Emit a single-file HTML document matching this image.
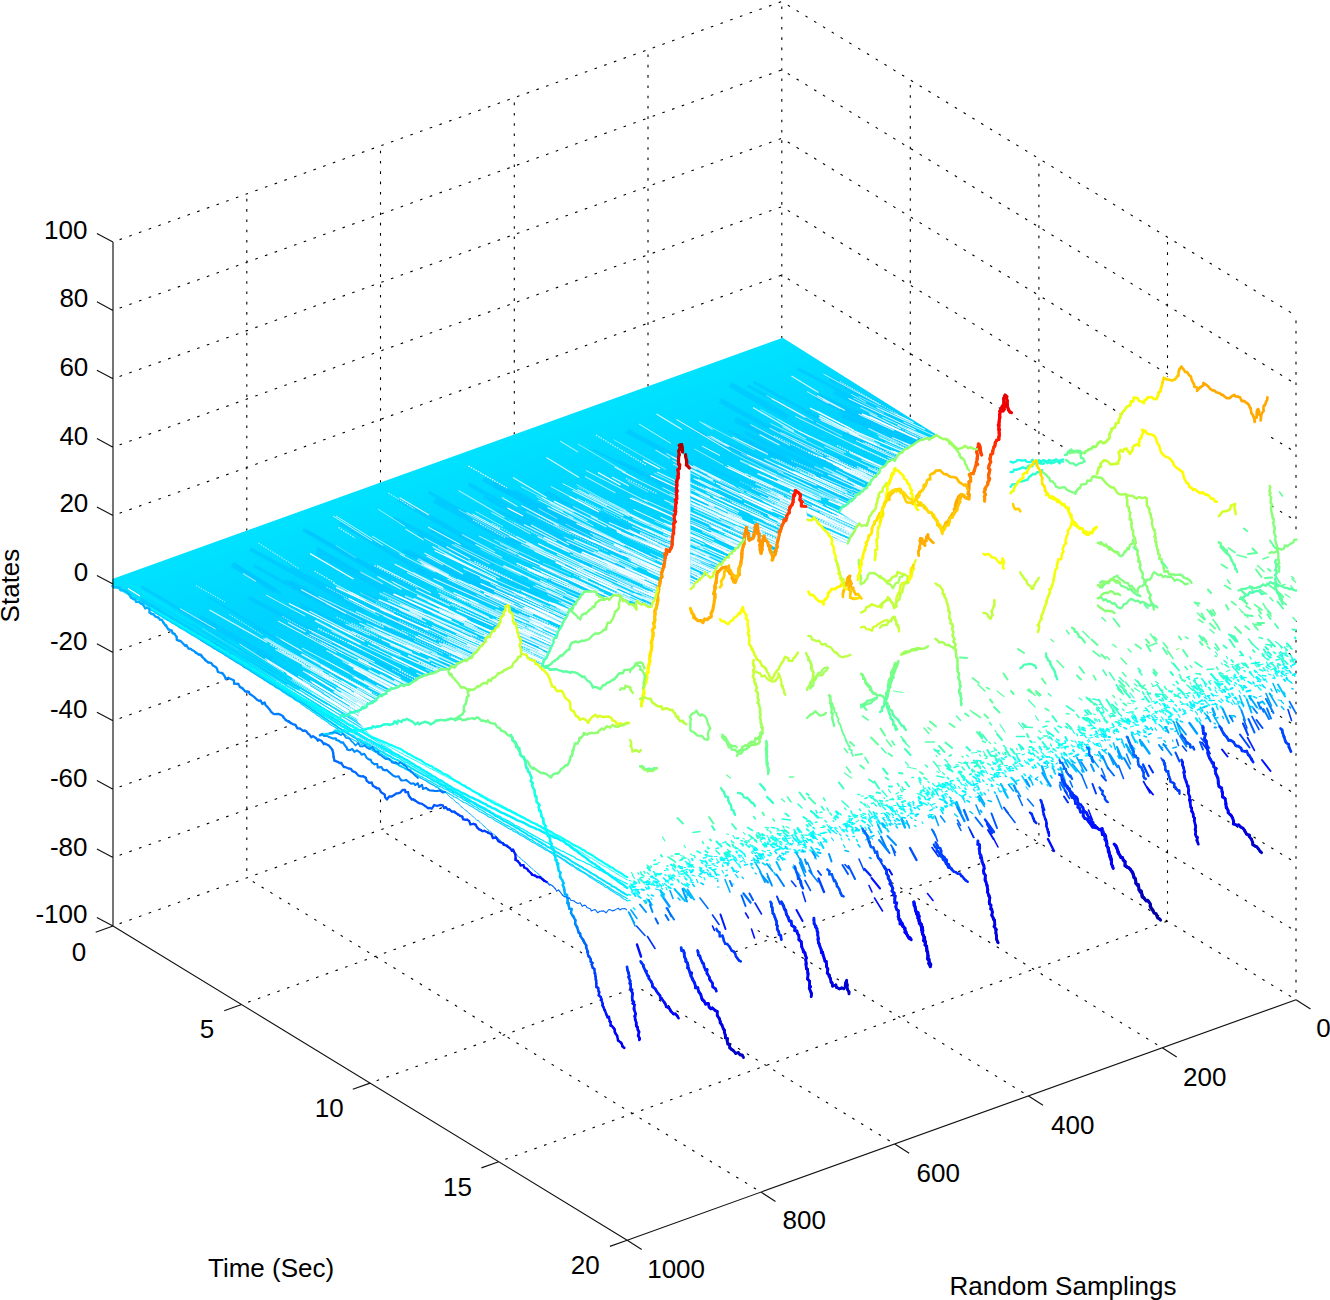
<!DOCTYPE html>
<html><head><meta charset="utf-8"><style>
html,body{margin:0;padding:0;background:#fff;}
svg{display:block;}
</style></head><body>
<svg width="1330" height="1300" viewBox="0 0 1330 1300">
<rect width="1330" height="1300" fill="#fff"/>
<path d="M113 926L781.8 685.5 M113 857.6L781.8 617.1 M113 789.2L781.8 548.7 M113 720.8L781.8 480.3 M113 652.4L781.8 411.9 M113 584L781.8 343.5 M113 515.6L781.8 275.1 M113 447.2L781.8 206.7 M113 378.8L781.8 138.3 M113 310.4L781.8 69.9 M113 242L781.8 1.5 M246.8 877.9L246.8 193.9 M380.5 829.8L380.5 145.8 M514.3 781.7L514.3 97.7 M648 733.6L648 49.6 M781.8 685.5L781.8 1.5 M781.8 685.5L1296 999.7 M781.8 617.1L1296 931.3 M781.8 548.7L1296 862.9 M781.8 480.3L1296 794.5 M781.8 411.9L1296 726.1 M781.8 343.5L1296 657.7 M781.8 275.1L1296 589.3 M781.8 206.7L1296 520.9 M781.8 138.3L1296 452.5 M781.8 69.9L1296 384.1 M781.8 1.5L1296 315.7 M910.3 764L910.3 80 M1038.9 842.6L1038.9 158.6 M1167.5 921.1L1167.5 237.1 M1296 999.7L1296 315.7 M241.6 1004.5L910.3 764 M370.1 1083.1L1038.9 842.6 M498.7 1161.7L1167.5 921.1 M246.8 877.9L761 1192.1 M380.5 829.8L894.7 1144 M514.3 781.7L1028.5 1095.9 M648 733.6L1162.2 1047.8" fill="none" stroke="#000" stroke-width="1.1" stroke-dasharray="2.6 7.7" stroke-dashoffset="-7"/>
<polygon points="112.3,579 782.7,337.8 937,435 946,439 957.7,449 965.4,447 977.9,443.5 981,447 990,455 994,445 998,439 1000,410 1004.8,395 1007.7,395 1011.5,412.7 1012,461 1040,459 1069,452 1090,448 1107,440 1118,421 1130,404 1147,396 1164,379 1181,367 1198,389 1222,393 1248,404 1258,408 1267.4,397 1270,480 1270,537 1300,537 1300,619 1296,621 1270,700 1240,745 1200,770 1167,778 1120,790 1060,812 1000,835 940,860 900,875 860,895 800,915 745,935 735,950 700,975 660,990 628,988 605,985 590,962 580,934 569,906 547,882 513,851 476,826 440,804 423,806 388,798 346,767 330,747 302,730 273,713 233,681 194,651 171,631 140,604 112.3,586" fill="#fff"/>
<defs><clipPath id="sc"><polygon points="112.3,579 782.7,337.8 937,435 919.7,441 903.1,451.2 893.9,459.5 884.6,465.1 875.4,476.2 866.2,487.2 856.9,494.6 851.4,500.2 845.8,503.9 838.5,511.3 852,520 858.8,524.2 852.3,536.2 847.7,543.6 835.4,540 823,527.7 813.8,518.5 807.7,520 805.8,506.5 796,490 788.5,512.3 782.7,525.8 778.8,535.4 775,554.6 773,560.4 769.2,545 763.5,537.3 761.5,554.6 759.6,539.2 756.7,523.8 753.8,539.2 750,541.2 746.2,527.7 744.2,535.4 744.2,539.2 734.6,550.8 715.4,568 690.4,587.3 690.4,468 686.5,464.2 685.6,454.6 682.7,454.6 681.7,444 679.8,445 678.8,468.1 676.9,487.3 675,516.2 673.1,537.3 671.2,548.8 666.3,550.8 663.5,566.2 660,583 656.2,596.9 652.3,604.6 646.2,606.2 638.5,600 633.8,609.2 627.7,604.6 620,597 613.8,595.4 603,597 595.4,592.3 587.7,590.8 580,596.9 570.8,609.2 561.5,624.6 553.8,640 544.6,660 541.5,664.6 530,660 521.5,652.3 516.9,624.6 507.7,604.6 500,621.5 494.7,629.5 480,646.3 469.5,659 448.4,669.5 435.8,671.6 406.3,684.2 385.3,692.6 360,709.5 357,721 375,740 392,750 394,759 112.3,585.5"/></clipPath><linearGradient id="sg" gradientUnits="userSpaceOnUse" x1="447" y1="458" x2="478" y2="545"><stop offset="0" stop-color="#00e2ff"/><stop offset="1" stop-color="#00d2ff"/></linearGradient></defs>
<polygon points="112.3,579 782.7,337.8 937,435 919.7,441 903.1,451.2 893.9,459.5 884.6,465.1 875.4,476.2 866.2,487.2 856.9,494.6 851.4,500.2 845.8,503.9 838.5,511.3 852,520 858.8,524.2 852.3,536.2 847.7,543.6 835.4,540 823,527.7 813.8,518.5 807.7,520 805.8,506.5 796,490 788.5,512.3 782.7,525.8 778.8,535.4 775,554.6 773,560.4 769.2,545 763.5,537.3 761.5,554.6 759.6,539.2 756.7,523.8 753.8,539.2 750,541.2 746.2,527.7 744.2,535.4 744.2,539.2 734.6,550.8 715.4,568 690.4,587.3 690.4,468 686.5,464.2 685.6,454.6 682.7,454.6 681.7,444 679.8,445 678.8,468.1 676.9,487.3 675,516.2 673.1,537.3 671.2,548.8 666.3,550.8 663.5,566.2 660,583 656.2,596.9 652.3,604.6 646.2,606.2 638.5,600 633.8,609.2 627.7,604.6 620,597 613.8,595.4 603,597 595.4,592.3 587.7,590.8 580,596.9 570.8,609.2 561.5,624.6 553.8,640 544.6,660 541.5,664.6 530,660 521.5,652.3 516.9,624.6 507.7,604.6 500,621.5 494.7,629.5 480,646.3 469.5,659 448.4,669.5 435.8,671.6 406.3,684.2 385.3,692.6 360,709.5 357,721 375,740 392,750 394,759 112.3,585.5" fill="url(#sg)"/>
<g fill="none" clip-path="url(#sc)"><path d="M402.5 550.5l103.5 47.5M393.5 518l87.5 45.5M525 691l132 60M327.5 638.5l118 57.5M534.5 708l83 36M468.5 484l100.5 56.5M836.5 457.5l107.5 49.5M470 617.5l106.5 44.5M447.5 627.5l126 53.5M336 606l63.5 29M303 529.5l77.5 45M418.5 534l119.5 61.5M744.5 432l42 22.5M363.5 594l60.5 27M367.5 602.5l69.5 30M673.5 600.5l92 39M250 549l113.5 61.5M832.5 553l72.5 32.5M860.5 412.5l133 59M1119.5 556.5l57 25.5M672 566l43 19M238 648.5l39.5 24.5M612 608.5l122 54M475 604l41.5 18.5M749.5 610.5l101 46.5M446 785.5l106 64.5M649 782l132.5 56M842 415.5l98 42M468 613l78 37M920.5 550l127.5 61M561.5 689l70 32M302 591l59.5 31.5M525.5 668.5l126 58.5M789 437l67 30.5M430 757l120 71M875 418.5l52 22.5M830 609l52 22M340 523l84.5 49.5M960 483.5l59.5 26M834 392l45 23M400 634l129 54.5M926 669l43.5 19M1146 594l78.5 34.5M618.5 461.5l121 57.5M580.5 770.5l96.5 44M489 810l76 48M900 492l57.5 24M753.5 437l61 29.5M639 632.5l82 38M947.5 598l85.5 37M248.5 597.5l80 42M850 529.5l46 21M1018.5 494l75 35.5M140.5 599.5l52 32M508.5 680l98.5 42.5M444.5 724l120 66M927.5 630.5l110 48M934 633l83 38M802 678l101.5 43M726 675l74 34.5M650 593.5l118.5 51M612 563.5l127 55M775 739l117 54.5M511.5 700l51.5 22.5M307.5 681l110 66.5M733.5 552.5l54.5 25M934 631l106 48.5M853.5 573.5l65.5 29M723 624.5l121 54.5M522 750l116.5 58.5M998.5 593.5l86.5 38M720.5 486.5l65 28.5M602.5 523l64 27.5M351 691.5l52.5 30M830.5 672l41.5 19.5M767 618.5l122.5 54" stroke="#00c6ff" stroke-width="4" stroke-opacity="0.7"/><path d="M208.5 597l77 46.5M701.5 529l95 40M547.5 594.5l50.5 23.5M254 626.5l54.5 30.5M186.5 628.5l47.5 29M711 469l91 40.5M742.5 423l51 27M430.5 558l71 34.5M592 780l95 45.5M869.5 634.5l49 23M356.5 559l90.5 44M468.5 755.5l63.5 34M593 449.5l109.5 56M744 487l97 41M688.5 479l127.5 57.5M537.5 609.5l68.5 28.5M611.5 620l77.5 34M804 717l122 57.5M670.5 546l62.5 28.5M564 692.5l130.5 56.5M420 558l130.5 60.5M239.5 659.5l69 44M974.5 583.5l45.5 19M1133.5 571l137 60M530 547l114.5 55M579 736.5l94.5 40M586.5 791l132.5 65.5M804.5 412l115 56M931 517l96 45.5M739.5 439l70 33.5M1113.5 602l52 22.5M207 640.5l106 68M523.5 604l78.5 37M1068.5 535l50.5 24M478.5 563l82.5 36M551 760.5l102 46" stroke="#00c6ff" stroke-width="2" stroke-opacity="0.7"/><path d="M797.5 368.5l120 62.5M548.5 556l117 54M719.5 581.5l124.5 58M828.5 385l78.5 42M285 580l44.5 25M845.5 675l118.5 56M546.5 579.5l125 59.5M955.5 531l55.5 24.5M483.5 496.5l49 27M980.5 554l66.5 29M854.5 536l116.5 51M798.5 712.5l134.5 64.5M553 758l133.5 64.5M466.5 631.5l53 25.5M692.5 429l93.5 46.5M302 631.5l43 23M381 663.5l125.5 64.5M254 565.5l57.5 32.5M749.5 480l89.5 38.5M712.5 537.5l75.5 32M1035.5 601.5l106 46.5M505 633.5l56.5 25M542 520l90.5 38.5M345 667.5l44.5 22.5M972.5 530l111 52M872.5 669l106 49M794.5 600l49 21M573.5 691l107 49M1060 630.5l85 37M324 710.5l79.5 48M798 460.5l131.5 57.5M671 506.5l45.5 21.5M634 759.5l137 61.5M290.5 567.5l72.5 37.5M651.5 616l44.5 21M998.5 528l71 30M821.5 537l60 29M766.5 451l61.5 29.5M949 663l55.5 24.5M721 524.5l77.5 34M843.5 433l112 53M984 582l100 44M317 548l42 24.5M389 690l106 56M669.5 682l60.5 26.5M753.5 382l66.5 36.5M771.5 599.5l62.5 27.5M364 605l98.5 45M264 669l100.5 59M609.5 630.5l103.5 44.5M937.5 441l59.5 27.5M917 659.5l49.5 22.5M394 685l114.5 62M443.5 709.5l91.5 47M428.5 492l96 54M662 691.5l56 26.5M728.5 430.5l87 45.5M503.5 652l72.5 30.5M607 781l105 51M696.5 431l90 46.5M1041 506.5l78.5 36.5M540.5 730.5l45.5 21.5M945.5 677.5l97 45M142 587l71 42M497 510.5l131 59.5M307 531l98.5 56M734.5 544.5l130.5 60.5M747.5 385.5l89 48.5M809.5 526l112.5 50.5M858 412.5l127 53.5M580 716l131.5 61M233.5 563.5l47.5 30M885.5 603.5l47.5 21.5M390 620.5l83 34.5M614.5 749.5l49.5 23.5M689.5 711l65.5 31M782 647.5l113 52M414 658l115.5 52.5M787.5 696.5l64.5 27.5M932.5 628l56.5 24.5M552.5 640.5l56.5 25M704.5 542l105 50M600 802l74.5 35.5M565.5 518.5l118.5 52.5M542 765l73 38M1024 522.5l65.5 28M929 649l116 54.5" stroke="#00c6ff" stroke-width="3" stroke-opacity="0.7"/><path d="M765.5 686.5l132 59.5M446 748l97.5 58M1038.5 531l90.5 41M520.5 798l109.5 65M1061 636.5l122.5 57.5M1063 580l87 40M446 732.5l123 68.5M516.5 520.5l117.5 52M933.5 454.5l79 37.5M290 582l53.5 29.5M545 492l40.5 23M850 692.5l82 39M666.5 634.5l89.5 40.5M641 613l86 41M442 662l132 56M977.5 665.5l73.5 34.5M515 678.5l91.5 42.5M514.5 732l103 46M677 588.5l120.5 56.5M199.5 617l72 41.5M608.5 566l87 40M482 586l123 52M627 431l107.5 57.5M697 760.5l53.5 24M282 687l121 76M957 657l110.5 50.5M537.5 534.5l64 31.5M519.5 613l107.5 46.5M853.5 410.5l74.5 36M689.5 759.5l101 44M825.5 699l58.5 27.5M679.5 695.5l49 21M652 642.5l105 49M992 476.5l62.5 29.5M829.5 378.5l83.5 45.5M1009 500l131 58M560.5 654.5l75.5 34M900 463.5l127.5 58.5M546 744.5l62.5 28.5M377.5 719l109 61M483.5 479l99 52.5M816 396.5l121 61M825.5 686.5l54.5 23.5M300.5 606l98.5 47.5M1032.5 568.5l111.5 47M289 623l43.5 23M731.5 679l92 40M845.5 460l63.5 30.5M854.5 587l135 61M232 564.5l42.5 26M999 595l128.5 54M486.5 790l112 67.5M662.5 510l51.5 22M548 710.5l90 38.5M494 764.5l103.5 58M406 551l121.5 57.5M983 635l82.5 37M498.5 546l109.5 52M585.5 669.5l50.5 22.5M513.5 491.5l93.5 49M843.5 415l107.5 47.5M398.5 499l77 44.5M592 511.5l134 59.5M720 400.5l116 63.5M722 442.5l126.5 58" stroke="#00c6ff" stroke-width="5" stroke-opacity="0.7"/><path d="M440.5 689l43 20.5M256 653l61.5 38M664.5 623.5l128.5 57.5M844.5 530l94.5 44M1087.5 610.5l66 30M316 552l101.5 55M514.5 729l105 46.5M494 484.5l131.5 69.5M438.5 745.5l79 43M883.5 495l74 33M1156.5 597.5l94.5 41M955 633.5l79 35M594 705.5l60.5 28M656.5 581l86.5 37M816 395l118.5 57M735 419.5l128 63M543 515l75.5 38M578.5 562l69.5 32M511 631.5l133 61M1078.5 591l110.5 53M434.5 500l83.5 45.5M447.5 583l41 19M754 524.5l69 30M521.5 506l66.5 34M431.5 529.5l62.5 34M748 443l135.5 61M475.5 767.5l40 23M416 569.5l102 43M600 698l77 34M730 384.5l58 33M873.5 624l78.5 35M368 715l53 32M467 571.5l62.5 29M666.5 644l104.5 46.5M591.5 724.5l75 32.5M800.5 554.5l113 50" stroke="#00c6ff" stroke-width="6" stroke-opacity="0.7"/><path d="M1048 713l162 73.5M1001.5 666.5l85 40.5M989 647.5l60 27.5M603 715.5l112 50.5M615.5 690l65.5 31M691 632.5l42.5 20M615.5 678l77 36.5M923 760.5l145 64.5M498 795l78 44.5M652.5 681.5l115.5 54.5M906.5 783l100.5 42.5M1098 558.5l34.5 15M318 628.5l44 21M860 501l49 21.5M1112 586.5l70.5 30M1035.5 749l131 59M648.5 628.5l36.5 17.5M497.5 663l53 23.5M453 683.5l30.5 14M1184.5 681.5l60 28.5M1016 592.5l112 52M771.5 720l53 24.5M657.5 774.5l88.5 40M1086.5 666.5l77 36M898 734.5l72 32.5M960 646.5l50 22.5M437 737.5l31.5 17M568 859.5l89.5 56.5M963 668l124 58M989.5 595.5l99 43.5M832 797l123 52.5M756 530l29 12.5M857 466.5l34.5 16.5M708 858l139.5 71.5M656 683.5l56.5 25M734 776l74.5 32.5M564.5 735l28 13M545 655.5l28 12.5M1117 584l119 50.5M1015 739l90 42.5M567.5 797l62.5 32M720 838.5l49 22.5M1088 694.5l116 55M624.5 706l47.5 21.5M1048 678.5l97.5 45M468.5 466l38.5 22M523 599l26 12.5M691.5 841l162.5 78M858 764.5l91 40M1023 585l39.5 18.5M854.5 596.5l56.5 27M731 671l125 55M439 756.5l88 50M976 698.5l117 50M978.5 595.5l122.5 58M694.5 686l29.5 14.5M837 445.5l36 17M585 537l47.5 22M834 529.5l48 21M808.5 452.5l54.5 23M853 772l68.5 30.5M398.5 756.5l79 46.5M767.5 682l49 22M1142 686.5l122 58M499.5 643l32.5 14.5M845.5 748.5l54 23M631.5 747l92 41M900 723.5l115 51M909 607.5l33 15M758 736.5l140.5 63M1245 627.5l73 31.5M270.5 644.5l69.5 38.5M373.5 687.5l44.5 25.5M418.5 662l22 10.5" stroke="#fff" stroke-width="1.2" stroke-dasharray="1.5 1.2"/><path d="M917 610l114 50M593.5 552l82.5 38M303 671l30.5 18.5M1038.5 559.5l89 41M930.5 574l55 24M726 586.5l35 16.5M837.5 462l29 12.5M754 730.5l127.5 60.5M1109 668l39.5 18M650.5 716.5l88 42M601.5 638l84 37M918 754.5l103 49.5M717 622.5l41 18.5M850 655l80.5 36.5M663.5 806.5l120 52M722 822l46.5 22M1092 553l54 23M605 759.5l43 18.5M606.5 695l71.5 33M926 784l57 26.5M1093.5 574l108.5 50.5M400 604l26.5 11M674.5 654.5l76.5 35M569.5 684.5l37.5 16M475 624l84.5 36.5M802 540l54 26M719 864.5l117.5 59.5M594 728l65.5 30.5M735.5 526l59 25.5M541.5 718l43 20M963 589.5l32.5 14.5M722.5 616.5l91.5 38.5M892 515.5l93 41.5M435 604.5l34.5 16.5M1090.5 661l59.5 25.5M657 472l53 25M722.5 636l68.5 29.5M856.5 804l147.5 68M789.5 744.5l54 25.5M371 702l85.5 49M263.5 638.5l65 37.5M724.5 552l94.5 40.5M432.5 546.5l40 22M759.5 850.5l68 32.5M645.5 807l106 47.5M901 654.5l51 24M622.5 646l82 35.5M1024 658l134 64M971.5 481l56 24.5M988.5 558l106 49.5M622 670l83.5 37.5M878.5 788l158 72.5M326.5 650.5l74.5 39M695 581.5l33 14.5M1101 542.5l44 20.5M955 453.5l69 29.5M449 757.5l56.5 33.5M1030.5 727.5l62.5 28.5M758.5 648.5l53.5 24M1025.5 625.5l72 31.5M826.5 519l89.5 40M827.5 721l54.5 26M579 584l44 18.5M477 677l46 20M556 676.5l63 27.5M566.5 541l49 22M431.5 627l46.5 21M706.5 649.5l115 53M1082.5 696.5l75.5 34M573 598.5l33.5 16M1004.5 627l129.5 60.5M919 508l42 19M763.5 600.5l74.5 32M755.5 817l52.5 22.5M432 620l42.5 19.5M1140.5 641.5l94 40.5M724.5 846.5l147.5 62M887.5 538.5l103.5 49.5M495.5 609.5l31 13.5M936.5 693l124.5 55M710.5 436l18.5 10.5M1228.5 664l136.5 59M802.5 639l103 45M668.5 776l113.5 51M852 717l48.5 21M573 658.5l26 12M970.5 737.5l153.5 69M1126.5 602l35.5 16M1095.5 620.5l112 51M592.5 761l62.5 29.5M884.5 636l36.5 17.5M650.5 865.5l83 47.5M399 609.5l27 12.5M692 697.5l105.5 49.5M903 543.5l40.5 17.5M759.5 785l86.5 37.5M456.5 723.5l32.5 17M595.5 876.5l48 29M1044 562.5l108.5 51.5M1058.5 644l62 29.5M940.5 579.5l60 25.5M657.5 832.5l125.5 64M507.5 623.5l42 20.5M903.5 485l68.5 32.5M447 742.5l94.5 50.5M838 543l76.5 36.5M863 675l95.5 44M632 663.5l101.5 44M953.5 469l95.5 42.5M816 700.5l67.5 31.5M516 713l49.5 23M671.5 456.5l49.5 24M798.5 776.5l127 58.5M426 628l80 38M725.5 542l80 37.5M680 599l31.5 14.5M672 663.5l37.5 16.5M808 546l83 38M722 572.5l54 25M494 665.5l64.5 27M963.5 515l33 15.5M1058.5 700.5l44 20.5M663 640l102 47.5M1009.5 580l70.5 33M644 563l70.5 30.5M708.5 505.5l23 10.5M860 754.5l89.5 42.5M1103.5 722.5l106 49.5M911.5 477l37.5 17M934 703l86 37M980.5 534l59 25M877 613l47.5 20M1183 606.5l147.5 65.5M465 737l51 26.5M749.5 632.5l76 36M704 678.5l94.5 42.5M1010 529l85.5 38.5M943 443l86 40.5M693.5 478.5l18.5 9.5M546.5 457.5l32.5 20M533.5 758l68 32M719 578l28 13M732.5 813.5l155 69M500 683.5l92 42M583 567.5l54.5 25M839 467.5l50 21.5M938.5 723.5l82 35.5M1054.5 698l64 29M359.5 623l79 35.5M820.5 743l58 26M806.5 594.5l106 48M863 671l38.5 18M707 710.5l118.5 51.5M512 738.5l60 28M475 632l80 35.5M897 641.5l99.5 47M1052 591.5l111 53M1200.5 617l147.5 66M648.5 591l33 14M1157 701.5l132 59M1196.5 640l99.5 46M862 683l97.5 43M881.5 641l30.5 13.5M864.5 572.5l55 24.5M1160.5 660l132.5 61.5M438 669.5l76 36M1055 618.5l96 42M956 545.5l71 30.5M872.5 605.5l106.5 45M764.5 459l41 19.5M681 461l15.5 8.5M1063.5 532.5l84.5 40.5M773 540l72.5 32.5M982 748l123 52M931.5 690l111 51M473.5 786l46 27.5M936.5 516.5l82.5 39.5M892.5 603l59 25.5M843.5 817.5l44 18.5M532.5 674.5l81.5 36M721 521.5l60 26M409 753l107 64.5M759.5 641.5l44 19.5M1133 712l85.5 41M1070.5 541l87 40M1052.5 607.5l137 60.5M1211 628l141.5 63M388 600l42.5 19.5M818 752l144.5 68.5M451 694.5l89.5 42M837.5 673.5l103 48.5M689.5 809l82.5 38.5M864.5 796l121 57.5M433 622l42.5 19M426 744l45 27.5M1025.5 682.5l62.5 29.5M645 836.5l149.5 79M888.5 588.5l73.5 33.5M487.5 720l100.5 45.5M617.5 582.5l81.5 38M998 670l35.5 16M686 625l40 19M829.5 567.5l83.5 39.5M784 653l75 33M680.5 752l37 16M1160.5 684.5l43.5 20M940.5 475l68 31.5M806.5 596.5l62 29.5M796.5 505.5l40 17.5M886.5 633.5l72.5 34M748.5 642l79.5 36M1062 651l137.5 63.5M824 561.5l42 18.5M1115 688l57 25M847 798l59.5 28M624.5 823.5l105.5 51M869.5 597.5l70 31.5M878.5 436.5l64 29.5M683.5 619l56.5 27M466.5 690l61 27.5M501.5 650.5l69.5 29.5M522.5 608l25.5 12M1116.5 611l75.5 35.5M569.5 816.5l69.5 39M486.5 810.5l45.5 27.5M524 524.5l32.5 16.5M450 719l49.5 26.5M984 687.5l116 52M653 687l87.5 37M840.5 588l113.5 54M623.5 731l35.5 15.5M897.5 425l31.5 15M516.5 536.5l27 14M979.5 608.5l35 15.5M1183.5 629.5l150.5 68M1041 570l62.5 27.5M910 762l128 57M309.5 611l46.5 24M869.5 413.5l30.5 15M849 808l49.5 23.5M826.5 816.5l61 28M901 788.5l98 44.5M509.5 536l70.5 34.5M663.5 553l61 29M134 598.5l46 29M547.5 507.5l59 28.5M494 717.5l88 41M1088 546.5l67 29M569.5 682l59 26.5M819 645l91 39M1097 597l98.5 43M883 607.5l98 44M802 778l130 61.5M1013 636.5l52.5 23.5M503 752l66 35.5M909.5 736l45.5 21M653.5 672.5l65.5 31.5M607 563.5l47 22M367 691.5l36 19.5M677 612l54.5 24M281.5 689l26 16M901.5 498l50.5 22M948.5 635l51.5 24.5M705.5 865.5l80.5 42.5M972.5 637l104 49M911 534.5l26.5 12.5M1119 677l78.5 35.5M527.5 632l93 39.5M980 650l36.5 15.5M884 703l62.5 27M332.5 641.5l68 36.5M456 634l32.5 14M376.5 685l21.5 11.5M658.5 627l59 25.5M938 518l27 12.5M1100.5 662l47.5 22.5M874.5 721.5l50.5 22M265 658.5l45 27.5M681.5 843.5l48.5 24M488 791.5l84 51M945 538.5l79.5 35.5M951 599.5l110 51M705 556l29.5 14M748 583l94 40M440 703l27 14M832.5 582.5l33 14M804 568l90 42.5M833.5 603l65.5 31M1075 622.5l42.5 20.5M458.5 716.5l66 33M723.5 775l56.5 25M515.5 757l92.5 45.5M1041 718.5l72 34M882.5 762l61.5 28.5M819 790l122.5 58M928 495.5l43 20M1191 653.5l150 66M630 754l106 47.5M462 726l38 20M990 724l133.5 62.5M991 690l135 57M828 475l69.5 31.5M599.5 742.5l123.5 52M706 834.5l131.5 59M417.5 682.5l67 34.5M781 756l151 64M940 636l98.5 44.5M1031 733l47.5 22M777.5 780.5l39.5 19M822 538.5l101.5 44.5M643 787l140 62M389 754.5l98.5 58.5M1098.5 580l82 34.5M532 710l72.5 34M889 464.5l29 12M755.5 483.5l28.5 13M648.5 622l35 15M809.5 693l99.5 42M561.5 567l26.5 12.5M1033 752l68.5 33M989.5 570l86 38.5M737.5 804l72 31.5M520 689l38 17M409.5 611l54 24M854 485.5l47.5 22M632 671.5l83 39M1053 597l71 30M1127.5 601l101 47M685.5 553.5l25 10.5M1027 602l102.5 44.5M724.5 822.5l137.5 59.5M406.5 711l39 21.5M974 753l153.5 68.5M503 821.5l63.5 38M591 874.5l105 62.5M876.5 407.5l48.5 22M998 714l145.5 62M900 581l80.5 37.5M687.5 498l75 34.5M964 638.5l79.5 35M1002.5 720.5l133 58M377.5 576.5l24 13M647 570.5l41 19M1093 575.5l54.5 24.5M1127.5 593l70.5 32M754.5 523l21 10M662.5 633l85.5 39M915.5 511l69 31M1051.5 593l128 56.5M783.5 575l100.5 47.5M760.5 647l46.5 20.5M1013 675l51 22.5M440.5 784.5l60 36.5M566.5 703.5l83.5 39M672.5 575.5l85 37M732 809l58 25M755 770.5l43.5 18.5M788 689.5l68.5 31M635 639.5l92 41.5M683.5 605.5l94 43.5M612 477l17 9M794.5 763l75.5 35.5M522.5 756l90 45M684 806l86.5 37M682 773l33.5 15M835.5 672.5l107 46.5M869.5 708l46 19.5M794 705l60.5 26.5M1048 632.5l129.5 60M753 762l61 28M486 747l74.5 40.5M1128 581l87.5 41M921 652l99 46M898 798l131.5 60.5M901 646.5l92.5 40.5M731 828.5l158.5 69.5M646.5 720l128 54.5M1090 643.5l135.5 60M461.5 718l68 33.5M416 731.5l72 43M599 769l73.5 32M1065.5 595.5l88.5 39M678 600l63.5 27.5M759.5 434.5l20 10.5M901 695.5l61.5 27M875 624l42.5 19.5M1158 643l55.5 25.5M1009 653.5l109 51.5M1066.5 598.5l117.5 53M898.5 453.5l65 31M588.5 634.5l95 44M982.5 540.5l87 39M678.5 691.5l86.5 39M684 739.5l74.5 33.5M876.5 502.5l36.5 17M880.5 702l106 47.5M573 747l98.5 44.5M763.5 520.5l34.5 14.5M943.5 479.5l37 17.5M601 603l44 20M826.5 796l50.5 22M643.5 542l52.5 22.5M737 584l64 27M770.5 806l158 68M682.5 853.5l75 38M983.5 655l130.5 55.5M703 726.5l61.5 28M794 548.5l25.5 12M767 755l63 29.5M541 690.5l51 24.5M646.5 635l25 10.5M845 466l59 28M609 847.5l86 49M750.5 514l75 34.5M674 530l30.5 14.5M1238 628l40.5 18M368.5 687l28 14.5M747 455l69.5 30.5M412 754.5l30.5 19M496.5 753.5l86.5 45M787.5 700.5l78.5 33.5M1210.5 619l100.5 43.5M972.5 509.5l60.5 29M458 666l69.5 30M753 407.5l41 24M897 716.5l66.5 28M1118.5 675.5l46.5 22M473.5 774l29 17M1039.5 666l52 24.5M571.5 763l126 57M1227.5 674.5l81 37.5M664 523l62.5 26.5M789 757.5l117 49.5M1185 654l45.5 22M682.5 479.5l38 17.5M791.5 501.5l86 39M509 826.5l64.5 40M725 577l92 43M554 612l59 25M996 597l47 22.5M765.5 663.5l113.5 54M376 720.5l30 18.5M659.5 743.5l86 38.5M543 732.5l33.5 14M780.5 523.5l48 22M612.5 740l93 44M1110.5 654l135 58.5M726 810.5l74.5 35.5M853 524.5l61.5 28M791.5 663l114.5 50M611 569l35.5 15M931.5 578.5l46 20.5M630 763.5l81.5 35M1003 740l51 22M941.5 473.5l39 18M945 659l88.5 37.5M1120 586.5l122.5 52.5M724.5 534l68 31.5M827 630l48 21.5M598 552l21 9M838 503.5l47.5 22M891 450.5l36 16.5M920.5 647.5l111 49M788.5 501.5l47.5 20M1143.5 594l142 61.5M1022 723.5l161 68.5M881.5 753l154.5 73M517 640l98 44.5M628.5 521.5l50.5 22.5M301 589.5l45 24M725 781l112.5 50.5M572.5 744.5l47.5 21.5M910 656l65 27.5M854 623.5l52.5 23M749 465l72 33M746.5 813.5l114 51.5M834 817.5l158.5 73M940 591l51.5 23.5M828.5 783l101 47.5M592.5 708l87.5 42M1134.5 593l44 19.5M511.5 799l111 64M658.5 632l51.5 23M793.5 812l147.5 67M499 625.5l52.5 22.5M902 499.5l83.5 35.5M434.5 760.5l85 51M654.5 629l43 20.5M891.5 545.5l32 15M356 611.5l35.5 16.5M462 716l59 30M944.5 767l56.5 26M858 657.5l125.5 59.5M645.5 567l63 28.5M414 598.5l51 22.5M539.5 804l120.5 67M1030.5 633.5l129 59M606 660l67 29.5M642.5 698.5l35.5 15M933.5 537l77.5 33M978.5 501l25.5 11.5M702 783.5l53 22.5M770 773l114 50M803 739.5l38.5 17.5M751 477l53 23.5M638 535l68.5 33M817 395.5l28 15M821.5 530.5l89 40M920.5 558.5l41 18.5M1278.5 654.5l49.5 23M724.5 692l73 32.5M910 785l101 47.5M522 746.5l76.5 39M569.5 531l53 24M653.5 717.5l92 43.5M710.5 743l56.5 24M774 745.5l120.5 51.5M1214.5 658.5l119.5 54M930.5 615l103 46M878.5 781l72 32M649.5 644l89 37.5M598 733l111 50M868 802l141.5 65M1013.5 691.5l62 28.5M413 721l96.5 55.5M688.5 655.5l66.5 31.5M1018.5 703.5l124 57M1024.5 586l98 46M487.5 807l96.5 58M1053 726.5l115.5 52M630.5 637.5l80 37.5M613.5 713l33.5 16M550.5 639l91.5 42.5M1127.5 679.5l122 52M974.5 720.5l80.5 34.5M357 688l73 39M1027 620l139.5 62M550.5 831l131.5 75.5M538 755.5l63.5 33M790.5 767.5l153.5 66M994 492.5l91.5 43M753.5 614.5l70.5 33M896 593l101 45M656.5 414l25.5 15.5M662 866l93.5 52M833 756l98.5 42M664.5 500l20.5 9.5M416.5 673l27 12.5M783.5 744.5l65.5 27.5M1128 710l80.5 34.5M1007 686.5l132.5 59M915 659l78 33M377 748l41.5 25M1179 599l137 64M843 588.5l102.5 45M568 758l68 30M275.5 649.5l75.5 41.5M799 494.5l24 10.5M433.5 578.5l65.5 29M1034 567.5l78.5 37.5M599 758l75.5 34.5M819 725l44 20.5M849.5 452l33 14.5M827.5 577.5l62 27M1074 734.5l60.5 26M1151.5 596.5l104 44M584.5 644.5l100 48M872 620.5l110 50.5M722.5 527l22.5 10M974.5 618l55.5 25M893 565l73.5 34.5M1124 576l116 52M919.5 586.5l78.5 37M645.5 787.5l95.5 42M831.5 742l35.5 16.5M771.5 398.5l34 19M907 534l40 18.5M726 735l68.5 31M572.5 490.5l51 25.5M755 736.5l112 51.5M1162 581l98 45.5M758 834.5l152 70.5M628.5 692l34 16M639 840.5l149.5 80M776.5 654.5l113 53.5M1121 582.5l86 37M966.5 747.5l122.5 58.5M682 663.5l69 32M724.5 657.5l114 53.5M507 817.5l53 32M709.5 525.5l49.5 23M549 843l45 27.5M682.5 555l39 18M791.5 376l27 16.5M858 468.5l35 16M421.5 714.5l53 29.5M424 565l31.5 16M797 541l44 21.5M701 871l128 63M519 761l46.5 24M728.5 660l42 20M1077.5 547l123.5 53M636.5 880l92.5 52.5M856 782.5l81 39M1061.5 644l107 48M554 501l52.5 26M988.5 720l91 40M784.5 621l45 19.5M668.5 665.5l44 19M1173 596l136 62.5M578 760.5l60.5 27.5M590 706l83 39.5M1073.5 655l148 63M571 718l69 33M1206 674.5l104 48M771.5 788l151 71M863 552.5l29.5 13.5M785 647.5l51 22.5M418 699l58 31.5M877 739.5l52 22M1166 692l143.5 60.5M738 539.5l24.5 10.5M949 771l56.5 27M685.5 785.5l93 42.5M612.5 611.5l32.5 15.5M416 589.5l34 16.5M941.5 450.5l26 11.5M509.5 808.5l72.5 42M1002.5 740l130.5 56M987.5 703l133.5 56.5M922 671l70 31.5M561.5 602l31.5 13.5M1085.5 721l119 52M1083 716l67 30M896.5 757l109 51M773 837.5l71 31M992 582.5l117 55M826.5 457l50 23M603.5 687.5l95 44M668.5 721l131.5 55M725 639l40 18M843 558.5l53 25M603.5 560l66.5 30M438.5 593l50.5 24.5M805 778.5l45.5 20.5M986 697l134.5 62M1080 673l60.5 26M840.5 599l96.5 42M336 707l45.5 27M892 437.5l25.5 10.5M900.5 542l60.5 27M568 685l66.5 32M617 592.5l81 35.5M900 775l128 54M1125.5 620l61.5 29.5M858.5 414l35.5 16.5M696.5 800l112.5 54M864 794l167.5 74.5M470.5 675l53 25M999.5 650l114.5 53M532.5 789.5l122 69.5M674.5 498.5l45.5 20M805.5 712l66 31.5M935 523.5l78.5 37M774.5 804.5l97.5 46M1045.5 707l95.5 41.5M1072 652.5l68.5 30M565.5 605.5l71 33.5M993.5 619.5l46.5 20.5M667 859l140 70M614 653l33.5 15.5M576 761.5l59.5 26M920 519.5l57 25.5M1016.5 696l144 68M503 566l52.5 23.5M892 656l70.5 30.5M689 493l37 17M394.5 564l49 24.5M823 823l99 47M209.5 610l57.5 32.5M962 509.5l66.5 29.5M1067 673l70 32M1122.5 574.5l54 24.5M1062.5 680l143.5 65.5M888 671.5l40.5 17.5M1108 717l69 32.5M819.5 568.5l101 44M526 543l57.5 26M732.5 835.5l84.5 39M717 515.5l71 30.5M1081.5 640l148 66M1206.5 623.5l78 34M551.5 580.5l70 30M671 717l72 33M619 553l26.5 11M720.5 486.5l52.5 25.5M610.5 554.5l28 12.5M461.5 666l64.5 28.5M707.5 608l95.5 44.5M845 494l46 21.5M848 589l100.5 46M973 734.5l154.5 68.5M794.5 754.5l81 36.5M422.5 681l34.5 17M1223.5 658l81 35.5M888 535.5l40.5 18M1164 638.5l123.5 57M1124 554.5l62.5 28M598 682.5l67.5 29.5M424.5 553l38.5 21M815 617.5l111.5 52.5M592.5 701.5l59 26.5M732.5 437l35.5 17.5M566 723l85 40M620.5 729l35.5 16M1208.5 669l76.5 33M624.5 850l114.5 67M759 765.5l71.5 34M1138 675l161.5 75.5M823 399.5l17.5 9M850.5 751l114 53.5M909.5 767.5l147.5 63M591 516.5l30 15M1127 572.5l92.5 40M773.5 613.5l40 19M525 682l39 18.5M660 879l106.5 60.5M579.5 861.5l57 36M401.5 690l74 39M840 551l104.5 44.5M792.5 510l79 37M454 670l76.5 33.5M928 716l104.5 47M623.5 703l74 34M1074 522l52 23M547 643l73 34M763 595l102.5 48M443 643.5l61.5 28M1041 678l34.5 16M425 677l53 24.5M638 851l62 32M666 635.5l85.5 41M745 588l79 34.5M710.5 704l82.5 36M632 752l45 21.5M947 518l94.5 40.5M707 768.5l76.5 36M1163.5 695l97 43.5M733.5 796l135.5 61.5M595.5 842.5l83 48.5M605 606.5l88.5 41.5M679.5 625l95.5 41.5M688 810l152 69M712 690.5l107 46.5M874.5 758l155.5 73.5M423.5 698l51.5 25M474.5 768.5l56.5 31M1181 603.5l69.5 32.5M844.5 588.5l30 14.5M966.5 582l91.5 38.5M1155.5 632l106.5 48M877.5 608.5l101.5 49M1151 635l120 54M684.5 548.5l39.5 17.5M676 674l107.5 47M575.5 723l48.5 20.5M648 789.5l53 25M965 707l59.5 27.5M1137 653l61.5 29M944.5 465.5l29.5 13M1029.5 665l113 51.5M819.5 587l62 28.5M288 622.5l17.5 9.5M1277 656l114.5 52M609 522.5l77 33.5M817 411l36.5 19.5M466 792.5l64.5 41M901.5 579l113 53.5M628 617l80.5 34M895 493.5l86.5 37.5M820.5 420l27 12.5M1076.5 607l115 53M983 518.5l93 41M518.5 555.5l68.5 30M802.5 731l100 44M326.5 706l38.5 23.5M703 840.5l40 17.5M447.5 636.5l89.5 42M521.5 505.5l37 20M593 705l75.5 35M620 572l36 17M533.5 623l51 23M1114.5 616.5l47.5 22M506 712.5l91.5 41.5M933 439l26.5 12M955 498l53.5 25M1055.5 672.5l148.5 62.5M371.5 643l48 21M746 691l85 40.5M459.5 756.5l73 42M902 442l19.5 9M653.5 600l98 42M953.5 763l76 34.5M728 513.5l78.5 36.5M354 717.5l57.5 36M1022 675.5l54 24.5M524 764.5l81 39.5M621 859l54.5 31.5M919 516l87 40.5M599.5 712.5l111.5 52M1052.5 569l113.5 48M615.5 726l87 37.5M975.5 752l131 56.5M908.5 545.5l37 15.5M693.5 722.5l69.5 32.5M749.5 714l90.5 41.5M578.5 695.5l43 20.5M551 717l86.5 39M778.5 798l132 59.5M795.5 675l32 13.5M1061.5 515.5l54.5 24M1111 697l157.5 72.5M537.5 625l35.5 17M1021.5 742l85 38.5M1065.5 625.5l41 17M961.5 619l53.5 25.5M943.5 546l112 51M604 718.5l43 19.5M992.5 616l56 25.5M446.5 546.5l23.5 12.5M1046 638.5l57.5 25M880.5 644.5l117.5 55.5M916.5 485.5l33 14.5M816 733l124 59.5M843.5 552l101 47M1219.5 658l154 70M513 823.5l75.5 47M399.5 497.5l29.5 17.5M1167.5 650l104 50M534.5 551l19.5 9M493.5 697l59 26.5M567 747l35 16M686.5 514l36 16M349.5 706l89 53M462 748.5l115.5 63M1040 625.5l126.5 57.5M754.5 572l89.5 38M1123 554l60.5 26M1110.5 561l98 42.5M707 775l136.5 62.5M967.5 676l50 23.5M620.5 658.5l77.5 36.5M897 508l89 39.5M1158 612l62.5 29M680 810.5l69.5 31M934 605.5l50.5 24M747 544.5l53.5 23M744 694l50.5 23M447.5 579l62 29M695 491l44 21M766 761.5l140.5 61M562.5 761l86.5 38.5M585 787l102.5 53.5M767 665l44.5 19M600.5 785l75 34M643 816l102.5 49.5M544.5 849l126.5 79M1019.5 530.5l105.5 50M1113.5 584.5l53 24M1057.5 651.5l74 33M629.5 674l54.5 24.5M457.5 579.5l57 24.5M1224 639.5l162 69.5M1111.5 704l78.5 33.5M1065.5 586.5l61 28.5M879.5 516.5l61.5 29M1149.5 662l92 43M828 661l35 15M1215.5 657l77.5 34.5M682 666.5l101.5 46M474 639.5l38 18M827 735.5l70.5 32.5M887 570.5l83 35.5M537.5 691.5l73.5 31.5M874 487.5l31 13M542 497.5l45.5 23.5M602 640.5l61.5 27.5M718 612.5l43 18.5M848.5 631l36.5 17M522 652l53 23.5M747.5 604.5l56 23.5M466.5 721.5l79.5 40.5M557 858.5l75.5 48M1218 660.5l83.5 39.5M821 647.5l82 36M826.5 787l61 25.5M955.5 693.5l122.5 56M1028 619l57.5 26.5M954.5 559l84.5 36.5M1096 724l134 63.5M557 554.5l38.5 18M682.5 668.5l83 36.5M902 795l89 41M748.5 804.5l124 56.5M597.5 591.5l52.5 24.5M562 697l86.5 39M498.5 803l122.5 74.5M593.5 623l48 22M599 587l54 22.5M899.5 478l43 19M513 477.5l33.5 20M948 586.5l98.5 42.5M852.5 636.5l89 39.5M763.5 576l79.5 34.5M875.5 680l115.5 50M914 552l88.5 38.5M786.5 528.5l84.5 37.5M638.5 891l159 99M657 747.5l123.5 57.5M503.5 631l67.5 28.5M531 525l38 20M647.5 627.5l56.5 25.5M652 768.5l138 58.5M537.5 536.5l32.5 16M530 675.5l89.5 41M753 580.5l74.5 31.5M658.5 644l83.5 38M635 623l27.5 12M579.5 713.5l38 17M628.5 529.5l23.5 11.5M692.5 647.5l64 27.5M913 583.5l81.5 37.5M787 817l127.5 60.5M942.5 455.5l35 15.5M1179 672.5l99 45M1000 520.5l47 22M651 603.5l31.5 13.5M616.5 784.5l68.5 32M757 788.5l79 33.5M822.5 764.5l125.5 56M577.5 489.5l52 27" stroke="#fff" stroke-width="1.2" stroke-opacity="0.8"/><path d="M479.5 673.5l67.5 32M969.5 735l38 17M542 648l53 24.5M1006.5 606.5l67 28.5M950 745l68.5 30.5M579.5 645l28 13M672.5 561.5l27 12M428.5 770l52.5 33M1096 618.5l104.5 46.5M754.5 558.5l27 12M551.5 714l106.5 50.5M720 692l64.5 28.5M943 657l35.5 16.5M598.5 679l77 34M1242.5 675l109.5 48M1001 566l36 15.5M738.5 821l111.5 53.5M954 754l161 75.5M980.5 719l96.5 46M833 730.5l75 32M777.5 495.5l47 23M1043 609.5l103.5 48.5M716 483l56 26M511 823.5l123 78.5M1073.5 522l43.5 20.5M794.5 765l105 48.5M331.5 625l33 16.5M598 472.5l22.5 12.5M733 590.5l73.5 32.5M495.5 700l39 18M1139.5 618.5l120.5 52M875.5 692l50 23.5M658 854l144.5 76.5M961.5 769l106 47.5M641 562.5l80.5 35.5M790.5 567.5l42 19.5M770.5 807.5l145.5 69.5M793 642.5l39.5 18.5M1146 709.5l43 20M1126 667.5l108 47.5M787.5 499.5l39 18M989 719l67.5 31M825 759l102.5 45M1147 578.5l123 55M402 746l40.5 25.5M616.5 893.5l130.5 82M553 636.5l77.5 36.5M697 575.5l33 16M553 683.5l51.5 23.5M1288.5 660l73.5 33.5M722 633l38 16M989 492.5l101.5 46.5M1004.5 621l43 20.5M643 460l17 9M715 770.5l103 48M1084 560l71.5 32.5M1013.5 601.5l113.5 50.5M812.5 582.5l108.5 47.5M565.5 593.5l36 16M873 656l88.5 42.5M558 638l100 48M480 698l72.5 33.5M506 773l101.5 58M771 813l74 33.5M647.5 578l54.5 26.5M453.5 592.5l25 11M652.5 593l45.5 20M567 815.5l62 36M1158.5 576.5l51 23M728 467.5l21 10M631 744l57.5 27.5M1219 628.5l81.5 36.5M865.5 757l96 40.5M562 690.5l76 33.5M334.5 708.5l65 39.5M819.5 415.5l39 20M948.5 766.5l91.5 40M1246 669.5l113.5 48M789 808l107 45.5M1010.5 677.5l86.5 36.5M830 767.5l120.5 54.5M563 832.5l41.5 23.5M460.5 762.5l91.5 55M543 820.5l74 41.5M608.5 752.5l41 18.5M1000.5 588l66.5 30.5M516.5 563l26.5 12.5M378 633.5l78.5 33.5M1022.5 661l64 29.5M765 791.5l145 64.5M512 591l31 15M706 488.5l18.5 9M971 711.5l96.5 45.5M904.5 774.5l159.5 68M660 658l52.5 23.5M719.5 813.5l59.5 27M634.5 846.5l118.5 65.5M1140 565.5l52 24.5M590.5 650.5l73.5 34.5M607 792l68.5 31M778.5 645.5l49 23.5M1152.5 572l54 25.5M960.5 496.5l61 26.5M289 603.5l63.5 31.5M697.5 840.5l76 33.5M1008 493l72.5 34M1150 659l158.5 75.5M672.5 873l78.5 44M743 498l26.5 12.5M768 497.5l38.5 17M989 501.5l92.5 41.5M1048.5 682.5l145 61.5M555.5 712l96.5 43M861 726l52 24.5M890.5 594l100 46M587 676l60.5 29.5M1141 570.5l119.5 57M811 511.5l70 32M689.5 606.5l51 22.5M983 636.5l77.5 34.5M415.5 636.5l63 29M523.5 775.5l124 65.5M544.5 695l49.5 22.5M780 500l41.5 18M883 730l56.5 24.5M1168 677l129.5 57M698 589l39.5 17.5M522.5 651.5l38.5 16.5M940 680.5l141 67M719.5 743l118 53.5M852 430l68.5 29M1060 538l109 52M616 650.5l92 43M728 765.5l69.5 30.5M769.5 517l60 27M608 733l122.5 58M1176 621l66 30M1002.5 489.5l92 40M940.5 597.5l92.5 43.5M680.5 576.5l69.5 31.5M900 522.5l26 12M547.5 792.5l135 70.5M601.5 797.5l38 19.5M784 652.5l70 30M634 533l24 10.5M892.5 511.5l68 32M1087.5 592l115.5 49M550.5 744.5l77.5 35M922.5 680l69 30M810 408l43.5 22M1035.5 507.5l48.5 20.5M511.5 637l31 14M1033.5 562l58.5 25.5M681.5 581l41 19M1105 567l117.5 52M920.5 509.5l84 36M521.5 591l75.5 33M939.5 634.5l66.5 31.5M746.5 823l115.5 51M1104.5 709.5l99 44M798 560.5l31.5 14M898.5 773.5l47.5 23M829 581.5l110.5 52M1062.5 703l51.5 25M751.5 501.5l57.5 25.5M479 792.5l32 20M900 590l70.5 33.5M713 743l43 19M588 591l58 25.5M477 645.5l50.5 24M489 757l31.5 17.5M984.5 468.5l64.5 28M979.5 577.5l55.5 25M616.5 636l82.5 35M1023 698l151.5 65M671 684l115 51M447.5 599l54 25.5M639.5 778.5l97 44.5M969 630l118 52M1079 629.5l96 41.5M682 690l54.5 24M795 790.5l52.5 22.5M807.5 669.5l51 22.5M954 602l108.5 47.5M887.5 577l86 39M688.5 589l94.5 44.5M1119 709l102 47.5M330 677l41.5 23M529 628l30 13.5M960 567.5l116.5 55.5M768 515.5l25.5 12.5M990 753l155 67M951 706.5l146 62M926 597l64.5 28.5M593.5 589.5l88.5 40M510.5 664l99.5 44.5M613.5 667.5l82.5 38M387 728.5l50 28.5M1168 601.5l38.5 18M1082 537.5l94 44M567 772l97 49.5M474 758l39.5 20.5M606 843.5l138.5 80.5M461 761.5l97 55.5M738.5 786l152.5 71M595.5 714.5l27.5 13M437.5 700.5l71.5 34M813.5 544.5l33.5 14M902.5 483.5l73.5 32M662.5 548.5l27 12.5M811.5 501.5l24 11M614 545l75.5 35M970 583l94.5 45M833 464l79.5 38M1090 692.5l98.5 43.5M631 831l74.5 37.5M649.5 621l105 48.5M850.5 558.5l33 14.5M504 644.5l86.5 39M501.5 779l110 62M1017 494.5l57.5 25.5M1030.5 608.5l40 17.5M1065 582l110 50.5M600 628.5l65.5 30.5M1117 641.5l104 48.5M434.5 550.5l62.5 30M783.5 754l46.5 20M336 587.5l66.5 31M1070 700l75 32.5M843.5 599.5l103 49M762.5 565l45 21M513.5 689.5l72.5 33M664 532l27 11.5M662 529l38.5 16.5M999 619l90.5 41M1022 727.5l105 46.5M899 462.5l55.5 25.5M465.5 691.5l24.5 11.5M1161 593l58.5 25.5M463.5 759l96.5 53.5M834 623l95 41M385.5 752l25 15M702.5 766.5l71 32.5M763 504l47.5 20.5M576.5 569.5l41 19.5M593.5 737l76 32.5M1019 581l48 21.5M802.5 745l142 60.5M1141 657.5l120 51M1126 667l118.5 55.5M754 691.5l62.5 29.5M705 663l50 23M941 693l136 57.5M1018 592l62 28M406.5 702.5l88 46.5M808 549.5l36.5 17M748 622.5l70.5 30.5M708 717.5l33 14M872.5 626l72.5 31M837.5 515.5l74.5 34M1018.5 748l113.5 53M696 771l102.5 44.5M940 475.5l93.5 39.5M872 641.5l62 26.5M1046.5 575l58.5 28M1138.5 562.5l71.5 30M918.5 727.5l92.5 41.5M926.5 725l102.5 47M540 566l53.5 25M456.5 610l37 16M581 553.5l70 31M793.5 523.5l86 40M641 541l29 13.5M609.5 712l67 28.5M713 496.5l64 28.5M1106 656.5l143 64M828.5 668l110.5 52M1171.5 634l60.5 27.5M1020.5 656.5l104.5 45M1010 644.5l124.5 57.5M410.5 709.5l98 55M310 553.5l43.5 25.5M844.5 747l148.5 70M1073 713.5l45 20.5M697 741.5l75.5 33.5M507.5 508l15.5 8M820 457l61.5 28M572 690l61.5 29.5M992.5 487.5l93 40.5M992 655.5l125.5 55M688.5 676.5l72 32M519.5 722l112 50M697 717.5l91.5 41M920 527.5l89.5 39.5M601.5 878.5l94 59.5M792 634.5l77 35M758 679l30 13M1014 750.5l92 44M773 622.5l59 27M604 660l88 37.5M779 778.5l80 34.5M782.5 647l71 32M971 683l130.5 55M777.5 624l59 27M349 598.5l26.5 13.5M402.5 731.5l49.5 29M679 490l35 16.5M658 870.5l154.5 86M608.5 683l109 48.5M902 721.5l77.5 35.5M523 784l65.5 35.5M495 751l94 51.5M1067.5 673.5l61.5 27.5M887.5 733l77.5 36M651 866.5l67.5 39.5M847 689l110.5 48M976.5 522.5l63.5 28M1141 635l50.5 23.5M593 593.5l69 29M576.5 686.5l97 41.5M844.5 743l59.5 25.5M569 810.5l50.5 28.5M529.5 792.5l42 24M590 568l41 19M717 758l117.5 54.5M881 541l74 33M932 576.5l32 15M650.5 475.5l54 25M1156.5 666.5l63 27.5M744.5 626.5l82.5 38M944.5 691.5l49.5 22M738 736.5l134.5 59.5M1005 540l70 31.5M987.5 623.5l115.5 54M798 597.5l108.5 52M742 579l70.5 30M674.5 528.5l72.5 32M743 475l30 13M636 645l89 42.5M1080 532l46.5 20.5M1103.5 709l105 48M404.5 695l29 15.5M638.5 658.5l64.5 30M768.5 543l91.5 41M715.5 672.5l43 18.5M1016 627.5l138.5 60M748 831.5l126.5 58M322.5 675.5l36 20.5M967.5 770.5l46 21.5M740.5 493.5l50 23M594.5 800l128 66.5M488.5 743l82.5 44M576 678l48 23M865.5 633.5l87.5 40.5M529.5 622l95.5 42M859 506l89.5 42.5M791.5 505l36 15M820 747l70.5 30M987.5 546.5l55.5 23.5M704.5 695.5l107.5 50.5M583.5 789.5l43.5 21.5M988 682.5l51.5 23.5M735 517.5l57.5 24.5M576.5 523.5l48 22M128 588.5l12 7.5M665 770.5l69 30M1255.5 647.5l155 70.5M903 699.5l88 38.5M694.5 576.5l30.5 13.5M911.5 702.5l46.5 21.5M911.5 616l90.5 40M923 625l84 37M968.5 573.5l64 29M678.5 668.5l85 39.5M1250 672l143 64.5M638.5 672l54.5 25.5M834 772.5l92 42.5M706 786.5l52 23M1155 626l102 45M462 698.5l59 27M918 524.5l60 29M908 606.5l31.5 13M815 778l142 61M914 649.5l69 32M642 849l87 49M267 660.5l55 33.5M879 578l90.5 38.5M902.5 733l129.5 56.5M870.5 692.5l55 23.5M494 694.5l95 41.5M704.5 804.5l101.5 47M542 627.5l22.5 10M654.5 628.5l72.5 31.5M1036.5 619.5l67.5 29M380.5 695l86.5 48.5M1086.5 630.5l118 54.5M1024.5 514l71.5 30.5M1009 564.5l101 46.5M947.5 732.5l110.5 53M1081.5 591.5l40 18.5M660.5 565.5l90.5 38.5M541 571.5l27.5 12M415 687.5l29.5 14.5M583.5 645l87.5 40M890 742l68 28.5M1086 704.5l152 71M422 746l69 38.5M426 761l42 24.5M883.5 721.5l106 49.5M855 719.5l132.5 57.5M790 716.5l117.5 52.5M1043.5 718.5l111 48.5M658.5 857.5l49.5 25.5M811 546.5l61.5 26M675.5 662l38.5 17M691 802.5l47 21M1018 497l38 17M621.5 823l65.5 34.5M868 557l28.5 12.5M1059.5 523l94.5 40M1100 582.5l99 42M606.5 677.5l95 41M782 681.5l89 42M485.5 759.5l87 48M613 788l91 40M980 597.5l106.5 46M701.5 699l85 37M977 549.5l32.5 14M543.5 635l80 34.5M630 498l59 26M762 784.5l52.5 22M778.5 656l39.5 18M869.5 492.5l64 27.5M897 465l35.5 16M480.5 583.5l74.5 32.5M531 706l28 13M835.5 724l40 18.5M1178 671l93 39.5M801 613l26 11.5M544 769.5l96.5 47.5M916 584l35 15M593.5 757.5l50 23M382 639.5l30 13M1064 717.5l127 57M901 487.5l66.5 28M1206.5 678l128.5 58.5M767 616l51 23M535.5 776.5l79 41.5M666.5 845.5l53.5 26.5M780 608.5l80 35M1051.5 657.5l99.5 46.5M494.5 791.5l78.5 47.5M538 543.5l70 33M755.5 786.5l62 27.5M754.5 611.5l97.5 46.5M1038 575l110 46.5M347.5 711.5l49.5 28.5M1117.5 712.5l39.5 18M416 678l73.5 34.5M799.5 823.5l83 39.5M839 650.5l116 52.5M451 656.5l38 18M651.5 749.5l121 52.5M895 722l122 54M1015.5 649l51.5 23M552 821l33 19.5M575 778.5l42.5 20.5M901 726.5l124.5 54.5M1099 589l100 43.5M653 591l54.5 24.5M900 698l90 38M401 741.5l91 55M569.5 496.5l29.5 15.5M690.5 675.5l64.5 28M289.5 694.5l21 12.5M923 498.5l57 27M981 717l104.5 48.5M655.5 856l82.5 43.5M540 580.5l26 12.5M595 878.5l137 86.5M1123.5 602.5l77.5 33.5M849 817.5l76 33M791.5 586l37.5 16.5M832 584.5l30 13.5M832.5 654l84 38M571.5 675l89 40M606 767.5l71 30M909 663.5l80 35M365 731.5l140 85.5M598.5 858l65 39.5M362.5 728l129.5 80.5M569.5 848l86 52.5M333.5 691.5l95.5 59.5M414.5 759.5l160.5 98.5M529.5 823.5l113.5 69M544 831l112 69.5M513 817l137.5 85M335 712l136.5 83M418 761.5l192.5 117.5M353.5 729.5l137.5 85M392 734.5l178 108.5M360 734l113.5 68.5M576 848.5l83 51M594 859l67 39.5M309.5 674.5l149 92M549 812.5l94 57.5M566.5 832.5l104 62.5M373.5 728.5l69.5 41.5M462 777.5l84.5 52.5M309 702l184 113.5M507 803l128.5 77.5M413.5 759l86 54M580 837l76.5 46M526.5 807.5l144.5 87.5M439.5 778.5l135.5 83M406.5 731.5l112 68.5M338 685.5l181.5 111M428.5 749l146 90M420.5 735l77 46.5M605 877.5l43 25.5M476.5 796l116.5 70.5M415 757l202.5 124M381 724.5l164.5 99.5M461.5 798l174 105M432.5 751l147 91.5M490 781l72.5 44.5M573 852.5l79.5 49M338.5 722l156.5 95M377 741l159.5 97M497 806l113 69.5M406 735l68.5 42.5M396.5 728.5l105 64.5" stroke="#fff" stroke-width="1.2"/><path d="M615.5 699l103 43.5M698.5 669.5l113 47.5M688 768l139 64.5M1150 655.5l91.5 39M664 641.5l37 17.5M392 657l68 32.5M763.5 602.5l74.5 33M798.5 631l115 50.5M932 549l104 48M528 823l62.5 36.5M822.5 589.5l55.5 24.5M651 748l114.5 50M954 723l144.5 64M473 800.5l81.5 49.5M680 838.5l49 22.5M695.5 707l67.5 30.5M729.5 785l135.5 58.5M630 606l72.5 34.5M912 786.5l160.5 75M428 601l20 8.5M526.5 730.5l65.5 31.5M801.5 819.5l92.5 41.5M471.5 795l63 40M662 720l46 19.5M610.5 778.5l52.5 23.5M715.5 687.5l104.5 45.5M828.5 788.5l39.5 17.5M995.5 487.5l44 19.5M998 524.5l51 22.5M939.5 779.5l89 39M761 612l108.5 51.5M373 734.5l99 60M760 769l71 32.5M332 719l96.5 56.5M607 866.5l138.5 84.5M893.5 451.5l41 17.5M825 735.5l118 52M767.5 729.5l85.5 38M807 779l48.5 20.5M794 740l70.5 33.5M664 658l89.5 42M718 592.5l73 32M1137 624l83 35M954 483.5l63 30M1073 635l115 52M393.5 594l58 26M412.5 715.5l83.5 45.5M690.5 778l86 41M776 823l92.5 40.5M728 733l128.5 55M756.5 637l100 45M902.5 590l54.5 23.5M828.5 500.5l87.5 37M506 812.5l63 36.5M1015.5 497.5l58 26M1182.5 595.5l107 47M980.5 613.5l102.5 45M535 792l125 71M653.5 545.5l27.5 13M975.5 522l103 46M529.5 617.5l39 17M801.5 622.5l55 26M905 705.5l51 24.5M469.5 682l75 35M630 855l38 20.5M883 764l114 53M824 688l136.5 59M1027.5 624.5l98 42M931.5 453l57 24.5M459.5 753.5l97 54.5M720 811l85.5 40M911 659.5l107 51M579.5 718l72.5 32M764 696.5l76.5 34M534.5 701.5l27 12M892 466.5l52.5 23M484 715l104 48M585 680.5l48.5 22.5M1097 637l44 19.5M897 601l75.5 36M893 713.5l89 38.5M804.5 614.5l62 27M586 686.5l42 20.5M387 721.5l81.5 45M963.5 654l53.5 25.5M775 573l90.5 42M1195 663l101 44.5M1096.5 553.5l115 53.5M636.5 783l48 21.5M1103.5 655.5l122 56.5M968 753l46.5 19.5M720.5 844l41.5 17.5M935.5 746.5l118 50.5M690.5 675.5l75.5 34M691 763l85.5 41M409.5 764l85 52M999 764l47.5 22.5M344.5 721l52.5 32.5M946 766.5l83 36M418.5 714l40 21.5M963 632l105 44.5M1140 685l86.5 40.5M813 813.5l155.5 74M560 838l102.5 61.5M858 661.5l118.5 55.5M321 665.5l50.5 27.5M711.5 526.5l69 30.5M998 562.5l120.5 53M677.5 693l61.5 27M867.5 582l56 24.5M1014.5 594l37 16.5M436.5 712.5l80.5 39.5M687.5 826l37.5 17.5M1077 611.5l42.5 20.5M1085 639l111.5 47.5M583.5 860l56.5 34M724.5 708l101 48M849.5 562.5l97 41M484 593l26.5 11.5M784.5 819.5l50.5 22M665 806.5l133 60.5M1265 652l110 47M838 755.5l72.5 31.5M1071 735l102.5 47M688.5 709.5l97 41M701.5 738l109 50M519.5 811l33 20.5M1053.5 677l99.5 47.5M873.5 570l68.5 30M935 516l78.5 37M611 681l57.5 25.5M753.5 679.5l60.5 28M428 727.5l99.5 52M957 476.5l74.5 34.5M524.5 607.5l61.5 29M570 824.5l94.5 55.5M861.5 620l67.5 32M358 659.5l43 21M987.5 659.5l50.5 22M997.5 619.5l133 61.5M524.5 794.5l104 57.5M662.5 835l104.5 54M1101 715l143.5 60.5M409.5 698l68 34M886.5 691.5l117 51.5M811.5 621l113 53.5M673 666.5l30.5 13.5M984 571.5l110.5 47.5M729.5 586.5l76.5 36M862.5 529l78.5 35M476 733.5l76.5 36.5M732.5 636.5l45.5 20.5M824.5 532l30.5 13.5M642.5 575l77.5 33.5M429 755l76.5 47M759 654l44.5 20M605 715l89 40.5M1042 670.5l69 31M692 835l137 59M842 566l56 24.5M752 624.5l53.5 24M1127 617.5l40.5 17M962 774l82 37M480 811l113.5 70.5M1023 655.5l137.5 59.5M706.5 696.5l94.5 43M848.5 758l151.5 64M1150 616.5l86.5 40M1154 665l43 20M1170 698l121 52.5M639 782l116 52M872.5 628.5l90 40M866 655.5l120 54.5M865.5 625l100.5 46M790.5 564l46.5 20M928.5 706l74 34.5M663.5 756l61 28.5M393.5 753.5l29.5 18M602.5 653.5l45 19M767 674l95 41.5M836 599l76.5 35M898 784l70 31.5M638 885l145 89M377.5 702.5l66.5 38.5M582 552l62.5 27.5M811.5 524l91 39.5M621.5 631.5l89 41M889.5 565.5l113 49M1027.5 534l97.5 44M582 716.5l31.5 15M828 549.5l86 37.5M767.5 709l139 61M926 762l151.5 67.5M796.5 639.5l102 47.5M1009 716.5l69 29.5M568 732.5l50 23.5M646 831l39 19M626.5 606l34 15.5M985 521.5l36 17M957.5 739.5l49 22M933.5 743.5l95.5 45M1003 527.5l52 23M956 476.5l88.5 39M834.5 759.5l99.5 47M785.5 553.5l38.5 17.5M480 642.5l47.5 22M819.5 571.5l67.5 30.5M790.5 673.5l131.5 56M812 506l91 41M731.5 784.5l152.5 64.5M672.5 838.5l58.5 28M861 548.5l108 46M976.5 727l87 39.5M582 846.5l41.5 24.5M701.5 630.5l106 48.5M948.5 752l41 18M879 698.5l123 56.5M703.5 687.5l88.5 37.5M687 836.5l49 24M845 528l72.5 31.5M755 805.5l40 18.5M956 452l27.5 11.5M633 587.5l94 39.5M782 643.5l75.5 34.5M943.5 512l63.5 30.5M737 745l63.5 30.5M861.5 776.5l150.5 65M841.5 733.5l54 25M664.5 825l81.5 38M1055.5 561.5l122 51.5M686.5 650l29 14M953 623.5l61 27.5M880.5 610l76 34M1246.5 656l129 55.5M679.5 767l124.5 59.5M827.5 692.5l90 43M1037.5 637.5l111.5 52M1131.5 593.5l46 19M743 716.5l49 22.5M1197.5 646l146 66.5M608 716.5l32.5 15M942.5 676.5l96.5 42.5M700 802.5l70.5 32M462.5 718.5l103.5 52.5M895 660.5l53 23.5M472.5 660.5l71.5 30M1002.5 534l81 34.5M768.5 674.5l107.5 45.5M559 857l127.5 79.5M1072.5 660l149 68.5M1109.5 563l130.5 61.5M916 509l100.5 47.5M936 647.5l39 17.5M888 636l43 18M722.5 722.5l131 56M997.5 579l31 15M844.5 544.5l45.5 20M944.5 605l50.5 22.5M632.5 739.5l34.5 15M1227 636.5l156 72.5M1078 540.5l83.5 37.5M705.5 730l111 49.5M1017 527l39.5 16.5M805 820.5l94.5 40.5M550.5 643l49 21M1068 737.5l136 59.5M718 736.5l102.5 45.5M840.5 749.5l118.5 55M950.5 541l76.5 34M992.5 505l78.5 33.5M572 831.5l51 30.5M921 647.5l100.5 43.5M866.5 673.5l41.5 18M642.5 844.5l58 31.5M1049 658l131.5 56M353.5 668.5l77 41M974.5 654.5l81 38M974 676.5l79.5 37M739.5 583.5l44.5 19.5M877.5 687l81 36.5M1036 585.5l31 14M898 600l63.5 28.5M1101 727l106.5 50.5M555.5 562l67.5 31.5M854 679l113 54M471.5 692l50.5 21.5M504.5 810l105 63M787.5 663l43 18.5M737.5 652.5l109.5 47.5M651 806l92 39.5M913 736.5l77.5 33M969 549.5l102.5 45.5M643 740l92 44M349 664l59 30M985 651.5l120.5 55.5M605.5 739.5l131 59M652 645.5l89 38.5M1000.5 568l101 45M778 794.5l118.5 55M862 414l55.5 25M825.5 757l39.5 16.5M1109.5 692.5l115.5 53.5M821.5 825l108.5 48M608.5 777.5l33 15M909.5 533.5l104.5 46M840 721l87 37M697 629l94.5 42.5M649 862l61.5 35M385 723l43.5 26M655 741.5l103 45.5M912.5 607.5l116 49M828 695l115 52.5M905 785.5l136.5 58.5M790 491.5l54 25.5M1138 699.5l40 18.5M667.5 865.5l128.5 70.5M914.5 658.5l81 39M610.5 852l40 23M1067 740l159 71.5M1034.5 661.5l143.5 61.5M824.5 796.5l126.5 60M991.5 660.5l106.5 48M544.5 759l101 51M818 641.5l66 30.5M441.5 783.5l57.5 34M853 727l63 30M1044.5 589.5l106 47M649.5 693.5l58 25M655.5 739.5l91 41.5M903 635.5l60 28M963 608l96.5 40.5M1110 675.5l60.5 28M946.5 749.5l157.5 69.5M856 698l44 19.5M871 797l118 54.5M1034.5 607.5l71.5 34M892.5 761l51 22M1054.5 709.5l98 42M564.5 791l131 68M380.5 609l48 21M786 673.5l49 21.5M806.5 563.5l66.5 32M976.5 665.5l52.5 25M847.5 548.5l94.5 41.5M939.5 713l129.5 57M613.5 756l83 37.5M1180.5 650l110 49M1083.5 634l48.5 22.5M856 577.5l41 18.5M771 763l60 29M562 822.5l57.5 32.5M953 675l53.5 23.5M1124.5 597l51 24.5M752.5 818l134 56.5M497.5 799l33 19M816.5 703l115.5 53.5M459 762.5l71.5 41.5M597 762l86.5 39.5M717 840.5l78 36M653 799l50.5 22M732.5 855l149 69.5M1269 653.5l52 22.5M761 595l33.5 15M589 660.5l93.5 39.5M775 552.5l84 36.5M956 707l42 19M623.5 654l83.5 38M982.5 613l57 24M671 832l130 64M1096 595l118.5 52.5M730.5 812l116.5 52M568 698.5l45.5 20.5M658 826.5l47.5 23M907.5 560.5l53 25M642.5 787.5l141 67M821 775l126.5 56M915.5 537l44.5 19M857 784.5l134 59M818.5 696l139.5 63M995 744.5l114.5 48.5M703.5 806l99 47M862.5 704l77.5 37M963 611.5l102.5 44.5M706.5 761.5l67 28.5M1078 593.5l91 39.5M975.5 697.5l135.5 63.5M975.5 528l63 27M841 652l97.5 45M828.5 600.5l108 52M1113.5 606.5l62 26M593 787l32.5 15M911 555l41 18M327.5 704.5l92.5 55.5M402.5 740l167.5 102.5M356.5 702.5l87.5 54.5M603.5 869l53 31M467.5 796l166.5 102.5M287 673.5l117 72M519 821l133.5 80.5M487.5 780.5l162 99.5M527.5 821.5l130 78.5M393 747.5l106 65M411.5 728l52 33M466 794l155.5 95M465.5 775.5l73.5 45.5M312 682l112 67.5M380 746l109 67.5M292 679l83.5 50M481.5 772l132 82M568 857.5l76 47M566 854l82 49M568.5 859l73.5 46.5M441.5 779.5l183.5 112M614.5 854.5l61.5 38.5M391.5 726l128 78.5M449.5 758.5l133 80.5M546.5 845.5l97.5 59M354 692.5l181 110M520 811.5l141.5 86.5M510.5 794.5l144.5 89M503 810.5l149.5 91M375 715.5l106 64.5M456 779l161.5 98.5M477.5 788l180.5 111.5M354.5 723.5l144.5 88M299.5 689.5l57 34M488.5 786l165.5 102M446.5 782l140 86M400 758.5l198 121M613.5 855l63 37.5M407 759.5l74 44.5M437 746l185.5 112.5M606 873l47 28.5" stroke="#fff" stroke-width="1.5"/><path d="M797.5 570.5l32.5 14M1032.5 731l88.5 39.5M809 826.5l142 61M355.5 695l75 41M696.5 733.5l49.5 21.5M660.5 517l76.5 36.5M844.5 718l53 23.5M628 792l117.5 52.5M824 765l44.5 19.5M592.5 662l47 21M801 699l83 36M1131 575.5l102 45M308.5 629.5l66 32.5M670 548l30.5 14.5M1085.5 600l35 15.5M844 740l127.5 56M631.5 548l19.5 9.5M1027.5 643.5l122.5 55.5M414.5 609.5l63 27M916 589.5l65.5 30M702 446l18 9.5M470.5 584.5l47.5 23M418 635l44.5 21M430.5 643l31.5 14.5M778 465l70.5 33M1189.5 650l95 45M563.5 846.5l73.5 46M679 525l35 15M1017.5 634.5l42 20.5M642.5 744.5l80 35.5M614.5 467l22 12M876.5 704l46 20.5M601 790.5l73 34.5M457.5 748l49 27M445.5 631.5l45.5 20M888.5 621.5l66.5 28.5M583 705l49 21.5M513.5 747.5l111 52M744.5 530l70 30M643 589.5l23.5 10.5M1051.5 667l83.5 36.5M570 739.5l84.5 39M845.5 542l56 25M626 616l67 29M947.5 483.5l54.5 24.5M828 669l30.5 13.5M1014 587.5l113.5 48M862.5 592l69 29M515.5 747l113.5 53.5M782 636l78 37.5M778 639l104.5 47M727.5 465.5l20 10M770.5 491.5l53.5 25M642 757.5l75 34M933.5 737l49 22M751 711l82.5 35.5M832.5 640l88 41M635.5 624l46 21.5M373.5 627l56 24.5M709 716.5l57 25M587.5 574.5l41.5 18M949.5 576l92.5 41M832.5 473.5l57 27.5M278.5 649.5l27 16M965 754l88.5 37.5M1002 609l73.5 32M811.5 753.5l55.5 25.5M984.5 656.5l55 25M621.5 552.5l34.5 15.5M627.5 880l116.5 68M541.5 839l39.5 24.5M392 677l27 14M546 673.5l26.5 11.5M634 797.5l132.5 62.5M762.5 475.5l55.5 24.5M870 416.5l37 17.5M445.5 714.5l26 13M402.5 605.5l69 33M827.5 663l36.5 17M856 440.5l61 28M989.5 493.5l54 25M768.5 587l36 16M936.5 473l65.5 29M743.5 752.5l104 45.5M737 589l42.5 20M812 645.5l105.5 49.5M731.5 502l59.5 28M945 508.5l74 32.5M814.5 808l59.5 27M942 488.5l62.5 27.5M888 680l37 17M444.5 554.5l51.5 24M502 497.5l15.5 9M599.5 845.5l83.5 49.5M846.5 529l32 14M579 815l57.5 30.5M546 590.5l39 18M677 744.5l130 57M645.5 737.5l97 41M309.5 634l59 29M673 634.5l65 27.5M422 741l44.5 25M504 673l76 35M506.5 802.5l51 30.5M734.5 583.5l64 28M750.5 832.5l77 34.5M368 645l36 17.5M1083 707.5l40.5 18.5M515.5 792l40.5 22.5M685 492l57.5 27M884 540l69 33M761.5 545.5l92 40M364.5 627l55.5 26M940.5 718.5l108.5 50M915.5 668.5l97.5 45.5M578 746l45 19.5M818 632l82 36M700 547.5l28.5 13M643 804.5l108 50M428 527l32.5 17.5M707 585l39.5 18M848.5 398.5l67 31.5M1073.5 614.5l48 21.5M981 702.5l127.5 58M714.5 842.5l43.5 19M821.5 542l39 17M278 621l58.5 31.5M923 708.5l73 32M1053.5 628.5l110 50.5M788 624.5l112.5 54M439 608.5l82 37M812 622l57.5 26M1190.5 664l38 17.5M625 593.5l83.5 39.5M650 791l142 65M455.5 756l85.5 49M903 472l66 28.5M463.5 568.5l34.5 16M622 835.5l122 65.5M812 727l68.5 29.5M901.5 796.5l120 51.5M494 591l52 25M765 771.5l36 17M1085 556.5l56 26.5M530 609l83.5 38.5M633 636l85 40M468 797.5l105.5 65M377 565.5l54 27.5M985 551l77.5 36M974.5 713.5l128.5 56.5M906.5 730l41.5 18.5M553 603.5l82 37M790 592.5l86 37M832 514l40 18.5M607.5 828.5l118 63M976 595.5l93 42.5M858.5 603.5l28.5 12M682 797l145 67.5M1153 578.5l119.5 51.5M919.5 730l100.5 43.5M850.5 727l91 41.5M365.5 695.5l39.5 23M723 853l140.5 62M512.5 741l106.5 52M723.5 618l82.5 35.5M848.5 693.5l80.5 36M1013.5 734l78 35.5M480 577.5l46 19.5M739 651.5l63 29.5M919 653l105 49M771 745l126 58.5M523 766.5l71 38.5M784 745l59 27.5M633.5 509.5l58.5 27M1063.5 590.5l88 39M875 539.5l72 32M1133 579l33 15M559.5 688.5l94 44.5M830 819.5l124.5 58M280.5 639l21 12M715 729l44.5 20.5M302 665.5l80.5 44.5M1053 522.5l78 37.5M698 479.5l44 20.5M501.5 768l64 34.5M814.5 476.5l26.5 11.5M779.5 725.5l142.5 67M831.5 773l142 68.5M535.5 585l27.5 11.5M705.5 543l61 28M917 496.5l57 27M287 678.5l65 38M669.5 882.5l129.5 70.5M862.5 724.5l106.5 47.5M1182 637.5l114.5 49M1159 590.5l89.5 39.5M947 651.5l106 47M342.5 699l52.5 29.5M431 663l65.5 28.5M892 731.5l91.5 39.5M625.5 530l20.5 8.5M656 548.5l29 13.5M1019 582l71 33M1208.5 687l80.5 38M792 621l31 14M729 696.5l88.5 38M605 871l43.5 28M607.5 829.5l133 68M449 778l85.5 53.5M677 558l36.5 16.5M715.5 538l41.5 19M509 596.5l42.5 18.5M838.5 808.5l50 23.5M765.5 626.5l59 27M756.5 757.5l81.5 35M595.5 876l55 35M308.5 695.5l60 37.5M556.5 680.5l81.5 39.5M1055 615.5l37.5 17M519.5 807.5l100.5 60.5M411 754.5l34 21.5M585.5 694l59 25.5M799.5 565l58.5 27.5M862 746l105.5 49.5M1210.5 606l87.5 37M1102.5 652l116.5 52.5M405.5 529l18 11M486.5 759.5l112.5 60.5M799 533.5l52 23M544 629l69.5 30M756 565.5l49.5 23M1018.5 607.5l128.5 59.5M898 520.5l40 17M908 716l60 25.5M352 631.5l48.5 22.5M449.5 552l50 26M1117.5 651l148 64.5M945 616.5l114 50.5M308.5 705.5l26 16.5M315 692l48.5 28M1140 674.5l70.5 31.5M626 859l62 34.5M329 674l46.5 27M372.5 610l63.5 30M472.5 514l27.5 15M1153 586l98.5 45M549.5 849l89 54.5M877 636l64 29M1010.5 634.5l47.5 20M518 657.5l36 16M988 762.5l83.5 36.5M760.5 495.5l67.5 32M407 572.5l59 28.5M1124 699l157.5 68M1057.5 693.5l141 63M1146 593l48 22.5M1125 613.5l47.5 20M1213.5 612l99.5 43.5M561.5 848.5l143.5 85M999 519l63.5 29.5M749 785.5l79 34M868 468l44 19.5M617 532l75 32M676.5 419.5l55 32.5M693 465.5l42.5 21.5M466.5 512.5l51 27M532.5 567l61 28.5M793 697l99.5 42.5M622 601.5l96.5 40.5M849 667.5l31 14M728.5 543.5l53.5 24.5M572.5 578l26 12M426 761.5l92 58M902.5 499l58 24.5M1125.5 557l115.5 54.5M348 642.5l53 27M920 726l151.5 65.5M565.5 691l98.5 47M973 645.5l106.5 50.5M737 822l122 56M722 810l127 54M619 657.5l88.5 41M695 866.5l98 52.5M1032 594.5l88 41M569.5 828.5l125 74M387.5 708l84.5 46M738.5 722.5l66 29.5M1110 554l39.5 17M699.5 865l92.5 45M1089.5 533.5l98.5 44.5M571 646.5l41.5 19M936.5 691.5l64.5 30.5M715.5 572l52.5 24.5M713.5 758.5l145.5 61.5M1063 538.5l107 47.5M555.5 797l77 41M541 662l98 45.5M788.5 743l87.5 40.5M454.5 615l53.5 23.5M936.5 651l95 43.5M776.5 700.5l42.5 20M950 769.5l50 21.5M606.5 536l79.5 37.5M893.5 668l46.5 20M428 566.5l52.5 24.5M620.5 839.5l88.5 46.5M729 718l101.5 48M851.5 702l70 32M860 599l117.5 54.5M781 614.5l49 21M1058.5 678.5l128.5 56.5M441 773l112 67.5M821 626.5l93.5 41M1127 660l133 61M1063 694l97.5 42M934.5 625.5l30 13.5M1017.5 510l59.5 27M439.5 612l54.5 24.5M539 647l59 28M746.5 492.5l47.5 22M526.5 567.5l69.5 30M475.5 544.5l26.5 13M581.5 781l67.5 34.5M714 607l39 17.5M433 608l41 18M486 774.5l88.5 48M1147 658l132 62.5M1098.5 549.5l69.5 29.5M1057.5 543l106.5 51M850 604.5l94 41M496 618.5l86.5 37M706.5 822l110 52.5M714.5 567.5l30.5 13.5M896 696l94 42M955.5 754.5l144.5 63.5M946 453l83 38M730.5 775.5l141.5 61.5M842.5 747.5l44 20.5M657.5 559l76 35.5M811 787.5l107 48M532 756.5l45.5 22.5M843 470l54 25.5M818 534l81 38M436 764.5l42.5 25M945.5 735.5l52 22M796.5 703l135.5 64.5M1133.5 687l81 36M444.5 722l51.5 27M801.5 664l110.5 53M1114.5 667l69.5 32M948 612.5l91.5 42M503 736l119 59.5M739 631.5l84.5 37.5M548.5 555l63.5 28.5M960 573.5l61.5 27M450 749l53.5 30M546 678l32.5 15.5M906 505l30 12.5M786.5 469.5l53.5 25M593.5 830.5l134 75.5M490.5 771l86 46M981 664.5l45.5 21M649.5 544l80 35.5M1000 579.5l30.5 14M804.5 586l109.5 51.5M744 503l54.5 25.5M665.5 664.5l100.5 44.5M426.5 556l16.5 9M421.5 564l63.5 31.5M530.5 678l36.5 17M1032 665.5l143.5 63.5M940.5 563.5l110.5 52M895.5 414l18 8.5M479 783l50.5 30M579.5 763l79.5 34.5M820 747l123.5 55.5M1188 658.5l156 68M846 585l94 40M811 683.5l122 51.5M1098.5 609l33 15.5M586.5 846l82 50M435 768.5l145.5 89M426 755l95 59M528.5 834l61 38M298.5 690.5l156 95.5M334.5 717l116.5 71.5M518.5 827l55.5 34.5M616.5 867l50 29.5M324 693l112.5 68M566 856l78.5 48.5M514.5 817.5l81 48.5M577.5 862.5l69 41.5M404 754l188.5 114.5M409.5 748l98 59M537.5 808l140 84.5M507.5 787.5l162 99M546.5 828.5l84.5 52M557 832.5l106.5 65M511 807l149 92M483.5 806l112.5 68.5M440.5 761.5l190.5 115M348 716.5l162.5 100M557 826.5l76.5 47M484.5 801.5l154 94.5M468 777l198 119.5M627 872l41 24M520.5 812.5l138.5 83.5M498.5 791l162 97.5M449 778.5l148 91.5M607.5 864l55 34M577 845.5l86.5 52M404.5 758.5l60 37.5M555.5 820.5l120 73M507 819l62 37M351 709.5l167.5 103M561.5 826.5l62.5 38M614 871l47 27.5M298 676l202 123M596 873l51 30.5M340 698.5l58.5 36.5M527.5 831.5l96.5 59.5M295.5 689.5l69 43M460 780.5l175.5 108.5M564.5 826l69.5 41.5M457 782l102.5 62.5M426.5 743.5l112 67.5M310 680.5l172.5 104" stroke="#fff" stroke-width="0.9"/><path d="M646 602.5l73.5 32M862 808.5l140.5 60M847 650l100.5 44M680.5 870.5l120.5 64.5M886.5 498l94.5 41M709.5 577.5l28.5 12.5M753 696l132 57.5M883.5 498.5l74 33.5M582 525l58.5 28M613 737.5l56.5 25.5M652.5 732.5l130.5 60.5M986.5 632.5l120 55.5M1216.5 645l143 64M913 461.5l24.5 10.5M740 481.5l45 20M1203 679l87.5 40.5M957 691.5l103 45.5M796.5 518.5l62 28M729 712l109.5 50.5M351 697l93 52.5M694 668.5l75.5 36M701 729l33.5 15.5M571 698l83.5 39M794 560l104 45M447.5 637l50 22.5M580.5 558.5l77 37M637 641.5l29.5 14M440 699.5l33 16.5M1005 485.5l102.5 49M724.5 721.5l102.5 49M1056.5 547l71 31M478 693l39 17.5M773 707.5l117.5 51M748.5 478.5l53.5 24M946.5 762.5l106 48M669 844.5l80 41M934.5 531l88 39.5M549.5 837.5l128.5 74.5M1092.5 562.5l65.5 28.5M569 655.5l79 34M857 486l50 23M654.5 559.5l90.5 39M777.5 494l31 13.5M776.5 518.5l89 42.5M719 532l42 18.5M1151 574l50 22M458 680l70.5 33.5M516 763l50 27M1056 644.5l49 22M509.5 520.5l56 29.5M673 583.5l22 10M469 763l42.5 23M578 487l64 32.5M942 760l111 50.5M354 603l21.5 10M380 594.5l37 17.5M623 535.5l68.5 32M620.5 702.5l117 50.5M644 694l100 48M1016.5 704.5l39 18.5M1081 664l91 41" stroke="#fff" stroke-width="0.9" stroke-opacity="0.6" stroke-dasharray="1.5 1.2"/><path d="M617 837.5l35.5 20M543 817.5l121.5 72.5M690 865l151.5 80M695.5 479l21.5 10.5M887.5 661l93.5 40.5M703 625.5l35.5 16M551.5 507l22 11M671.5 678.5l60.5 28.5M1041.5 747l109 51M626.5 703l75 35.5M739 834l66.5 29.5M852 483.5l27.5 12.5M319.5 670.5l27 15.5M1085.5 676l51.5 22.5M971.5 633l35.5 15M644 671.5l103.5 45M1192.5 682.5l119 55.5M993 544.5l106 46M978.5 545l98.5 47M581.5 702.5l115.5 55.5M653 546l24 10.5M861.5 458l20.5 9M591.5 781.5l49 23.5M370.5 629l21.5 9.5M662.5 711.5l60.5 29M861 796l128.5 56M826.5 505.5l58 27.5M868 690.5l77 36M768.5 691.5l77.5 34M1032 555.5l50 24M560.5 610l56 26.5M591.5 537.5l72.5 31M797.5 705l81 35.5M331.5 631l77.5 36.5M409 601.5l50 23M952 707.5l105.5 46M675.5 781l43.5 20M686.5 522l83 39.5M847 799l53 25M844.5 427.5l35.5 17.5M978.5 648l59.5 27.5M954.5 742l154 69M382 730l90 56M1242.5 673l135.5 56.5M787.5 624.5l77.5 33M1249 635l100 45M412.5 711l23.5 12M850 595l97.5 44M302 648l47.5 25M876 510.5l44 18.5M963 684l42 20M482 686l32 15M789 504.5l62.5 29.5M1075.5 720.5l114.5 51.5M633.5 693l100.5 48M398 678.5l42 21.5M953.5 602l101.5 47M707.5 475l36.5 16.5M604 774.5l114 49M1240 656.5l80.5 35.5M424.5 538l26.5 14.5M804.5 575.5l103 47M718.5 512.5l24.5 11.5M399.5 554l35.5 18M671 773.5l92.5 43M875.5 781.5l84 38.5M732 580l30.5 14M882.5 417.5l59 25.5M658 557l64.5 30M856 786l119.5 56.5M808.5 608l98 41M954.5 513.5l91 43.5M922.5 614l125 58.5M631.5 556.5l53.5 23M773 805.5l70.5 33.5M940 718.5l93.5 41.5M606.5 635l84 40M788.5 559.5l76 33.5M855 469l38 18M494.5 594l81 38M547 542l21.5 10M824.5 446.5l63 29M1127 601l72 31M951.5 544.5l49.5 22M741.5 852.5l104.5 49.5M1114.5 602l42 19.5M819.5 494.5l77 34.5M477.5 694.5l80 35.5M712 866l117.5 55.5M329.5 719.5l31 19.5M792.5 563.5l62 26.5M950.5 731.5l125 56M428.5 692l71.5 34M488.5 808l78 47M886.5 568.5l104.5 44M1062.5 548.5l86.5 37.5M717 855.5l133.5 62M674.5 871.5l96.5 49M564 537l68.5 31.5M612 609.5l49.5 23.5M503 770.5l74.5 42.5M895.5 542.5l103 48M751.5 488l44.5 21M703.5 693l93.5 43M958 452l46.5 22M333 654.5l20.5 11.5M1009 590.5l70 32.5M643 591.5l40.5 19.5M703 857l156 78M916.5 509l68.5 30M792 567l67 29.5M815.5 721.5l43.5 19.5M1186.5 649.5l49 23M962 539.5l110.5 52M664.5 566l57.5 27.5M743.5 838l114 52M695 773l83.5 38.5M345.5 624l24.5 11.5M858.5 728.5l140 61.5M507 549l51 25M707.5 436l20 10.5M699 665l63.5 28M823 825l89.5 42.5M768 720l38.5 17.5M609 598.5l50.5 22.5M709.5 549.5l67.5 29M342.5 661.5l52 27.5M826 796l78 36.5M605.5 600.5l68.5 32.5M1003 632l117 51.5M1175.5 622.5l94 42M641 879.5l122 72.5M514.5 707l109 52M633.5 776.5l105.5 48.5M684 598l64 27.5M1168.5 679.5l143.5 65.5M622.5 472l65 32M923.5 559l100.5 46M698.5 683.5l33 14.5M1054 703.5l132 60.5M836.5 537.5l49.5 21.5M385.5 602l32 14M681 518l75 32M659.5 546.5l79.5 36M799.5 529.5l77.5 36.5M979.5 732l52.5 23M442.5 765l72.5 44.5M1201.5 641l107.5 48M489.5 613l86.5 38.5M1129.5 701.5l165.5 74M932.5 487l82.5 36.5M884.5 741l103 48.5M775 731l82 35M709.5 601.5l64.5 27.5M451 604l69.5 32M687.5 810l111 52.5M864.5 652.5l118 52M669 580l67 28.5M709 649l33.5 14M591.5 715l61 27M796.5 467l19 8.5M741.5 645l103.5 46.5M900.5 569.5l52 24M659 623l55.5 26.5M1031 598.5l35.5 16.5M626 805l52.5 25.5M1105.5 551l55 25M239.5 644l44.5 28.5M593.5 633.5l92 40.5M757 521l46 20.5M899 553.5l64.5 30.5M503.5 683.5l71.5 32.5M859.5 745l96.5 46M1084.5 617.5l69.5 32.5M927 588l57.5 26M549 625l25 12M677.5 722l116 54.5M987 545.5l72 31.5M750.5 424.5l39.5 21M881 670l129.5 61.5M721 763l82 35M701 591.5l42 18.5M634.5 665l29 12.5M1013 624.5l140.5 59M694 810.5l43 19M468.5 560.5l61.5 28M694 851l58.5 29.5M587 857.5l70.5 44M773 487.5l57.5 26.5M453 735l85.5 45M562.5 483.5l44.5 22.5M416 683.5l24 12M744 666l42.5 19M1041 539.5l109.5 52.5M778.5 678.5l49 22M1244.5 645.5l58 27M587.5 827.5l79.5 46M755.5 606.5l80 38M963.5 724.5l124.5 59.5M626.5 554l40 18M629.5 558.5l21.5 9M603.5 640l80.5 37M1048.5 732.5l117.5 54.5M889 644l49 21.5M312 688.5l74.5 45M622 887l136 87M745 707.5l103 43.5M1079.5 563.5l115 50M545.5 806l37.5 22M630 694.5l31 13.5M696 598l100 44.5M527 627l39 17.5M826 651l42 20M837 614l102 44.5M705.5 737.5l37 16.5M1050.5 726l109.5 50M630 718.5l73.5 34.5M783 585l56.5 24M448 641l79 35.5M439.5 727.5l58.5 31M671.5 624l85 38.5M542 637l84 38M620 720l64.5 30.5M549.5 502.5l44 23.5M351 689.5l65.5 35.5M1199 665.5l53 23.5M687.5 793.5l130.5 60M808 727.5l43.5 19.5M625 647.5l37.5 17.5M818.5 728.5l137 58.5M622.5 757.5l120 54.5M792 427.5l52 26M876.5 687.5l125 55M709 842.5l125.5 54M554.5 524.5l40 18M748 838l72 32M885 601.5l76.5 34M512.5 789l104 58M928 723l42.5 19M482.5 652l43.5 19M471 605l63 28.5M702 531.5l75 32.5M457 615.5l73.5 34M952.5 615l36 16M795.5 416.5l64 31M777.5 503l82 38M959 553.5l110 47M836 575l43.5 19.5M1151 578.5l103.5 44.5M644 499.5l64.5 28.5M565 814.5l64 33.5M1149 647.5l61.5 27.5M874 592.5l110 50M491.5 788.5l115 69M297 690.5l70 42M733 860l94.5 44M761 488l64 30.5M397.5 654l66.5 30.5M424 730l84.5 45M693 575.5l38 18M1043 552.5l74 34.5M495 676.5l103 46M702 638l97.5 43M1266 647l142.5 61.5M787 496.5l30.5 14M1026 615.5l51 22M930.5 530l39.5 18.5M944 640.5l125 59M515.5 825.5l67.5 42.5M487.5 637.5l56 25.5M608 603.5l58.5 25M609.5 768.5l122 57M1083.5 542.5l36.5 16.5M753.5 811.5l89 41M718.5 785.5l104 46.5M529 811.5l105.5 62M799.5 524.5l55 23M501.5 807l103 60M467 766l87 50.5M551 486.5l44.5 23.5M1141.5 585.5l88 40.5M537.5 608.5l47 20.5M661 609l43.5 20M685 552l20.5 9.5M1058 735l45 21.5M749 824l163.5 75.5M679 588.5l32.5 15M266 595l39 21M921.5 477.5l32 15M999 532l106 50.5M742.5 745.5l43 19.5M655 621.5l87 39.5M727.5 853l40 18.5M1061.5 516l94.5 41M579.5 643l38.5 18.5M490.5 677.5l39.5 16.5M391.5 581l17 9M465 637.5l50 22M572.5 567l69.5 32M499.5 701.5l91 38.5M476.5 702.5l44 19M788 767.5l109.5 51.5M699.5 827.5l65.5 31M1093.5 556l57.5 26.5M1198.5 626l116 53.5M867 668.5l131.5 59M715.5 615l68.5 31M591 749l99.5 47M622.5 828l118 63.5M968.5 619l101.5 46M828 725.5l138 58.5M766 674l97 42.5M1179.5 693.5l49 21.5M593 535.5l36 17M497.5 687.5l52.5 23.5M486.5 723.5l73.5 34.5M889.5 677l127.5 56.5M865 779l99 43.5M926 519.5l53 23.5M581 770l120.5 55.5M632 526.5l65.5 28.5M921.5 725l114 51M249 662.5l63.5 40.5M432 625.5l61.5 28M578.5 671.5l32.5 15M504.5 819.5l107.5 66M851 699l42 19M703.5 546.5l48 21.5M436 667l79.5 35.5M1008.5 749.5l95.5 42.5M640.5 810l58 28M810 644.5l110 49.5M883 548l81.5 38M544 841l71 45.5M1053.5 556.5l38 17M945.5 757.5l101.5 45M392 693l85.5 44.5M497.5 639l58 25M686.5 563.5l37 17.5M735.5 632l30 13.5M754.5 712l34.5 15M1034.5 634l65.5 28M672 583.5l79 36M1109.5 560l114 50.5M763 764l88 41M762.5 500.5l32.5 15.5M903.5 481.5l66 28M956.5 609.5l79 37M649.5 739l32 15M745 649.5l43.5 19.5M857 556l90.5 41M644 616.5l29.5 14M671.5 855.5l119.5 64M637 843l75.5 40.5M747.5 686.5l114 51M912 561.5l44 21M629.5 697.5l120.5 55.5M824 763.5l56.5 27M938.5 496.5l66.5 29M450.5 740.5l27 15.5M915.5 714.5l152 69M1067 629.5l111 47M456.5 648.5l25.5 10.5M672.5 460.5l42.5 22.5M798.5 431l47.5 21.5M619.5 713l99.5 47.5M860 703.5l72.5 34.5M449 754.5l37 21.5M670.5 516l60.5 26M504 789l91 50.5M975 689l87 39M681 846l50.5 26M651.5 816.5l138 67M564 577l40.5 18M351.5 732.5l57 33.5M1072 531.5l65.5 29M608 827l113 61.5M623.5 695.5l53.5 22.5M485.5 716l41 18.5M930.5 595l62.5 27.5M497 730.5l40.5 18.5M777 717.5l139.5 64.5M1194 617.5l107.5 50.5M918.5 769.5l41 19.5M935.5 589l100 44.5M507 698.5l46 21.5M334.5 700l51 31M917.5 453.5l65 29.5M1189 607l101 44.5M540.5 584l45.5 21.5M367.5 677l34.5 18.5M500 543.5l18.5 9M306.5 672.5l75 45.5M807 391.5l21.5 12M941 606.5l51.5 24M920 705.5l109 51.5M892 670l76 34M946 781.5l88 41.5M1282 654l87.5 38.5M1114.5 720.5l100.5 45M913.5 671.5l99 45M763.5 501l36 16M633.5 536l21.5 9.5M603.5 646.5l32 14.5M590 871.5l152 90M1072.5 714.5l91.5 43.5M883.5 641.5l127 55.5M1180.5 667l59.5 25.5M613.5 680l99 42.5M663.5 605.5l70 29.5M805.5 794.5l118.5 51M790 664.5l87.5 37M666 543l22 10.5M961 738.5l158 69M730.5 770l139 63M920.5 731.5l97 46M717 722.5l83.5 35.5M1102.5 597l86 39M784 738l95.5 46M747.5 567l71.5 31.5M993 755.5l141.5 63M535 627.5l46 21M439.5 748.5l47 27.5M937.5 701.5l72 34.5M1058.5 678.5l91.5 42.5M732 588l100 44M971.5 460.5l44.5 21M821 807l128.5 59.5M333 583l26 13.5M1164.5 681.5l148 64.5M728.5 551.5l77.5 36.5M552 796.5l44.5 25.5M992.5 566l120 52M831.5 661l123.5 57M851 565l81.5 36M1097.5 648.5l105 50M1146 594.5l121 52.5M1041.5 595l74.5 33.5M785.5 799l133 60.5M808 473l39.5 19M1023.5 733l62 29M1049 667l91 43.5M333 516l39 25M772.5 631.5l69 32.5M1058 579.5l104.5 50.5M537.5 628.5l94.5 42M321 642.5l50 25.5M605.5 799l35.5 18M856 432.5l18.5 8.5M769 773l123 57.5M760 786.5l101 47M793 471.5l49.5 21.5M883.5 552l27.5 12.5M479 536l37 18.5M665 578.5l27 11.5M922.5 751l89.5 41.5M180 608.5l35.5 20.5M955.5 551.5l102 48M972.5 654.5l57 24.5M808.5 574l81 37.5M699.5 421.5l13 8M730.5 801.5l70 33M584 624.5l96.5 43M931.5 541.5l84.5 36M1017 730.5l95 45M641.5 563l29.5 13.5M927 494.5l64 28.5M453 774l110 67M819.5 689.5l102 48M887.5 457.5l31.5 14M759 667.5l74 33M484.5 754.5l89.5 49.5M558.5 602l33 15.5M643.5 798.5l138 62.5M1153.5 689.5l151 69M978 687.5l69.5 31.5M1121 619.5l106 50.5M490.5 583.5l25 11.5M490.5 801l104 60.5M949 739.5l107 48M593 640.5l66 28M326 660.5l83.5 46.5M1052.5 543.5l72 31.5M1140 631.5l118 55M1007 612.5l34.5 15M994.5 523.5l59.5 27.5M441.5 786l51 29.5M1128.5 657l71.5 30.5M997 662.5l96.5 46M1005 550l82.5 35M669 621.5l87.5 40M699.5 495.5l38.5 18M755.5 749l98.5 43.5M506.5 810.5l107.5 67M1018 610.5l90.5 40M581.5 736.5l116.5 52M579.5 808.5l91.5 48M1231.5 631l116 53.5M880 471.5l79 34M821 477l31 13M519.5 604l81.5 34M790.5 577.5l30 14M452 544.5l38 19.5M871 590.5l36 16.5M1093.5 647l49.5 23.5M618.5 625l85.5 39.5M613.5 767l38.5 17.5M578.5 568l85.5 40M756.5 488l26 11.5M1016.5 683l110.5 47M745.5 473.5l27.5 13M893 500l94.5 43.5M823.5 374l57 31M913.5 587l51.5 21.5M942.5 512l67 30M497 580.5l22.5 10M544.5 607l48.5 23M619 567l55 24M582.5 846.5l62.5 38M1003.5 521l55.5 26.5M955 725.5l147 69M610.5 878.5l139.5 87M638.5 753l39 17.5M390 636l49.5 21M577.5 816.5l47 24M758 800.5l73.5 35M1012.5 587.5l44.5 20.5M330 671l84 47M1112.5 679.5l70 30M696 805.5l88 39M727.5 581l73.5 31.5M538.5 500l25 12.5M632.5 686l31 14M725 466.5l27.5 13M622 846.5l124.5 66.5M503 651.5l98.5 46M663 534l25.5 10.5M992.5 689l152 66.5M768.5 817.5l149.5 69M693.5 855.5l71.5 36.5M730 818l105 48.5M336 516l47 29.5M621.5 876l91 56M775 700l124 54.5M318.5 596.5l65.5 31M902.5 698l141.5 67M867 644l119 56M618 768l85.5 36.5M1048 624.5l79 33.5M496 587l70.5 32M874 647.5l50 22M1035.5 520.5l77 33.5M578.5 691.5l42 18.5M1111 690l121.5 57M553.5 698.5l48 21M983 762l99 47M1064.5 522l103 43.5M591.5 682.5l116 49.5M859 603l92.5 41M568 684.5l68 29M388 742l103 62.5M1079 575l86.5 41M784 478l70.5 30.5M789 805l162.5 70M542 777.5l91.5 48M1017 730l96.5 42M590 533l64.5 27.5M637 702.5l52.5 25M857.5 455.5l66.5 30M714.5 683l66.5 29.5M674.5 579l28.5 13M609.5 883.5l136.5 82.5M812.5 502.5l68 32M646.5 540.5l36.5 16M891.5 530.5l56.5 24.5M942.5 725l142.5 68.5M618 855.5l133.5 78M708.5 575l32 14M836 470l29 14M1151.5 621.5l112 47M1036 693l54 23.5M1165 642l131 62M699 739l74 32M670 494l69 31.5M595.5 688l106.5 46.5M614.5 888l41 25.5M662.5 487.5l26 13M645 559l45.5 20.5M879 750.5l107.5 50M598 551l39 17M627.5 513.5l75.5 34.5M1073.5 714.5l142.5 63.5M640.5 688.5l34.5 15M937.5 476l74 32.5M967 557l85.5 38.5M786.5 523l68.5 32M778.5 528l71 32.5M1120 585l57 25.5M673 464l27 13.5M1019.5 524l71.5 32.5M394.5 682.5l68.5 33.5M794.5 471.5l75 34.5M861.5 460l66 28.5M979 499.5l104 46.5M491.5 512.5l39 21.5M958.5 766.5l62.5 28M477.5 779.5l102.5 61M983.5 515l56 24M748 601l91.5 39.5M740 657l96 46M813.5 630l103.5 47M1056.5 567l35.5 15M651 802l149.5 68M596.5 658.5l31.5 14.5M1003.5 663l78.5 33M586 470.5l61.5 31.5M996 517.5l39.5 18.5M688 488.5l46 21M711.5 569l60 28M614 660.5l103 46.5M973.5 471.5l74.5 32.5M929 621l88.5 37.5M636.5 525.5l64 29M785 665.5l118 54.5M557.5 761.5l121.5 60.5M1170.5 622l94 40M614.5 622.5l91.5 42.5M663 650.5l114.5 49M546 716.5l112 50M619.5 510.5l64.5 30.5M646 819.5l135.5 62M903.5 422l50.5 22.5M572 831.5l81.5 45M870 708l48.5 21M733.5 528l66.5 29.5M561.5 755l98 43M645.5 528l31.5 14.5M800 472l67 29.5M749.5 646.5l121.5 52M565 753.5l74.5 34.5M713.5 698.5l67.5 31M351.5 592.5l42.5 21M488.5 812l40 24M915.5 514.5l89.5 37.5M1028.5 690l77.5 35M552 644l49 21.5M762.5 756l75 35.5M484 763.5l78.5 43.5M846 811.5l78.5 35.5M923 497.5l69 30.5M851 689l40.5 19.5M784 541.5l50 21M684 845l44 21.5M873 583.5l84 37.5M702.5 651.5l60 25.5M883.5 783l71.5 31.5M1211.5 657l134.5 64M577 498.5l23.5 12M1032.5 667.5l70.5 30M703.5 708.5l65.5 29.5M745 591l99 46M463 773l31.5 18M1256.5 636.5l150 67M372 536l33 19.5M930 724l103.5 49.5M608.5 669l42 17.5M570 554.5l36 15.5M733 682.5l51 23.5M684 661.5l53 25M1037.5 683.5l124.5 54.5M668.5 563.5l27 12.5M515 608.5l33.5 14.5M856 633.5l57 26.5M935.5 691l107.5 50.5M842.5 716l127.5 56M548.5 667.5l32.5 14.5M781.5 820.5l114 54M882.5 537.5l100 44M440.5 595.5l31 15M995 520.5l102 44.5M616 654.5l61 25.5M898 608.5l50 22M1063.5 691l65.5 29M809.5 754.5l103.5 49M632.5 518.5l71.5 31.5M628.5 624l86 40.5M962 672.5l37.5 17.5M744 835.5l159 70.5M492.5 774.5l38 21.5M499.5 748.5l63.5 31.5M709 502.5l33 15M624 708l114.5 54M774 571.5l70 33M959.5 520.5l80 38M698 714.5l47.5 20M824.5 775.5l36 16M456.5 638.5l81.5 37.5M689 554.5l73 30.5M789.5 676.5l65.5 28.5M570.5 831.5l60.5 35M792 488l24.5 10.5M889.5 499.5l66.5 28.5M557.5 789l59.5 31.5M757.5 693.5l123 53M693.5 555l78 33.5M615.5 706l110 50.5M655 538.5l38.5 17.5M673 689l33.5 15.5M580 694.5l90 39.5M920 722.5l64.5 28M639 424l32 19.5M434 668.5l71 34M732 652l107.5 51.5M936.5 482.5l69 33M918.5 469.5l55.5 23.5M822.5 702l118 51.5M870.5 622.5l88 40.5M943 496.5l84.5 37M1180.5 665.5l92.5 43M850 670l88.5 39.5M648 571.5l44.5 20.5M1181 655.5l118.5 52M619 830.5l105 54.5M941.5 486l76 35M616.5 669l53 23.5M1030.5 618l33 16M614 684.5l108 45.5M988 536.5l106 46.5M1243.5 668l98.5 45.5M993 527.5l54 25M679.5 537l53.5 23M703 716l68 29M780.5 432.5l58.5 27.5" stroke="#fff" stroke-width="0.9" stroke-opacity="0.8"/><path d="M899 767l159.5 74M1168.5 647l94 43M772.5 533l51 23M810.5 822l145 64M704.5 648l69.5 30.5M496.5 710.5l79.5 37.5M1053.5 662l68 30M736 640.5l113.5 50M652.5 507.5l33.5 15.5M499 737l61 31M811.5 782.5l93.5 39.5M687.5 776l76 36M775.5 816.5l43 20.5M856.5 612.5l112 53M630.5 563l54 23M766.5 470l58.5 27M481.5 639l47.5 21M431.5 612.5l52.5 24M383 592l40 19.5M757 764l116 48.5M926 592.5l31.5 13.5M1066.5 601l71.5 33M513 598l71.5 33.5M632.5 497.5l55 26M888.5 488.5l66.5 30M1108.5 569l82 36.5M986 678.5l111 53M535.5 513l61 30M442 706l36.5 17.5M769.5 748l130 60M818.5 727.5l52.5 25M802.5 538l68 30M515.5 662.5l37 16M817.5 589l103.5 44M647.5 851.5l121 64M937.5 605l96 40.5M1248.5 635l129 59.5M958.5 522.5l37 16.5M771 777l69 33M911.5 775l106 47.5M777 642l54.5 24M1162.5 639l156.5 68M654 473l33 16M1182.5 657.5l58.5 26M1207 677l44.5 20M548 570l54 24M952 631.5l122 51.5M500.5 635.5l48 22M1249 638.5l46 21.5M646.5 793l83.5 37.5M1086.5 638l89 40.5M880.5 793.5l98.5 43.5M494 539.5l45.5 21.5M981 569.5l88.5 37.5M751 801.5l59.5 27.5M480.5 722.5l76 38M982.5 478.5l32 14.5M1056.5 573.5l116.5 52M883.5 531l62.5 27M835 576l93 41.5M1161 587l125 53M883 596.5l55.5 26.5M776 745l71.5 33M1012.5 602l117 49.5M1003 546l69.5 30.5M633 770l129 56.5M1191 690l153.5 67.5M614.5 728.5l50 23.5M874.5 540l72 33M518.5 589l53 23M616 882l76.5 48.5M447.5 643.5l69.5 32.5M1190.5 651.5l59 25M998.5 530l40.5 17.5M380 692l67 36.5M605 793l92 46.5M487 795.5l109 66M414 640.5l29 13.5M393.5 582.5l61 30M807 638.5l34.5 15.5M670 504l55.5 24.5M953.5 448.5l51 24.5M813 454l31.5 13M422.5 690.5l95.5 49M1125.5 639l144.5 69M407 729.5l98.5 58.5M688 584l40 18M762.5 536.5l32.5 15.5M628 576.5l77.5 34M416 736.5l63 37M930 587l37.5 16.5M947 562.5l35 15.5M642 581.5l44.5 21.5M831.5 540l95 41M521 486.5l51 27M597.5 578.5l75.5 33.5M816 664.5l87.5 40.5M1045.5 617.5l45 21M821.5 523.5l72 34.5M635 605.5l37 15.5M943 637l52 22.5M622.5 787l84.5 37.5M708.5 658.5l78 37.5M775 763.5l99.5 45.5M908 793l118 52M792 775.5l83 39M522 685.5l93.5 41M1156.5 698.5l85 36.5M718.5 812l78.5 34M808.5 806l96 45.5M478.5 657.5l68 31M414 682l70.5 33M651 768l123 58M863 442.5l61 28M513.5 628l89.5 39M1079 562l91.5 40M456 696l24.5 11.5M719 750.5l48 22M1085.5 605.5l68 31M636.5 650.5l49.5 23.5M776 669l124 55.5M453.5 710.5l94 46M578 624.5l49.5 22M872.5 609l67.5 28.5M1027.5 721l101 46M1002 642.5l36.5 17M625 696.5l100 45M547.5 702.5l99.5 43.5M1227.5 643.5l85.5 36.5M676.5 748.5l114 54M783 639l79 34.5M303 680.5l51.5 31M310.5 673l57 31.5M936 554.5l75 33M891 500l65 27.5M488 620l78.5 33.5M340.5 725.5l24.5 15.5M989 636.5l119 51.5M707.5 815.5l150.5 63.5M766.5 395.5l47 25.5M628.5 661.5l85.5 40.5M579 613.5l85.5 37M1116 686l111.5 51.5M880.5 466l44.5 19.5M732 452.5l45 22.5M1153.5 696.5l62 26M766 671.5l89.5 38.5M603 508.5l50.5 24M503 693l75.5 31.5M628 559l59.5 26.5M854 724l113 54M682 871.5l60.5 32M686.5 690l54.5 24M755.5 792.5l70 31.5M527.5 674l37.5 17.5M539 818.5l131 76M650.5 553.5l68.5 31M949.5 757l52 25M1095 706.5l136 62.5M337.5 648.5l82.5 42M666 793.5l124 52.5M1002 662.5l85 38M756.5 654l77.5 33M954 536.5l45 21.5M568 516l52.5 26M1003.5 646.5l46.5 21M947.5 669l119 54M1098.5 631l70.5 32M967 755l78 33M578.5 683l90 41M466 678l38.5 17.5M625.5 581l63 30M438 547l48 23.5M511.5 569l75.5 36M439 691.5l99 49M621 627l87.5 41M908 445.5l30 14M482 702.5l94 41M410.5 733l39.5 23.5M853.5 398l30.5 15.5M578 444l48 28.5M618.5 683.5l26.5 12M1095.5 543l47.5 22.5M1019 616.5l45 20M875 675l102.5 47M290.5 689.5l25.5 16M576.5 867.5l100.5 61.5M1141.5 638.5l71 32.5M816.5 749l148 64M584 707l56.5 26.5M710.5 576l31 14.5M816 422.5l26 13.5M370.5 738.5l60.5 36M454.5 544l66.5 32M704.5 674.5l124 57M829.5 709l80.5 38M677 636.5l99.5 47.5M825 504.5l34.5 16M895 619.5l61 28.5M383.5 616l32.5 15M650 859.5l147 76M804 630l36 16M710.5 477.5l40.5 19M1267 665l64.5 28M576.5 484.5l52.5 28.5M470.5 682l73 34M800.5 696l78.5 37.5M1151.5 606.5l54.5 25M776.5 637.5l118.5 51.5M570.5 613l39 17.5M520.5 701.5l83 38.5M875.5 807l119 52.5M811 792l148 71M546 723.5l103 48M727.5 681.5l62.5 27.5M429.5 677l65.5 31M407 764l61 37M1023.5 519l81.5 38.5M1170 583l103.5 45.5M876 787l132.5 61M448.5 656l33.5 15.5M599 612.5l41 19M933 496l48 21.5M887 703l76.5 36.5M677 879.5l134.5 73M730 528l21 9M1074.5 641l38.5 17.5M854 768l64.5 28.5M799.5 575l105.5 46M593 771l113.5 49.5M971 752.5l152 71M865.5 513l46.5 20M733 755l59 25M379 647.5l21.5 9.5M405 639.5l50 23.5M425.5 669l83.5 39.5M549 634l85 40.5M777.5 419l16 9M703.5 830l116 53M810.5 586l98.5 42.5M1201 672l69.5 29.5M843.5 802.5l96 42.5M561 711.5l39.5 17M666 708l90.5 39.5M544 762.5l42.5 20M960.5 757.5l146.5 62.5M563.5 771.5l82.5 41M1043.5 709.5l66 31M1042 527.5l61.5 27.5M913.5 483.5l35.5 15.5M495 685.5l53.5 22.5M572 723.5l120.5 54.5M738.5 487l34.5 16.5M447 743.5l52.5 28M851 771.5l157.5 73M654.5 521l19.5 8.5M912 566l109.5 52M854 582.5l60.5 26M547.5 582.5l56.5 24M1144 620l77 36M728 804.5l76.5 33M587.5 792l64 32.5M618 845l49 27M630 700l73.5 32M350.5 686.5l75 42.5M634 827l45 22.5M728.5 682l79 35.5M1056 681.5l74.5 34.5M1067.5 560l45 21.5M762.5 836l160.5 73M770.5 423.5l53.5 26M1008 600l51 21.5M352 676.5l39.5 21M538.5 508.5l19 10.5M751 498.5l72.5 31M862.5 546.5l97 46M656 604.5l40 17M581 719.5l50 23M997 579.5l122.5 53.5M1159 695l160 71.5M467 749l47 24.5M905.5 510.5l52 24.5M770 504.5l80.5 38M705 724l41 18.5M905.5 431l78 36M850 453l41 19M585 736l76.5 35M598 874l79.5 48.5M864 689l60.5 27.5M1146.5 663.5l83.5 39.5M633.5 554.5l56 24.5M877 434l20.5 9.5M656 609.5l59 27M531.5 672l29.5 14.5M525 627.5l70 30M742.5 773l123 58M494 756l52 27.5M417 772.5l87.5 56M747.5 526.5l45 21M558 640.5l96 44M821.5 698l132.5 59M685 873.5l81 40.5M657.5 639.5l36 17M798 752.5l117 54.5M539.5 606.5l62.5 28.5M700 814l141.5 61M755.5 729.5l52 24.5M946 562.5l71 32M546 612.5l31 15M786.5 636.5l42.5 20M795 824.5l128.5 59M748 654.5l61 27.5M311.5 632l20.5 11M548.5 784l126 66.5M454 759.5l30 17M560 846.5l91 55.5M576 803l97.5 50.5M1081 653l44 21M638.5 836.5l146 74M921 730l46.5 20.5M517 661l30 14M536.5 496.5l26.5 14.5M663 703l85.5 38.5M579.5 590l87.5 40.5M786 695l67 32M795 808.5l55.5 26.5M885 442l48.5 22M724.5 443.5l59 29.5M950.5 461l87 39M845 489l34.5 14.5M531 649.5l52 22.5M855 797l50.5 23.5M973 624l72.5 31.5M1010 678.5l133 60M757 753l57 25.5M533 601.5l26.5 12.5M818 488.5l21 10.5M476.5 595l82 38.5M766 591l76 34M649 857.5l63 34M871 602l52 24M475.5 511.5l27.5 15M589.5 738l128.5 58.5M817.5 488l86 39.5M801 502.5l35 16M648.5 646.5l57 24.5M665 772.5l117.5 56M712.5 835.5l75.5 32M661.5 619.5l45.5 20.5M489 597l27.5 11.5M846 734l95.5 42M917.5 524.5l30.5 13M722.5 512.5l43 20.5" stroke="#fff" stroke-width="0.9" stroke-opacity="0.6"/><path d="M593.5 608.5l93.5 43.5M934.5 521.5l100.5 42.5M1234.5 647.5l90.5 41.5M560.5 606.5l46.5 22M727 643l79.5 34M724 655.5l61 25.5M348 630.5l40.5 20M933 560.5l97.5 41.5M975 499l44 19M728 725.5l116.5 51M473 520l32 17.5M808.5 705.5l57 25.5M511 760l53 27.5M666.5 550.5l43 20M841 478.5l47.5 19.5M1143 654.5l35.5 16.5M349.5 624.5l50 23M734 794.5l130 61.5M1113.5 647.5l117 53M558 843.5l130.5 78M898.5 606l70 31.5M375 739l99 63M1198 663.5l86 38M868.5 713.5l119.5 52M508 715l69 29M1150.5 636l95 44.5M438 755l60 36M659.5 795l60.5 25.5M768 535.5l66 29M510 643l23.5 11M538.5 734.5l91.5 42.5M736 529l71.5 32.5M714.5 797.5l138 62M362 728l101 59.5M622.5 871.5l91.5 54M1131 610l120 56.5M638 564l83 35M658 782l59.5 28M546.5 728l37 16.5M722.5 723.5l85 36.5M483.5 777l40.5 23M574 671.5l62.5 27M522 612l42.5 19M685 611.5l86 37.5M714 827l77.5 33.5M740 828l161.5 71.5M659.5 752l88 42M623 834.5l75 40M798 720l122 52M493.5 675.5l30 14.5M985 514.5l36.5 17M374.5 565.5l43.5 22.5M585.5 837.5l35 21M971 709l62.5 26.5M947.5 510l84.5 39M738.5 708l57.5 26.5M596 435l50.5 30.5M649 774l49 22.5M1181.5 686.5l153.5 69.5M686.5 619.5l102 45.5M698.5 801.5l40 19M717.5 684l49.5 22.5M790 722.5l110 46.5M845 702l111.5 49M998.5 606l47 22.5M626 478.5l31.5 15.5M598 612l81 35M756 736l46 21M738 716.5l44 21M626.5 585.5l69.5 30.5M703.5 735l95 44M913.5 686l82 36.5M710 811.5l110.5 52M725 805l144 67M615 638.5l71 31M752 619l52.5 24M677 728l122.5 54.5M409.5 724l84.5 45.5M730 634.5l54 25M498.5 790.5l93.5 52M847 532.5l34.5 17M1010 547l115 49.5M996.5 634.5l32.5 14.5M1029 721.5l147.5 67.5M806.5 551.5l25 11M903.5 773l108.5 49.5M643 792.5l99.5 43M694 647.5l99.5 43M738.5 656.5l77 36.5M728 646.5l118 53.5M953.5 770l162 72.5M1106.5 573.5l50.5 23M810 800.5l65 30M575.5 598.5l30 13.5M989 593.5l81 37.5M900.5 544.5l51 22M617 871l52.5 30M629 830.5l122 63M632 827.5l72.5 36.5M779.5 841l98.5 42M611 740l117 53.5M1033.5 599l46 21M338.5 527.5l16.5 10.5M921 537.5l33 14.5M873.5 545.5l26 11.5M314.5 571l20.5 12M1059 607l118.5 53.5M811 654.5l98 46.5M489 715l86.5 39.5M640 533.5l38.5 17M534 572.5l55.5 23.5M841.5 648l96 44M793.5 638l115.5 53M635 827.5l76.5 40.5M717.5 699l72.5 33M1029.5 636l84 39.5M842.5 606.5l58 25.5M681 851.5l94 49M917.5 698l55.5 24M1066.5 597l101.5 44M722.5 809l111 46.5M974.5 462l75.5 35.5M1060 616.5l55.5 26.5M865.5 443l20.5 9.5M560 811.5l125.5 68M693 705l103 49M789 702l139 61M440 596.5l22 10.5M1019.5 742.5l125.5 59.5M935.5 700l37.5 16.5M1155.5 622.5l62 26M1234.5 639l53 24.5M471.5 797l98.5 58.5M1226 642l69 30.5M610 884l110 64M809 598.5l84.5 40M803 610l98 41.5M1015 619.5l33.5 15M1013 619l127.5 58M945 665.5l129.5 56.5M932 729.5l104 47.5M322 714l39.5 23M530 780l113 58.5M404.5 709l91 52M649 593.5l47.5 21.5M670.5 653.5l85.5 39.5M745.5 691.5l110 52.5M620 806.5l116 53.5M1165 583.5l142.5 60M713 570l88 42M997 644.5l92 39M890 441.5l74 32M1227.5 629.5l88 41.5M936 586l116 51.5M1009 491.5l95 41.5M790 799.5l72 30.5M822.5 666.5l45.5 19.5M1070.5 566.5l37.5 16M1049.5 531l83.5 40M836 475l62.5 29.5M569.5 692.5l116 50M822.5 562.5l71.5 30M658 872l106.5 56M888 481.5l76 35.5M498 643.5l43 19.5M1157.5 590l137 62.5M583.5 844l72 43.5M893 572.5l65 28.5M945.5 771l50.5 21.5" stroke="#fff" stroke-width="1.2" stroke-opacity="0.8" stroke-dasharray="1.5 1.2"/><path d="M1128 572l66 30M1059 627l60.5 28.5M531 778l110 57.5M722.5 713l102.5 44M768.5 833l61.5 26.5M960 689.5l62.5 27M847 784.5l164.5 69M869 569.5l98.5 43.5M556.5 834l84.5 50M1234.5 672.5l75 35M850 736l139.5 61.5M899.5 705l48 22M612 710.5l73.5 33M1112 653.5l133.5 61.5M758 624.5l30.5 14M963 642.5l62.5 29M627 734.5l77.5 35M614 725.5l52.5 23.5M1068 631.5l114.5 53M455.5 769.5l51 29M694 773.5l114.5 52M488 716l40 18.5M1116 615.5l125 54.5M989 664.5l34.5 15M772 601.5l105 47M683.5 634l74.5 34M1119 551.5l116.5 49M651.5 664l79.5 36.5M857.5 720.5l49 22M547.5 742l119 55M1089.5 711.5l109.5 52M559.5 741l113 50.5M727 781.5l55.5 25" stroke="#fff" stroke-width="1.8"/><path d="M1093.5 697l114 52.5M948 549.5l109.5 51M581 621.5l31.5 15M1025.5 610l131.5 59M661.5 679.5l77.5 35.5M1026.5 581.5l102 49M759 558.5l49 21M771 517l31.5 13.5M379.5 593l66 31M1202 601.5l50.5 22.5M732.5 683l116.5 49.5M900 702l110.5 51M887 700.5l86.5 36.5M600.5 616.5l41.5 19M966 700.5l45 21M1046 646l140.5 66M603 814.5l101.5 52.5M562 834.5l61 38M908 662l74 33.5M474 672.5l101.5 46M428 704.5l31.5 15M976 724.5l63.5 27M986 741l82.5 38M823.5 519l90 42.5M1055.5 518.5l38 17.5M506.5 736l63 31M360.5 572l22.5 12M519.5 746.5l77 37M741.5 548.5l26 12M1013.5 623l55.5 23.5M685 602.5l85 40M923 500.5l66.5 30M791 529l50.5 23M525 567l72.5 30.5M1148.5 618.5l71 33.5M418 558.5l31 16.5M827 461l25 11M1027 499.5l95 45M846 727.5l98 41M1238.5 657l128 59.5M859.5 637l32.5 13.5M1038.5 597.5l101.5 47.5M887 764.5l130 60M866.5 553l82 37.5M889 622.5l54.5 26M811.5 598.5l93.5 40.5M861.5 572.5l100 47.5M950.5 465l23.5 10.5M879 497l64 31M750.5 672l54 24M975 750.5l152.5 65M821.5 797.5l162 71M1187 645l102 44M875 679l75 33.5M1104.5 568.5l104 45.5M572.5 531.5l48 22.5M1010 675.5l146.5 66M762 742.5l104.5 50.5M378.5 690l84.5 44.5M989.5 640l133.5 56.5M464 693l84.5 40.5M766 624.5l82.5 39.5M512 733.5l62.5 29.5M885 625l73.5 34.5M608.5 706l30.5 14.5M792.5 528l32 14.5M1243.5 673.5l64 28M782.5 426.5l23.5 12.5M419.5 755l65.5 40M613 621.5l43.5 19.5M924 547.5l85.5 38M1020 626.5l45.5 20M797 826.5l157 71M793 472.5l72.5 33.5M291.5 695.5l31 18.5M1162.5 649l138.5 63M810 528l89 41M592 607.5l24.5 11M851.5 489l74.5 33.5M645 730l125 53.5M741 718.5l95 41M542 661l103.5 44.5M693.5 616l29 12.5M670.5 849.5l143.5 70.5M1036 541.5l52 22.5M993.5 512l27.5 12.5M608 526l62 27.5M1020.5 561.5l58.5 24.5M594 556.5l24 11M692 592.5l28 12.5M987 761.5l97 41M413 599l36.5 16M617.5 775.5l75 35M1221 678l112 50.5M495 786.5l67.5 39M921 667.5l116 53M243 573.5l13 8M1030.5 565l69.5 32.5M884.5 649.5l98 44M824.5 785.5l146.5 62.5M961.5 525.5l108 47.5M579.5 745l34 14.5M537.5 689l26.5 12M851.5 813.5l128.5 57M795 524.5l78.5 34.5M766 706l40 18.5M902 745.5l89.5 40M602.5 616.5l37.5 16.5M413 572.5l30 15M745.5 756.5l60 26.5M807 559.5l78 33.5M995.5 731l99.5 43.5M697 643.5l111.5 48.5M675 637.5l34.5 16M443 638.5l39.5 17.5M1048.5 660.5l35.5 15M719.5 615l40 17.5M842 542.5l37.5 16.5M686 652.5l105.5 47.5M899.5 485.5l76 34.5M578 669l72 34.5M818 757.5l121 51.5M710.5 769l106.5 49M519 613.5l81 36M975 645l129.5 55M1029 729.5l137.5 63M1228 672l56 24.5M675 802.5l37.5 17M393.5 718l65 37.5M1056.5 634l137 62.5M533 586l73 31.5M895 779.5l154.5 71.5M983.5 551.5l58.5 28M983 551l54 23.5M550 606l89 40.5M906.5 549l38 17.5M965 484.5l71 30.5M757.5 735.5l80.5 36M724.5 706.5l63 27.5M1092 671.5l87.5 41M670 698.5l60 27M427.5 614.5l37.5 16.5M714.5 755.5l77 35M865.5 646.5l37 15.5M643 585.5l32 14.5M795 686.5l129.5 55M688 818l121.5 58M1090 532.5l90.5 40M860.5 407.5l17 8.5M990.5 564l86 41M730 641.5l53 23M1203 611l64 29M510 751l57.5 29M688.5 704l94 42.5M1009.5 535l53.5 25M847.5 705.5l64.5 29.5M929.5 464l70 31M545 696.5l108 51M589 603.5l46.5 21.5M1041 691.5l89.5 38M782 685.5l127.5 58M528.5 718.5l78.5 37.5M618 754l82 38M602.5 636l26.5 12M605.5 661l102.5 44M762.5 845.5l108.5 47.5M651.5 526l45.5 20M609.5 574l55 25M745 738l100.5 46M687 555l59.5 27.5M860 771l146 66M821 686.5l128.5 60.5M592 566.5l76 36.5M935 782l99 41.5M1094 671.5l70.5 30M597 698l63.5 30.5M622.5 511l25 12.5M993.5 745l112 51.5M854 444.5l78.5 36.5M1100 620l82.5 36.5M1019 493l54.5 25M1154 651.5l138 62M1141 630.5l63 27.5M790.5 630.5l38 17.5M966 567l61.5 29.5M815.5 687.5l76 36M646 775.5l102.5 44M895.5 511.5l70.5 33M963.5 594.5l44.5 19.5M858 574l32 14.5M750 787.5l135 59M923.5 661l68.5 32M810 619l111 50M568 732l54.5 24.5M596.5 616l60.5 27M530 547.5l28 12M691.5 572l42.5 18.5M486 710l35.5 16.5M876 612.5l47.5 21M807.5 548l86.5 38.5M890.5 748.5l149.5 67.5M786 771.5l39.5 18.5M578 710.5l27.5 11.5M844.5 546.5l40.5 18.5M779.5 611l43 19M469.5 648l22 9.5M672 705.5l68 31M780 774l64.5 28M751.5 626l101.5 48M989.5 508l89.5 40.5M847.5 810l79 34M470 599.5l42 19.5M478.5 791.5l81 50.5M516 718l54.5 23M676.5 649l73 31.5M667 728l134 60.5M505.5 594.5l64.5 30.5M379 679.5l38 20M988.5 685.5l47 21.5M1165 693l133.5 59M1112 718.5l135.5 59.5M960 672.5l70.5 31M604.5 864l136.5 78M640 582l79.5 36.5M961 683l126.5 53.5M916 700l114 54M617 773.5l115 48.5M692.5 779l51.5 22.5M908 669.5l33 14.5M721.5 839l47 22M1116 613.5l130.5 57M490 705.5l104 44.5M546.5 838.5l139.5 81.5M412 608.5l60.5 27.5M905 736l97.5 42.5M998.5 737.5l47.5 22.5M556 737l119 56.5M665 812l97.5 43M790.5 477.5l70.5 33.5M1025.5 662.5l104 46.5M664 617.5l90 42.5M400.5 685.5l68.5 33M458.5 490.5l46 27M1181 629l56.5 24.5M1169 697l96 45M560 441l18 11M813.5 476.5l32 13.5M690 589.5l32 14.5M805 631l60.5 26M920 497.5l69.5 31M754.5 645.5l39.5 19M583 611l38.5 18M702.5 613.5l49.5 22M475 740l73 36.5M1162.5 666.5l63 28.5M677.5 598.5l23.5 11M1036.5 655.5l64 28.5M1161.5 598l127.5 58M633.5 651.5l70.5 33.5M687 697.5l68 31.5M536 649l70 30M612.5 700l112 50.5M1057.5 688.5l63 28M609.5 675l45 20.5M611 801.5l100 50.5M701 470.5l19 10M598.5 861.5l40 25M1055 517l64 28M739 606l53.5 23M682.5 560.5l37.5 16.5M751 638.5l83 37.5M762 691l30 13.5M948.5 648l107 49M986.5 661l76 35M323.5 698.5l71.5 42.5M1052.5 595.5l51.5 24M860.5 469.5l28 13M514.5 593.5l26.5 11M779.5 579.5l95 44.5M504 565.5l18.5 9M622 704.5l104 48.5M991 678l141 63M421 664l32.5 14M354 722l46.5 27.5M901 763.5l99.5 46.5M890.5 636l118 55M1045.5 700l41.5 19.5M1108.5 619l61 29M757 670l52 24.5M666.5 453.5l22 12M673.5 763l44.5 19.5M770.5 764.5l148.5 71M573.5 780.5l53 26.5M911 689.5l145.5 65M882 589l74.5 35M519.5 714.5l73 31.5M1091.5 536l117 54M641.5 595.5l30.5 13.5M1059 583.5l114 49M677.5 834l73 35M783 566l67.5 31M508 784l64.5 36M720.5 835.5l156 70.5M932.5 506.5l23.5 11M585 476.5l30.5 16.5M573 506.5l25 12.5M1155 708.5l161 73M722 538l21.5 9.5M971 477.5l73.5 32.5M417 560l31.5 16M518.5 661l93.5 41M447 696l85 39M1030.5 718.5l88.5 41M972.5 527l66.5 29.5M1090 709.5l163.5 71.5M1238 674l57.5 26.5M706.5 492.5l34.5 16.5M1026 706l147.5 65M416.5 740l51 28.5M1256 641.5l150.5 69.5M692 777l111.5 47M848.5 739.5l116.5 50M666.5 597.5l47.5 20.5M782.5 696.5l51.5 23.5M1116 610l140.5 60M753 466.5l60 28.5M435 609l42.5 19M753 520l27.5 12.5M684.5 702l47.5 21.5M878 719l142 65M1027.5 692.5l89.5 39.5M782 609l51 23.5M794 589l38.5 17M1266 643l132 59.5M960.5 704.5l105 49M592 736.5l48 22.5M469.5 600.5l84.5 37.5M815.5 829l100 44M1030.5 709l104.5 45M661 617.5l39 18.5M441 738l86.5 49M529.5 608.5l88.5 40.5M1119.5 596l93 39.5M855 625.5l31 14M507 666l93 40.5M523 648l33.5 15M1233.5 649.5l119.5 57M1151 622.5l148.5 70M979 751.5l45 20M631.5 610.5l35 16.5M395.5 678l64.5 33.5M592.5 730.5l120 54.5M649.5 753l58.5 26.5M1043 610.5l92 43M821.5 541l79.5 34M916.5 476l72 33.5M416 757l75.5 45M889.5 771.5l76.5 35M886 786.5l63 29M534 833.5l62.5 39.5M879.5 533.5l39.5 17.5M382 622.5l26 12.5M503.5 699l72 33.5M1114 594.5l64.5 29M1095 638l136.5 58M462 534.5l33 17.5M990.5 565.5l74 35M961.5 621.5l123.5 57M1169 668l55 23.5M1110 616.5l83 35M548 591.5l63.5 29.5M524.5 603l53.5 24M831.5 539l48.5 22.5M660.5 679.5l31 13.5M534 831l95.5 55.5M636.5 684l110.5 53M571 810l55 30M779 538.5l37.5 17M605 690.5l32 15M857.5 779l115.5 51.5M895.5 706.5l68.5 32.5M771 458l76 35.5M995.5 709l46 19.5M940.5 655.5l111 51.5M930 683.5l94.5 44.5M666.5 525l67 29.5M394.5 740l37 21.5M1015.5 561l57 26M465 672.5l69 30M591 663.5l40 18M1221.5 652l63 28M582.5 657l55.5 24.5M935.5 601l122.5 53M513.5 766l93 46.5M366.5 623.5l70.5 30M814.5 466.5l41.5 18M647.5 881.5l69 42M702 693.5l82.5 39M902 781.5l72 31.5M1006 749l98 45.5M849.5 433.5l47 20M834.5 797l45.5 21M655.5 450l14.5 8.5M599 806l93 44.5M977.5 624.5l85 40M938 637l106.5 45.5M560.5 638.5l30 13.5M420 710.5l82.5 44M724 587.5l89.5 38M752 668.5l43.5 20.5M528 578.5l19 9M589 494l61 30M671.5 669l64.5 29M561.5 753l37 16M573 554l82.5 35.5M690 861.5l98 51.5M563 783.5l59.5 30.5M743 825.5l146 64M1022 696.5l119 51M509 698l111 51M778.5 517l87.5 40.5M679.5 566l41 17M574.5 838l45.5 25.5M702 782l128 55M651 724.5l125.5 56.5M859 525l53 23.5M732 601.5l65.5 30.5M926 685.5l44 21M622.5 621.5l48 22M1164.5 677l46 20M617 681l50.5 22M950.5 654.5l115 48.5M754.5 629l89.5 39M330 697.5l34 21M725 729l138.5 59M518.5 614l28.5 12M544.5 810l106 58.5M392.5 697.5l27.5 15.5M460 663.5l94.5 42.5M554 501.5l20 10.5M819 652l41 18M868.5 428.5l53.5 25.5M691 561l56 26M1141 625.5l40.5 19M999.5 737.5l139.5 60.5M1091 585.5l64 29M805.5 711.5l136.5 64M547.5 594.5l88.5 42.5M562 547.5l45 21.5M601 542.5l18.5 8.5M646 839.5l134.5 67.5M693.5 510l48.5 21.5M1122 621.5l125 56M1051.5 693l39.5 16.5M1141 618l140 61M1167 602.5l115 53.5M521 544l44 21M769.5 428l53.5 28M824 614l49.5 22M610.5 692l104 49M746 835l113.5 48M567 826l66 36M977.5 508.5l81.5 36.5M727 666l59 24.5M575.5 851l53.5 33.5M1012.5 543l80 37.5M650.5 734.5l48 22.5M479.5 710l32 14.5M763.5 619.5l40 17.5M793 536l77 32.5M594 640.5l91.5 43.5M773 554.5l71.5 30M780.5 565l92.5 40.5M844.5 758l73.5 34.5M530 796l106 61M442.5 748l44.5 26M1175.5 647.5l149.5 68.5M853 649l73 32.5" stroke="#fff" stroke-width="1.2" stroke-opacity="0.6"/><path d="M1023 653.5l43 20M1100.5 698l75 34.5M1289 659.5l51.5 22.5M907 788.5l158 74M453 738l79 43M721.5 783l86 40.5M803.5 553.5l98.5 42.5M874 510.5l95.5 43.5M1007.5 755l141.5 63.5M445 711.5l60.5 29.5M1151 700l42.5 19M605.5 878l129.5 80M995 675l128.5 57.5M864.5 796.5l62.5 27.5M1176.5 651l137.5 63M383 713.5l86 47M712.5 543l62 27M620.5 771l80 34M833.5 645.5l73 31M486 709l93.5 45.5M1118 647l79 34.5M1071 722.5l66 29M644 766.5l126 60.5M1136.5 688.5l148 65.5M697 633l68 32.5M724 843l68 30M857 539l55.5 23.5M792.5 699l45 19.5M716.5 598.5l88 41M538.5 830l38.5 23M937.5 550l62 29M1016.5 542.5l43 19M505.5 769l58 31.5M858 574.5l84 38M938.5 511l79.5 36M485.5 691l61.5 27.5M773 618.5l97 43M886 462.5l69 29M1219 680.5l72 34M491.5 805l98.5 60M757 755l97 45.5M643.5 823l63 32M923 570.5l72 30.5M656 831.5l46.5 24M548.5 698l58 26M838 806l63.5 28.5M1142 573l46.5 20M796.5 513.5l92 40M943 514.5l61.5 27.5M976.5 548l71.5 30.5M762 709.5l47.5 21.5M873 530.5l99.5 42.5M883.5 716.5l55.5 24.5M825.5 592l111 50M1012 517.5l66 29.5M1036 558l46 21M609.5 646l81.5 35M921.5 707.5l134 60M755.5 715l46.5 20.5M846 679.5l82 36.5M947 628l34 15.5M694.5 507.5l67 31M777 551.5l60 26.5M814 796l67 29.5M1139 697.5l88.5 40.5M837 538.5l90 42.5M1223 650l124.5 57.5M907.5 624l110.5 51M452.5 702.5l85 40M798.5 647.5l74 35M1193 694l44.5 19M853 551.5l91 41M656 613.5l32 13.5M713.5 611.5l30 13M401.5 750l42 25.5M677.5 807.5l50.5 22.5M985 765l39 17M854 547l59 27.5M974 740.5l145 69M1176 691l160 67.5M608 566l20 8.5M819.5 548.5l82.5 35.5M882.5 505l55 26M1253 646.5l77 33.5M1130.5 569l124.5 56.5M752.5 603l104 45M265.5 638l57.5 33.5M1163.5 655.5l148 65M640 532.5l55 25M634 856l155 88M651.5 773.5l110.5 49M819 585l39.5 17M1044.5 727.5l111.5 52M720 838l76.5 32.5M999 734.5l63 30.5M1105 622.5l113.5 48M1108.5 721.5l149 65.5M748 562.5l90.5 42M770.5 602l68.5 29.5M972 619l103.5 43.5M497.5 651l42 19.5M436.5 700.5l60 29M729 728l118.5 56.5M1095.5 668.5l151 63.5M1083.5 703l134.5 63.5M527.5 692l28.5 13M888.5 536l35 16M774.5 504.5l68 29M1261.5 645l40 18M576.5 696.5l117 52M895.5 696.5l140.5 67M712 702.5l115.5 49.5M970 520l67 28.5M1203.5 655l150.5 65.5M681.5 874.5l63.5 35M1099.5 563l119.5 55.5M825 663.5l113.5 50M873 695l54 25.5M393.5 716.5l66.5 36.5M913.5 636.5l87 36.5M1003.5 649.5l113.5 51M1041 556.5l61.5 27.5M953.5 619l67.5 30.5M620.5 759l117 51.5M1270 662.5l124.5 57M824.5 659l124 52M576 741l128 56.5M638 843l97 51.5M569 578l35 15.5M1282 651.5l146.5 63M936.5 738l77 37M955 719.5l156 66M401.5 739l90 52M1085 687l124.5 53M972.5 547.5l97 42.5M445.5 758.5l83 50M1090.5 599.5l137 60M756 626l108.5 50.5M853.5 670.5l40 17.5M887 637l63 29.5M670 737.5l97 40.5M525 736l48.5 23M394 754.5l101.5 60.5M492 777.5l99 53.5M686.5 756.5l90 39.5M405 596l58 24.5M566.5 634.5l25.5 12M919.5 740.5l83 38M745.5 663l37 17M1201.5 637l70 33M1048 547l49.5 22.5M996.5 542.5l60.5 27M909 627l76.5 36M1195 693.5l58.5 27M987.5 681l81.5 36.5M823.5 467.5l24 11.5M898.5 677.5l116.5 50M957.5 575l75.5 36M734.5 850.5l127.5 56.5M937.5 520.5l52.5 23M1090.5 602.5l126 57M1015.5 576.5l30 13M604.5 864.5l61 36.5M900.5 766l40.5 17.5M794 632l58.5 27M881.5 755.5l129 54.5M574.5 865l40.5 25M531.5 761.5l77.5 39.5M1088 592.5l92 39M827 509l48.5 21M966.5 490l52 22.5M942.5 572l116.5 51M1042.5 726l45 20M682.5 846l53 24.5M1237 645.5l93 44M821.5 752.5l107 45M713.5 638l82.5 36.5M546 640l33.5 16M756 778l112.5 53.5M432.5 728.5l40 22.5M759 813.5l72 30.5M819 632l51 24M1277 651l136.5 62M746 666.5l31.5 14.5M725.5 729.5l127 56M689 628.5l101.5 44.5M702.5 577.5l33 14.5M593.5 541l65 30M794.5 591.5l86.5 39M1051.5 609l107 45.5M763 740l41 18.5M707 750l43 19.5M738 645l88 39.5M1067 694l113 50.5M763.5 793.5l154.5 68.5M740 683.5l58 24.5M868.5 550l46 21.5M766 565.5l95.5 40.5M483 715l35 16.5M1036.5 580l88.5 39M627 624l29 12.5M1125.5 625.5l93 40.5M1188 622.5l150.5 64M1096 646l142 67M493 637l90 42.5M1199.5 627.5l101.5 48M1106.5 688.5l150.5 71M1031 577l56.5 25.5M936.5 550.5l54.5 26M490.5 673.5l59.5 25M845 556.5l99 44M655 726.5l77.5 36M592 781.5l120.5 59M535.5 723.5l72 31.5M844 666l30.5 13M820.5 765l42 19.5M722.5 849l40 19.5M1014.5 589.5l108.5 48.5M1039.5 740l110.5 49M752.5 719.5l42 18.5M441.5 707.5l66 33M895.5 517.5l75.5 34.5M1118.5 557.5l132.5 58M605 774.5l120 54M911.5 773l46.5 20M778 745.5l127 58.5M784 697.5l127.5 57M904.5 581.5l70.5 32.5M842 563l88.5 39.5M1104.5 689l159.5 70.5M364 680.5l89 48M955 563l77.5 37M739 601.5l106.5 50.5M712 636l52.5 24M1217.5 648.5l108 50M912 642.5l128.5 55M526.5 660.5l71.5 30.5M693 823l42 19.5M983 521l47.5 20.5M633 721l84.5 40M600 865l46 28M816.5 809l69 29.5M1102.5 656l151 66M641 823l51.5 26.5M1081.5 713l92.5 42M853.5 588.5l26.5 12.5M1069.5 699l118.5 51M563 617.5l25.5 11M621.5 884.5l85.5 54M1017 568l74.5 32M823.5 751.5l122 56M817 767.5l156.5 74M889 544.5l56.5 27M1098 601l115.5 54.5M725 562l65 30.5M919 560l112 49.5M774.5 622.5l83 39M1040 533.5l117.5 50M1111 579.5l85 37.5M816.5 754.5l51.5 24M1023 552l48 22.5M600.5 766.5l73.5 32M669.5 729l104 45.5M971.5 605l80 35.5M789.5 621l59.5 27M603 804l76 39.5M1114 614l111 49.5M858 662.5l53 22.5M707.5 640.5l65 28.5M531.5 620.5l84 35.5M734.5 617l84 38.5M1065.5 700.5l101.5 49M470.5 637l70 32.5M711.5 807.5l117 49.5M406 645l24 10.5M654.5 606l25.5 10.5M429 735.5l55.5 30.5M844 565.5l110 47M959.5 760.5l147.5 68.5M571.5 851l102.5 65.5M692 504l33.5 15M957 490.5l79.5 34M1220 676.5l54.5 24.5M860.5 763.5l82.5 36.5M652.5 796.5l46.5 21.5M859.5 613.5l29 13M605 739.5l116 50.5M967 643l124 54M932.5 635.5l62.5 29.5M861 740l35.5 15.5M1108.5 617.5l135.5 59.5M1082.5 657l120.5 55M631.5 877.5l78 48M685 841.5l102.5 50M732 536.5l63 29.5M1005 608l60 29M851 470l54.5 23.5M732.5 805.5l111.5 52.5M794 696.5l74 32M921.5 722l125.5 56M798.5 773.5l136 57M951 695l34.5 14.5M766.5 492.5l28 13M762 769.5l130.5 56.5M701 696l67.5 30M484.5 773.5l51.5 29.5M658 798.5l67 31M1028 575.5l110.5 52M1076 538.5l30 14M1133 668l88.5 42.5M762.5 740l94 42.5M629 629l47.5 22M1021.5 685.5l83.5 39.5M520.5 750l68 32.5M848.5 432.5l58 26M1089.5 666.5l156 69M820 512l75 34M754.5 811l102 45M1078 615l58.5 26.5M977 663l35.5 17M821 613.5l103.5 49M985 505.5l86.5 39.5M1186 695l108.5 46M620.5 687l51.5 22.5M894 555.5l58.5 26M790 637.5l107.5 45.5M910 550l47 20.5M973.5 651.5l69.5 29.5M572 795l92 48.5M859 594l101.5 43M895.5 526l23.5 11M926.5 747.5l61.5 26.5M797 604.5l32.5 15.5M977 495l63 27.5M894.5 526.5l69.5 32M683.5 727l134 57.5M803 580l57 24.5M584.5 593l41.5 19M751 813.5l146.5 68.5M647.5 614.5l54 23.5M632 756l108 47M678 681l45 20.5M824.5 779.5l96 46M821.5 591l95.5 42.5M740 623l98 45M945.5 482.5l76.5 32.5M668.5 749l98.5 47M857 808.5l41.5 18.5M693.5 656l105.5 44.5M547 720l67 29.5M814.5 693.5l43 19M572.5 639l66 29.5M566.5 809.5l100 54M891 547.5l32.5 15M829 457.5l19.5 9.5M673 583.5l55 26M549 748.5l47 21M601.5 841.5l103.5 56M723 842.5l161 70.5M915.5 696.5l125 55.5M894 524.5l37.5 16.5M420 561.5l19.5 9.5M573 642.5l79.5 37M917 560.5l47 22.5M647.5 842l148.5 75M617 752l108.5 51.5M654.5 626l83 37.5M939 702l82 34.5M792.5 510l79.5 34.5M774.5 731.5l94 40.5M581.5 605.5l41 18M501 821.5l33 20M583.5 768.5l32 14M548.5 769l107 53M696 549.5l78 34M1269 666.5l150.5 64M755 688.5l126.5 60.5M726 538l78.5 36M998.5 575l29.5 14M843 673.5l130 58.5M963 679l130.5 61M725 734l37.5 18M821 568l66 29.5M667 772l51.5 23.5M491.5 663.5l29 13M755.5 549.5l62.5 29M1036.5 711l131.5 63M1167.5 670.5l134.5 64.5M947 525.5l35.5 15.5M742 697.5l90 41.5M578 739l90.5 38.5M983 531.5l69.5 31.5M836 699.5l102 46M1262 646.5l53.5 23.5M1010 713l72 34M1138.5 601l57 25M431.5 653l69 31M844.5 592l109.5 48M515.5 635.5l88.5 39M511 626.5l37.5 17M808 619l40 18M485 717.5l49.5 24M907.5 429l29 13M533.5 735.5l73.5 35.5M739.5 855.5l119 52.5M1018 551.5l106 47.5M494.5 777l106 60.5M859 720.5l73.5 32M564.5 816l134 74.5M595 595l75 31.5M813 731l67 30M861 760.5l52.5 24.5M407 744.5l79.5 46M467 723.5l100 50.5M740 460.5l43 20M814 805.5l138 62.5M592.5 774.5l87.5 39M615 654l68 32M1123 648l121 51M599.5 623.5l54.5 25M1080 729l99.5 42M1169 590l46.5 20M1122.5 665.5l132.5 56.5M777.5 739l88.5 42M948.5 685l124.5 59.5M603 697.5l74.5 32M947 622l80.5 37.5M625.5 702l96 44.5M726 857.5l154.5 69.5M955 603.5l113.5 48.5M964.5 708.5l65.5 30.5M764.5 630.5l39.5 18.5M890 560l101.5 46.5M1053 618l80 35M348 591.5l17.5 9M601.5 706.5l40 17M621.5 699.5l55 25" stroke="#fff" stroke-width="1.5" stroke-opacity="0.6"/><path d="M612.5 667.5l28 13.5M811 784l142.5 60.5M769 769.5l94 39.5M678 642l88 41M506.5 731.5l41.5 21M572 623.5l66.5 31.5M737 634l96.5 42.5M562.5 632.5l78 34M688.5 501.5l50 22.5M754.5 761.5l123.5 53M612 767.5l121 57M988.5 553.5l108.5 46.5M897 739l39.5 17M693 582.5l49 21.5M878.5 484l34.5 15.5M819 417.5l58 27.5M574 539.5l24.5 10.5M916 754.5l63 30M736.5 626.5l47.5 20.5M499 787.5l77 42.5M454.5 667l32.5 14M892.5 547l90 42.5M947 658l122 58M955.5 578.5l105.5 49.5M482.5 684l64 30M998.5 577.5l37 16M841 786.5l122.5 52M512 737l31.5 15M832.5 662.5l58 25.5M1088.5 552.5l106 47M900.5 609.5l34.5 15.5M849 671.5l109 52M753.5 611l47.5 20M985.5 540.5l55 25M1164.5 591.5l41 17.5M1100 723l96 44.5M741.5 704.5l107.5 46M775 684l30.5 13.5M495 761l52 29M714.5 832l43.5 18.5M667 756.5l131 58.5M777 767.5l140.5 60.5M794 741l68.5 31.5M817 549.5l64.5 30M933 755l55 25M549.5 722.5l98.5 45M777.5 480.5l43.5 19.5M906.5 559.5l96 42.5M1126 616.5l126 60.5M1126 599.5l116.5 53M1256.5 671l114.5 53.5M976 747.5l83 39.5M404 758.5l69.5 41M606 743.5l76.5 34.5M809 552l27 11.5M904.5 539.5l66 28M996.5 489l30.5 14M1210 687l159 74.5M511.5 709.5l94.5 44M773 807.5l78 36.5M328.5 705.5l21.5 13M682 577l30 13.5M1150.5 617l60.5 25.5M636 745l54 23.5M1062 681l61 27M694.5 676l37.5 16M961 479l50.5 23M1073.5 707.5l150.5 66M498 649l77.5 35M1064 707.5l120 57M958.5 681l77.5 33.5M517 774.5l52.5 29M311 688l72 44.5M1021.5 578.5l66 31.5M456 652.5l64.5 30.5M686.5 649.5l30 13M699.5 795l86.5 41M630 751.5l108 48M568.5 859l96 58M746.5 798.5l70 32.5M497.5 759.5l40 20.5M677.5 725l109.5 46.5M713 865l66 30.5M946.5 610.5l81 36.5M816 674l58.5 25M814.5 552l44.5 19.5M835.5 499l57 26.5M821.5 532.5l43 20.5M856 563.5l55 26.5M926.5 559l26 12.5M797 639l98 45.5M655 690.5l109 48M1059.5 514l49.5 21M378 710l99 56.5M969.5 643l53.5 24.5M408 655.5l83 39M626.5 877.5l108 62M994 514.5l55.5 24M1001.5 540l90 42.5M937 739l76 35M723 640.5l32.5 14M484.5 727.5l91.5 43M538.5 651.5l66.5 29M1177 621l48.5 23.5M513 725.5l28.5 12.5M894 614.5l122 53M544 666l71 33M590.5 709.5l47 20.5M980 610.5l79.5 34.5M1107.5 617l100 44.5M803 628l75 35M887.5 705.5l38 16.5M1013.5 651.5l51 24.5M482.5 739l107 56.5M477 666.5l97 44M900 793.5l105 49M1159 678l148.5 62.5M846.5 816.5l150.5 70.5M1259 660.5l72 31M484.5 733l49 25.5M639.5 624l52.5 24.5M426 691l79.5 41.5M796 804l82 38.5M600 825l87 47.5M627.5 785.5l99.5 45.5M850.5 772.5l112.5 47M897.5 689.5l88 38M775 642l105 48.5M801.5 557l53 23.5M551 673l105.5 46M1011 563l65.5 28.5M610.5 653.5l33.5 15M846.5 796l81 37M811.5 644.5l109.5 50M686 864l150 75M499.5 742.5l68.5 33.5M661 703.5l111 50.5M865.5 685.5l39.5 17M1130.5 675.5l43 18M651.5 674.5l52 22M1145 630l50.5 22.5M692.5 762.5l56.5 25M924.5 659l105 46.5M612.5 717l38 16.5M656.5 590l71.5 34M1001.5 645l99 43M710 544.5l32 14M574.5 731l41.5 20M898 792l39 17.5M472 740l40 22M315 620.5l45.5 24M934.5 740.5l128 58.5M1075 592l95.5 43.5M1217 616.5l139.5 66M496 739.5l98 47M816 800l118 51.5M1023 671.5l54.5 23.5M1014.5 601.5l98.5 46M668.5 699l39.5 18.5M612.5 631.5l37 16M710 693.5l116.5 50M462 797.5l73.5 46.5M757.5 606.5l49 23M807 511.5l64 30M890 633l111 47.5M715 809l134 62M568.5 621l28 12M712.5 804.5l70 32M539.5 655l44.5 19.5M763 648l77.5 35M692 692.5l107 49.5M526 817.5l116.5 71.5M921 530.5l102.5 48.5M1233 670.5l103.5 46M773.5 820.5l71 32.5M486.5 739.5l44.5 24M1164 618.5l117 50M1007.5 615l66 29M743 564.5l71.5 33M354 677l70.5 38M449.5 709l26.5 13M550.5 808l88 50.5M428.5 743.5l97 53.5M997 503.5l26 12M882 666.5l107.5 49M311.5 693l77 45M780.5 767.5l36 16M740 809l106 47M425.5 760.5l43.5 26M1012 689l85 36.5M1049 664l122.5 57.5M363.5 712l24 13.5M616.5 570l69.5 29.5M1154 638l56 24M454 663l91 41.5M498.5 762.5l64.5 34.5M506 610.5l38 16.5M578.5 789l110.5 57M1003.5 613.5l59.5 26M411 735.5l79.5 45.5M608.5 779.5l64.5 29.5M492.5 619l38 18M601 734.5l112.5 53.5M1015 623l56 25.5M990 481l48.5 21M286.5 673l40 25M523.5 764l113.5 62M687.5 729.5l79.5 36.5M368 729.5l27.5 16.5M1085 730.5l131.5 61.5M972.5 595l54.5 25.5M538 829.5l46.5 27M917.5 494l82 36M390 644.5l40 17M808.5 552.5l74.5 35M751.5 610l71.5 31.5M743.5 617.5l29 13M1282 653.5l80.5 35M672.5 818.5l89.5 39.5M527.5 569.5l21 9M1206.5 633l151.5 64M985 535l32 15M1128.5 628l59 25M992.5 737l68.5 30M1232.5 663l40.5 19M939 566l92 41.5M1002.5 676.5l104.5 46M737 839.5l93.5 43.5M717 610l50.5 21.5M484 635l22.5 10.5M718 760.5l134 64M1095.5 689.5l127.5 60.5M491.5 720.5l87 39.5M499.5 750.5l103.5 51.5M692.5 776l146 61.5M584.5 688l87.5 37M605 798l132.5 63M975 500.5l96.5 44.5M660 619.5l36 17M756 748l43 18.5M653.5 858l81.5 41.5M1039 680l69.5 29.5M805 749l140.5 63M1088.5 559.5l58.5 25M606.5 773l75 32M1057 581l57 27M1074 699l110 50.5M756.5 524.5l21.5 10M1077.5 704l117 50.5M533 692.5l102.5 46.5M862.5 554.5l54.5 23M1071 551l35.5 16.5M866 709.5l46.5 22M678.5 738l82 36.5M880 620.5l56.5 24.5M380 674.5l23 12.5M845 722l142.5 66M876.5 803l90 42.5M446.5 762.5l116 65M685.5 808l142 61M972.5 667l52 22M1266.5 649.5l129.5 55.5M568.5 792.5l41.5 22.5M980.5 616l63.5 30M441.5 647l46 21M532 826l86.5 55M988.5 608.5l112.5 52.5M632 839l73 36.5M457.5 772l73.5 42.5M544 537.5l68.5 32M803.5 534.5l24 11.5M891.5 604.5l117 49M692 663l44 19M509.5 630l85 39.5M631 560.5l59 27.5M679.5 769l79.5 38M1083 540.5l69.5 32M687.5 631.5l61 28.5M697.5 638l74 34M548 740l94 44M849 624l102.5 46M572.5 636.5l95.5 45M667.5 537.5l42 19M801 552.5l35.5 16.5M914.5 486.5l83.5 39.5M727 716.5l30.5 14M1029 751.5l143 66M355 706l82 47M927.5 707l113.5 49.5M556 697.5l90.5 39.5M685 669.5l80.5 36M537.5 821l49 30.5M1122.5 716l47.5 20M876 788l88 39.5M777.5 521.5l52 22M878.5 649.5l57.5 26.5M897 464l88.5 38M990.5 695l110.5 50M497 815l63.5 39.5M394 680.5l52 27.5M643.5 691.5l114.5 50.5M655.5 818.5l63 28.5M415 679.5l67 34M633.5 593.5l69.5 29.5M1017.5 750l100 44.5M979.5 752l40.5 17.5M691 655l38.5 16M702 800l56.5 26.5M460.5 789.5l112.5 70M483.5 727l47.5 25M1138.5 616.5l142 61.5M819 778l136.5 62.5M677 543.5l78 37.5M579 693l69 29M769.5 720l83.5 36M747 690.5l75.5 35M1025 600l67 29.5M706 754.5l126 58.5M485 797.5l61 37M1073.5 718.5l125.5 53M479 654l76 35M1069.5 643.5l144.5 65.5M679 463.5l34 17M699 564.5l42 19M936.5 703.5l147 65.5M654.5 737.5l71.5 30.5M667.5 788l60.5 29M341.5 681l56 32.5M519.5 715l39.5 18M920.5 550.5l98 41M1096 602l54.5 26M443 734.5l26.5 14M409 690l98.5 51M948 696.5l114.5 54.5M953.5 750l154 72.5M683 786l102 44.5M643.5 673l76.5 33.5M625 878.5l104.5 64.5M1241 667.5l80.5 36M924.5 591.5l118 54.5M727 837l159.5 69M542 623.5l76.5 32.5M812 676.5l91 41.5M650 753.5l103 48.5M666.5 575l31.5 14M574 782l114 57.5M464 624.5l32.5 15M659.5 785.5l57.5 25M688 617l97 42M890.5 605.5l32.5 15.5M522.5 629l26.5 12M702 701.5l85.5 35.5M605.5 862.5l137.5 84.5M919.5 644l105 48M867 731l129 59M1234 665.5l54.5 24.5M656.5 673.5l84 38M480 787l116.5 70.5M973.5 627.5l93 43M1045.5 724.5l113.5 48M932 590l89 39.5M782 828l58.5 26.5M711 617l33 15M783.5 553l53 24.5M1011.5 724.5l119.5 52.5M762 614.5l47 22M483.5 764.5l44.5 26M1069.5 679.5l123.5 52.5M428.5 658.5l70 31.5M859 633l42 19.5M611 600.5l21.5 10.5M874 715.5l62 28.5M699.5 818l124 59.5M980.5 662.5l93.5 42.5M785.5 637l65 27.5M923 756.5l67 30M648 634.5l91 38.5M652.5 675.5l105 46.5M933.5 641.5l106 46M397.5 745l100.5 60.5M872.5 624l89 41.5M632 855.5l123.5 67.5M402.5 745l82 48M742.5 596l35 16.5M841.5 582.5l106.5 45M480 715.5l64 29M819 637.5l121.5 58M912 593.5l36.5 17.5M672.5 598l72.5 31.5M729.5 703l83.5 36.5M553 759l81 36.5M553.5 603.5l77.5 32.5M567.5 804.5l98 51M654 791.5l128.5 59M607.5 883l130.5 79.5M449.5 767.5l82 46.5M899.5 522.5l70 32M1019.5 688.5l106.5 45.5M711 570l62 27.5M897.5 562.5l50 23M1028.5 660l128 59.5M428.5 775l30.5 19.5M1026.5 545l30.5 14.5M768 631.5l115.5 52.5M866 549.5l36.5 17.5M591 824.5l125 67.5M686.5 800.5l113 49M994 696l96.5 46.5M704 864.5l133 64.5M614 544l64.5 30.5M494 646l28.5 12.5M1089 675.5l95 44.5M494 695l71 33.5M1116.5 577l102.5 43.5M868.5 756.5l138 61.5M985.5 515l50.5 22M738.5 686l108 51M452 791.5l109 66M891.5 640.5l72.5 32.5M983.5 599l93 40M714.5 765.5l116.5 50.5M677.5 581l82 36.5M904.5 628l85 35.5M1041 671l116 49.5M1178.5 689.5l67.5 29.5M493 653l39.5 18.5M981.5 516l63 27.5M693.5 649.5l86 40.5M483.5 660l73 31.5M670 700l34 16M872 532l103 46M341 692.5l81.5 45M778.5 768.5l66 29M1013.5 554.5l53 24M599 582.5l31.5 14M771 655.5l118.5 55.5M808.5 645l90.5 42M869.5 719.5l98.5 46M1088.5 666l104 47M383.5 692l84.5 46.5M606 606l91.5 40.5M561.5 686.5l49.5 22M868.5 721.5l130.5 55.5M855 571.5l31.5 13.5M470 733l100.5 51M439 643l82 39M1064 698l49 23M649 842.5l83 42.5M643.5 616.5l55.5 26.5M1155.5 687.5l62.5 27M956.5 473.5l82 35.5M616.5 855.5l39 22.5M1157.5 625.5l87 40M681.5 790l77.5 33M911 623l115 49.5M602.5 763.5l92 39.5M719.5 776.5l68.5 29M692.5 808.5l45.5 21.5M732 632l79.5 34.5M1044.5 693l83 37.5M1007.5 504.5l77 35M512 761l112 57M1012.5 534.5l76.5 34M715 620l86 38.5M995.5 671l118.5 51M726 778l109.5 47M670 525.5l32.5 14.5M535 608l66 31M1042 698l58 26M554.5 814.5l64 35M1063 658l53 22.5M914.5 673.5l82 39.5M1152.5 598.5l48.5 21.5M310.5 667.5l22.5 12.5M927.5 744l65.5 30.5M1205.5 680l171 72.5M661 599l63.5 30.5M683.5 509.5l63 28M848.5 748.5l136 62M543 737l67.5 31M1069.5 613l41 19M682.5 725l131.5 61.5M836 813l124.5 55.5M733 786l61 27.5M933.5 453.5l25.5 11.5M891 566.5l74 34M745 628.5l42 18.5M750.5 850.5l158.5 71M580.5 578l49.5 22.5M714.5 630.5l93.5 43M1107.5 613.5l102 48M301.5 654l28.5 16M844.5 712l85 38M621.5 670l78.5 35.5M1035.5 561l75.5 35M674.5 768l91 43.5M468 687l29 13.5M943 655.5l79 35M901 631.5l93.5 41M1214.5 646l101.5 44.5M915 478l34.5 15.5M1037 618l47 20.5M1219 621.5l63.5 27M719.5 824.5l44 21M848 624l99 47M873.5 748.5l62 28M1020 572l73.5 31M655 691l96.5 46M1042.5 530.5l34 15M931.5 499.5l26.5 11.5M1052.5 683l109.5 47.5M723 592.5l25.5 11.5M571.5 840l117 67M1117 708.5l116 55.5M717 675.5l113 52.5M470.5 670.5l40.5 19M545 663l100 45M616.5 530.5l68.5 29.5M724 627.5l47 20.5M732.5 614l85.5 38.5M799.5 703.5l79 35.5M867.5 525.5l51 23M565 795.5l38.5 21M965 553.5l99.5 47M898.5 608l48.5 20.5M581 810.5l61.5 33M453.5 764l57 33.5M525.5 681l107 51M949.5 600l117 49.5M643.5 855.5l58.5 32M663.5 694.5l48.5 21.5M861 684.5l86.5 39M723.5 833.5l73 34M810.5 633.5l121.5 53.5M1185 608l73 33.5M742.5 780.5l50.5 23M672 789l71 33M468 792.5l87 54M536.5 779l122 63M844.5 751l102 49M1217.5 676l44.5 19.5M558 747l110 52.5M656.5 834.5l55 27.5M505.5 612.5l37 17.5M700.5 598l46 20M848 666l86.5 40.5M739.5 639l110 52M837.5 764.5l116.5 53M467 644.5l56.5 24M1177.5 614l79.5 37M851 588l72 34.5M1250.5 668.5l77.5 36.5M1032.5 558l90 41.5M712 635.5l95 44M771 723l68.5 32.5M828 756.5l106.5 47M1127.5 683l85 39.5M937.5 509.5l57 24M997 743l140.5 63.5M1130 666.5l95.5 43.5M927 760.5l61 28M695 845l135 62.5M701.5 652l93 40.5M595 715.5l52 25M794 716l132.5 63M840 693.5l135 58M653.5 734.5l39.5 16.5M453 710.5l45 22.5M934.5 631.5l101 48.5M1023 492l90.5 43M1005 758l52.5 25M840 579l104 46.5M563 692.5l109.5 51.5M515.5 828l113.5 66M872.5 563.5l107 47.5M677.5 685.5l41 17.5M784 695.5l48 21M972.5 744.5l84 37M492.5 596l40.5 18.5M875 657l90.5 43M578 818l33 19M780 679l80.5 36M1016.5 526l94.5 44M912 590l107 45M514.5 744.5l115 59.5M1036.5 529.5l85 39M799 697.5l100 46.5M1065.5 731l89 39.5M891 773l51.5 21.5M669 584l87.5 40M469.5 666.5l70 33M494 741.5l42.5 22M789 812l117.5 56M987.5 754.5l53.5 23.5M802 570l24.5 11.5M966 480l92 40M672 658.5l112 47M814 819.5l153 65.5M962.5 532l60 28.5M492 708.5l68 31M612 754.5l114 49M1177.5 606.5l143.5 63.5M625 567.5l27 12M400.5 721l37.5 22.5M855.5 525.5l47.5 20M427 691l46.5 22M702.5 824l134.5 62.5M530 650.5l30.5 14M703.5 774.5l58.5 28M646 598l91 39M1222 665.5l65.5 30.5M654 743.5l69 32.5M576 839l135.5 77M931 493l43.5 20M514 829l40.5 26M570 740.5l54 24.5M747 768l82 34.5M684 631.5l57 25.5M1097.5 600.5l126.5 54.5M725 517.5l58.5 27M335 717l86 51.5M898.5 778l81 34.5M378.5 599.5l43.5 19M969 757.5l45 21M804.5 634.5l54.5 23M765 556l99 47M983.5 581l40.5 17.5M979 658l138.5 65M1015.5 728l104 44.5M774.5 665l35.5 17M542.5 840.5l91.5 55M1084.5 663.5l128 55M400 706l76.5 41.5M938 732.5l92.5 42.5M757.5 473.5l36 16M1185 666l104 48M1142.5 577.5l132.5 62M1108 615l95 40M695.5 634l80.5 36M1113 611l135 64.5M719 667.5l43 19M759 683.5l33.5 15M553 751.5l44 21M954.5 587l93.5 42.5M1061.5 560.5l36 17M718 800l146.5 65M932 604l108 46.5M438 719.5l59.5 31.5M733.5 844.5l164.5 74.5M444.5 691.5l66.5 30M1157.5 644l150.5 67M492 690.5l61 26M770 808l45.5 21.5M534.5 745l58 27M666.5 816.5l80 35M1202.5 653.5l96 45.5M800.5 539.5l33.5 14.5M892 504.5l48 23M909 503.5l83 37M513 780l107 61.5M630 756.5l113.5 53M718 836l100.5 42M854 546.5l45 19M710 758l141 63.5M678 672l56.5 25M1092.5 608l90.5 40.5M492 681.5l47.5 21.5M711 532l77 32.5M967 550l68.5 32M985 722l78.5 35.5M995.5 641l60.5 27.5M417 595.5l50 23.5M881.5 541l73 34M1206 623l146.5 69M732 728l88.5 39.5M460 670.5l44.5 19M336.5 688l58.5 32M618 742l59.5 26.5M769.5 589l30 14M607.5 755.5l83 35.5M1070.5 608l32.5 14.5M578.5 771.5l122.5 59.5M481 776l50 28M741 816.5l113 48.5M1231 625l156 71.5M665 701.5l98 41.5M943 695l60 26.5M579.5 563.5l24.5 11M689.5 620l71.5 30.5M833 589.5l74.5 33M997 617.5l86.5 40.5M798 684l99 46.5M565 708.5l27.5 12M676.5 876.5l127 67.5M651 668.5l40 17.5M529 757l74 38M550 647.5l100.5 44M875 521.5l83 39M865 757.5l68.5 31M471 749.5l68 37.5M1007.5 533.5l80 35.5M1151.5 627l130.5 60M947.5 475.5l26.5 12M525 676.5l31 14.5M947 572l120 51.5M870.5 588l81 37M553.5 745l91.5 42.5M947.5 754l159.5 67M795.5 666l81.5 35M768.5 560.5l96.5 41.5M721.5 777l95 43M874 530.5l34.5 15.5M555 648l49 22.5M735 819l149 71M1267 649l118 55M684.5 799l77 35M806.5 568l92 42.5M779.5 647l79 34M606 758l92 42M412 744.5l96.5 56M944.5 709.5l43.5 18.5M805 727.5l112.5 51.5M1278.5 649l103 45M889 678.5l113 50.5M786 671l51.5 23M1204.5 644l124.5 56M686.5 497.5l74.5 32.5M1125.5 560.5l39 17.5M736 820.5l77 34M1157.5 685l40 17.5M568 861.5l38 22M810 701l62 26.5M628.5 813.5l94 48.5M691.5 524.5l81 38M561.5 699l115.5 54.5M556.5 607l76 35M577 817.5l114.5 66M1185 642l132.5 57.5M1023.5 663.5l106.5 45M868 756.5l114.5 52M980 740.5l60.5 26.5M607.5 869l93.5 53.5M584 614l30 13.5M1187.5 614.5l41.5 18.5M1256.5 658.5l155 66.5M1124.5 580l75 34M777 691.5l58.5 26.5M551 723.5l89 38.5M595 759l77.5 36.5M742 594.5l36 16M530 610.5l65.5 29M992 687.5l94.5 45M467.5 694.5l67.5 29.5M410.5 712l86.5 47M641.5 809.5l77 38.5M800.5 673.5l54 24M979.5 759l130 59M733.5 649l29 13.5M868 626l55 26M640.5 760l56.5 27.5M767.5 610l45 21M870.5 697l70 30M713.5 629l105 47.5M911.5 607l67 29.5M685 827.5l135.5 60M700.5 796l98.5 43.5M952 518.5l88 37.5M748 805.5l121 54.5M665 605l103 45.5M530 790.5l102 57M491.5 711.5l57.5 27M526 707.5l76 33.5M932 648.5l83.5 40M635.5 763l137.5 61.5M981.5 583.5l90.5 40.5M776.5 691l121.5 57M971 701.5l111 49M723 846l52.5 25M549 602l64 27.5M1023.5 653l110.5 48M888.5 785.5l59.5 26.5M949 478l51 22.5M455 706l90 42M1188.5 662.5l64.5 29M479 746.5l36 19M829 734.5l136.5 60.5M666 848l142 69.5M640 691l45 22M864 587l115 51.5M783 711l65.5 28M795 830l89 42M950 713.5l146 64M769 774l94 41.5M844 667.5l51.5 23.5M593 742.5l58 26M1193.5 686.5l84.5 39M1004 552.5l85.5 38M457 596.5l68 30.5M385 745l101 59.5M635 734.5l75.5 36M653.5 735l113 51M648 678.5l61 29M1072 572l128 59M1072 735.5l84 39.5M763.5 806l125.5 56.5M996.5 582l33 15.5M681 770.5l113.5 48.5M1137 652l55.5 25M623 693l110.5 48M1003.5 541l37.5 16.5M502.5 745.5l70 37M678 743.5l108 49M773.5 782.5l84 38.5M440 735.5l111 59.5M415.5 754.5l39 23.5M893 685.5l127.5 59M861.5 807l66 30M755.5 815.5l118.5 52.5M867 784l118 50.5M772.5 689.5l76 35M793.5 826.5l61.5 28.5M826 684.5l136.5 58M823 605l66.5 31.5M961 746l126 56.5M1079.5 602.5l95 40M958.5 560.5l35.5 15M330 700.5l47.5 29.5M642.5 607l87 41M697 729.5l109 50.5M732.5 718.5l83.5 39.5M976.5 536.5l54.5 24.5M632.5 661l73.5 33.5M576 748l93.5 42.5M543.5 731l74.5 33M748.5 630l80 36M368.5 670l49 25M695.5 703l105 46.5M1005.5 671.5l113.5 51.5M745 593l34 16M460.5 759.5l100.5 58M730.5 741l54.5 25.5M817 624.5l118 51M902 613l118 50M627 711.5l36 17M687.5 770.5l142.5 63" stroke="#fff" stroke-width="1.5" stroke-opacity="0.8"/><path d="M351.5 623l60.5 26M1062 567l122.5 56.5M700 505.5l46.5 22M564 836l70 43.5M605.5 745l94.5 45M410.5 737l101 61.5M445 627l50.5 24.5M556.5 843l33 20.5M901 791l133.5 56.5M1045.5 578.5l51.5 23.5M544.5 661l83 38M862.5 713l134.5 64M258.5 543l41 26M740.5 710l121.5 57.5M908.5 481l80.5 34.5M736 810l96.5 44.5M836 740l75.5 34.5M625 842.5l120.5 68.5M948 736l116 55M773.5 737.5l33 14.5M1006.5 681l55 24.5M635.5 688l89.5 40.5M921.5 549.5l93.5 43M1035.5 646l55 25.5M774.5 837.5l106.5 47.5M1062.5 661.5l81 38M979 546l87 38.5M569 776l55 26M726 810l50 21M753 526l77 34.5M705 816l67 32.5M764 805l56 24.5M853 658l38 17.5M1032.5 659.5l125 52.5M813.5 641l100.5 46.5M592 816.5l121 67M522 623l76 35.5M929 728.5l130.5 60M889 530.5l56 24M860 448l56.5 25M314 660.5l82.5 45M679.5 846l72.5 36M983 753.5l120 51M623.5 791l88.5 40M873 611.5l79 37.5M610 786.5l105 46M987 708l64 30M624 633l48.5 21.5M976 585.5l94.5 44.5M936.5 511l54 25M769.5 683.5l47 20M379 700.5l71.5 39.5M501.5 616l72 33.5M690.5 482.5l73 33.5M753 590.5l32.5 14M884.5 477.5l88.5 40.5M1225 652l134 63.5M772 502l36.5 16M599.5 642l44 20M874.5 468l67.5 29.5M437 589.5l62 27M965 599l73.5 32.5M336.5 617l40 19.5M438.5 679.5l59 25.5M492 523l27 15M809 777l118 54.5M716.5 680l86 37.5M651.5 673l70.5 31.5M538.5 518l69 33.5M517 565l25.5 11M754.5 601l55 24.5M574 575l80.5 34M1204.5 666l90.5 39M521 733l76 36M673 706.5l42 18.5M600.5 623.5l81 36.5M515 672.5l49.5 22.5M811.5 578l68.5 32.5M756.5 638l102 46M651 762l83 35M608.5 619.5l76.5 34M1019 528.5l43 20.5M771 731.5l36 16M892.5 425l35.5 16M621 518l48 23M1040 512.5l49.5 23.5M563.5 785l94 49.5M515 592l64.5 28M691.5 737l66 31.5M1064.5 647.5l107 50.5M560 800.5l123 65M805.5 511.5l45.5 21M828.5 530.5l90 40M750 660l115 48.5M1124 679.5l39 18M992.5 525l77 32.5" stroke="#fff" stroke-width="1.2" stroke-opacity="0.6" stroke-dasharray="1.5 1.2"/><path d="M756.5 669l51 21.5M540.5 848l64.5 37.5M873.5 775.5l130 61M993 681l77.5 36M597 811l95 48M1045.5 689.5l39.5 17.5M741.5 652.5l104.5 45M1179 602.5l115 49M557.5 719.5l28 13M727 701.5l54.5 25M558 839l125.5 78M696.5 865.5l61 29.5M1021 742.5l121 54.5M879.5 686l81 38.5M1139.5 580.5l124 53M1204.5 680l121 55M680 738l52.5 24M619 651.5l33.5 15.5M713.5 668l54.5 23M694 641.5l41.5 18.5M514.5 681.5l98 45M647.5 623l55 23.5M970 500l96.5 45M836 767.5l38.5 17M455.5 705l64.5 32M442.5 716.5l58 30M677.5 717.5l126 58M593 861l124.5 73M845.5 741l100 45M662.5 851l127 65M1005.5 743l117.5 55.5M276.5 681.5l66.5 40M505 623.5l57.5 27M799.5 737l94.5 44M1119.5 619.5l46 20.5M1113 720l102 48.5M959 508l28.5 13M518 642.5l87 40.5M722.5 827l52.5 22.5M651 720.5l108 51.5M487 743.5l39 20M805.5 653l90.5 43.5M498 686.5l47.5 22.5M831 760l149.5 65M591.5 739l126.5 58.5M602.5 700l105 50M1040.5 568.5l114.5 53.5M451 735.5l34 18.5M772 816l145 68M544.5 758.5l103.5 51.5M890 777l148.5 62M1032 721l55.5 25.5M661 832.5l156.5 72.5M937.5 605.5l60 27M587.5 849.5l78 48M822 618.5l87 38.5M935 540l50 22.5M790 608.5l34.5 15.5M602 825l101.5 55.5M1042 688.5l51.5 24.5M579.5 812.5l53 30M705 817.5l96 46M826.5 723l43.5 19M1043 646l143.5 64M1040 617l39 18.5M727 861l86.5 43M766.5 522l80.5 36M847 677.5l98.5 47M797 750.5l53.5 25M474.5 561.5l37.5 18.5M1179.5 661.5l118.5 54M979 535l80.5 37M711 768l58 27M770.5 748.5l109.5 50.5M742 629l59.5 26M634.5 804.5l123 56M685 639l53 22.5M1107 674.5l73.5 32M770 766l119 56.5M1035 521.5l84 37M418.5 731l90.5 49.5M1034.5 708.5l56 26.5M551 741l103.5 44M418 735l98 53.5M652 879.5l67 39M809.5 675.5l63 26.5M1122.5 585.5l48 22.5M718 792l134 61M843 667l48.5 23.5M768 818.5l162.5 74.5M945.5 503l55.5 25M825 515l52 22.5M1085 638.5l92.5 42M662.5 695l124.5 53M865 749.5l36 17M708.5 731.5l135.5 61M767 754l113 53M830.5 558l70 30M909.5 602l80.5 35M1009 707l155 65.5M917.5 535.5l55 25.5M567 857l65 40.5M517.5 731.5l92 42M945 707.5l77.5 37M811.5 726l71.5 31.5M393 710l82 46.5M764 707.5l114 55M755 760.5l64 29M1129 629l115.5 48.5M624.5 740.5l118 53.5M673.5 662.5l105.5 47M536.5 785.5l99.5 56M764 670.5l107.5 51.5M1145 588.5l107.5 46.5M819.5 627.5l99 41.5M911.5 714l96.5 44M654.5 668l117 51.5M1045.5 653.5l142 63M647 753.5l57.5 24.5M407 754l76.5 44.5M928 643l117 49M888.5 685l81 36M569 843.5l95.5 59M357.5 733.5l28 16M1143.5 696.5l168 75M681.5 803.5l130.5 56M596.5 848.5l93.5 54.5M600 677l112.5 51M437 765l37 22.5M795.5 759.5l120 54.5M441.5 674.5l93.5 41.5" stroke="#fff" stroke-width="1.5" stroke-opacity="0.8" stroke-dasharray="1.5 1.2"/><path d="M360 592.5l30 15M336 545.5l20 12.5M741 453.5l71 34M395.5 565l67 33M275.5 636l42 24.5M495 547l71 32.5M545.5 538.5l72.5 33" stroke="#fff" stroke-width="0.6" stroke-opacity="0.6"/><path d="M769.5 612.5l34.5 16M1078.5 526.5l38.5 17M936 782.5l144.5 65M997.5 488l54 25.5M907 710l106.5 48M703.5 824l118 54M722 629l89.5 40M1150.5 621.5l41.5 19M677.5 566.5l53 23M551.5 764.5l110.5 55.5M561.5 799l130.5 68M633 579l82 39M1187 689.5l166.5 70.5M488.5 703l93 42.5M704 753.5l104 49.5M827 647l31.5 14.5M364.5 725l46 27.5M905.5 596.5l37 17.5M996.5 701l102.5 46.5M731 683.5l124.5 53M795.5 682.5l102.5 44M848.5 763.5l50.5 23.5M645.5 855.5l38.5 21M1085.5 648.5l95 41.5M708 674l71 32.5M848.5 770l124.5 56M893 611l111.5 52.5M1171.5 638.5l52 23M945.5 740.5l119 55.5M1000 477l100.5 46.5M1084 646.5l139.5 59.5M620 861.5l125.5 72M1007 511l40.5 17.5M548 681.5l64 29.5M820 616.5l113 54M983.5 735.5l137 62.5M872.5 782l63 30M680.5 511.5l28 12M1041 676l60 26.5M399.5 621l78 37M886.5 598.5l42 18.5M813.5 637l38.5 16.5M516 628.5l54.5 25M763 533.5l75.5 35.5M810.5 688.5l118 51.5M742.5 838.5l54 25M523.5 779.5l113.5 62M736.5 798.5l99 46.5M1003 659l80 37.5M817.5 516l33 15M909 599.5l72 34M870.5 752.5l108.5 50M440.5 741l71.5 40M639.5 576.5l90.5 41.5M1144.5 608.5l68 29M886 546l93 44M1230 659l75.5 31.5M747.5 680.5l34 16M697 727.5l108 46" stroke="#fff" stroke-width="1.5" stroke-opacity="0.6" stroke-dasharray="1.5 1.2"/><path d="M990.5 641.5l83 39M1126.5 666.5l41 18.5M888 803l99 44M1219.5 636l128 56.5M606.5 626.5l67.5 31.5M910.5 686l70.5 33.5M872 582.5l101 48M452.5 697.5l78 37.5M814 518l91.5 39M443 780l33.5 20.5M731.5 633.5l83.5 40M653.5 607l38.5 17M1134 700l64 28.5M666.5 686l114 53M632.5 665.5l112.5 53M975.5 554l70 29.5M865 533l24.5 11.5M818 696l55 23M625.5 691.5l45 21M658 637.5l109.5 50M334.5 711.5l81.5 49M1229 643l126.5 55.5M968.5 547l108.5 50M757.5 799l104 44M578 746l37 17.5M753 794l47.5 21M1275.5 648l94.5 44.5M1005.5 753l45.5 21M944.5 691.5l124.5 54M809.5 784l44 20.5M880.5 718l140 60.5M493 702l27 12.5M1007.5 744l76 34.5M418.5 729l78 41.5M964.5 511.5l85.5 38M657.5 632.5l84.5 37.5M1059.5 589l86.5 39.5M1035 570.5l48.5 20.5M502.5 803l130 74M1008.5 594.5l104.5 48M841.5 669.5l76.5 34.5M883 706l72.5 35M605 730.5l74 34.5M1017 623.5l66 29.5M995.5 639l44.5 20M1042 568.5l53.5 23.5M419.5 756l50 30M399.5 670l88 45M1071.5 621.5l130.5 61.5M815 736.5l57.5 27M610.5 623l58.5 26.5M633.5 739.5l59.5 26.5M550 822.5l135 82.5M861 652l30.5 14M1031.5 519l70.5 32.5M630 826l146.5 72.5M1149 586l97.5 44M633.5 686.5l40.5 17.5M954 737l51 23.5M925 782.5l110.5 47.5M1258.5 648l95 41.5M1071.5 544.5l64 28.5M972 587l65.5 27.5M976.5 622.5l34.5 16M526.5 716l100 47.5" stroke="#fff" stroke-width="1.5" stroke-dasharray="1.5 1.2"/><path d="M732.5 755.5l90 40.5M428 595l59.5 26M1061.5 527.5l72.5 32M754 754.5l70 33M760.5 539l39 17.5M659.5 760l119 52M851.5 493l80 37.5M1194 598l70.5 34M376 602.5l19 9M1164 604l69 32M906 784.5l162.5 73M868 787l52.5 24M900 641l102 44.5M1029.5 520l111.5 52M625 720l66 30M1203 610l60.5 26M836 633l79.5 34M1031 661l54.5 23.5M392.5 628.5l75 34.5M906 566.5l85 41M1201 634.5l103.5 44M350 611l34 15M449.5 612.5l78 37M703.5 519.5l41 19M634.5 770.5l130 57.5M567 586l31.5 13.5M588.5 783.5l42.5 20.5M693 591l96.5 44M355.5 704.5l35 21M641.5 647l65 30M764 721.5l123 59M395 687.5l28.5 15.5M693 782.5l64.5 29.5M873.5 549.5l103.5 48M841.5 560.5l106.5 46.5M591 635l38.5 17M858 787l110 48.5M851 699.5l52.5 23.5M1006.5 673.5l122.5 56M753.5 682l103 49M484 741l74 38M950.5 491.5l83 36.5M758 842.5l111.5 47.5M1081.5 579l44 20.5M1129 572l97 43M1105.5 569.5l76 32.5M672 683l98.5 44.5M828.5 701l59 28M1022.5 628.5l90 38.5M813 514.5l61 28M632 559.5l73 31M761.5 616.5l74.5 32.5M910 458l88 41.5M886.5 451l54 25.5M429.5 776.5l52.5 32.5M708.5 640l48.5 22.5M651 695.5l125.5 53M599.5 810.5l73 36.5M792.5 813l37.5 16.5M483.5 640l22.5 9.5M923 526l26.5 12M533.5 748.5l38 18.5M889.5 589l47.5 20M1148 602l142.5 60M497 746.5l112 61M719 618l83.5 36.5M544 763.5l83.5 42M737 754.5l70.5 31.5M510 706.5l98.5 43M1092.5 728l96 42.5M645.5 711l110.5 53M818 527l29.5 13M1014.5 709l82.5 35.5M492.5 641l82 37.5M442 779.5l76 44.5M779 540.5l87.5 42M521.5 594l43.5 20.5M1233 622.5l91.5 42M589 670l69.5 30.5M559.5 652.5l55 24M571.5 763l41.5 20.5M906 793l104 44M622.5 690l53.5 23.5M282.5 616.5l24.5 13.5M791.5 754.5l79 35M791.5 460.5l32 13.5M649.5 633.5l93.5 43M1096 664.5l100 46M677 863l120 65M738 736.5l126.5 59M677 733.5l91 39.5M1011 720l57.5 26M714 544.5l36.5 17M902.5 663.5l111 50.5M767.5 749.5l123 55.5M550.5 852.5l65 41.5M807 684.5l46.5 21.5M909.5 530.5l97.5 41.5M713.5 814.5l112.5 52.5M840 381.5l58.5 33M838 597l39 17.5M424.5 629.5l72.5 32.5M326.5 587l34 17.5M707 764.5l106.5 49M1207 659l101 47M694 821.5l48.5 22M896 583.5l45.5 20.5M692.5 657l60.5 27.5M732.5 738l41.5 19M670.5 689l117 53.5M1123.5 553l88.5 40.5M900.5 465l54.5 26M857.5 801l120.5 52M1077 552l37 18M771 578l64 29M722 554.5l38.5 17M661.5 818.5l104.5 48M909 787.5l157 73M935 516l50.5 24M732 516l60 29M846 529l34 15.5M993 607l128.5 56.5M886.5 565l100.5 45M977 479l72.5 32M995.5 568l80 34.5M859 467.5l43.5 19M402 630l33 14.5M196 585.5l29 16.5M746.5 685.5l86 36.5M697 787l42.5 19M829.5 665l42.5 19M394.5 611l49.5 22M633 862.5l144.5 84.5M844 715l112.5 49.5M739.5 731l121 52M906.5 765l97.5 45M229.5 614.5l33 20.5M496.5 712l79.5 35" stroke="#fff" stroke-width="0.9" stroke-opacity="0.8" stroke-dasharray="1.5 1.2"/><path d="M1019.5 554.5l51 23M415.5 711l57.5 31.5M767 770.5l92 39.5M354.5 634.5l43.5 20.5M621.5 784.5l70.5 30.5M969.5 642l134 57.5M750 539.5l43 20.5M599.5 685l36.5 17M1071 712.5l77.5 37M718 646l109 49M753.5 633.5l64 29M922.5 730l37 16.5M661.5 669.5l43 20.5M774 436l43.5 20.5M484.5 801.5l116 70.5M729 514.5l30.5 14M812 449l55 24M422 747.5l99 59.5M625.5 681l42 19.5M524.5 728.5l103 49M848 809l90 42M388.5 710.5l60 32.5M1102.5 571.5l73.5 33.5M715 794l48 21.5M1057 702l52 22M776 459l66.5 31.5M609.5 798.5l126 59M975.5 728l64.5 27.5M1053 696l53.5 23M502 814.5l63 37M845 731l45.5 21M788.5 617.5l69 31M1006 750.5l101 44M499 775l72 41.5M1234 660.5l66 29.5M815.5 661l129 58M747.5 596l95.5 43.5M622.5 861.5l76.5 42M634 895l100.5 63.5M967 657l106 47.5M846.5 508l57 24.5M865.5 487.5l22.5 10.5M322 711l86.5 54M964 699.5l152 66.5M877.5 499l21.5 10M651.5 738.5l106.5 46.5M392.5 669.5l80.5 40.5M565.5 663.5l31.5 15M670.5 658l116.5 49M780 564l38.5 16.5M845 684l136 65M566.5 788.5l100.5 51.5M940 667.5l118.5 52M388.5 493l26 16M986 471l57 24.5M1046.5 657l37 16M463 631.5l66 28M699 711.5l133 56M307.5 635l35 18.5" stroke="#fff" stroke-width="0.9" stroke-dasharray="1.5 1.2"/><path d="M976.5 551.5l97 41.5M527.5 824l39.5 24.5M564.5 803l57.5 33M770.5 663l64.5 30.5M1006.5 524.5l56.5 24.5M859 703l96 43.5M1192.5 648.5l141 64.5M718 623l63.5 27.5M764.5 642l80.5 38.5M971 672.5l147 67.5" stroke="#fff" stroke-width="1.8" stroke-opacity="0.8" stroke-dasharray="1.5 1.2"/><path d="M1202 689l42 18M1004.5 620.5l56.5 26M1095.5 723.5l52.5 25M1127.5 653.5l86.5 38M726 653l87 40M673.5 757l57 24M799.5 723l109.5 51M892.5 640l50 23M868 695l51.5 23M635.5 651l74.5 33M755.5 762l76.5 33.5M620.5 895.5l36.5 23M907 781l93 39.5M1072 613l106 47M953 551l69.5 30.5M1105 707.5l133 61M803 636l93.5 42.5M1092.5 592.5l48 22M1018 642.5l142.5 67M922 692.5l106.5 48M560.5 840l69 43.5M764 704.5l72.5 33M853.5 714l117.5 54.5M714 615.5l89 40.5M1086 647l144.5 65M996 661l72.5 34M947 624.5l121 55M647 667.5l112.5 49M722.5 698.5l70 29.5M548 687.5l46 20.5M943.5 595l89 42.5M923 574.5l85 38M1116 649l44.5 20M1129.5 567l129 58M813 778.5l89 41.5M924.5 677.5l125.5 60M796.5 734.5l139 60M831 669l103.5 44.5M858 728l136.5 61.5" stroke="#fff" stroke-width="1.8" stroke-opacity="0.6"/><path d="M992 587l33 14M842 617l63 26.5M997.5 571.5l87.5 41" stroke="#fff" stroke-width="1.8" stroke-dasharray="1.5 1.2"/><path d="M458.5 509.5l50 28M480.5 549l66.5 32.5M326 603.5l35.5 17.5M890 411.5l17.5 8.5M760 468.5l64.5 29.5M526 511.5l44 22.5M514 522.5l52 26M613.5 439.5l52.5 30M344 598l35 18M777.5 471.5l34 16M628.5 514l52 22.5M627.5 481l20.5 11M202.5 628.5l61 36.5M760.5 409.5l50 28M792 439.5l24 11.5M606.5 500.5l20 10M858.5 396.5l55 26.5M700 486l60.5 27.5M565.5 524l39 19.5M295.5 655.5l38.5 20.5M543 563l28 12M703 423l51.5 27" stroke="#fff" stroke-width="0.6" stroke-opacity="0.8"/><path d="M809 816.5l95.5 41.5M889 598.5l51 22M849 648.5l87 37.5M954 745.5l150.5 68M797.5 663l119 53M631 775.5l49.5 23.5M712 707l114 54.5M945.5 704.5l105.5 50.5M648 793.5l121.5 55.5M951 570.5l113.5 53M903.5 587l76 36M964 578.5l114.5 51.5M962 772.5l47.5 22M1205.5 671l162.5 69M733.5 680l94 44M600 798l109.5 52M693.5 652l116 53M1241 647l93 43M571 670.5l86 40M754 756.5l100.5 46M942 603.5l52 25M955 552l74.5 34M1172.5 698.5l170 74.5M405 717l43.5 25M1026.5 552l96.5 41M1024 616.5l91.5 41.5M843.5 656.5l32 14.5M906 756.5l108 47M632 853l49 27.5M874 598.5l36 15.5M548 793.5l82 42M746 718l78.5 36M905.5 618.5l66.5 29.5M518.5 827.5l113 71M734 699l110.5 50M1000.5 718.5l132.5 60M833.5 583.5l103 47M734.5 646.5l119 54.5M762.5 700.5l55.5 24.5M1179.5 616l113 53M1048.5 738l119 54M461 705.5l107.5 54M806 712l135 63M702 814.5l140.5 65M828 676l95.5 45.5M623 770.5l128.5 59.5M1264.5 648.5l109 47.5M650 637.5l95.5 41.5M821 648l43.5 19M880 710l107.5 49M669 822l125 59M1011 621.5l87.5 37.5M786.5 777.5l131.5 58M1007.5 685.5l117.5 53M1113.5 691l142 60.5M701 717.5l116 50M589.5 815.5l33 18.5M537 773.5l89 46.5M669 868l44 22.5M1060 547l34 15.5M1169 659l122 56M1005.5 511l104.5 45M783 717l109 50.5M779 667l82 38" stroke="#fff" stroke-width="1.8" stroke-opacity="0.8"/><path d="M868 444l40 18.5M868.5 428.5l42 19" stroke="#fff" stroke-width="0.6" stroke-opacity="0.8" stroke-dasharray="1.5 1.2"/><path d="M585 501l34.5 18" stroke="#fff" stroke-width="0.6" stroke-dasharray="1.5 1.2"/><path d="M378 509l27 17.5M851 394l15 8.5M726.5 503l50.5 22M694.5 449l29 16M336.5 586.5l49.5 25.5M519.5 826.5l126.5 77.5M287 684.5l107 65M499.5 814l71.5 42.5M492 811.5l57.5 34.5M359.5 727.5l176.5 109M490.5 778.5l165.5 100.5M334.5 691l134.5 81M568 827l108.5 66" stroke="#fff" stroke-width="0.6"/><path d="M563.5 562.5l52 24.5M420.5 561.5l43.5 21" stroke="#fff" stroke-width="0.6" stroke-opacity="0.6" stroke-dasharray="1.5 1.2"/><path d="M629.5 890.5l160.5 97M707.5 742.5l49 23M1085 568l99 45.5" stroke="#fff" stroke-width="1.8" stroke-opacity="0.6" stroke-dasharray="1.5 1.2"/></g>
<g clip-path="url(#sc)"><polyline points="227.4,639.3 235.1,644 242.8,649 250.5,653.8 258.3,658.7 266,663.3 273.7,667.9 281.4,672.8 289.1,677.4 296.8,682 304.5,686.6 312.2,691.4 320,696.1 327.7,701 335.4,705.7 343.1,710.7 350.8,715.7 358.5,720.3 366.2,725.1 373.9,730.1 381.7,735 389.4,739.9 397.1,744.5 404.8,749.3 412.5,753.9 420.2,758.9 427.9,763.6 435.7,768.1 443.4,772.8 451.1,777.6 458.8,782.3 466.5,787.1 474.2,791.8 481.9,796.3 489.6,801 497.4,805.8 505.1,810.4 512.8,815 520.5,819.5 528.2,824.4 535.9,829.1 543.6,833.9 551.3,838.6 559.1,843.3 566.8,848.1 574.5,852.8 582.2,857.8 589.9,862.6 597.6,867.5 605.3,872.1 613.1,877 620.8,881.8 628.5,886.4 636.2,890.9 643.9,895.7" fill="none" stroke="#00edff" stroke-width="0.8"/><polyline points="171.9,614.9 179.6,619.8 187.3,624.7 195,629.4 202.7,634.2 210.4,638.9 218.2,643.8 225.9,648.5 233.6,653 241.3,658 249,662.6 256.7,667.6 264.4,672.1 272.1,676.8 279.9,681.7 287.6,686.6 295.3,691.2 303,695.7 310.7,700.6 318.4,705.4 326.1,710.4 333.8,715 341.6,719.9 349.3,724.7 357,729.3 364.7,734 372.4,738.7 380.1,743.6 387.8,748.5 395.6,753.4 403.3,758.1 411,762.7 418.7,767.3 426.4,772 434.1,776.9 441.8,781.7 449.5,786.7 457.3,791.5 465,796.5 472.7,801.1 480.4,805.9 488.1,810.6 495.8,815.5 503.5,820 511.2,824.8 519,829.7 526.7,834.3 534.4,839 542.1,843.9 549.8,848.6 557.5,853.6 565.2,858.3 573,862.9 580.7,867.8 588.4,872.4 596.1,877.1 603.8,881.7 611.5,886.6 619.2,891.2 626.9,895.9 634.7,900.4" fill="none" stroke="#00d9ff" stroke-width="0.7"/><polyline points="167.4,615.7 175.1,620.3 182.8,625 190.5,629.7 198.2,634.2 205.9,639.1 213.6,643.9 221.3,648.8 229.1,653.4 236.8,658.3 244.5,663.1 252.2,668 259.9,672.8 267.6,677.6 275.3,682.1 283,687 290.8,691.6 298.5,696.4 306.2,701.3 313.9,706.2 321.6,711.2 329.3,716 337,720.9 344.8,725.7 352.5,730.2 360.2,734.9 367.9,739.5 375.6,744.4 383.3,749.2 391,754.1 398.7,758.8 406.5,763.6 414.2,768.1 421.9,772.8 429.6,777.4 437.3,782.1 445,786.9 452.7,791.4 460.4,796.4 468.2,801.3 475.9,806 483.6,810.9 491.3,815.5 499,820.2 506.7,824.8 514.4,829.6 522.2,834.4 529.9,839.3 537.6,844.2 545.3,849 553,853.6 560.7,858.1 568.4,862.9 576.1,867.7 583.9,872.6 591.6,877.6 599.3,882.2 607,886.8 614.7,891.6 622.4,896.2 630.1,900.8" fill="none" stroke="#00d1ff" stroke-width="0.7"/><polyline points="128.1,584 135.9,588.6 143.6,593.6 151.3,598.4 159,603 166.7,607.7 174.4,612.6 182.1,617.3 189.8,621.9 197.6,626.9 205.3,631.4 213,636 220.7,640.8 228.4,645.8 236.1,650.7 243.8,655.6 251.6,660.4 259.3,665 267,669.7 274.7,674.6 282.4,679.1 290.1,683.8 297.8,688.6 305.5,693.3 313.3,698.3 321,703.2 328.7,708.1 336.4,712.6 344.1,717.2 351.8,721.8 359.5,726.5 367.2,731.2 375,736 382.7,740.6 390.4,745.2 398.1,750 405.8,754.8 413.5,759.7 421.2,764.3 429,769.1 436.7,773.8 444.4,778.4 452.1,783.1 459.8,787.8 467.5,792.4 475.2,797.3 482.9,801.9 490.7,806.4 498.4,811.3 506.1,816.2 513.8,820.9 521.5,825.6 529.2,830.4 536.9,835.3 544.6,840.2 552.4,845 560.1,849.7 567.8,854.4 575.5,859.1 583.2,863.7 590.9,868.5 598.6,873.1 606.4,878 614.1,882.9 621.8,887.8 629.5,892.4 637.2,897" fill="none" stroke="#00edff" stroke-width="0.9"/><polyline points="205.9,629.6 213.6,634.1 221.3,639 229,643.7 236.7,648.4 244.4,653.3 252.1,658.1 259.9,662.7 267.6,667.3 275.3,671.8 283,676.7 290.7,681.5 298.4,686.2 306.1,691.1 313.8,696 321.6,700.6 329.3,705.3 337,710.1 344.7,715.1 352.4,719.9 360.1,724.6 367.8,729.2 375.6,733.8 383.3,738.6 391,743.4 398.7,748.3 406.4,753 414.1,757.6 421.8,762.3 429.5,767 437.3,771.9 445,776.6 452.7,781.2 460.4,785.7 468.1,790.3 475.8,794.9 483.5,799.6 491.2,804.4 499,809.2 506.7,814 514.4,818.7 522.1,823.5 529.8,828.2 537.5,832.7 545.2,837.3 553,842 560.7,846.9 568.4,851.8 576.1,856.4 583.8,861.2 591.5,865.9 599.2,870.7 606.9,875.5 614.7,880.3 622.4,885 630.1,889.7 637.8,894.5" fill="none" stroke="#00b7ff" stroke-width="1.1"/><polyline points="192.7,624.2 200.5,628.8 208.2,633.5 215.9,638.3 223.6,643 231.3,647.9 239,652.9 246.7,657.8 254.5,662.6 262.2,667.5 269.9,672.4 277.6,677.2 285.3,681.7 293,686.4 300.7,690.9 308.4,695.7 316.2,700.6 323.9,705.3 331.6,709.9 339.3,714.8 347,719.4 354.7,724 362.4,728.8 370.1,733.7 377.9,738.4 385.6,743.2 393.3,747.8 401,752.5 408.7,757.3 416.4,762 424.1,766.7 431.9,771.4 439.6,776 447.3,781 455,785.5 462.7,790 470.4,794.8 478.1,799.7 485.8,804.6 493.6,809.5 501.3,814.4 509,819.2 516.7,824.2 524.4,828.7 532.1,833.4 539.8,838.2 547.5,843.1 555.3,847.8 563,852.3 570.7,857 578.4,861.9 586.1,866.8 593.8,871.6 601.5,876.2 609.3,881.1 617,885.9 624.7,890.6 632.4,895.3 640.1,900.1" fill="none" stroke="#00d0ff" stroke-width="0.9"/><polyline points="170.7,607.4 178.4,612 186.2,616.6 193.9,621.2 201.6,626 209.3,631 217,635.5 224.7,640.3 232.4,645.2 240.1,650 247.9,654.6 255.6,659.5 263.3,664 271,669 278.7,673.5 286.4,678.2 294.1,683.2 301.8,688 309.6,692.8 317.3,697.4 325,701.9 332.7,706.8 340.4,711.3 348.1,715.9 355.8,720.5 363.5,725.2 371.3,729.7 379,734.2 386.7,738.8 394.4,743.7 402.1,748.2 409.8,753.2 417.5,758.1 425.3,762.8 433,767.6 440.7,772.2 448.4,777.1 456.1,781.7 463.8,786.6 471.5,791.5 479.2,796.3 487,801.1 494.7,805.8 502.4,810.6 510.1,815.2 517.8,819.7 525.5,824.5 533.2,829.2 540.9,833.7 548.7,838.5 556.4,843.1 564.1,847.7 571.8,852.4 579.5,857 587.2,861.9 594.9,866.5 602.7,871.2 610.4,876 618.1,880.6 625.8,885.2 633.5,890.1 641.2,894.7" fill="none" stroke="#00caff" stroke-width="0.9"/><polyline points="162.4,609.5 170.1,614.1 177.8,618.9 185.5,623.4 193.3,628 201,632.9 208.7,637.6 216.4,642.4 224.1,647.1 231.8,651.7 239.5,656.6 247.2,661.3 255,666.1 262.7,671 270.4,675.5 278.1,680.2 285.8,684.9 293.5,689.7 301.2,694.3 308.9,699.1 316.7,703.9 324.4,708.7 332.1,713.4 339.8,718.1 347.5,722.9 355.2,727.6 362.9,732.4 370.7,737.3 378.4,741.9 386.1,746.6 393.8,751.4 401.5,756 409.2,760.6 416.9,765.5 424.6,770.2 432.4,774.8 440.1,779.6 447.8,784.2 455.5,788.8 463.2,793.7 470.9,798.5 478.6,803.2 486.3,808.2 494.1,813 501.8,817.5 509.5,822.2 517.2,827 524.9,831.9 532.6,836.7 540.3,841.4 548.1,846.3 555.8,851 563.5,855.8 571.2,860.6 578.9,865.4 586.6,870.2 594.3,875.1 602,879.8 609.8,884.7 617.5,889.5 625.2,894.2 632.9,898.9" fill="none" stroke="#00e4ff" stroke-width="1"/><polyline points="214.2,643.3 221.9,648.3 229.6,653.2 237.3,657.9 245,662.8 252.7,667.4 260.4,672.2 268.1,676.9 275.9,681.8 283.6,686.5 291.3,691.4 299,696.3 306.7,701.3 314.4,706 322.1,710.9 329.8,715.8 337.6,720.4 345.3,725.2 353,730 360.7,734.6 368.4,739.4 376.1,744.3 383.8,749.1 391.6,754 399.3,758.7 407,763.6 414.7,768.2 422.4,772.8 430.1,777.5 437.8,782.2 445.5,787 453.3,791.7 461,796.3 468.7,801.2 476.4,805.8 484.1,810.3 491.8,814.9 499.5,819.7 507.2,824.4 515,829 522.7,833.8 530.4,838.5 538.1,843.2 545.8,847.8 553.5,852.7 561.2,857.5 569,862.4 576.7,867.3 584.4,872 592.1,876.8 599.8,881.7 607.5,886.3 615.2,891.2 622.9,895.9 630.7,900.5" fill="none" stroke="#00b5ff" stroke-width="1"/><polyline points="134.2,585.8 141.9,590.6 149.6,595.2 157.3,600 165,604.7 172.7,609.2 180.4,613.9 188.2,618.9 195.9,623.6 203.6,628.4 211.3,633 219,637.7 226.7,642.3 234.4,646.8 242.1,651.5 249.9,656.3 257.6,661.1 265.3,665.7 273,670.3 280.7,675.2 288.4,679.8 296.1,684.7 303.8,689.4 311.6,694.1 319.3,699 327,703.9 334.7,708.6 342.4,713.6 350.1,718.2 357.8,723 365.6,727.6 373.3,732.5 381,737.2 388.7,742.2 396.4,747.1 404.1,751.6 411.8,756.4 419.5,761 427.3,765.8 435,770.4 442.7,775.1 450.4,779.7 458.1,784.6 465.8,789.5 473.5,794.4 481.2,799 489,803.9 496.7,808.7 504.4,813.5 512.1,818.3 519.8,823.2 527.5,828.1 535.2,832.7 543,837.7 550.7,842.2 558.4,847.1 566.1,851.9 573.8,856.6 581.5,861.3 589.2,866.3 596.9,871.2 604.7,876.1 612.4,880.6 620.1,885.4 627.8,890.3 635.5,895 643.2,899.7" fill="none" stroke="#00e9ff" stroke-width="0.9"/></g>
<g fill="none" stroke-width="2.2" stroke-linejoin="round" stroke-linecap="round"><polyline points="150,608 151.8,609 153.8,610.3 155.8,611.4 157.5,612.7 159.5,613.7 161.3,615 163.1,616.1 165.4,616.7 167.2,618.3 169,619.1 171,620.6 173.1,621.7 174.6,622.8 176.6,623.6 178.4,624.8 180.6,625.6 182.3,626.8 184.2,628.1 186.2,629.2 187.9,630.4 189.9,631.6 191.8,632.6 193.9,633.8 195.8,635.2 197.7,636.2 199.7,637.3 201.3,638.3 203.5,639.4 205.3,640.8 207.3,641.2 209.2,642.9 210.8,643.6 212.7,644.8 214.8,646.1 216.5,647.1 218.6,648 220.4,649.1 222.3,650.8 224.3,651.8 226.3,652.9 227.9,654.2 229.9,655.3 231.9,656 233.7,657 235.8,658.4 237.8,659.4 239.5,660.4 241.4,662 243.4,662.8 245.3,664 247.2,665.4 248.8,666.6 250.8,667.8 252.5,668.9 254.4,669.5 256.6,671.1 258.4,672.2 260.1,673 262.3,674.2 263.9,675.8 266,676.4 268,677.4 269.8,678.8 271.8,679.8 273.7,681.1 275.4,682.1 277.4,683.7 279.1,684.3 281.2,686 282.9,686.7 285,688.2 286.9,688.9 288.8,690.1 290.3,691 292.4,692.7 294.4,693.8 296.2,694.7 298.3,695.9 300.2,696.9 302.1,698.1 304.1,699.2 305.7,700.1" stroke="#00faff"/><polyline points="305.7,700.1 307.9,701.2 309.8,702.5 311.6,703.2" stroke="#00fbff"/><polyline points="311.6,703.2 313.8,704.6 315.6,705.5 317.3,706.8 319.3,708" stroke="#00fcff"/><polyline points="319.3,708 321.4,708.7 323.5,710 325.3,710.8" stroke="#00fdff"/><polyline points="325.3,710.8 327.4,712.5 329.3,713.4 331,714.2 332.9,715.1" stroke="#00feff"/><polyline points="332.9,715.1 335,716.2 336.8,717.3 339,718.8" stroke="#00ffff"/><polyline points="339,718.8 340.8,719.9 342.9,720.7 344.7,721.7 346.7,723.3" stroke="#01fffe"/><polyline points="346.7,723.3 348.5,724.3 350.6,725.2 352.6,725.9" stroke="#02fffd"/><polyline points="352.6,725.9 354.5,727.5 356.3,728.1 358.1,729.6 360.3,730.9" stroke="#03fffc"/><polyline points="360.3,730.9 362.1,731.6 364.1,732.6 366,733.7" stroke="#04fffb"/><polyline points="366,733.7 368.2,734.7 370,735.9 372.3,737.1 374.3,737.9 376.6,738.8 378.7,740 380.9,740.7 382.8,741.4 384.9,742.4 387,743.2 389.3,744.7 391.2,745.1 393.8,746.2 395.9,747.2 398,748.1 400.1,748.8 401.9,749.9 404.2,751.5 406.1,752.4 408,753.8 410.1,754.6 412,755.7 413.9,756.9 416.2,758 417.9,759.1 420,759.8 421.9,761 423.8,762.6 425.8,763.7 428.1,764.7 429.9,765.7 432.2,766.6 433.9,768.2 436.1,768.9 438,770.4 439.9,771.1 441.6,772.3 443.6,773.8 445.8,774.5 447.7,775.5 449.6,776.7 451.3,778.1 453.3,779.4 455.1,780.5 457.2,781.6 459.2,782.6 460.9,783.9 463,785.3 465.1,785.9 466.9,787.6 468.6,788.1 470.8,789.5 472.5,790.8 474.7,792.1 476.5,792.9 478.6,794.1 480.4,795.6 482.1,796.5 484.3,797.6 486,798.7 488,800 490,800.7 491.9,802.2 493.9,803.1 495.9,804.3 498.2,805.1 500,805.9 502.1,807.2 504,807.9 506.2,809.3 508.3,810.5 510.4,811 512.2,812.1 514.4,813.3 516.2,814.3 518.4,815.3 520.1,816 522.2,817.2 524.2,818.1 526.4,819.5 528.1,820.3 530.4,821.6 532.2,822.5 534.3,823.2 536.6,824.2 538.5,825.6 540.3,826.1 542.3,827.6 544.4,828.4 546.6,829.4 548.2,830.5 550.6,831.5 552.4,832.6 554.4,834.2 556.4,835 558.2,836 560.4,837.1 562.4,838.2 564.3,839.3 566.6,840.8 568.3,841.6 570.4,842.9 572.3,844.1 574.4,845.3 576.3,846.2 578.6,847.1 580.4,848.3 582.2,849.5 584.4,850.4 586.1,851.9 588.1,853.1 589.8,853.9 592,855.2 593.5,856.2 595.5,857.6 597.4,858.8 599.1,860.1 601.1,860.9 602.9,862.2 604.7,863.4 606.6,864.5 608.6,865.7 610.4,867 612.4,867.7 614.2,869.1 616.3,870.6 617.9,871.5 619.9,872.5 621.7,873.6 623.6,875.1 625.4,876.3 627.4,877.2" stroke="#05fffa"/></g>
<g fill="none" stroke-width="2.4" stroke-linejoin="round" stroke-linecap="round"><polyline points="150,608.5 152.1,609.5 153.6,610.7 155.8,611.9 157.7,612.9 159.7,614.4 161.6,615.1 163.5,616.7 165.4,617.3 166.9,619 169.2,620.1 170.8,621.1 172.8,621.8 174.6,622.9 176.8,624 178.8,625.7 180.5,626.8 182.2,627.9 184.4,628.9 186.1,629.8 187.9,631.4 189.9,632.5 192,633 193.7,634.3 195.9,635.4 197.7,636.8 199.4,638.2 201.3,639 203.2,639.8 205.4,641.5 207,642.5 209.2,643.9 210.9,644.9 212.9,645.8 214.7,646.9 216.5,648.2 218.6,649.3 220.7,650 222.5,651.2 224.1,652.6 226.2,654 228,655.2 230.2,656.2 231.7,657" stroke="#00e5ff"/><polyline points="231.7,657 233.9,658.3 235.7,659.3 237.4,660.8" stroke="#00e6ff"/><polyline points="237.4,660.8 239.6,661.6 241.3,663 243.1,664.1 245,665.2" stroke="#00e7ff"/><polyline points="245,665.2 246.9,666.6 248.8,667.8 250.7,668.6" stroke="#00e8ff"/><polyline points="250.7,668.6 252.7,670.2 254.6,671 256.5,672 258.4,673.2" stroke="#00e9ff"/><polyline points="258.4,673.2 260.2,674.4 262,676.1 264,676.9 265.9,678.2" stroke="#00eaff"/><polyline points="265.9,678.2 267.7,679.3 269.6,680.7 271.5,681.6" stroke="#00ebff"/><polyline points="271.5,681.6 273.7,682.5 275.3,684.2 277.4,684.9 279.1,686.5" stroke="#00ecff"/><polyline points="279.1,686.5 280.9,687.7 283,688.2 284.7,689.4 286.9,690.5" stroke="#00edff"/><polyline points="286.9,690.5 288.8,691.8 290.4,693.3 292.5,694.7" stroke="#00eeff"/><polyline points="292.5,694.7 294.5,695.9 296.4,696.5 298.2,697.8 300.1,698.8" stroke="#00efff"/><polyline points="300.1,698.8 301.9,700.6 303.8,701.6 305.6,703 307.5,703.9 309.5,705.2 311.5,706.7 313.4,707.3 315.4,708.7 317,710.1 318.9,711.1 320.8,712.6 322.9,714 324.7,715.4 326.5,716.4 328.6,717.3 330.7,718.9 332.5,720.2 334.2,721.3 336.1,722.5 338.2,723.9 340.1,725 341.9,726.3 344,727.1 346.1,728.3 347.8,729.1 350.1,730.4 352.1,731.3 354.2,732.1 355.9,733.6 357.8,734.1 360.1,735.6 362,736.7 364.2,737.7 366.2,738.8 367.9,739.8 370,740.3 372,741.8 374,742.6 376.1,743.9 378.2,744.9 380.2,745.8 382.1,746.7 384.1,748.1 385.8,749.2 388,750.2 390,751.2 392.1,752.3 394,753.2 396,754.4 398.1,755.2 400,756.5 401.9,757.4 403.8,758.8 405.8,759.6 407.9,760.6 409.8,762 411.7,763.3 413.5,764.2 415.3,765.7 417.5,766.8 419.5,767.6 421.2,769 423.1,770 425.2,771.5 427,772.2 428.9,773.6 430.7,774.6 432.7,776.2 434.9,776.8 436.7,778.5 438.5,779.5 440.6,780.4 442.5,781.5 444.4,782.9 446.3,784.1 448.4,785.6 450.1,786.1 452.2,787.8 454.1,788.8 455.9,789.5 457.9,790.5 459.9,791.8 462.1,793 464.1,793.6 466.2,794.8 468,795.8 470.1,797.1 472.3,797.6 474,798.7 476.1,799.7 478.1,800.4 480.3,801.6 482.3,802.8 484.2,803.6 486.2,804.5 488,806 490.3,806.6 492.2,808.1 494.4,808.5 496.3,809.6 498.2,810.7 500.4,812.1 502.1,812.8 504.4,813.6 506.2,814.6 508.2,815.6 510.2,816.5 512.4,817.6 514.5,818.6 516.2,819.8 518.2,820.7 520.4,821.3 522.3,822.1 524.6,823.1 526.5,824.2 528.2,825.3 530.4,826.4 532.3,827.2 534.4,827.8 536.6,829.1 538.6,829.7 540.5,830.6 542.6,831.9 544.3,832.6 546.4,833.6 548.4,834.4 550.5,835.6 552.6,836.4 554.3,837.6 556.7,838 558.5,839 560.6,840.3 562.5,840.7 564.3,842 565.9,843.7 567.7,844.6 569.9,846.1 571.5,847.8 573.2,848.7 575.1,850.2 576.9,851.1 578.9,853.1 580.5,854.1 582.5,855.6 584.2,856.6 585.9,857.9 587.8,859.5 589.4,860.9 591.5,862.2 593,863.3 595.1,864.4 596.9,866.1 598.7,866.8 600.4,868.7 602.1,869.5 604,870.9 605.6,872.6 607.7,873.5 609.3,875 611,876.2 612.9,877.7 614.9,878.9 616.4,880.1 618.4,881.8 620.2,882.9 622.1,884.1 623.8,885.2 625.5,886.9 627.4,888" stroke="#00f0ff"/></g>
<g fill="none" stroke-width="2" stroke-linejoin="round" stroke-linecap="round"><polyline points="150,609 152,609.8 153.8,611.1 155.8,612.3 157.5,613.8 159.7,615 161.5,616 163.4,617.2 165.4,618.5 167.2,619.4 168.9,620.4 170.8,621.5 172.8,622.9 174.7,623.7 176.8,625.2 178.7,626.4 180.4,627.4 182.2,628.5 184.3,629.7 186.4,631.1 187.9,632.2 189.9,632.7 191.7,634 193.8,635 195.9,636.6 197.6,637.2 199.6,638.5 201.5,639.6 203.5,641.3 205.3,642 207,643.6 209,644.3 211,645.8 212.9,646.5 214.6,648.1 216.8,649 218.5,650.3 220.3,651.4 222.3,652.4 224.5,653.9 226.1,654.7 228,656.1 230.2,656.7 231.9,658.5" stroke="#00dbff"/><polyline points="231.9,658.5 233.8,659.1 235.7,660.2 237.4,662 239.5,663" stroke="#00dcff"/><polyline points="239.5,663 241.2,664 243.1,665.5 245.2,666.5" stroke="#00ddff"/><polyline points="245.2,666.5 246.9,667.2 248.8,668.8 250.9,669.9 252.5,671.3" stroke="#00deff"/><polyline points="252.5,671.3 254.4,672.1 256.6,673.1 258.2,674.3 260.3,675.8" stroke="#00dfff"/><polyline points="260.3,675.8 262.2,677.3 263.9,678.5 265.8,679.2" stroke="#00e0ff"/><polyline points="265.8,679.2 267.9,680.8 269.8,681.8 271.6,682.6 273.4,684.3" stroke="#00e1ff"/><polyline points="273.4,684.3 275.4,684.9 277.2,686.7 279.2,687.4 280.9,689" stroke="#00e2ff"/><polyline points="280.9,689 283.1,690 284.8,691.1 286.7,692.4" stroke="#00e3ff"/><polyline points="286.7,692.4 288.6,693.6 290.6,694.3 292.4,696 294.4,697.2" stroke="#00e4ff"/><polyline points="294.4,697.2 296,698.4 298.1,699.1 300.1,700.8 301.7,702 303.7,703.2 305.4,704.3 307.4,705.7 309.2,706.9 311.1,708.5 312.8,709.7 314.5,710.5 316.4,712.5 318,713.3 319.8,714.9 321.8,716 323.5,717.6 325.3,718.9 327.5,719.8 328.9,721.4 330.8,722.2 332.5,723.7 334.7,724.9 336.6,726.2 338,727.8 340.2,728.8 341.9,729.8 344,731.4 345.9,732.5 347.7,733.1 349.9,734.5 351.7,735.2 353.8,736.1 355.5,737.8 357.4,738.7 359.3,739.3 361.3,740.6 363.1,741.9 365.3,742.5 367,743.9 368.9,744.6 370.9,746.1 373,747.2 375,748.1 376.9,748.8 378.7,750.4 380.8,751.4 382.4,751.9 384.6,753.3 386.6,754.6 388.5,755.5 390.3,756.2 392.2,757.8 394.3,758.8 396.3,759.6 398.2,760.3 400,761.6 402,762.7 404,763.6 405.9,764.8 407.9,765.8 409.5,767 411.6,768.4 413.7,769.3 415.6,770.6 417.5,771.6 419.4,772.5 421.3,773.6 423.3,774.9 425.1,775.7 427,776.7 428.9,777.7 430.9,779 432.7,780.4 434.5,781.4 436.7,782.1 438.6,783.4 440.6,784.7 442.6,785.3 444.4,786.3 446.2,787.8 448.1,789 450,789.7 452,790.8 453.8,792.2 455.9,792.9 458,794.1 459.9,795 461.7,796.6 463.7,797.2 465.4,798.9 467.5,800 469.5,801.2 471.7,801.7 473.5,803 475.3,804.2 477.5,805.6 479,806.1 481,807.6 483,808.3 485.2,809.7 487,810.6 488.9,811.6 490.6,812.8 492.7,813.8 494.8,815.5 496.8,816.5 498.7,817.2 500.7,818.7 502.4,819.8 504.3,821.1 506.3,821.8 508.4,823.1 510.3,824.1 512.3,825.3 514,826.2 516,827.7 518.1,828.5 519.7,829.8 521.9,831.1 524,832.4 525.7,833.2 527.5,834.8 529.5,835.8 531.7,837 533.3,838.4 535.4,839 537.3,840.3 539.4,841.8 541.1,842.5 543.2,844.1 545,844.8 546.8,846.4 548.7,847.4 551,848.4 552.7,849.6 554.6,850.9 556.5,852.2 558.6,853 560.4,854.3 562.5,855.8 564.6,856.6 566.4,857.6 568.2,858.8 570.3,860.3 571.9,861.6 574.1,862.7 576,864 577.9,864.9 579.7,866.2 581.8,866.9 583.7,868.6 585.5,869.3 587.4,870.5 589.3,871.8 591.3,873.1 592.9,874 594.9,875.1 596.7,876.2 598.7,878 600.7,878.6 602.8,880.2 604.3,881 606.5,882.5 608.3,883.4 610.4,884.6 612.1,886.2 614.2,886.9 616.1,887.9 618,889.6 619.8,890.5 621.6,892 623.8,893 625.3,894.2 627.4,895.2" stroke="#00e5ff"/></g>
<g fill="none" stroke-width="1.2" stroke-linejoin="round" stroke-linecap="round"><polyline points="150,609 152.1,610 153.8,611.2 155.8,612.8 157.6,613.4 159.4,614.7 161.5,615.6 163.4,617.2 165.3,618.3 167.2,619.6 169.2,620.6 171.2,621.4 172.7,622.8 174.6,623.7 176.7,625 178.5,626.2 180.5,627.7 182.4,628.8 184.5,629.8 186.4,631.1 188,632.1 190.2,633.5 191.8,634.1 193.7,635.9 195.9,636.4 197.5,637.5 199.4,639.2 201.5,640.1 203.3,641.1 205.3,642.4 207,644 208.9,645.1 211,645.6 213,647.1 214.7,648.1 216.8,649.6 218.7,650.6 220.3,651.9 222.5,653.1 224.2,654.1 226.3,655 228,656.2 229.8,657.6 231.8,659 233.8,660.1 235.9,661.1 237.6,662.3 239.6,663.5 241.4,664.4 243.1,665.7 245.2,667 247,668.2 249,669.2 250.6,670.9 252.9,672.1 254.6,673.3 256.5,674.1 258.2,675.9 260.4,676.9 262.2,677.7 264.1,678.8 266.2,680.4 267.9,681.8 269.9,683 271.6,683.8 273.4,685.2 275.5,686 277.5,687.5 279.2,688.6 281.1,689.7 282.8,691.5 285,692.2 286.9,693.7 288.6,694.5 290.4,696.3 292.6,697.5 294.2,698.2 296.2,699.9 298.2,700.8 300,702.3 301.9,703 303.6,704.5 305.5,705.3 307.6,706.9 309.3,707.8 311.2,709 313,710.8 314.7,712 316.8,713.2 318.7,714.4 320.5,715.3 322,716.6 324,718.2 326,718.9 327.6,720.2 329.7,721.4 331.4,722.6 333.3,724.2 335.2,725.5 336.9,726.3 338.7,727.5 340.8,728.7 342.6,729.8 344.3,731.5 346.4,732.4 348,734.1 350.2,734.9 351.8,735.9 353.9,737.2 355.9,738.5 357.8,739.6 359.5,740.6 361.7,742.2 363.6,743.4 365.2,744.1 367.5,745.3 369,746.6 370.9,747.7 373.3,748.8 375.2,750 377.1,751.3 378.8,752 380.9,753.4 382.8,754.7 384.7,755.8 386.7,757.1 388.5,758.2 390.4,759.5 392.2,760.6 394.4,761.9 396.2,763 398.2,764.1 400.2,765.2 401.8,766.1 403.8,767.3 406,768.4 407.9,769.1 409.8,770.6 411.8,771.6 413.9,772.9 416,773.7 418.1,775 420,776 422,776.8 423.9,778 426.1,779 427.8,780.3 429.9,781.1 431.8,782.2 433.9,783.6 435.8,784.4 437.9,785.7 440.1,786.6 442.1,787.2 444,788.8 446.2,789.5 448.2,790.5 450,791.9 452.2,792.7 454,794.3 455.9,795.2 457.9,796.5 459.9,797.2 461.7,798.2 463.6,799.9 465.7,800.7 467.4,801.6 469.2,802.9 471.2,804.3 473.1,805.5 475.2,806.7 476.9,807.3 479,809 480.6,809.7 482.7,810.7 484.5,812 486.6,813.6 488.4,814.5 490.5,815.4 492.2,816.7 494.2,818.1 495.9,819 497.8,819.9 499.8,821.2 501.7,822.5 503.6,823.6 505.7,824.9 507.6,825.6 509.6,826.6 511.4,828.1 513.4,828.9 515.2,830.1 517.2,831.5 518.9,832.8 520.9,833.5 522.9,834.8 524.6,835.6 526.4,837 528.5,838.3 530.3,839.7 532.4,840.2 534.1,841.8 536,843 537.9,843.5 539.9,844.9 542,845.9 543.9,847.6 545.6,848.4 547.4,849.9 549.4,851.1 551.4,851.8 553.1,853.4 555.4,854.5 557.3,855.3 559,856.6 561.1,857.8 562.8,859 564.7,859.9 566.6,861.2 568.6,862.7 570.3,863.8 572.4,864.7 574.2,866.1 576,867.6 578,868.3 579.7,869.5 581.8,870.9 583.7,872.1 585.8,873.3 587.4,874.5 589.3,875.6 591.3,876.4 593.1,878 595,879.1 597.1,880.4 598.9,881 600.9,882.3 602.8,883.4 604.8,884.7 606.6,886.1 608.4,887.1 610.5,888.5 612.4,889.7 614.1,890.9 615.9,892 617.8,892.9 619.7,894 621.7,895.5 623.8,896.6 625.5,897.6 627.4,898.8" stroke="#00dbff"/></g>
<g fill="none" stroke-width="1.1" stroke-linejoin="round" stroke-linecap="round"><polyline points="150,609.5 152,610.4 154,611.5 155.8,613 157.7,614.1 159.5,615.1 161.6,616.4 163.3,617.8 165.2,618.9 167.1,620.1 169.2,620.8 170.8,622.2 172.8,623.6 175,624.6 176.7,625.5 178.6,627 180.3,628.2 182.3,629 184.1,630 186.4,631.1 188,632.4 189.9,633.8 192,635.2 193.7,635.8 195.6,637.1 197.5,638.2 199.5,639.5 201.3,640.5 203.5,641.5 205.1,642.7 207.1,644.1 209.2,645.3 210.9,646.5 212.7,647.8 214.9,649.1 216.7,649.8 218.5,651 220.6,652.3 222.4,653.2 224.2,654.3 226,655.7 228.3,656.6 230.2,657.9 231.9,659.2 233.9,660.7 235.7,661.9 237.6,662.9 239.6,664 241.2,665 243.2,666.7 244.9,667.9 246.8,668.6 249,670.1 250.9,671.7 252.8,672.6 254.5,673.9 256.4,674.7 258.5,676.4 260.3,677.3 262.4,678.7 263.9,680.1 266,681 267.9,682.3 269.7,683.8 271.8,684.8 273.4,685.6 275.3,687.3 277.3,688.6 279.2,689.3 281.2,690.5 283.1,692.4 284.9,693.1 286.6,694.5 288.8,695.9 290.6,696.7 292.5,697.9 294.2,699.6 296.3,700.8 298.2,701.8 300.1,702.7 301.9,704.5 303.5,705.4 305.4,706.8 307.4,708.5 309.5,709.4 311.1,710.7 313,712.3 314.8,713.2 316.5,714.9 318.5,716 320.4,717.4 322,718.7 324,719.9 325.8,721 327.8,722.3 329.6,724 331.3,725.4 333.2,726.1 335,727.3 337,728.8 338.9,730.5 340.7,731.8 342.4,732.7 344.5,734.3 346.1,735.5 347.9,736.6 350.1,738.3 352.1,739 354,740.2 355.8,741 357.8,742.3 359.8,743.7 361.6,744.4 363.7,745.8 365.4,746.6 367.3,747.8 369.3,748.9 371.3,749.8 373.2,751 375.3,751.9 377.2,753.3 379,754.2 381,755.2 383,756.8 384.7,757.7 386.7,758.7 388.4,760 390.6,761.1 392.4,762 394.5,762.7 396.1,764.3 398.3,765.3 400,766.5 402.2,767.5 403.9,768.1 405.9,769.7 408.1,770.3 409.7,771.4 411.6,772.9 413.6,774.2 415.7,774.9 417.6,776 419.4,776.9 421.4,778.2 423.4,779.6 425.3,780.2 427.3,781.6 429.1,782.4 431.2,783.8 433.2,785 434.9,785.9 437,786.7 439,788.2 440.5,789.2 442.7,790.5 444.5,791.3 446.4,792.2 448.6,793.3 450.3,794.6 452.3,795.5 454.1,797 456.2,797.5 458.1,798.9 460,800.1 461.7,801.3 463.8,802.4 465.7,803.1 467.5,804.1 469.5,805.6 471.6,806.5 473.5,807.6 475.5,809.1 477.4,809.9 479.1,811.4 481.2,812.2 483,813.3 485.2,814.4 486.8,815.5 488.8,817 490.9,817.6 492.6,818.6 494.6,820.4 496.6,821.2 498.6,822.5 500.5,823.6 502.3,824.6 504,825.5 506.2,826.8 508.2,828.2 510.2,829.2 511.8,829.8 513.9,831.5 515.9,832.1 517.7,833.2 519.8,834.7 521.4,835.8 523.6,836.5 525.3,837.7 527.4,839.3 529.1,840.1 531.1,841.6 533.1,842.7 535.2,843.3 537,844.8 539,845.9 540.6,846.7 542.8,848 544.5,849.4 546.7,850.5 548.7,851.3 550.5,852.5 552.1,853.6 554.4,854.9 556.4,855.8 558,856.6 560,857.9 561.9,859.1 563.9,860.4 565.4,861.6 567.5,863 569.3,864.1 571.3,865.5 573.1,866.5 574.9,867.3 576.8,869 578.6,870.3 580.7,871.3 582.6,872.2 584.4,873.2 586.4,874.6 588.1,875.8 589.9,877.2 591.9,878.4 593.6,879.3 595.7,880.9 597.2,881.9 599.5,882.9 601.1,884.3 603.2,885.2 604.8,887 607,887.5 608.8,888.7 610.7,890.2 612.5,891.2 614.1,892.4 616.3,893.9 618,894.7 620,895.9 621.8,897.5 623.6,898.9 625.3,899.6 627.4,901" stroke="#00d1ff"/></g>
<g fill="none" stroke-width="0.9" stroke-linejoin="round" stroke-linecap="round"><polyline points="200,640 201.8,641.5 203.6,642.3 205.7,643.6 207.4,644.8 209.5,645.7 211.5,647 213.3,648.5 215.3,649.2 216.9,650.7 219.1,651.6 221,652.8 222.9,653.9 224.6,655.4 226.4,656.2 228.4,657.7 230.3,659 232.4,659.8 234,660.9 236.1,662.4 237.8,663.2 239.8,664.5 241.8,665.5 243.5,667.3 245.4,668 247.5,669.4 249.1,670.2 251.4,671.7 253.1,672.7 254.9,674 256.7,675.3 258.8,676.2 260.5,677.6 262.5,678.6 264.6,679.7 266.2,681.3 268.3,682.3 270.3,683.6 272.2,684.6 273.8,685.4 276,687 277.9,688.1 279.8,689.4 281.4,690.6 283.4,691.6 285.5,692.9 287.3,694.2 289,695.4 291.2,696.1 292.8,697.6 294.7,698.7 296.6,700.1 298.6,701.1 300.3,702.1 302.4,703.1 304.4,704.2 306.4,705.4 308,707 310.1,708 311.7,709.6 313.8,710.3 315.5,711.6 317.5,713.2 319.4,714 321.3,715.8 322.9,716.6 325,718.1 326.6,719 328.5,720.6 330.3,721.8 332,723 334,724.2 335.8,725.5 337.6,726.8 339.5,728.3 341.7,729.6 343.5,731 345.3,731.9 346.9,733.3 349.1,734.4 350.9,735.7 352.6,737.2 354.6,737.9 356.4,739.5 358.1,741 359.8,742.2 361.8,743.4 363.7,744 365.7,745.1 367.5,746.6 369.6,747.4 371.6,748.6 373.6,750 375.6,751.2 377.5,752.6 379.2,753.7 381.1,754.8 383.3,755.5 385.2,756.9 387.2,758.2 389,759.2 390.9,760.2 392.7,761.4 394.9,762.3 396.5,763.6 398.7,765 400.7,766.1 402.4,767 404.4,768.1 406.4,769.1 408.2,770.6 410.2,771.6 412.1,773.1 414.3,774 416,774.8 418,776.5 419.7,777.8 421.7,778.6 423.9,779.9 425.9,780.9 427.4,782.1 429.4,783.5 431.5,784.5 433.5,785.3 435.5,786.9 437.2,787.6 439.1,789.1 441.2,789.9 443,791.4 445.2,792.3 446.7,793.5" stroke="#00b3ff"/><polyline points="446.7,793.5 448.2,795.4 449.9,796.9 451.8,798.3" stroke="#00b2ff"/><polyline points="451.8,798.3 453.4,799.3 454.9,801.1 456.7,802.7" stroke="#00b1ff"/><polyline points="456.7,802.7 458.5,803.5 459.9,805.5 461.6,807" stroke="#00b0ff"/><polyline points="461.6,807 463.3,808.3 464.8,809.7 466.9,811" stroke="#00afff"/><polyline points="466.9,811 468.2,812.6 470,813.9 471.7,815.2 473.4,816.9" stroke="#00aeff"/><polyline points="473.4,816.9 474.8,818.3 476.5,819.9 478.5,820.9" stroke="#00adff"/><polyline points="478.5,820.9 480.1,822.4 481.8,824.2 483.4,825.6" stroke="#00acff"/><polyline points="483.4,825.6 485.1,827.1 486.5,828.3 488.2,830" stroke="#00abff"/><polyline points="488.2,830 489.8,831.2 491.9,832.6 493.5,834.4 495.1,835.3" stroke="#00aaff"/><polyline points="495.1,835.3 496.8,836.8 498.2,838.5 500.1,839.9" stroke="#00a9ff"/><polyline points="500.1,839.9 501.5,841.6 503.3,843.2 505.1,844.1" stroke="#00a8ff"/><polyline points="505.1,844.1 506.5,845.9 508.2,847.4 510,849.2" stroke="#00a7ff"/><polyline points="510,849.2 511.8,850.6 513.4,851.9 514.9,853.2" stroke="#00a6ff"/><polyline points="514.9,853.2 516.4,855 518.4,856.5 520,857.8" stroke="#00a5ff"/><polyline points="520,857.8 521.6,859.5 523.1,860.7 524.8,862.1" stroke="#00a4ff"/><polyline points="524.8,862.1 526.8,863.7 528.4,865.2 529.9,866.8" stroke="#00a3ff"/><polyline points="529.9,866.8 531.4,868.1 533.3,869.5 534.8,871.1" stroke="#00a2ff"/><polyline points="534.8,871.1 536.5,872.3 538.2,874" stroke="#00a1ff"/><polyline points="538.2,874 540,875.4 541.5,877.2 543.2,878.7" stroke="#00a0ff"/><polyline points="543.2,878.7 544.9,879.9 546.6,881.7 547.9,883" stroke="#009fff"/><polyline points="547.9,883 549.8,884.4" stroke="#009eff"/></g>
<g fill="none" stroke-width="1.3" stroke-linejoin="round" stroke-linecap="round"><polyline points="150,608 151.8,609.1 153.8,610.5 155.6,611.2 157.6,612.2 159.4,613.5 161.6,614.9 163.2,615.8 165.2,617.3 167.2,618.5 169.2,619.2 170.8,620.5 172.9,621.7 174.9,622.6 176.9,623.6 178.6,625 180.6,626.4 182.4,627.2 184.3,628.5 186.3,629.3 188.3,630.6 189.9,631.6 192.1,633.2 193.9,634 195.7,634.9 197.5,636.5 199.4,637.6 201.6,638.4 203.4,639.5 205.3,640.7 207,642.2 208.9,643.1 211.1,644.1 212.7,645 214.7,646.2 216.5,647.6 218.7,648.5 220.5,649.6 222.4,650.7 224.4,651.9 226,653.1 228,654.6 229.9,655.4 232,657 234,657.5 235.8,659.2 237.4,660.1 239.3,661.1 241.3,662.2 243.2,663.3 245.2,664.9 247,666 248.8,666.9 250.8,668 252.9,669.5 254.4,670.4 256.3,671.5 258.3,672.7 260.4,674.2 262.1,675.5 264,676.2 266,677.8 267.8,678.4 269.6,680.2 271.7,681.3 273.5,682.5 275.4,683.4 277.3,684.7 279.1,685.7 281.1,687.1 283,688 284.7,689.3 286.6,690.4 288.8,691.5 290.5,692.7 292.6,693.8 294.3,695.3 296.2,696.5 298.2,697.5 299.8,698.3 302,699.5 303.9,700.8 305.8,701.7 307.6,702.9 309.6,704.5 311.5,705.6 313.4,706.9 315.1,707.7 317,708.6 318.9,709.8 320.9,711.5 323,712.3 324.6,713.3 326.8,714.4 328.6,716.1 330.4,716.9 332.3,718.4 334.4,719.5 336,720.3 338,721.5 340,722.8 342.1,723.8 343.8,725.1 345.8,726.4 347.5,727.2 349.4,728.3 351.4,729.6 353.3,730.8 355,732.2 357.2,733.4 358.9,734 360.9,735.2 362.8,736.5 364.9,737.5 366.8,738.9 368.8,740.2 370.7,741 372.4,742.4 374.5,743.9 376.4,744.6 378.1,746 380,746.8 382,748.4 383.9,749.1 385.6,750.4 387.6,751.7 389.6,752.7 391.7,753.6 393.2,755.1 395.5,756.3 397.1,757.3 399.3,757.9 400.9,759.6 402.9,760.8 404.7,762 406.7,762.4 408.8,763.6 410.8,765 412.5,766.4 414.3,767.2 416.3,768.5 418.3,769.8 420.4,770.4 422,771.8 424,773 426,773.9 428,775.4 429.9,776.2 431.7,777.2 433.5,778.9 435.4,779.9 437.3,780.8 439.3,781.7 441.3,783.4 443,784.5 444.9,785.1 447,786.7 448.9,787.8 450.8,788.6 452.6,789.9 454.7,790.9 456.5,791.9 458.6,793.6 460.3,794.1 462.4,795.2 464.5,796.7 466.1,797.6 468.2,798.8 470,799.9 471.8,801.3 473.9,802.1 476,803.2 477.9,804.5 479.8,805.5 481.9,806.6 483.6,807.4 485.7,808.4 487.5,809.8 489.8,810.9 491.4,812 493.4,813.1 495.4,814.5 497.6,815.5 499.5,816.1 501.5,817.5 503.1,818.7 505.3,819.4 507.2,820.3 509.3,821.6 511.2,822.5 513,823.8 514.9,825.3 516.8,825.8 518.8,826.9 520.9,828.3 523,829 525,830.5 526.9,831.3 528.8,832.9 530.6,833.6 532.7,834.9 534.5,835.9 536.6,837.2 538.4,838 540.4,839.4 542.5,840.1 544.5,841.5 546.2,842.3 548.2,843.2 550.1,844.4 552,845.6 554,846.8 556,847.9 558,849.2 559.8,850 561.9,851.2 564,851.7 566.1,853 567.8,853.9 569.8,854.9 571.7,855.8 574.1,856.9 575.8,858.3 577.7,859.3 579.7,860.2 581.7,861 583.8,861.7 585.8,863 587.6,863.8 589.9,864.7 591.7,865.8 593.7,867.2 595.7,867.8 597.6,868.9 599.7,870.1 601.8,871 603.7,872.2 605.8,873 607.8,874.2 609.6,874.8 611.6,875.7 613.7,877.2 615.6,877.7 617.3,879.2 619.4,880.1 621.4,881 623.5,882 625.3,882.9 627.4,884" stroke="#00f0ff"/></g>
<g fill="none" stroke-width="0.9" stroke-linejoin="round" stroke-linecap="round"><polyline points="150,607.5 151.9,608.7 153.8,609.5 155.7,610.9 157.7,612 159.7,613 161.5,614.2 163.4,615.3 165.5,616.5 167.3,617.3 169.4,618.9 171.1,619.7 173.1,620.8 175,621.5 176.9,623.2 178.7,624.2 180.7,624.9 182.6,626.4 184.5,627.3 186.7,628.2 188.5,630 190.4,630.6 192.3,631.8 194.3,633 196,634.4 197.9,635.2 199.9,636.1 201.8,637.1 204,638.7 205.7,639.5 207.9,640.4 209.5,641.6 211.7,642.9 213.4,643.9 215.5,645.2 217.2,646.5 219.3,647.1 221.3,648.5 222.9,649.4 225.1,650.7 227,651.6 229,652.7 230.7,654.2 232.8,655.2 234.7,656.1 236.4,657.1 238.5,658.3 240.5,659.6 242.4,660.4 244.2,661.7 246.1,662.6 248.2,664.2 250.1,665.3 252,666.3 253.8,667.7 255.5,668.6 257.7,670.2 259.7,670.8 261.5,672.3 263.1,673.7 265.3,674.7 266.9,676.1 269.1,677.3 270.7,678.7 272.7,679.7 274.5,680.6 276.5,681.9 278.5,683.2 280.3,684.6 282,685.5 284,687 286.1,687.8 287.9,689.3 289.7,690.4 291.8,691.9 293.3,693.2 295.3,694.5 297.4,695.6 299.1,696.8 301.1,697.8 303,699.3 304.9,700.2 306.7,701.3 308.4,702.8 310.4,704.1 312.3,705 314.2,706.2 316.3,707.5 318.1,709.1 320.1,709.7 322,711.3 323.8,711.9 325.8,713.4 328,714.3 329.6,715.4 331.9,716 333.7,717.6 335.6,718.7 337.8,719.6 339.8,720.1 341.5,721.2 343.7,722.2 345.6,723.5 347.4,724.3 349.3,725.9 351.2,726.6 353.4,727.8 355.3,728.5 357.3,730 359.3,730.9 361.4,731.8 363.3,732.7 365.1,733.6 367.2,734.7 368.9,735.8 371.1,737.2 373,738.2 374.8,738.8 377,740.3 378.6,740.8 380.9,742.4 382.8,743.2 384.9,744.6 386.5,745.6 388.7,746.3 390.5,747.3 392.7,748.6 394.5,749.3 396.5,750.5 398.5,751.7 400.2,752.8 402.3,753.4 404.3,755 406.1,755.9 408,756.8 410,757.8 412.3,758.9 414.2,759.9 416.2,760.9 417.9,761.9 420,762.8 421.9,764.1 423.8,764.8 426,766.1 427.6,766.9 429.6,768.4 431.7,769 433.7,770.4 435.8,771 437.8,772.3 439.5,773.3 441.7,774.4 443.7,775.5 445.4,776.3 447.4,777.4 449.4,778.5 451.5,779 453.2,780.5 455.5,781.6 457.2,782.6 459.4,783.6 461.1,784.5 463.1,785.6 465.2,786.8 466.8,787.7 469.2,788.7 470.9,789.7 472.9,790.6 474.7,791.4 477,792.8 478.9,793.3 480.7,794.3 482.9,795.3 484.6,796.8 486.6,797.4 488.8,798.8 490.4,799.8 492.7,800.4 494.7,801.6 496.6,803.1 498.3,803.5 500.5,805 502.5,805.7 504.2,807 506.3,807.8 508.2,809.1 510.4,809.8 512.2,810.7 513.9,811.9 516.2,812.8 518,814.1 519.8,815.3 521.9,816.3 523.8,817.2 525.8,818.4 527.5,819.5 529.6,820.4 531.3,821.5 533.4,822.9 535.2,824.4 536.9,825.1 538.8,826.1 540.8,827.6 542.4,828.5 544.4,830.1 546.3,831.1 548.1,831.9 550.3,833.1 552.1,834.6 554,835.6 555.9,836.7 557.7,837.5 559.5,838.6 561.6,840.3 563.5,841.4 565.2,842.7 567.1,843.4 569.1,844.8 570.9,845.5 572.7,846.7 574.6,848.4 576.5,849.3 578.4,850.2 580.4,851.7 582.1,852.4 584.1,853.9 586.1,855.2 587.8,856.1 589.6,857.4 591.5,858.2 593.4,859.7 595.5,860.5 597.4,862.1 598.9,863.1 601.2,864.4 602.7,865.4 604.7,866.3 606.7,867.4 608.5,868.4 610.4,869.8 612.2,870.9 614.2,871.9 616,873.4 617.8,874.3 619.7,875.5 621.7,876.7 623.8,877.8 625.5,878.9 627.4,880" stroke="#00faff"/></g>
<g fill="none" stroke-width="3.2" stroke-linejoin="round" stroke-linecap="round"><polyline points="641.5,706 641.5,703.7" stroke="#e5ff1a"/><polyline points="641.5,703.7 641.6,702.3" stroke="#e8ff17"/><polyline points="641.6,702.3 642.5,700.6" stroke="#eaff15"/><polyline points="642.5,700.6 643.3,696.4" stroke="#ecff13"/><polyline points="643.3,696.4 643.1,695.2" stroke="#eeff11"/><polyline points="643.1,695.2 644,693.5" stroke="#f0ff0f"/><polyline points="644,693.5 643.7,689.3" stroke="#f1ff0e"/><polyline points="643.7,689.3 643.8,686.8" stroke="#f3ff0c"/><polyline points="643.8,686.8 645.1,683.7" stroke="#f4ff0b"/><polyline points="645.1,683.7 646.1,681.8" stroke="#f6ff09"/><polyline points="646.1,681.8 645.8,679.3" stroke="#f7ff08"/><polyline points="645.8,679.3 646.9,678.3" stroke="#f8ff07"/><polyline points="646.9,678.3 646.7,674.6" stroke="#faff05"/><polyline points="646.7,674.6 647.2,672.8" stroke="#fdff02"/><polyline points="647.2,672.8 648.1,672.3" stroke="#ffff00"/><polyline points="648.1,672.3 648.2,668.2" stroke="#fffc00"/><polyline points="648.2,668.2 648.7,665.1" stroke="#fff900"/><polyline points="648.7,665.1 649.2,664.2" stroke="#fff600"/><polyline points="649.2,664.2 649.9,661.2" stroke="#fff300"/><polyline points="649.9,661.2 649.6,658.3" stroke="#fff100"/><polyline points="649.6,658.3 650,655.9" stroke="#ffee00"/><polyline points="650,655.9 650.2,654.6" stroke="#ffeb00"/><polyline points="650.2,654.6 650.5,652.7" stroke="#ffe800"/><polyline points="650.5,652.7 651.6,649.5" stroke="#ffe500"/><polyline points="651.6,649.5 651.4,648.8" stroke="#ffe300"/><polyline points="651.4,648.8 651.7,646.9" stroke="#ffe100"/><polyline points="651.7,646.9 651.7,643" stroke="#ffdf00"/><polyline points="651.7,643 651.1,642.6" stroke="#ffdd00"/><polyline points="651.1,642.6 652.1,640" stroke="#ffdb00"/><polyline points="652.1,640 652.8,636.8" stroke="#ffd900"/><polyline points="652.8,636.8 653.1,635.2" stroke="#ffd700"/><polyline points="653.1,635.2 653.1,632.8" stroke="#ffd500"/><polyline points="653.1,632.8 652.4,630.3" stroke="#ffd300"/><polyline points="652.4,630.3 653.4,628.4" stroke="#ffd100"/><polyline points="653.4,628.4 654.6,627.2" stroke="#ffcf00"/><polyline points="654.6,627.2 653.5,623" stroke="#ffcd00"/><polyline points="653.5,623 654.4,622.3" stroke="#ffcb00"/><polyline points="654.4,622.3 654.9,619.6" stroke="#ffc900"/><polyline points="654.9,619.6 654.6,616.4" stroke="#ffc700"/><polyline points="654.6,616.4 655.2,614" stroke="#ffc500"/><polyline points="655.2,614 654.8,612" stroke="#ffc300"/><polyline points="654.8,612 655.1,610.2" stroke="#ffc100"/><polyline points="655.1,610.2 656.2,608.2" stroke="#ffbf00"/><polyline points="656.2,608.2 657.1,604.2" stroke="#ffbd00"/><polyline points="657.1,604.2 657.4,602" stroke="#ffbb00"/><polyline points="657.4,602 657.7,601.2" stroke="#ffb900"/><polyline points="657.7,601.2 657.9,599.8" stroke="#ffb700"/><polyline points="657.9,599.8 657.7,597.2" stroke="#ffb500"/><polyline points="657.7,597.2 657.5,593.7" stroke="#ffb300"/><polyline points="657.5,593.7 658.4,592.1" stroke="#ffb000"/><polyline points="658.4,592.1 658.8,588.9" stroke="#ffae00"/><polyline points="658.8,588.9 658,587.5" stroke="#ffac00"/><polyline points="658,587.5 659.5,585.8" stroke="#ffaa00"/><polyline points="659.5,585.8 659.9,582.8" stroke="#ffa800"/><polyline points="659.9,582.8 660.3,581.7" stroke="#ffa300"/><polyline points="660.3,581.7 660.5,578.5" stroke="#ff9e00"/><polyline points="660.5,578.5 662,576.9" stroke="#ff9900"/><polyline points="662,576.9 661.5,572.8" stroke="#ff9400"/><polyline points="661.5,572.8 662.4,571.1" stroke="#ff8f00"/><polyline points="662.4,571.1 663.1,568.3" stroke="#ff8a00"/><polyline points="663.1,568.3 663.9,566.7" stroke="#ff8500"/><polyline points="663.9,566.7 663.9,565.4" stroke="#ff8000"/><polyline points="663.9,565.4 664.5,562.8" stroke="#ff7b00"/><polyline points="664.5,562.8 665.1,558.1" stroke="#ff7700"/><polyline points="665.1,558.1 665.4,557.2" stroke="#ff7200"/><polyline points="665.4,557.2 664.7,553.9" stroke="#ff6e00"/><polyline points="664.7,553.9 666.7,554.2" stroke="#ff6a00"/><polyline points="666.7,554.2 666.3,549.7" stroke="#ff6500"/><polyline points="666.3,549.7 669.5,551.3" stroke="#ff6100"/><polyline points="669.5,551.3 670.6,548.7" stroke="#ff5700"/><polyline points="670.6,548.7 671.4,547.7" stroke="#ff4c00"/><polyline points="671.4,547.7 672.3,544.4" stroke="#ff4800"/><polyline points="672.3,544.4 672.1,541.5" stroke="#ff4400"/><polyline points="672.1,541.5 672.6,538.3" stroke="#ff4000"/><polyline points="672.6,538.3 672.5,536.9" stroke="#ff3c00"/><polyline points="672.5,536.9 673.2,533.8" stroke="#ff3800"/><polyline points="673.2,533.8 673.6,533.5" stroke="#ff3500"/><polyline points="673.6,533.5 673.5,530.8" stroke="#ff3100"/><polyline points="673.5,530.8 673.9,527.4" stroke="#ff2e00"/><polyline points="673.9,527.4 673.6,524.2" stroke="#ff2b00"/><polyline points="673.6,524.2 673.6,523.6" stroke="#ff2700"/><polyline points="673.6,523.6 675.2,521.8" stroke="#ff2400"/><polyline points="675.2,521.8 674.3,519.5" stroke="#ff2000"/><polyline points="674.3,519.5 674.2,515.6" stroke="#ff1d00"/><polyline points="674.2,515.6 675.2,514.2" stroke="#ff1a00"/><polyline points="675.2,514.2 675.7,511.2" stroke="#ff1700"/><polyline points="675.7,511.2 674.9,510.9" stroke="#ff1500"/><polyline points="674.9,510.9 675.6,508.5" stroke="#ff1200"/><polyline points="675.6,508.5 675.6,504.5" stroke="#ff1000"/><polyline points="675.6,504.5 676.4,502.5" stroke="#ff0e00"/><polyline points="676.4,502.5 675.4,499.9" stroke="#ff0b00"/><polyline points="675.4,499.9 676.8,498.9" stroke="#ff0900"/><polyline points="676.8,498.9 676.7,495.5" stroke="#ff0700"/><polyline points="676.7,495.5 676.4,493.2" stroke="#ff0400"/><polyline points="676.4,493.2 676.9,491.7" stroke="#ff0200"/><polyline points="676.9,491.7 677,490.5" stroke="#ff0000"/><polyline points="677,490.5 676.4,488.8" stroke="#fc0000"/><polyline points="676.4,488.8 676.9,485.4" stroke="#fa0000"/><polyline points="676.9,485.4 676.8,482.3" stroke="#f70000"/><polyline points="676.8,482.3 676.8,480.8" stroke="#f50000"/><polyline points="676.8,480.8 678.2,477.9" stroke="#f20000"/><polyline points="678.2,477.9 677.9,476.4" stroke="#f00000"/><polyline points="677.9,476.4 678.5,474.2" stroke="#ed0000"/><polyline points="678.5,474.2 677.9,469.8" stroke="#eb0000"/><polyline points="677.9,469.8 679.4,468.5" stroke="#e80000"/><polyline points="679.4,468.5 679.7,464.8" stroke="#e50000"/><polyline points="679.7,464.8 678.8,464.5" stroke="#df0000"/><polyline points="678.8,464.5 678.5,462.4" stroke="#d90000"/><polyline points="678.5,462.4 678.5,459.7" stroke="#d30000"/><polyline points="678.5,459.7 678.6,457" stroke="#cd0000"/><polyline points="678.6,457 679.2,454.8" stroke="#c70000"/><polyline points="679.2,454.8 678.7,451.2" stroke="#c10000"/><polyline points="678.7,451.2 679.3,449.8" stroke="#bb0000"/><polyline points="679.3,449.8 680.4,447.2" stroke="#b50000"/><polyline points="680.4,447.2 679.3,445.3" stroke="#ae0000"/><polyline points="679.3,445.3 681.6,444.6" stroke="#a80000"/><polyline points="681.6,444.6 682.3,448.2" stroke="#9e0000"/><polyline points="682.3,448.2 682.4,449.7" stroke="#a50000"/><polyline points="682.4,449.7 682.5,452" stroke="#ac0000"/></g>
<g fill="none" stroke-width="3.2" stroke-linejoin="round" stroke-linecap="round"><polyline points="685.6,454.6 685.5,456.2" stroke="#a80000"/><polyline points="685.5,456.2 686.6,460.7" stroke="#b00000"/><polyline points="686.6,460.7 686.7,462.2" stroke="#b80000"/><polyline points="686.7,462.2 686.4,464.9" stroke="#bf0000"/><polyline points="686.4,464.9 687.7,465.9" stroke="#c70000"/><polyline points="687.7,465.9 689.4,468.1" stroke="#cc0000"/></g>
<g fill="none" stroke-width="3.2" stroke-linejoin="round" stroke-linecap="round"><polyline points="690.4,608.5 691.9,612.8" stroke="#ffc700"/><polyline points="691.9,612.8 693.8,615.3" stroke="#ffbd00"/><polyline points="693.8,615.3 693.9,617.6" stroke="#ffb900"/><polyline points="693.9,617.6 694.6,617.7" stroke="#ffb600"/><polyline points="694.6,617.7 697.7,620.7 700.9,620.5 702.9,622.5 704.7,618.9 707.1,619.7 709.6,617.5 711.3,616.7 711.1,613 711.8,612 713,609.5 713,608.4 714,603.6 714.3,600.7 714.8,598.4" stroke="#ffb300"/><polyline points="714.8,598.4 715,596.6" stroke="#ffb100"/><polyline points="715,596.6 714.9,593.8" stroke="#ffb000"/><polyline points="714.9,593.8 713.7,593.9" stroke="#ffaf00"/><polyline points="713.7,593.9 714.7,589.7" stroke="#ffae00"/><polyline points="714.7,589.7 715.6,587.3" stroke="#ffad00"/><polyline points="715.6,587.3 714.6,586.9" stroke="#ffac00"/><polyline points="714.6,586.9 716,582.2" stroke="#ffab00"/><polyline points="716,582.2 716.2,582.4" stroke="#ffa900"/><polyline points="716.2,582.4 716.5,578.4" stroke="#ffa800"/><polyline points="716.5,578.4 716.8,575.1" stroke="#ffa600"/><polyline points="716.8,575.1 717.2,571.9" stroke="#ffa300"/><polyline points="717.2,571.9 718.2,571.8" stroke="#ffa100"/><polyline points="718.2,571.8 720.7,569.4 722.1,567.9 725.5,567.2 725.9,567.2" stroke="#ff9e00"/><polyline points="725.9,567.2 727.2,569.6" stroke="#ffa100"/><polyline points="727.2,569.6 729.7,572.9" stroke="#ffa300"/><polyline points="729.7,572.9 730.1,573.5" stroke="#ffa600"/><polyline points="730.1,573.5 732.4,574.8" stroke="#ffa800"/><polyline points="732.4,574.8 732.1,578" stroke="#ffab00"/><polyline points="732.1,578 733.9,581.9" stroke="#ffad00"/><polyline points="733.9,581.9 735.2,582.2" stroke="#ffb000"/><polyline points="735.2,582.2 735.7,581.4" stroke="#ffb300"/><polyline points="735.7,581.4 736,578.9" stroke="#ffb000"/><polyline points="736,578.9 738.1,575.5" stroke="#ffad00"/><polyline points="738.1,575.5 739.3,574.5" stroke="#ffab00"/><polyline points="739.3,574.5 739,570.6" stroke="#ffa800"/><polyline points="739,570.6 739.1,568.2" stroke="#ffa700"/><polyline points="739.1,568.2 740.5,565.2" stroke="#ffa600"/><polyline points="740.5,565.2 740.7,564.7" stroke="#ffa400"/><polyline points="740.7,564.7 740.9,562.7" stroke="#ffa300"/><polyline points="740.9,562.7 741.6,558.6" stroke="#ffa200"/><polyline points="741.6,558.6 741.8,556.8" stroke="#ffa100"/><polyline points="741.8,556.8 741.8,554.3" stroke="#ff9f00"/><polyline points="741.8,554.3 741.9,553.6" stroke="#ff9e00"/><polyline points="741.9,553.6 742.2,550.1" stroke="#ff9d00"/><polyline points="742.2,550.1 743.2,546.3" stroke="#ff9c00"/><polyline points="743.2,546.3 743.9,543.6" stroke="#ff9a00"/><polyline points="743.9,543.6 744.2,543.7" stroke="#ff9900"/><polyline points="744.2,543.7 744.2,538.8" stroke="#ff9800"/><polyline points="744.2,538.8 744.6,536.8" stroke="#ff9600"/><polyline points="744.6,536.8 744.6,535.3" stroke="#ff9500"/><polyline points="744.6,535.3 744.9,533.5" stroke="#ff9400"/><polyline points="744.9,533.5 745.8,530.9" stroke="#ff9100"/><polyline points="745.8,530.9 746.4,527.5" stroke="#ff8d00"/><polyline points="746.4,527.5 746.5,529.4" stroke="#ff8a00"/><polyline points="746.5,529.4 747.4,533.6" stroke="#ff8b00"/><polyline points="747.4,533.6 748.6,533.4" stroke="#ff8d00"/><polyline points="748.6,533.4 748.3,536.2" stroke="#ff8f00"/><polyline points="748.3,536.2 748.7,539" stroke="#ff9100"/><polyline points="748.7,539 749.4,540.1" stroke="#ff9200"/><polyline points="749.4,540.1 753.3,538 754.1,535.6" stroke="#ff9400"/><polyline points="754.1,535.6 753.9,534.9" stroke="#ff9200"/><polyline points="753.9,534.9 754.8,531.4" stroke="#ff9100"/><polyline points="754.8,531.4 755.3,530.1" stroke="#ff9000"/><polyline points="755.3,530.1 755,527.3" stroke="#ff8e00"/><polyline points="755,527.3 756,525.5" stroke="#ff8d00"/><polyline points="756,525.5 756.4,524.9" stroke="#ff8b00"/><polyline points="756.4,524.9 757.1,524.8" stroke="#ff8a00"/><polyline points="757.1,524.8 757.6,527.4" stroke="#ff8b00"/><polyline points="757.6,527.4 758,531.5" stroke="#ff8d00"/><polyline points="758,531.5 757.6,533.5" stroke="#ff8e00"/><polyline points="757.6,533.5 759.1,534.2" stroke="#ff9000"/><polyline points="759.1,534.2 759.2,536.1" stroke="#ff9100"/><polyline points="759.2,536.1 758.9,540.6" stroke="#ff9200"/><polyline points="758.9,540.6 760.2,541.7" stroke="#ff9400"/><polyline points="760.2,541.7 760.8,543.2" stroke="#ff9500"/><polyline points="760.8,543.2 759.8,544.9" stroke="#ff9700"/><polyline points="759.8,544.9 760.3,548.7" stroke="#ff9800"/><polyline points="760.3,548.7 760.2,550" stroke="#ff9a00"/><polyline points="760.2,550 761,551.9" stroke="#ff9b00"/><polyline points="761,551.9 761,553.3" stroke="#ff9d00"/><polyline points="761,553.3 761.5,551" stroke="#ff9e00"/><polyline points="761.5,551 762.1,549.5" stroke="#ff9d00"/><polyline points="762.1,549.5 761.8,547.4" stroke="#ff9b00"/><polyline points="761.8,547.4 762.3,545.9" stroke="#ff9a00"/><polyline points="762.3,545.9 762.6,542.1" stroke="#ff9800"/><polyline points="762.6,542.1 763.1,539.2" stroke="#ff9700"/><polyline points="763.1,539.2 764,536.2" stroke="#ff9500"/><polyline points="764,536.2 765.2,540.3" stroke="#ff9400"/><polyline points="765.2,540.3 765.7,540" stroke="#ff9600"/><polyline points="765.7,540 767.7,542.3" stroke="#ff9900"/><polyline points="767.7,542.3 768.5,545.9" stroke="#ff9c00"/><polyline points="768.5,545.9 770.4,546.1" stroke="#ff9e00"/><polyline points="770.4,546.1 769.6,549.3" stroke="#ffa000"/><polyline points="769.6,549.3 771,552.6" stroke="#ffa100"/><polyline points="771,552.6 771.5,552.5" stroke="#ffa200"/><polyline points="771.5,552.5 772.7,557.4" stroke="#ffa400"/><polyline points="772.7,557.4 773.2,557.3" stroke="#ffa500"/><polyline points="773.2,557.3 772.2,560" stroke="#ffa700"/><polyline points="772.2,560 773.7,556.1" stroke="#ffa800"/><polyline points="773.7,556.1 775.2,554.1" stroke="#ffa300"/><polyline points="775.2,554.1 775.9,551.2" stroke="#ff9e00"/><polyline points="775.9,551.2 775.4,551.2" stroke="#ff9a00"/><polyline points="775.4,551.2 777.2,547.1" stroke="#ff9600"/><polyline points="777.2,547.1 776.9,545.5" stroke="#ff9300"/><polyline points="776.9,545.5 777.4,542" stroke="#ff8f00"/><polyline points="777.4,542 777.7,541.5" stroke="#ff8b00"/><polyline points="777.7,541.5 778.2,539" stroke="#ff8700"/><polyline points="778.2,539 779.5,534.4" stroke="#ff8300"/><polyline points="779.5,534.4 779,531.8" stroke="#ff8000"/><polyline points="779,531.8 780.1,531.8" stroke="#ff7800"/><polyline points="780.1,531.8 780.8,529.6" stroke="#ff7000"/><polyline points="780.8,529.6 782.2,525.2" stroke="#ff6900"/><polyline points="782.2,525.2 783.8,522.3" stroke="#ff6100"/><polyline points="783.8,522.3 784.1,519.8" stroke="#ff5a00"/><polyline points="784.1,519.8 785.9,520.2" stroke="#ff5300"/><polyline points="785.9,520.2 786.7,517.3" stroke="#ff4c00"/><polyline points="786.7,517.3 786.8,515.6" stroke="#ff4600"/><polyline points="786.8,515.6 789.3,512.5" stroke="#ff3f00"/><polyline points="789.3,512.5 789.2,510" stroke="#ff3800"/><polyline points="789.2,510 790,507.7" stroke="#ff3400"/><polyline points="790,507.7 790,507.1" stroke="#ff3000"/><polyline points="790,507.1 792.2,504.6" stroke="#ff2c00"/><polyline points="792.2,504.6 793.1,501.9" stroke="#ff2800"/><polyline points="793.1,501.9 793.5,497.6" stroke="#ff2400"/><polyline points="793.5,497.6 793.8,495.3" stroke="#ff2000"/><polyline points="793.8,495.3 794.7,495.4" stroke="#ff1c00"/><polyline points="794.7,495.4 794.9,493.7" stroke="#ff1700"/><polyline points="794.9,493.7 795.4,490.6" stroke="#ff1300"/><polyline points="795.4,490.6 798.8,492.9 800.6,495.2 800.5,494.9" stroke="#ff0f00"/><polyline points="800.5,494.9 799.9,499.8" stroke="#ff1300"/><polyline points="799.9,499.8 802.1,502" stroke="#ff1700"/><polyline points="802.1,502 801.4,502.5" stroke="#ff1c00"/><polyline points="801.4,502.5 801.4,506" stroke="#ff2000"/><polyline points="801.4,506 805.8,506.5" stroke="#ff2400"/></g>
<g fill="none" stroke-width="2.7" stroke-linejoin="round" stroke-linecap="round"><polyline points="720,587.4 721.6,584.9" stroke="#ffdb00"/><polyline points="721.6,584.9 721.1,581.3" stroke="#ffd700"/><polyline points="721.1,581.3 722.8,578.7" stroke="#ffd300"/><polyline points="722.8,578.7 723.8,577.2" stroke="#ffcf00"/><polyline points="723.8,577.2 724.2,574.7" stroke="#ffcb00"/><polyline points="724.2,574.7 724.3,571.8" stroke="#ffc700"/><polyline points="724.3,571.8 725.7,569.9" stroke="#ffc200"/><polyline points="725.7,569.9 727.8,569.9" stroke="#ffbd00"/><polyline points="727.8,569.9 728.8,565.9" stroke="#ffb800"/><polyline points="728.8,565.9 728.9,568.8" stroke="#ffb300"/><polyline points="728.9,568.8 730.8,571" stroke="#ffb600"/><polyline points="730.8,571 732.7,575.2" stroke="#ffb900"/><polyline points="732.7,575.2 734.2,575.6" stroke="#ffbd00"/><polyline points="734.2,575.6 737.2,577.9" stroke="#ffc200"/><polyline points="737.2,577.9 738.1,574.6" stroke="#ffc700"/><polyline points="738.1,574.6 738.6,571.7" stroke="#ffc300"/><polyline points="738.6,571.7 739.2,569.8" stroke="#ffc000"/><polyline points="739.2,569.8 739.3,567.3" stroke="#ffbd00"/><polyline points="739.3,567.3 740.4,565.4" stroke="#ffb900"/><polyline points="740.4,565.4 741,564.2" stroke="#ffb600"/></g>
<g fill="none" stroke-width="2.3" stroke-linejoin="round" stroke-linecap="round"><polyline points="690.4,589 691.9,588.2 693.5,586.8 694.7,583.2 697.5,581.6" stroke="#c7ff38"/><polyline points="697.5,581.6 698.8,579.7" stroke="#caff35"/><polyline points="698.8,579.7 700.2,579.5" stroke="#ceff31"/><polyline points="700.2,579.5 701.8,577.6 704.1,574.3 704.9,572.3 708.3,576 710,577.2 710.2,578 712.8,576.5" stroke="#d1ff2e"/><polyline points="712.8,576.5 713.8,572.6" stroke="#ccff33"/><polyline points="713.8,572.6 715,571.4" stroke="#c7ff38"/><polyline points="715,571.4 716.3,568" stroke="#c2ff3d"/><polyline points="716.3,568 716.7,567.5" stroke="#bdff42"/><polyline points="716.7,567.5 719.2,563.8" stroke="#bbff44"/><polyline points="719.2,563.8 721.4,564.6" stroke="#b9ff46"/><polyline points="721.4,564.6 722.7,562.3" stroke="#b7ff48"/><polyline points="722.7,562.3 724.9,559.5" stroke="#b5ff4a"/><polyline points="724.9,559.5 726.6,557.1" stroke="#b3ff4c"/><polyline points="726.6,557.1 728.5,557.6" stroke="#afff50"/><polyline points="728.5,557.6 729.4,554.1" stroke="#acff53"/><polyline points="729.4,554.1 732.1,553.1" stroke="#a8ff57"/><polyline points="732.1,553.1 732.7,551" stroke="#a5ff5a"/><polyline points="732.7,551 734.9,550.5" stroke="#a2ff5e"/><polyline points="734.9,550.5 735.4,548.4" stroke="#9eff61"/><polyline points="735.4,548.4 738,547.9" stroke="#9cff63"/><polyline points="738,547.9 740,544.1" stroke="#9bff64"/><polyline points="740,544.1 740.3,544" stroke="#99ff66"/><polyline points="740.3,544 742,542.6" stroke="#97ff68"/><polyline points="742,542.6 744.2,539.2" stroke="#96ff69"/></g>
<g fill="none" stroke-width="2.5" stroke-linejoin="round" stroke-linecap="round"><polyline points="720,619 721.5,621.2 723.6,621 725.7,622.8 728.1,624.3 731,620.7 732.4,620.6 734.2,617.8 736.9,616.1 739.1,613.3" stroke="#faff05"/><polyline points="739.1,613.3 740.1,613.9" stroke="#fcff03"/><polyline points="740.1,613.9 740.8,611.2" stroke="#ffff00"/><polyline points="740.8,611.2 742.9,607.1" stroke="#fffc00"/><polyline points="742.9,607.1 743.8,611.6" stroke="#fffa00"/><polyline points="743.8,611.6 743.7,611.3" stroke="#fffc00"/><polyline points="743.7,611.3 745.9,614.6" stroke="#fffd00"/><polyline points="745.9,614.6 746.4,616" stroke="#ffff00"/><polyline points="746.4,616 745.9,618.4" stroke="#fdff02"/><polyline points="745.9,618.4 747.9,620.5" stroke="#fcff03"/><polyline points="747.9,620.5 747.7,623.8" stroke="#faff05"/><polyline points="747.7,623.8 747.8,625.8" stroke="#f8ff07"/><polyline points="747.8,625.8 748.4,628.2" stroke="#f6ff09"/><polyline points="748.4,628.2 749,631.3" stroke="#f4ff0b"/><polyline points="749,631.3 748.2,632.2" stroke="#f2ff0d"/><polyline points="748.2,632.2 748.2,634.8" stroke="#f0ff0f"/><polyline points="748.2,634.8 749.3,635.8" stroke="#eeff11"/><polyline points="749.3,635.8 749.1,640.3" stroke="#ecff13"/><polyline points="749.1,640.3 749.4,640.6" stroke="#eaff15"/><polyline points="749.4,640.6 749,643.6" stroke="#e8ff17"/><polyline points="749,643.6 750.2,645.5" stroke="#e5ff1a"/><polyline points="750.2,645.5 752.4,649.1" stroke="#e3ff1c"/><polyline points="752.4,649.1 751.8,649.3" stroke="#e0ff1f"/><polyline points="751.8,649.3 753.8,652.1" stroke="#deff21"/><polyline points="753.8,652.1 754.6,655" stroke="#dbff24"/><polyline points="754.6,655 756,656.8" stroke="#d9ff26"/><polyline points="756,656.8 756.8,659.1" stroke="#d6ff29"/><polyline points="756.8,659.1 758,660" stroke="#d4ff2b"/><polyline points="758,660 760.1,661.4" stroke="#d1ff2e"/><polyline points="760.1,661.4 762.1,665.9" stroke="#cfff30"/><polyline points="762.1,665.9 763.7,666.7" stroke="#cdff32"/><polyline points="763.7,666.7 765.4,668" stroke="#cbff34"/><polyline points="765.4,668 765.9,669.1" stroke="#c9ff36"/><polyline points="765.9,669.1 767.5,672.5 768.5,673.8 769.8,677.1 771.8,678.2 771.7,679.3 773.6,677.2 774.3,674.7 775.6,672.6 777.4,670.2 779,669 779.2,667.2 780.6,664.8 782.6,661.8 783,661.6 783.9,659.2 785.1,656.8 788.3,658.1 788.8,660.7 792.2,661 793.8,657.9 794.7,657.5 796.6,654.6 797.9,652.6" stroke="#c7ff38"/></g>
<g fill="none" stroke-width="2.5" stroke-linejoin="round" stroke-linecap="round"><polyline points="753.7,660 753,663.5" stroke="#d1ff2e"/><polyline points="753,663.5 753.7,665.6" stroke="#d0ff2f"/><polyline points="753.7,665.6 754.4,666" stroke="#ceff31"/><polyline points="754.4,666 753.9,670" stroke="#cdff32"/><polyline points="753.9,670 753.1,670.3" stroke="#cbff34"/><polyline points="753.1,670.3 753.9,673.1" stroke="#caff35"/><polyline points="753.9,673.1 752.9,676.7" stroke="#c8ff37"/><polyline points="752.9,676.7 754.3,678.9" stroke="#c7ff38"/><polyline points="754.3,678.9 754.3,681.5" stroke="#c5ff3a"/><polyline points="754.3,681.5 755.8,683.7" stroke="#c2ff3d"/><polyline points="755.8,683.7 755,683.7" stroke="#c0ff3f"/><polyline points="755,683.7 756.9,687.4" stroke="#beff41"/><polyline points="756.9,687.4 755.8,690.9" stroke="#bcff43"/><polyline points="755.8,690.9 757.6,692.6" stroke="#b9ff46"/><polyline points="757.6,692.6 757.9,694" stroke="#b7ff48"/><polyline points="757.9,694 757.7,697.4" stroke="#b5ff4a"/><polyline points="757.7,697.4 758.7,700.5" stroke="#b3ff4c"/><polyline points="758.7,700.5 757.6,702.7" stroke="#b1ff4e"/><polyline points="757.6,702.7 758.9,704.1" stroke="#b0ff4f"/><polyline points="758.9,704.1 759.1,705.7" stroke="#aeff51"/><polyline points="759.1,705.7 760,708.1" stroke="#adff52"/><polyline points="760,708.1 760.2,710.5" stroke="#abff54"/><polyline points="760.2,710.5 759.8,712" stroke="#aaff55"/><polyline points="759.8,712 760.5,714.2" stroke="#a8ff57"/><polyline points="760.5,714.2 760,717.5" stroke="#a7ff58"/><polyline points="760,717.5 760.6,719.6" stroke="#a5ff5a"/><polyline points="760.6,719.6 760.8,722.8" stroke="#a4ff5b"/><polyline points="760.8,722.8 761.4,723.9" stroke="#a2ff5d"/><polyline points="761.4,723.9 761.5,727.5" stroke="#a1ff5e"/><polyline points="761.5,727.5 762.7,727.4" stroke="#a0ff5f"/><polyline points="762.7,727.4 762.3,731" stroke="#9eff61"/><polyline points="762.3,731 760.4,733" stroke="#9cff63"/><polyline points="760.4,733 760.9,737.1" stroke="#9aff65"/><polyline points="760.9,737.1 759.6,739.6" stroke="#98ff67"/><polyline points="759.6,739.6 759.6,742" stroke="#96ff69"/><polyline points="759.6,742 758.4,743.5" stroke="#94ff6b"/><polyline points="758.4,743.5 755.9,744.4" stroke="#91ff6e"/><polyline points="755.9,744.4 754.1,744.7" stroke="#8eff71"/><polyline points="754.1,744.7 751.8,744.5" stroke="#8bff74"/><polyline points="751.8,744.5 749,746.7" stroke="#88ff77"/><polyline points="749,746.7 746.9,748.6" stroke="#85ff7a"/><polyline points="746.9,748.6 745.2,749.5" stroke="#82ff7d"/><polyline points="745.2,749.5 743.4,749.8 741.3,753.4 738.2,753.6 736.8,755.8" stroke="#80ff80"/></g>
<g fill="none" stroke-width="2.3" stroke-linejoin="round" stroke-linecap="round"><polyline points="755.8,671.6 757.6,672.6 760.3,673.3 761.6,676.6 764.6,675.5 766.5,677.9 767.7,679.3 770.7,681 772.5,681.6 775.5,681.2 775.1,680.6 776.9,678.8 778.5,676.6 778.4,673.3 780,676.4 779.5,677.1 780.7,678.5 781.5,683.2 781.4,685.2" stroke="#c7ff38"/><polyline points="781.4,685.2 782.7,686" stroke="#c5ff3a"/><polyline points="782.7,686 782.5,687.7" stroke="#c3ff3c"/><polyline points="782.5,687.7 783.9,690" stroke="#c2ff3d"/><polyline points="783.9,690 784.2,692.6" stroke="#c0ff3f"/><polyline points="784.2,692.6 785.3,694.7" stroke="#beff41"/></g>
<g fill="none" stroke-width="2.5" stroke-linejoin="round" stroke-linecap="round"><polyline points="640,699 642.9,697.7" stroke="#b3ff4c"/><polyline points="642.9,697.7 645.8,697.8 647.2,698.5 650.7,698.7 652.1,702.3" stroke="#bdff42"/><polyline points="652.1,702.3 654.2,703.8" stroke="#c0ff3f"/><polyline points="654.2,703.8 656.1,705.2" stroke="#c3ff3c"/><polyline points="656.1,705.2 658.3,706.4 661.5,706.3 662.2,709.5 665.1,708.5 667,708.3 669.8,709.9 672.2,709.8 674,712.6 675,713.4" stroke="#c7ff38"/><polyline points="675,713.4 676.5,716.9" stroke="#c4ff3b"/><polyline points="676.5,716.9 678.1,716.7" stroke="#c2ff3d"/><polyline points="678.1,716.7 678.3,718.8" stroke="#bfff40"/><polyline points="678.3,718.8 680.2,721.1" stroke="#bdff42"/><polyline points="680.2,721.1 683,720.9" stroke="#baff45"/><polyline points="683,720.9 683.8,722.8" stroke="#b8ff47"/><polyline points="683.8,722.8 686.3,724.2" stroke="#b5ff4a"/></g>
<g fill="none" stroke-width="2.3" stroke-linejoin="round" stroke-linecap="round"><polyline points="690.5,730.5 690.3,726.9 690.7,724.2 690.1,724.6 690.7,719.8 691.1,718.8 689.7,717.2 691.1,714.9 693,713.2 694,713.2 696.6,710.6 698.4,714.3 700.7,715.7 701.6,714.3 704.6,716 706.1,717.7 707,720 708,724 708.8,725.7 710.4,728.4 708.8,730.5 707.8,734 708.5,737.4 707.7,739.9 704.6,739.2 702.3,736.2 698.5,735.6 697.1,735.4 694,732.3 692.5,731.9 690.5,730.5" stroke="#80ff80"/></g>
<g fill="none" stroke-width="2.3" stroke-linejoin="round" stroke-linecap="round"><polyline points="722.1,734.7 723.5,735.9 725.7,737.5 727.3,740.7 729.2,744.3 730.9,744.9 731.9,746.2 735.4,746 736.8,747.4" stroke="#80ff80"/></g>
<g fill="none" stroke-width="2.3" stroke-linejoin="round" stroke-linecap="round"><polyline points="766.3,741 767.2,744.8 766.9,745.1 765.8,749 766.5,752 766.7,752.5 766.3,755 766.5,757 767.1,761.7 767.9,763.6 767,764.9 768.6,769 768.7,771.1 768.4,772.6" stroke="#4dffb3"/></g>
<g fill="none" stroke-width="2.3" stroke-linejoin="round" stroke-linecap="round"><polyline points="640,766.3 642.2,766.1 645.3,769.1 646.5,769.2 649.1,768.5 651.1,769.9 653.9,768.2 656.8,768.4" stroke="#61ff9e"/></g>
<g fill="none" stroke-width="2.7" stroke-linejoin="round" stroke-linecap="round"><polyline points="808.4,591.6 810,594.6 813.5,595.4 814.9,597.1 816.6,599.1 819.2,601.4 821.6,601.5 823.8,604.5 823.8,601.4" stroke="#faff05"/><polyline points="823.8,601.4 825,599.4" stroke="#fcff03"/><polyline points="825,599.4 826.1,599" stroke="#fdff02"/><polyline points="826.1,599 827.9,596.3" stroke="#ffff00"/><polyline points="827.9,596.3 828.3,593.1" stroke="#fffd00"/><polyline points="828.3,593.1 829.3,592.3" stroke="#fffc00"/><polyline points="829.3,592.3 831.8,588.9 835.1,589.2 836.9,587.4" stroke="#fffa00"/><polyline points="836.9,587.4 840.5,586.1" stroke="#fff500"/><polyline points="840.5,586.1 841.7,584.2" stroke="#fff000"/><polyline points="841.7,584.2 843.6,583" stroke="#ffe200"/><polyline points="843.6,583 846.6,582.9" stroke="#ffd400"/><polyline points="846.6,582.9 847.2,578.8" stroke="#ffc700"/><polyline points="847.2,578.8 848.6,577.2" stroke="#ffbd00"/><polyline points="848.6,577.2 848.7,579.7" stroke="#ffb300"/><polyline points="848.7,579.7 849.7,581.6" stroke="#ffb600"/><polyline points="849.7,581.6 848.6,584.3" stroke="#ffb900"/><polyline points="848.6,584.3 848.5,585.1" stroke="#ffbd00"/><polyline points="848.5,585.1 848.8,589.3" stroke="#ffc000"/><polyline points="848.8,589.3 850.3,590.4" stroke="#ffc300"/><polyline points="850.3,590.4 850.5,592.4" stroke="#ffc700"/><polyline points="850.5,592.4 850.2,594.9" stroke="#ffca00"/><polyline points="850.2,594.9 850.3,597.6" stroke="#ffce00"/><polyline points="850.3,597.6 854.1,598.9" stroke="#ffd100"/><polyline points="854.1,598.9 855.4,598.7" stroke="#ffd800"/><polyline points="855.4,598.7 858.9,597.9" stroke="#ffdf00"/></g>
<g fill="none" stroke-width="2.7" stroke-linejoin="round" stroke-linecap="round"><polyline points="843,596.9 842.9,594.2" stroke="#ffc700"/><polyline points="842.9,594.2 843.4,591.1" stroke="#ffc300"/><polyline points="843.4,591.1 843.7,591.4" stroke="#ffc000"/><polyline points="843.7,591.4 844.8,587.5" stroke="#ffbd00"/><polyline points="844.8,587.5 846.2,583.8" stroke="#ffb900"/><polyline points="846.2,583.8 846.6,583.8" stroke="#ffb600"/><polyline points="846.6,583.8 848,581.2" stroke="#ffb300"/><polyline points="848,581.2 848.3,577.2" stroke="#ffaf00"/><polyline points="848.3,577.2 850,576" stroke="#ffac00"/><polyline points="850,576 849.3,577.9" stroke="#ffa800"/><polyline points="849.3,577.9 850,580.4" stroke="#ffac00"/><polyline points="850,580.4 851.5,583.5" stroke="#ffaf00"/><polyline points="851.5,583.5 850.5,585.7" stroke="#ffb300"/><polyline points="850.5,585.7 852.2,588.4" stroke="#ffb600"/><polyline points="852.2,588.4 853.1,587.8" stroke="#ffb900"/><polyline points="853.1,587.8 853.9,591.1" stroke="#ffbd00"/><polyline points="853.9,591.1 855.8,594.4" stroke="#ffc300"/><polyline points="855.8,594.4 857.9,594.1" stroke="#ffc900"/><polyline points="857.9,594.1 859.2,595.7" stroke="#ffcf00"/><polyline points="859.2,595.7 861.5,598.5" stroke="#ffd500"/></g>
<g fill="none" stroke-width="2.5" stroke-linejoin="round" stroke-linecap="round"><polyline points="807.7,520 811.5,520.4 814,517.3 814.5,518.9" stroke="#e5ff1a"/><polyline points="814.5,518.9 816.8,520.8" stroke="#e9ff16"/><polyline points="816.8,520.8 818.7,524.2" stroke="#ecff13"/><polyline points="818.7,524.2 820,524.8 822.4,527.8 825.1,530.7 827.1,532.3 829,535.3" stroke="#f0ff0f"/><polyline points="829,535.3 829.8,536" stroke="#f3ff0c"/><polyline points="829.8,536 831.6,538.7" stroke="#f7ff08"/><polyline points="831.6,538.7 832.1,542.2 831.5,543.8 833.3,546.3 833.8,547.5 833.8,550.8 834.7,554.1 835.9,556.8 835.4,558.2 836.2,561.1 836.1,560.7 837.6,563.8 838,565.6 838,567.2 839.2,571.8 838.3,574 840,574.9 840.6,577.3 840.1,578.6 841.8,581 842.1,582.6 843.4,585.8 844.7,588.1 846.2,589.2" stroke="#faff05"/></g>
<g fill="none" stroke-width="2.3" stroke-linejoin="round" stroke-linecap="round"><polyline points="835.8,560 837,563 837,564.6 838.1,566.6 838.8,567.9 838.7,570.2 839.6,571.8 840.5,576 841.4,578.9 843.4,579 843.5,582 844.2,585.3" stroke="#c7ff38"/></g>
<g fill="none" stroke-width="2.3" stroke-linejoin="round" stroke-linecap="round"><polyline points="861,612.6 863.2,611.5" stroke="#c7ff38"/><polyline points="863.2,611.5 865.2,610.4" stroke="#c9ff36"/><polyline points="865.2,610.4 866.3,607.4" stroke="#caff35"/><polyline points="866.3,607.4 867.3,606.9" stroke="#ccff33"/><polyline points="867.3,606.9 869.5,606" stroke="#ceff31"/><polyline points="869.5,606 871.7,604.3" stroke="#cfff30"/><polyline points="871.7,604.3 874.7,605.3 877,606.5 879.9,606.3 881.6,607.5 883,603 885.3,601.4 887.3,598.8 887.8,596.9 889.3,598.6 890.7,601.2 892.3,603.3 893.9,606.9 895.3,605.3" stroke="#d1ff2e"/><polyline points="895.3,605.3 896.9,601.7" stroke="#d2ff2d"/><polyline points="896.9,601.7 896.2,599.7" stroke="#d3ff2c"/><polyline points="896.2,599.7 896.9,596.4" stroke="#d4ff2b"/><polyline points="896.9,596.4 898.4,593.3" stroke="#d6ff29"/><polyline points="898.4,593.3 899,592.4" stroke="#d7ff28"/><polyline points="899,592.4 900,590.1" stroke="#d8ff27"/><polyline points="900,590.1 900.3,587.2" stroke="#d9ff26"/><polyline points="900.3,587.2 900.5,585.3" stroke="#daff25"/><polyline points="900.5,585.3 902.4,583.2" stroke="#dbff24"/><polyline points="902.4,583.2 905.4,582.2" stroke="#ddff22"/><polyline points="905.4,582.2 906.7,581.6" stroke="#dfff20"/><polyline points="906.7,581.6 907.7,578.8" stroke="#e0ff1f"/><polyline points="907.7,578.8 909.9,579.3" stroke="#e2ff1d"/><polyline points="909.9,579.3 911.3,577.2" stroke="#e4ff1b"/><polyline points="911.3,577.2 911.6,575.7 912.6,571.5 914.3,568.7 913.3,568.3 914.2,563.9 914.4,563.1 915.8,560" stroke="#e5ff1a"/></g>
<g fill="none" stroke-width="2.3" stroke-linejoin="round" stroke-linecap="round"><polyline points="861,627.4 864.5,626.6 866.4,629.1 869.3,629.4 872,630.7 873,627.4 876.5,625.7 877.9,624.3 879.1,623.8 881.9,621.9 883.5,621.3 886.7,619.8 889,621.5 890.8,620.3 892.9,617 894.8,617.2 895.4,619.8 896.2,621.5 896.1,624.4 896.6,624.5 897.5,626.1 898.9,628.4 899,631.6" stroke="#d1ff2e"/></g>
<g fill="none" stroke-width="2.3" stroke-linejoin="round" stroke-linecap="round"><polyline points="808.4,635.8 811.2,636.4 811.9,639.4 814.6,640.1 816.3,641.2 819.1,640.7 821.5,644.3 823,644.5 825.3,643.7 826.8,646.1 830.2,647 831.5,648.1 833.4,650.9 835.5,652.8 836.1,652.2 838.9,655.5 839.9,656.3 843.2,657.3 844.5,656.4 847.2,656.3 850.5,654.7" stroke="#bdff42"/></g>
<g fill="none" stroke-width="2.3" stroke-linejoin="round" stroke-linecap="round"><polyline points="858.9,560 858.8,561.2 858.8,565.1 859.3,565.9 860.1,570.2 860.6,570.9 859.4,572.5 861,577 861.3,579.1 860.6,580.7 860.4,583.1 860.8,584.3 863.2,582.9 864.7,582.1 865,580.9 867.3,578.2 867.9,575.3 869.8,572.9 871.6,573.4 874.5,572.9 874.9,573.5 877.4,575.1 879.7,577.3 882,578.4 884.2,579.2 885.8,581.2 887.5,583.7 889.2,583.7 891.1,585.4 893.1,588.4 894.4,585.4 896.2,582.8 898,582.9 898.6,581.4 900,577.1 902.2,576.7 903.2,574.7" stroke="#a8ff57"/></g>
<g fill="none" stroke-width="2.3" stroke-linejoin="round" stroke-linecap="round"><polyline points="861,673.7 862.3,674.5" stroke="#80ff80"/><polyline points="862.3,674.5 863.5,678.9" stroke="#7eff81"/><polyline points="863.5,678.9 864.9,679.1" stroke="#7dff82"/><polyline points="864.9,679.1 865.6,681.8" stroke="#7cff83"/><polyline points="865.6,681.8 867,683.6" stroke="#7bff84"/><polyline points="867,683.6 867.4,684.1" stroke="#7aff85"/><polyline points="867.4,684.1 869.1,687.2" stroke="#79ff86"/><polyline points="869.1,687.2 870.4,687.2" stroke="#78ff87"/><polyline points="870.4,687.2 871.4,690.4" stroke="#76ff89"/><polyline points="871.4,690.4 873,692.8" stroke="#75ff8a"/><polyline points="873,692.8 876,693.9" stroke="#74ff8b"/><polyline points="876,693.9 877,695.6" stroke="#72ff8d"/><polyline points="877,695.6 880.3,695.1" stroke="#70ff8f"/><polyline points="880.3,695.1 882.7,696.2" stroke="#6fff91"/><polyline points="882.7,696.2 884.4,698.4" stroke="#6dff92"/><polyline points="884.4,698.4 885.4,702.2" stroke="#6bff94"/><polyline points="885.4,702.2 887.3,703" stroke="#69ff96"/><polyline points="887.3,703 887.6,705.7" stroke="#67ff98"/><polyline points="887.6,705.7 888.8,706.1" stroke="#66ff99"/><polyline points="888.8,706.1 889.2,709.2" stroke="#64ff9b"/><polyline points="889.2,709.2 892,710.8" stroke="#62ff9d"/><polyline points="892,710.8 892.7,713.8" stroke="#60ff9f"/><polyline points="892.7,713.8 893.2,714.9" stroke="#5effa1"/><polyline points="893.2,714.9 894.2,716.5" stroke="#5cffa3"/><polyline points="894.2,716.5 896.1,718.2" stroke="#5affa5"/><polyline points="896.1,718.2 897.2,718.9" stroke="#59ffa6"/><polyline points="897.2,718.9 898.5,720.4" stroke="#57ffa8"/><polyline points="898.5,720.4 899.4,722.3" stroke="#55ffaa"/><polyline points="899.4,722.3 901.8,725.7" stroke="#53ffac"/><polyline points="901.8,725.7 903.6,726.2" stroke="#52ffad"/><polyline points="903.6,726.2 904.1,727.5" stroke="#50ffaf"/><polyline points="904.1,727.5 906,730" stroke="#4effb1"/></g>
<g fill="none" stroke-width="2.3" stroke-linejoin="round" stroke-linecap="round"><polyline points="896.8,663.2 896.1,664.7" stroke="#80ff80"/><polyline points="896.1,664.7 895.2,668.8" stroke="#7eff81"/><polyline points="895.2,668.8 895.2,669.7" stroke="#7dff82"/><polyline points="895.2,669.7 894.2,672.8" stroke="#7cff83"/><polyline points="894.2,672.8 893.1,672.2" stroke="#7aff85"/><polyline points="893.1,672.2 892.9,676.9" stroke="#79ff86"/><polyline points="892.9,676.9 891.1,676.6" stroke="#78ff87"/><polyline points="891.1,676.6 891,679.5" stroke="#77ff88"/><polyline points="891,679.5 890.8,683.2" stroke="#75ff8a"/><polyline points="890.8,683.2 889.8,686.2" stroke="#74ff8b"/><polyline points="889.8,686.2 888.4,685.9" stroke="#72ff8d"/><polyline points="888.4,685.9 888.8,690.4" stroke="#71ff8e"/><polyline points="888.8,690.4 888,691.6" stroke="#6fff90"/><polyline points="888,691.6 886.2,693.2" stroke="#6eff91"/><polyline points="886.2,693.2 886.1,696.6" stroke="#6dff92"/><polyline points="886.1,696.6 885.6,700.7" stroke="#6bff94"/><polyline points="885.6,700.7 884.6,700.8" stroke="#68ff97"/><polyline points="884.6,700.8 884,705" stroke="#64ff9b"/></g>
<g fill="none" stroke-width="2.3" stroke-linejoin="round" stroke-linecap="round"><polyline points="861,707.4 862.9,705.8 865.7,704.8 867.7,703.8 871.1,703.1 873.2,700.4 875.8,699" stroke="#6bff94"/></g>
<g fill="none" stroke-width="2.3" stroke-linejoin="round" stroke-linecap="round"><polyline points="901,654.7 902.9,654.1 906,653.1 908.4,651.9 909.3,652.1 911.6,650.1 915,650.3 916.9,647.8 920,648.4" stroke="#a8ff57"/></g>
<g fill="none" stroke-width="2.1" stroke-linejoin="round" stroke-linecap="round"><polyline points="808.4,656.8 808.2,660.5 810.2,660.8 810.8,662.6 811.3,664.2 810.9,668.5 811.5,669.8 813.5,672.9 812.9,673.8 813,677.8 812.6,678.8 811.7,680.4 810.9,683.2 810.5,687.4 810.5,688.4" stroke="#94ff6b"/></g>
<g fill="none" stroke-width="2.1" stroke-linejoin="round" stroke-linecap="round"><polyline points="810.5,688.4 811.1,686.8" stroke="#94ff6b"/><polyline points="811.1,686.8 813.2,685.7" stroke="#95ff6a"/><polyline points="813.2,685.7 813.5,683.4" stroke="#97ff68"/><polyline points="813.5,683.4 815,678.7" stroke="#98ff67"/><polyline points="815,678.7 815.7,679.4" stroke="#9aff65"/><polyline points="815.7,679.4 817.3,674.8" stroke="#9bff64"/><polyline points="817.3,674.8 818.6,672.8" stroke="#9dff62"/><polyline points="818.6,672.8 821.2,672.4 822.4,669.6 824.7,668 827.4,667.4" stroke="#9eff61"/></g>
<g fill="none" stroke-width="2.5" stroke-linejoin="round" stroke-linecap="round"><polyline points="340,718 341.1,715.6" stroke="#2effd1"/><polyline points="341.1,715.6 344.4,715.5" stroke="#30ffcf"/><polyline points="344.4,715.5 345.5,715.6" stroke="#32ffcd"/><polyline points="345.5,715.6 348.6,714.8" stroke="#34ffcb"/><polyline points="348.6,714.8 350.1,712.4" stroke="#36ffc9"/><polyline points="350.1,712.4 352.9,712.5" stroke="#38ffc7"/><polyline points="352.9,712.5 355.5,711.2" stroke="#3bffc4"/><polyline points="355.5,711.2 357,711.2" stroke="#3dffc2"/><polyline points="357,711.2 360.8,709.7" stroke="#40ffbf"/><polyline points="360.8,709.7 362.8,707.1" stroke="#42ffbd"/><polyline points="362.8,707.1 363.1,708.2" stroke="#44ffbb"/><polyline points="363.1,708.2 366.2,707.1" stroke="#46ffb9"/><polyline points="366.2,707.1 367.2,704.3" stroke="#47ffb8"/><polyline points="367.2,704.3 369.4,703.6" stroke="#49ffb6"/><polyline points="369.4,703.6 372.5,702.8" stroke="#4bffb4"/><polyline points="372.5,702.8 373.6,701.7" stroke="#4dffb3"/><polyline points="373.6,701.7 376,700.3" stroke="#4effb1"/><polyline points="376,700.3 376.9,698.8" stroke="#4fffb0"/><polyline points="376.9,698.8 379.6,695.7" stroke="#51ffae"/><polyline points="379.6,695.7 382,695.9" stroke="#52ffad"/><polyline points="382,695.9 382.8,694.8" stroke="#54ffab"/><polyline points="382.8,694.8 386.2,693.6" stroke="#55ffaa"/><polyline points="386.2,693.6 386.8,690.7" stroke="#57ffa8"/><polyline points="386.8,690.7 389.2,690.5" stroke="#59ffa6"/><polyline points="389.2,690.5 391.5,688.4" stroke="#5bffa4"/><polyline points="391.5,688.4 393.8,688.7" stroke="#5dffa2"/><polyline points="393.8,688.7 396.8,687.4" stroke="#5fffa0"/><polyline points="396.8,687.4 399.3,686.3" stroke="#61ff9e"/><polyline points="399.3,686.3 401.1,684.6" stroke="#63ff9c"/><polyline points="401.1,684.6 404,685.9" stroke="#66ff99"/><polyline points="404,685.9 405.6,684.7" stroke="#69ff96"/><polyline points="405.6,684.7 409,684.5" stroke="#6bff94"/><polyline points="409,684.5 411.7,682.7" stroke="#6dff92"/><polyline points="411.7,682.7 413.1,681.6" stroke="#6fff91"/><polyline points="413.1,681.6 416.3,679.9" stroke="#70ff8f"/><polyline points="416.3,679.9 416.9,678.9" stroke="#72ff8d"/><polyline points="416.9,678.9 419.9,677.1" stroke="#74ff8b"/><polyline points="419.9,677.1 423.1,676.1" stroke="#75ff8a"/><polyline points="423.1,676.1 424,675.3" stroke="#77ff88"/><polyline points="424,675.3 426.5,675.1" stroke="#78ff87"/><polyline points="426.5,675.1 428.3,674.2" stroke="#7aff85"/><polyline points="428.3,674.2 430.8,673.5" stroke="#7bff84"/><polyline points="430.8,673.5 432.7,673.2" stroke="#7dff82"/><polyline points="432.7,673.2 436.2,672" stroke="#7eff81"/><polyline points="436.2,672 438.6,670.7" stroke="#80ff80"/><polyline points="438.6,670.7 440.2,669.7" stroke="#82ff7d"/><polyline points="440.2,669.7 443.3,668.9" stroke="#84ff7b"/><polyline points="443.3,668.9 445.6,669.2" stroke="#86ff79"/><polyline points="445.6,669.2 449.1,669.5" stroke="#88ff77"/><polyline points="449.1,669.5 450.4,667.8" stroke="#8aff75"/><polyline points="450.4,667.8 451.4,665.8" stroke="#8cff73"/><polyline points="451.4,665.8 454.4,667.5" stroke="#8eff71"/><polyline points="454.4,667.5 455.9,665.7" stroke="#90ff6f"/><polyline points="455.9,665.7 457.2,663.5" stroke="#92ff6d"/><polyline points="457.2,663.5 459.8,662.9" stroke="#94ff6b"/><polyline points="459.8,662.9 461.8,661.4" stroke="#96ff69"/><polyline points="461.8,661.4 465.3,659.9" stroke="#98ff67"/><polyline points="465.3,659.9 466.5,661" stroke="#9aff65"/><polyline points="466.5,661 469.3,658.1" stroke="#9cff63"/><polyline points="469.3,658.1 471.7,657.9" stroke="#9eff61"/><polyline points="471.7,657.9 473.3,654.4" stroke="#a1ff5e"/><polyline points="473.3,654.4 473.1,654.1" stroke="#a4ff5b"/><polyline points="473.1,654.1 475.1,653.1" stroke="#a7ff58"/><polyline points="475.1,653.1 476.8,651.4" stroke="#aaff55"/><polyline points="476.8,651.4 479.2,648.3" stroke="#adff52"/><polyline points="479.2,648.3 480,646.7" stroke="#b0ff4f"/><polyline points="480,646.7 481.9,645.5" stroke="#b3ff4c"/><polyline points="481.9,645.5 483,644.2" stroke="#b5ff4a"/><polyline points="483,644.2 485.6,641.5" stroke="#b7ff48"/><polyline points="485.6,641.5 485.6,638.6" stroke="#b9ff46"/><polyline points="485.6,638.6 487.2,637" stroke="#bbff44"/><polyline points="487.2,637 489.8,636.9" stroke="#bdff42"/><polyline points="489.8,636.9 490.6,634.3" stroke="#bfff40"/><polyline points="490.6,634.3 492.5,631.1" stroke="#c2ff3d"/><polyline points="492.5,631.1 494.4,630.9" stroke="#c4ff3b"/><polyline points="494.4,630.9 495.6,628" stroke="#c7ff38"/><polyline points="495.6,628 498.1,626.7" stroke="#c9ff36"/><polyline points="498.1,626.7 498.9,624.6" stroke="#ccff33"/><polyline points="498.9,624.6 500.3,622.2" stroke="#cfff30"/><polyline points="500.3,622.2 500.3,618.4" stroke="#d1ff2e"/><polyline points="500.3,618.4 501.5,617.4" stroke="#d4ff2b"/><polyline points="501.5,617.4 503.5,615.2" stroke="#d6ff29"/><polyline points="503.5,615.2 504,611.4" stroke="#d9ff26"/><polyline points="504,611.4 505.3,610.9" stroke="#dbff24"/><polyline points="505.3,610.9 505.7,606.5" stroke="#dfff20"/><polyline points="505.7,606.5 508.1,605.3" stroke="#e2ff1d"/><polyline points="508.1,605.3 509.1,607.8" stroke="#e5ff1a"/><polyline points="509.1,607.8 509.5,608.9" stroke="#e3ff1c"/><polyline points="509.5,608.9 509.5,611.2" stroke="#e0ff1f"/><polyline points="509.5,611.2 510.3,612.2" stroke="#deff21"/><polyline points="510.3,612.2 512.2,613.9 512.9,616.2 512.9,620.3 514,623.7 515.7,623.2 516,626.1 517,629.5 517.3,631.6 518.7,635.9 518.8,637.6 520.5,638.6 520.7,642.6 519.7,645.2 519.9,646.1 520.7,648.6 521.1,651.4 521.1,653.3 524,654.4 526.6,655 527.5,658 530.4,659.8 533,660.5 534.8,660.7" stroke="#dbff24"/><polyline points="534.8,660.7 535.7,663.8" stroke="#deff21"/><polyline points="535.7,663.8 537.3,664.2" stroke="#e0ff1f"/><polyline points="537.3,664.2 540.7,667.6" stroke="#e3ff1c"/><polyline points="540.7,667.6 542,669.4 542.7,669.2 545.5,672.2 546,672.8 547.8,674.4 548.6,676.8 550.2,679.5 550.2,681.1 551.8,684.7 551.6,686.2 554.8,687.1 555.5,689.1 557.1,691.2 560.5,690.7 562.2,691.3 563.8,694.8 565,697.5 567.2,699.4 569.4,701.1 570.4,704 570.2,706.4 570.8,709.8 572.4,710.7 573.8,711.4" stroke="#e5ff1a"/><polyline points="573.8,711.4 575.8,715.7" stroke="#e3ff1c"/><polyline points="575.8,715.7 578,717" stroke="#e0ff1f"/><polyline points="578,717 579.9,719.6" stroke="#deff21"/><polyline points="579.9,719.6 583.3,718.5 586,720.1 588.1,722.9 589.9,719.7 591,718.1 593.2,716.3 595.6,714.8 597.5,717.3 599.5,715.8 603.4,717.1 606,716.7 608.6,716.5 611.6,718.1 612.3,720.1" stroke="#dbff24"/><polyline points="612.3,720.1 615.2,721.3" stroke="#deff21"/><polyline points="615.2,721.3 616.7,723.8" stroke="#e0ff1f"/><polyline points="616.7,723.8 617.8,724" stroke="#e3ff1c"/><polyline points="617.8,724 620.7,723.3 623.9,725.1 625.7,723 629.2,723" stroke="#e5ff1a"/></g>
<g fill="none" stroke-width="2.4" stroke-linejoin="round" stroke-linecap="round"><polyline points="521.5,653.8 520.5,656.5" stroke="#bdff42"/><polyline points="520.5,656.5 518.1,657.1" stroke="#baff45"/><polyline points="518.1,657.1 517.6,658.7" stroke="#b8ff47"/><polyline points="517.6,658.7 516.1,660.7" stroke="#b5ff4a"/><polyline points="516.1,660.7 514,662.5 512.9,663.9 512.1,666.9 509.2,667.9" stroke="#b3ff4c"/><polyline points="509.2,667.9 506.5,669.2" stroke="#b0ff4f"/><polyline points="506.5,669.2 504,670.3" stroke="#aeff51"/><polyline points="504,670.3 502.5,671.8" stroke="#acff53"/><polyline points="502.5,671.8 499.4,673.5" stroke="#aaff55"/><polyline points="499.4,673.5 498.4,673.1" stroke="#a8ff57"/><polyline points="498.4,673.1 495.3,677" stroke="#a6ff59"/><polyline points="495.3,677 493.5,678" stroke="#a4ff5b"/><polyline points="493.5,678 492.1,678.1" stroke="#a2ff5d"/><polyline points="492.1,678.1 490.7,681" stroke="#a0ff5f"/><polyline points="490.7,681 488.4,679.8 486.9,683.7 484.7,682.9 481.9,683.9 479.6,686.3 477.6,686.3" stroke="#9eff61"/><polyline points="477.6,686.3 475.9,688" stroke="#9cff63"/><polyline points="475.9,688 473.3,689.7" stroke="#9aff65"/><polyline points="473.3,689.7 470.8,689.7" stroke="#98ff67"/><polyline points="470.8,689.7 468.9,689.5" stroke="#96ff69"/><polyline points="468.9,689.5 467.6,690.1 464.3,687.2 461.1,687.5 459.3,684.8 458.1,683.3 455.1,679.9 453.8,677.8 452.4,677.4 451.3,674" stroke="#94ff6b"/><polyline points="451.3,674 449.9,674.9" stroke="#91ff6e"/><polyline points="449.9,674.9 448.4,671.6" stroke="#8dff72"/></g>
<g fill="none" stroke-width="2.4" stroke-linejoin="round" stroke-linecap="round"><polyline points="469.5,690.5 467.8,691.8" stroke="#94ff6b"/><polyline points="467.8,691.8 468.6,695.8" stroke="#8fff70"/><polyline points="468.6,695.8 466.9,697.2" stroke="#8aff75"/><polyline points="466.9,697.2 466.7,699.5" stroke="#85ff7a"/><polyline points="466.7,699.5 466.3,701.2" stroke="#80ff80"/><polyline points="466.3,701.2 465.5,704.3" stroke="#7dff82"/><polyline points="465.5,704.3 464,706" stroke="#7bff84"/><polyline points="464,706 463.8,710.1" stroke="#79ff86"/><polyline points="463.8,710.1 464.4,711" stroke="#77ff88"/><polyline points="464.4,711 462.4,714.2" stroke="#75ff8a"/><polyline points="462.4,714.2 459.3,716.3" stroke="#70ff8f"/><polyline points="459.3,716.3 456.7,717.7 455,719" stroke="#6bff94"/></g>
<g fill="none" stroke-width="2.4" stroke-linejoin="round" stroke-linecap="round"><polyline points="320,735.4 322.3,734" stroke="#00c7ff"/><polyline points="322.3,734 324.2,735.5" stroke="#00cbff"/><polyline points="324.2,735.5 325.7,734.1" stroke="#00cfff"/><polyline points="325.7,734.1 329.4,733.6" stroke="#00d3ff"/><polyline points="329.4,733.6 330.4,733.3" stroke="#00d7ff"/><polyline points="330.4,733.3 332.5,733.2" stroke="#00dbff"/><polyline points="332.5,733.2 335.1,730.8" stroke="#00deff"/><polyline points="335.1,730.8 337.7,731.2" stroke="#00e1ff"/><polyline points="337.7,731.2 340.1,732.1" stroke="#00e4ff"/><polyline points="340.1,732.1 341.7,731.6" stroke="#00e7ff"/><polyline points="341.7,731.6 343.7,730.3" stroke="#00eaff"/><polyline points="343.7,730.3 346.5,731.9" stroke="#00edff"/><polyline points="346.5,731.9 348.8,731" stroke="#00f0ff"/><polyline points="348.8,731 351.6,731.4" stroke="#00f4ff"/><polyline points="351.6,731.4 353.7,729.9" stroke="#00f8ff"/><polyline points="353.7,729.9 356,730.7" stroke="#00fcff"/><polyline points="356,730.7 359.1,730.2" stroke="#01fffe"/><polyline points="359.1,730.2 360.5,730.5" stroke="#05fffa"/><polyline points="360.5,730.5 363,730.1" stroke="#0afff5"/><polyline points="363,730.1 365.8,729" stroke="#0ffff0"/><polyline points="365.8,729 368.6,728.3" stroke="#14ffeb"/><polyline points="368.6,728.3 371.3,728.2" stroke="#1affe5"/><polyline points="371.3,728.2 373,726.4" stroke="#1cffe3"/><polyline points="373,726.4 375.3,727.2" stroke="#1effe1"/><polyline points="375.3,727.2 377.6,726.5" stroke="#20ffdf"/><polyline points="377.6,726.5 380.6,726.1" stroke="#22ffdd"/><polyline points="380.6,726.1 383.2,724.8" stroke="#24ffdb"/><polyline points="383.2,724.8 384.6,724.4" stroke="#26ffd9"/><polyline points="384.6,724.4 387.6,724.2" stroke="#28ffd7"/><polyline points="387.6,724.2 389.7,724.9" stroke="#2affd5"/><polyline points="389.7,724.9 393.1,723.9" stroke="#2cffd3"/><polyline points="393.1,723.9 394.8,721.5" stroke="#2effd1"/><polyline points="394.8,721.5 397.1,723.5" stroke="#31ffce"/><polyline points="397.1,723.5 398.1,720.7" stroke="#34ffcb"/><polyline points="398.1,720.7 401.5,721.9" stroke="#37ffc8"/><polyline points="401.5,721.9 403,719.9" stroke="#3affc5"/><polyline points="403,719.9 404.9,720.1" stroke="#3cffc3"/><polyline points="404.9,720.1 406.8,718.9" stroke="#3fffc0"/><polyline points="406.8,718.9 411,720.9 412.6,721.6 415.3,724.5 418,722.7" stroke="#42ffbd"/><polyline points="418,722.7 419.2,724.2" stroke="#44ffbb"/><polyline points="419.2,724.2 422,722.8" stroke="#45ffba"/><polyline points="422,722.8 425.1,721.8" stroke="#47ffb8"/><polyline points="425.1,721.8 427,722.3" stroke="#48ffb7"/><polyline points="427,722.3 429.2,723.1" stroke="#4affb5"/><polyline points="429.2,723.1 430.6,724.4" stroke="#4bffb4"/><polyline points="430.6,724.4 433.7,722.8" stroke="#4dffb3"/><polyline points="433.7,722.8 435.9,720.6" stroke="#4fffb0"/><polyline points="435.9,720.6 438,720.5" stroke="#51ffae"/><polyline points="438,720.5 439.6,720.1" stroke="#53ffac"/><polyline points="439.6,720.1 441.2,719.9" stroke="#55ffaa"/><polyline points="441.2,719.9 444.4,720.4" stroke="#57ffa8"/><polyline points="444.4,720.4 446.5,720" stroke="#59ffa6"/><polyline points="446.5,720 449.7,719" stroke="#5bffa4"/><polyline points="449.7,719 451.2,718.6" stroke="#5dffa2"/><polyline points="451.2,718.6 453.5,719" stroke="#5fffa0"/><polyline points="453.5,719 455.3,720.2" stroke="#61ff9e"/><polyline points="455.3,720.2 458.6,718.6" stroke="#63ff9c"/><polyline points="458.6,718.6 460.9,718.7" stroke="#65ff9a"/><polyline points="460.9,718.7 462.4,720.1" stroke="#67ff98"/><polyline points="462.4,720.1 465.5,719.8" stroke="#69ff96"/><polyline points="465.5,719.8 468.1,718.7 469.9,718.6 472.6,718.1 474.8,719.1 476.7,717.3 478.4,717.9" stroke="#6bff94"/><polyline points="478.4,717.9 481.4,720.6" stroke="#6dff92"/><polyline points="481.4,720.6 483.4,720.8" stroke="#6fff90"/><polyline points="483.4,720.8 486.2,721.5" stroke="#71ff8e"/><polyline points="486.2,721.5 487.8,720.5" stroke="#73ff8c"/><polyline points="487.8,720.5 490,722.8 492.9,723.6 494.9,723.5 496.6,726.2 498.1,727.8 499.6,727.9 500.9,730.4 502.7,731.1 505.2,732 507.8,735.2 509.1,735.4 511.5,736.8 512.7,738.3 512.9,740.8 515.5,743.8 516.3,743.8 517.9,747.2 517.9,749.2 519.9,751.3 520.9,756 523.8,756.7 525.4,760.9 526.8,760.5 528.5,762.6 529.6,765.4 531.1,767.4 533,769.2 533.7,767.7 536.7,770.2 539.6,772.1 541.6,773.1 543.3,773 545.6,773.7 548.5,775.6 550.9,777.5 553.2,774.3 555.6,773.3 557.6,773.6 559.4,771.8 561.4,768.6 562.8,768.2 565.7,765.1 567.4,765.5 569.2,761.8 569.8,760.3" stroke="#75ff8a"/><polyline points="569.8,760.3 570.8,756.4" stroke="#77ff88"/><polyline points="570.8,756.4 571.9,755.8" stroke="#78ff87"/><polyline points="571.9,755.8 572.6,753.3" stroke="#79ff86"/><polyline points="572.6,753.3 572.5,750.6" stroke="#7aff85"/><polyline points="572.5,750.6 573.4,750.3" stroke="#7cff83"/><polyline points="573.4,750.3 573.8,748" stroke="#7dff82"/><polyline points="573.8,748 575,743.4" stroke="#7eff81"/><polyline points="575,743.4 577.4,743.6" stroke="#80ff80"/><polyline points="577.4,743.6 579.2,740.2" stroke="#81ff7e"/><polyline points="579.2,740.2 579.4,738.1" stroke="#83ff7c"/><polyline points="579.4,738.1 581.1,737.8" stroke="#85ff7a"/><polyline points="581.1,737.8 583.6,734.9" stroke="#86ff79"/><polyline points="583.6,734.9 583.8,733.1" stroke="#88ff77"/><polyline points="583.8,733.1 586.9,734.5" stroke="#8aff75"/><polyline points="586.9,734.5 589.6,733.2" stroke="#8cff73"/><polyline points="589.6,733.2 591.3,732.9" stroke="#8eff71"/><polyline points="591.3,732.9 594.1,733.1" stroke="#90ff6f"/><polyline points="594.1,733.1 597.6,732.8" stroke="#92ff6d"/><polyline points="597.6,732.8 598.6,731.2" stroke="#94ff6b"/><polyline points="598.6,731.2 601.7,728.6" stroke="#96ff69"/><polyline points="601.7,728.6 603.9,729.5" stroke="#98ff67"/><polyline points="603.9,729.5 605.2,728" stroke="#9aff65"/><polyline points="605.2,728 607,726.5" stroke="#9cff63"/><polyline points="607,726.5 610,727.4" stroke="#9eff61"/><polyline points="610,727.4 612.6,725" stroke="#a1ff5e"/><polyline points="612.6,725 615.2,726.4" stroke="#a3ff5c"/><polyline points="615.2,726.4 617.6,726.9" stroke="#a6ff59"/><polyline points="617.6,726.9 621.4,725.2" stroke="#a8ff57"/><polyline points="621.4,725.2 623.4,724.9" stroke="#abff54"/><polyline points="623.4,724.9 624.7,724.1" stroke="#adff52"/><polyline points="624.7,724.1 627.7,723" stroke="#b0ff4f"/></g>
<g fill="none" stroke-width="2.5" stroke-linejoin="round" stroke-linecap="round"><polyline points="511,735 512.6,738.4" stroke="#57ffa8"/><polyline points="512.6,738.4 512.4,740" stroke="#54ffab"/><polyline points="512.4,740 514.8,741.5" stroke="#52ffad"/><polyline points="514.8,741.5 515.9,742.9" stroke="#4fffb0"/><polyline points="515.9,742.9 516.1,746.9" stroke="#4dffb3"/><polyline points="516.1,746.9 518,747.6" stroke="#4affb5"/><polyline points="518,747.6 519.3,748.4" stroke="#47ffb8"/><polyline points="519.3,748.4 519.3,750.7" stroke="#45ffba"/><polyline points="519.3,750.7 520.6,754.6" stroke="#42ffbd"/><polyline points="520.6,754.6 521,755.7" stroke="#40ffbf"/><polyline points="521,755.7 523.6,757.4" stroke="#3effc1"/><polyline points="523.6,757.4 524.4,759.2" stroke="#3cffc3"/><polyline points="524.4,759.2 525.6,762.2" stroke="#39ffc6"/><polyline points="525.6,762.2 525.7,764.7" stroke="#37ffc8"/><polyline points="525.7,764.7 526.3,767.8" stroke="#35ffca"/><polyline points="526.3,767.8 527.4,768.5" stroke="#32ffcd"/><polyline points="527.4,768.5 528.1,771.4" stroke="#30ffcf"/><polyline points="528.1,771.4 529.4,772.2" stroke="#2effd1"/><polyline points="529.4,772.2 530.8,776" stroke="#2cffd3"/><polyline points="530.8,776 531.5,777.5" stroke="#2affd5"/><polyline points="531.5,777.5 530.8,781.2" stroke="#28ffd7"/><polyline points="530.8,781.2 532.7,783" stroke="#26ffd9"/><polyline points="532.7,783 532.1,785.1" stroke="#25ffda"/><polyline points="532.1,785.1 533,787.6" stroke="#23ffdc"/><polyline points="533,787.6 534.5,790.3" stroke="#21ffde"/><polyline points="534.5,790.3 534.7,792.4" stroke="#1fffe0"/><polyline points="534.7,792.4 534.9,794.8" stroke="#1dffe2"/><polyline points="534.9,794.8 535.2,796.1" stroke="#1bffe4"/><polyline points="535.2,796.1 536.4,796.8" stroke="#1affe5"/><polyline points="536.4,796.8 536.6,801.6" stroke="#18ffe7"/><polyline points="536.6,801.6 538.3,803.6" stroke="#16ffe9"/><polyline points="538.3,803.6 539.5,805.1" stroke="#14ffeb"/><polyline points="539.5,805.1 538.7,806.7" stroke="#12ffed"/><polyline points="538.7,806.7 539.2,810.5" stroke="#10ffef"/><polyline points="539.2,810.5 540.3,810.9" stroke="#0efff1"/><polyline points="540.3,810.9 541.1,813.6" stroke="#0dfff2"/><polyline points="541.1,813.6 541.4,816.1" stroke="#0bfff4"/><polyline points="541.4,816.1 543.3,819" stroke="#09fff6"/><polyline points="543.3,819 543.3,821.2" stroke="#07fff8"/><polyline points="543.3,821.2 543.7,823.2" stroke="#05fffa"/><polyline points="543.7,823.2 545.7,826.2" stroke="#03fffc"/><polyline points="545.7,826.2 544.9,828.8" stroke="#01fffe"/><polyline points="544.9,828.8 546.1,829.4" stroke="#00feff"/><polyline points="546.1,829.4 546.7,832.7" stroke="#00fcff"/><polyline points="546.7,832.7 547.9,835.8" stroke="#00faff"/><polyline points="547.9,835.8 548.4,835.9" stroke="#00f8ff"/><polyline points="548.4,835.9 550,838.5" stroke="#00f6ff"/><polyline points="550,838.5 550.2,841.5" stroke="#00f4ff"/><polyline points="550.2,841.5 551.5,843.7" stroke="#00f2ff"/><polyline points="551.5,843.7 551.2,844.3" stroke="#00f0ff"/><polyline points="551.2,844.3 551.6,847.3" stroke="#00eeff"/><polyline points="551.6,847.3 553.3,849" stroke="#00ecff"/><polyline points="553.3,849 554.2,851.2" stroke="#00eaff"/><polyline points="554.2,851.2 554.3,854.7" stroke="#00e8ff"/><polyline points="554.3,854.7 555.2,856.5" stroke="#00e5ff"/><polyline points="555.2,856.5 555.7,860.1" stroke="#00e3ff"/><polyline points="555.7,860.1 556.5,860.3" stroke="#00e0ff"/><polyline points="556.5,860.3 557.2,864.5" stroke="#00deff"/><polyline points="557.2,864.5 558.1,863.6" stroke="#00dbff"/><polyline points="558.1,863.6 558.1,867.2" stroke="#00d9ff"/><polyline points="558.1,867.2 558.6,870.4" stroke="#00d6ff"/><polyline points="558.6,870.4 560.2,872.6" stroke="#00d4ff"/><polyline points="560.2,872.6 560.3,872.5" stroke="#00d1ff"/><polyline points="560.3,872.5 560,876.9" stroke="#00cfff"/><polyline points="560,876.9 560.5,877.6" stroke="#00ccff"/><polyline points="560.5,877.6 562.3,880.2" stroke="#00c9ff"/><polyline points="562.3,880.2 563.5,883.2" stroke="#00c7ff"/><polyline points="563.5,883.2 562.8,885.1" stroke="#00c3ff"/><polyline points="562.8,885.1 563.9,887.4" stroke="#00c0ff"/><polyline points="563.9,887.4 564.2,890" stroke="#00bdff"/><polyline points="564.2,890 564.2,889.6" stroke="#00b9ff"/><polyline points="564.2,889.6 565,894.3" stroke="#00b6ff"/><polyline points="565,894.3 567,894.9" stroke="#00b3ff"/><polyline points="567,894.9 567.5,898.4" stroke="#00afff"/><polyline points="567.5,898.4 567.7,900.9" stroke="#00acff"/><polyline points="567.7,900.9 567.4,902.9" stroke="#00a8ff"/><polyline points="567.4,902.9 568.5,903.1" stroke="#00a5ff"/><polyline points="568.5,903.1 568.6,904.9" stroke="#00a2ff"/><polyline points="568.6,904.9 569.4,908.7" stroke="#009eff"/><polyline points="569.4,908.7 571.6,909" stroke="#009bff"/><polyline points="571.6,909 571,912.8" stroke="#0098ff"/><polyline points="571,912.8 572.6,915.6" stroke="#0095ff"/><polyline points="572.6,915.6 573.3,916.2" stroke="#0092ff"/><polyline points="573.3,916.2 573.9,917.6" stroke="#008eff"/><polyline points="573.9,917.6 575.4,920.3" stroke="#008bff"/><polyline points="575.4,920.3 575.2,924.1" stroke="#0088ff"/><polyline points="575.2,924.1 576.9,926.7" stroke="#0085ff"/><polyline points="576.9,926.7 577.1,927.2" stroke="#0082ff"/><polyline points="577.1,927.2 578.2,930.9" stroke="#007fff"/><polyline points="578.2,930.9 578.8,932.8" stroke="#007cff"/><polyline points="578.8,932.8 580.1,933.4" stroke="#0078ff"/><polyline points="580.1,933.4 580.4,936" stroke="#0075ff"/><polyline points="580.4,936 582.7,939.4" stroke="#0072ff"/><polyline points="582.7,939.4 583.2,939.9" stroke="#006fff"/><polyline points="583.2,939.9 583.5,941" stroke="#006cff"/><polyline points="583.5,941 584.7,943" stroke="#0069ff"/><polyline points="584.7,943 586.3,945.6" stroke="#0066ff"/><polyline points="586.3,945.6 586.1,947.5" stroke="#0062ff"/><polyline points="586.1,947.5 588,952.1" stroke="#005fff"/><polyline points="588,952.1 587.3,951.7" stroke="#005cff"/><polyline points="587.3,951.7 588.5,956.3" stroke="#0059ff"/><polyline points="588.5,956.3 589.1,956.4" stroke="#0056ff"/><polyline points="589.1,956.4 590.8,959.4" stroke="#0053ff"/><polyline points="590.8,959.4 590.7,961.5" stroke="#0050ff"/><polyline points="590.7,961.5 592.5,963" stroke="#004dff"/><polyline points="592.5,963 591.7,964.5" stroke="#004aff"/><polyline points="591.7,964.5 592.7,967.7" stroke="#0047ff"/><polyline points="592.7,967.7 594.3,968.9" stroke="#0045ff"/><polyline points="594.3,968.9 594.9,973.5" stroke="#0042ff"/><polyline points="594.9,973.5 595,973.2" stroke="#0040ff"/><polyline points="595,973.2 595.6,976.7" stroke="#003dff"/><polyline points="595.6,976.7 595.8,979.4" stroke="#003bff"/><polyline points="595.8,979.4 596.1,980.3" stroke="#0038ff"/><polyline points="596.1,980.3 596.3,983.2" stroke="#0036ff"/><polyline points="596.3,983.2 596.4,986.9" stroke="#0033ff"/><polyline points="596.4,986.9 598.2,988.1" stroke="#0030ff"/><polyline points="598.2,988.1 598.6,991.4" stroke="#002eff"/><polyline points="598.6,991.4 599.2,992.1" stroke="#002bff"/><polyline points="599.2,992.1 598.8,995.3" stroke="#0029ff"/><polyline points="598.8,995.3 600.8,997.1" stroke="#0026ff"/><polyline points="600.8,997.1 601.5,999.4" stroke="#0024ff"/><polyline points="601.5,999.4 601.1,999.4" stroke="#0022ff"/><polyline points="601.1,999.4 602.8,1003.9" stroke="#0020ff"/><polyline points="602.8,1003.9 602.5,1005.3" stroke="#001eff"/><polyline points="602.5,1005.3 603.3,1006.8" stroke="#001cff"/><polyline points="603.3,1006.8 604.5,1009.9" stroke="#001aff"/><polyline points="604.5,1009.9 604.9,1010.4" stroke="#0017ff"/><polyline points="604.9,1010.4 606.3,1014.2" stroke="#0015ff"/><polyline points="606.3,1014.2 607.6,1017.3" stroke="#0013ff"/><polyline points="607.6,1017.3 608.9,1016.9" stroke="#0011ff"/><polyline points="608.9,1016.9 609.7,1021.4" stroke="#000fff"/><polyline points="609.7,1021.4 610.5,1021.9" stroke="#000dff"/><polyline points="610.5,1021.9 610.7,1025.6" stroke="#000aff"/><polyline points="610.7,1025.6 611.8,1025.9" stroke="#0008ff"/><polyline points="611.8,1025.9 613.7,1028.1" stroke="#0005ff"/><polyline points="613.7,1028.1 614.8,1029.8" stroke="#0003ff"/><polyline points="614.8,1029.8 614.8,1031.8" stroke="#0000ff"/><polyline points="614.8,1031.8 615.4,1033.2" stroke="#0000fc"/><polyline points="615.4,1033.2 617.1,1035.7" stroke="#0000fa"/><polyline points="617.1,1035.7 618.1,1040.6" stroke="#0000f7"/><polyline points="618.1,1040.6 620.8,1042.5" stroke="#0000f3"/><polyline points="620.8,1042.5 621.8,1043.8" stroke="#0000f0"/><polyline points="621.8,1043.8 622.4,1046.2" stroke="#0000ec"/><polyline points="622.4,1046.2 624.4,1048" stroke="#0000e9"/></g>
<g fill="none" stroke-width="2.7" stroke-linejoin="round" stroke-linecap="round"><polyline points="1069.5,453.2 1071.4,452.3 1074.4,452.3 1076.2,451.8 1079.4,452.4" stroke="#80ff80"/><polyline points="1079.4,452.4 1081.6,452.8" stroke="#83ff7c"/><polyline points="1081.6,452.8 1084.9,452.8" stroke="#86ff79"/><polyline points="1084.9,452.8 1085.7,451.4" stroke="#8aff75"/><polyline points="1085.7,451.4 1088.4,449.8" stroke="#8dff72"/><polyline points="1088.4,449.8 1091.1,448.8" stroke="#91ff6e"/><polyline points="1091.1,448.8 1093.1,446.7" stroke="#94ff6b"/><polyline points="1093.1,446.7 1095.5,446.9" stroke="#98ff67"/><polyline points="1095.5,446.9 1096.5,445.9" stroke="#9cff63"/><polyline points="1096.5,445.9 1098.4,442.6" stroke="#a0ff5f"/><polyline points="1098.4,442.6 1100.6,441.5" stroke="#a4ff5b"/><polyline points="1100.6,441.5 1103.3,443.1" stroke="#a8ff57"/><polyline points="1103.3,443.1 1105.5,442.4" stroke="#acff53"/><polyline points="1105.5,442.4 1106.9,440.8" stroke="#afff50"/><polyline points="1106.9,440.8 1109.1,438.3" stroke="#b3ff4c"/><polyline points="1109.1,438.3 1109.7,437.5" stroke="#b5ff4a"/><polyline points="1109.7,437.5 1109.6,434" stroke="#b7ff48"/><polyline points="1109.6,434 1111.3,430.8" stroke="#b9ff46"/><polyline points="1111.3,430.8 1111.5,429" stroke="#bbff44"/><polyline points="1111.5,429 1112.7,428.4" stroke="#bdff42"/><polyline points="1112.7,428.4 1114.9,427.2" stroke="#c2ff3d"/><polyline points="1114.9,427.2 1115.9,423.5" stroke="#c7ff38"/><polyline points="1115.9,423.5 1118.4,422.7" stroke="#ccff33"/><polyline points="1118.4,422.7 1119,419.2" stroke="#d1ff2e"/><polyline points="1119,419.2 1120.4,417.5" stroke="#d5ff2a"/><polyline points="1120.4,417.5 1120.6,414.3" stroke="#d9ff26"/><polyline points="1120.6,414.3 1120.9,414.4" stroke="#ddff22"/><polyline points="1120.9,414.4 1122.9,412" stroke="#e1ff1e"/><polyline points="1122.9,412 1124.6,410" stroke="#e5ff1a"/><polyline points="1124.6,410 1126.7,406.9" stroke="#e8ff17"/><polyline points="1126.7,406.9 1127.6,406.7" stroke="#ebff14"/><polyline points="1127.6,406.7 1130.2,405.2" stroke="#edff12"/><polyline points="1130.2,405.2 1131,401.3" stroke="#f0ff0f"/><polyline points="1131,401.3 1133,401.4" stroke="#f3ff0c"/><polyline points="1133,401.4 1134.1,397.7" stroke="#f7ff08"/><polyline points="1134.1,397.7 1137.6,398 1138.7,400.8 1140.5,401 1143.8,403.2 1144.7,400.3" stroke="#faff05"/><polyline points="1144.7,400.3 1146.3,399.3" stroke="#fdff02"/><polyline points="1146.3,399.3 1148.1,397.2" stroke="#fffd00"/><polyline points="1148.1,397.2 1149.5,397.5 1151.6,397 1153.8,398.9 1156.3,399.2 1157.3,397.3" stroke="#fffa00"/><polyline points="1157.3,397.3 1158,395.2" stroke="#fff800"/><polyline points="1158,395.2 1158.9,392.7" stroke="#fff600"/><polyline points="1158.9,392.7 1158.6,392.7" stroke="#fff400"/><polyline points="1158.6,392.7 1160.8,390.9" stroke="#fff200"/><polyline points="1160.8,390.9 1160.8,388.5" stroke="#fff000"/><polyline points="1160.8,388.5 1161.7,386.6" stroke="#ffec00"/><polyline points="1161.7,386.6 1162.5,382.9" stroke="#ffe800"/><polyline points="1162.5,382.9 1162.6,382.4" stroke="#ffe300"/><polyline points="1162.6,382.4 1163.9,378" stroke="#ffdf00"/><polyline points="1163.9,378 1166.7,379.2" stroke="#ffdb00"/><polyline points="1166.7,379.2 1170,380" stroke="#ffd800"/><polyline points="1170,380 1172.3,380.3" stroke="#ffd400"/><polyline points="1172.3,380.3 1175.1,379.3" stroke="#ffd100"/><polyline points="1175.1,379.3 1177.3,376.4" stroke="#ffcc00"/><polyline points="1177.3,376.4 1178.2,375.6" stroke="#ffc700"/><polyline points="1178.2,375.6 1178.8,371.5" stroke="#ffc200"/><polyline points="1178.8,371.5 1179.5,369.2" stroke="#ffbd00"/><polyline points="1179.5,369.2 1181.4,366.8" stroke="#ffb800"/><polyline points="1181.4,366.8 1183.6,369.4 1185.1,371.8 1187.1,372.1 1189.1,375.2 1191,376.6 1191.5,379.6 1192.3,381.2 1194.1,384.5 1194.3,386.8 1197.4,387.7 1197.1,391 1200.2,387.2" stroke="#ffb300"/><polyline points="1200.2,387.2 1200.2,387.6" stroke="#ffb000"/><polyline points="1200.2,387.6 1203.2,385.4" stroke="#ffad00"/><polyline points="1203.2,385.4 1203.5,383.2" stroke="#ffab00"/><polyline points="1203.5,383.2 1206.5,384.9 1208.8,386.9 1209.8,388.5 1212.1,390.1 1214.3,390.6 1216.2,392.3 1219.7,393.2 1221.7,394.9 1222.7,394.9 1225.2,397 1226.9,398.2 1229.9,398.1 1231.7,396.3 1234.3,394.9 1235.5,396.5 1238.4,396.7 1240.1,397.5 1241.8,401.1 1244.3,400.9 1246.6,402.9 1248.7,404.6 1250,407.8 1250.5,407.8 1251,410.7 1251.6,413.6 1253.1,415.1 1253.1,415.9 1254.9,420.3 1254.6,421.9 1254.6,417.7 1256.6,417.6 1256.7,413.6 1257,410.1 1258.3,409.2 1259.1,411.5 1258.6,414.2 1260.2,415.3 1261.1,417.5 1260.6,420.4 1260.9,417.5 1261.6,413.5 1263.8,410.7 1263.4,409.4 1263.7,405.7 1264.9,405.5 1266.3,401.2 1267.2,399.9 1267.4,397.4" stroke="#ffa800"/></g>
<g fill="none" stroke-width="2.6" stroke-linejoin="round" stroke-linecap="round"><polyline points="1096.8,474.2 1097.4,472.7" stroke="#b3ff4c"/><polyline points="1097.4,472.7 1098.2,469.7" stroke="#b5ff4a"/><polyline points="1098.2,469.7 1099.1,467.1" stroke="#b7ff48"/><polyline points="1099.1,467.1 1101,466.5" stroke="#b9ff46"/><polyline points="1101,466.5 1100.5,463.9" stroke="#bbff44"/><polyline points="1100.5,463.9 1103.2,460.9" stroke="#bdff42"/><polyline points="1103.2,460.9 1104.5,460.4" stroke="#c2ff3d"/><polyline points="1104.5,460.4 1107.3,461.1 1108.7,462.4 1110.1,463.9 1110.7,464.5 1113.8,464" stroke="#c7ff38"/><polyline points="1113.8,464 1115.4,463.9" stroke="#caff35"/><polyline points="1115.4,463.9 1118.1,463.5" stroke="#ceff31"/><polyline points="1118.1,463.5 1117.9,462.4" stroke="#d1ff2e"/><polyline points="1117.9,462.4 1119.6,458.4" stroke="#d3ff2c"/><polyline points="1119.6,458.4 1119.7,456.3" stroke="#d5ff2a"/><polyline points="1119.7,456.3 1118.7,452.3" stroke="#d7ff28"/><polyline points="1118.7,452.3 1120.7,450.1" stroke="#d9ff26"/><polyline points="1120.7,450.1 1122.8,451.5" stroke="#dbff24"/><polyline points="1122.8,451.5 1124.3,449" stroke="#dfff20"/><polyline points="1124.3,449 1126.6,448.7" stroke="#e2ff1d"/><polyline points="1126.6,448.7 1127.5,450.4 1130,454 1132.7,449.6" stroke="#e5ff1a"/><polyline points="1132.7,449.6 1132.7,447.5" stroke="#e9ff16"/><polyline points="1132.7,447.5 1134.3,445.5" stroke="#ecff13"/><polyline points="1134.3,445.5 1137.3,444.3" stroke="#f0ff0f"/><polyline points="1137.3,444.3 1139.1,445.8" stroke="#f5ff0a"/><polyline points="1139.1,445.8 1139.1,441.9" stroke="#faff05"/><polyline points="1139.1,441.9 1139.7,439" stroke="#fcff03"/><polyline points="1139.7,439 1141.2,437.9" stroke="#fdff02"/><polyline points="1141.2,437.9 1141.5,436.2" stroke="#ffff00"/><polyline points="1141.5,436.2 1143.3,432.1" stroke="#fffd00"/><polyline points="1143.3,432.1 1142.3,429.9" stroke="#fffc00"/><polyline points="1142.3,429.9 1145.6,431 1146.5,433.1 1149.1,434.2 1150.9,434.4 1154.3,435.7 1155.5,437.2 1156.9,441.7 1156.9,441.9 1157.6,443.6 1159.2,445.3 1159.7,447.5 1160.6,451.1 1162.1,453.7 1164.6,456 1165.5,456.7 1167.8,457.2 1170.5,459.2 1173.3,462.9 1173.5,464.5 1175.7,467 1176.4,467.7 1178.9,469.3 1180.6,470.6 1182.7,472.1 1183.6,476.3 1184.5,478.9 1185.9,481.3 1186.5,482.8 1188.6,483.8 1189.4,486.8 1191.8,488 1193.1,490 1195.1,489.2 1197.1,491.2 1200.2,493.1" stroke="#fffa00"/><polyline points="1200.2,493.1 1202.9,492.3" stroke="#fffc00"/><polyline points="1202.9,492.3 1203.6,493.5" stroke="#ffff00"/><polyline points="1203.6,493.5 1205.8,494.5" stroke="#fcff03"/><polyline points="1205.8,494.5 1209,495.6 1211,498.6 1213.3,498.6 1214.9,501.4 1216.8,501.6" stroke="#faff05"/></g>
<g fill="none" stroke-width="2.5" stroke-linejoin="round" stroke-linecap="round"><polyline points="1218.9,516.3 1221.1,513.6 1222.3,511.8 1227.4,510.8 1229,510" stroke="#d1ff2e"/><polyline points="1229,510 1229.9,509.1" stroke="#d4ff2b"/><polyline points="1229.9,509.1 1231.1,505.6" stroke="#d8ff27"/><polyline points="1231.1,505.6 1235.2,503.9 1234.8,505.6 1234.4,507.7 1235.4,511.9 1235.8,514.2" stroke="#dbff24"/></g>
<g fill="none" stroke-width="2.4" stroke-linejoin="round" stroke-linecap="round"><polyline points="1042.1,472.1 1043.6,473.1 1046.4,474.9 1047.9,477.2 1049.3,477.9 1050.4,481.3 1052,481.2 1054.9,484 1056.1,486.7 1059.8,488.1 1062.2,487.4 1064.7,487.1 1067,489.9 1069.8,491.1 1071.1,491.8 1074.2,492.6 1075.4,493.8 1076.5,490.9" stroke="#80ff80"/><polyline points="1076.5,490.9 1078.7,488.4" stroke="#83ff7c"/><polyline points="1078.7,488.4 1079.9,488" stroke="#86ff79"/><polyline points="1079.9,488 1081.3,484.4 1083.8,484.3 1086.1,483.9 1087.5,480.7" stroke="#8aff75"/><polyline points="1087.5,480.7 1090.9,480.6" stroke="#8dff72"/><polyline points="1090.9,480.6 1092.1,477.1" stroke="#91ff6e"/><polyline points="1092.1,477.1 1094.2,476.1 1096.8,477.4 1098.7,477.5" stroke="#94ff6b"/><polyline points="1098.7,477.5 1101.5,478" stroke="#96ff69"/><polyline points="1101.5,478 1103.1,479.6" stroke="#99ff66"/><polyline points="1103.1,479.6 1105.3,482.2" stroke="#9cff63"/><polyline points="1105.3,482.2 1106.7,483.8" stroke="#9eff61"/><polyline points="1106.7,483.8 1109.6,486.2" stroke="#a1ff5e"/><polyline points="1109.6,486.2 1111.3,487.3" stroke="#a3ff5c"/><polyline points="1111.3,487.3 1113.9,487.7" stroke="#a6ff59"/><polyline points="1113.9,487.7 1116.3,491.2 1117.4,493.2 1119.5,494.2 1122,494.5 1125.5,494 1128,495.5 1130.4,495.8 1132.4,495.7 1134.4,497.4 1136.8,498.7 1138.8,496.9 1142.4,498.2 1145.3,497.4" stroke="#a8ff57"/></g>
<g fill="none" stroke-width="2.4" stroke-linejoin="round" stroke-linecap="round"><polyline points="1126.3,495.3 1126.7,497.5" stroke="#a8ff57"/><polyline points="1126.7,497.5 1127.2,500.2" stroke="#a7ff58"/><polyline points="1127.2,500.2 1127.3,503.5" stroke="#a6ff59"/><polyline points="1127.3,503.5 1127.1,505.6" stroke="#a5ff5a"/><polyline points="1127.1,505.6 1129,507.3" stroke="#a4ff5b"/><polyline points="1129,507.3 1128.8,507.8" stroke="#a3ff5c"/><polyline points="1128.8,507.8 1129,510.9" stroke="#a2ff5d"/><polyline points="1129,510.9 1130.3,512.7" stroke="#a1ff5e"/><polyline points="1130.3,512.7 1129.9,514.9" stroke="#a0ff5f"/><polyline points="1129.9,514.9 1129.8,519.5" stroke="#9fff60"/><polyline points="1129.8,519.5 1131.1,519.3" stroke="#9eff61"/><polyline points="1131.1,519.3 1131.8,523.5" stroke="#9dff62"/><polyline points="1131.8,523.5 1131.2,524.3" stroke="#9cff63"/><polyline points="1131.2,524.3 1131.7,527" stroke="#9bff64"/><polyline points="1131.7,527 1131.9,529.5" stroke="#9aff65"/><polyline points="1131.9,529.5 1133.2,530.3 1133.1,534.6" stroke="#99ff66"/><polyline points="1133.1,534.6 1133.6,536.4" stroke="#98ff67"/><polyline points="1133.6,536.4 1134.6,537.9" stroke="#97ff68"/><polyline points="1134.6,537.9 1135,539" stroke="#96ff69"/><polyline points="1135,539 1135.8,542.7" stroke="#95ff6a"/><polyline points="1135.8,542.7 1134.6,544.1" stroke="#94ff6b"/><polyline points="1134.6,544.1 1135.8,548.1" stroke="#93ff6c"/><polyline points="1135.8,548.1 1136.1,548.2" stroke="#92ff6d"/><polyline points="1136.1,548.2 1137.8,550.8" stroke="#91ff6e"/><polyline points="1137.8,550.8 1137.3,554.5" stroke="#90ff6f"/><polyline points="1137.3,554.5 1138.1,555.8" stroke="#8fff70"/><polyline points="1138.1,555.8 1138.6,558.5" stroke="#8eff71"/><polyline points="1138.6,558.5 1138.5,561.7" stroke="#8dff72"/><polyline points="1138.5,561.7 1139.6,561.3" stroke="#8cff73"/><polyline points="1139.6,561.3 1140.4,565.3" stroke="#8bff74"/><polyline points="1140.4,565.3 1139.7,567.6" stroke="#8aff75"/><polyline points="1139.7,567.6 1140.9,570.6" stroke="#88ff77"/><polyline points="1140.9,570.6 1141.8,571.7" stroke="#86ff79"/><polyline points="1141.8,571.7 1142.8,573.4" stroke="#84ff7b"/><polyline points="1142.8,573.4 1142.5,577.9" stroke="#82ff7d"/><polyline points="1142.5,577.9 1144.6,580.3 1144.2,581.5 1145.9,585.4 1147.4,586.9 1147.2,588.1 1148.6,592.3 1148.7,592.2" stroke="#80ff80"/><polyline points="1148.7,592.2 1150.5,594.9" stroke="#7eff81"/><polyline points="1150.5,594.9 1149.6,598.1" stroke="#7dff82"/><polyline points="1149.6,598.1 1150.9,600.7" stroke="#7cff83"/><polyline points="1150.9,600.7 1151.6,603.4" stroke="#7aff85"/><polyline points="1151.6,603.4 1152.3,603.6" stroke="#79ff86"/><polyline points="1152.3,603.6 1153.7,607.3" stroke="#78ff87"/><polyline points="1153.7,607.3 1153.8,609.6" stroke="#77ff88"/></g>
<g fill="none" stroke-width="2.4" stroke-linejoin="round" stroke-linecap="round"><polyline points="1145.3,497.4 1146.8,498.7" stroke="#a8ff57"/><polyline points="1146.8,498.7 1146.8,501.6" stroke="#a7ff58"/><polyline points="1146.8,501.6 1146.9,505.4" stroke="#a6ff59"/><polyline points="1146.9,505.4 1148.2,507.2" stroke="#a5ff5a"/><polyline points="1148.2,507.2 1149.2,508.4" stroke="#a4ff5b"/><polyline points="1149.2,508.4 1149.7,512.8" stroke="#a3ff5c"/><polyline points="1149.7,512.8 1150.9,514.2" stroke="#a2ff5e"/><polyline points="1150.9,514.2 1150.8,515.5" stroke="#a0ff5f"/><polyline points="1150.8,515.5 1151.2,517.9" stroke="#9fff60"/><polyline points="1151.2,517.9 1152.3,520.1 1151.8,523.3 1152.6,526.5 1153.7,529.9 1154.5,530" stroke="#9eff61"/><polyline points="1154.5,530 1155.2,534.2" stroke="#9dff62"/><polyline points="1155.2,534.2 1154.3,536.9 1155.6,537.4" stroke="#9cff63"/><polyline points="1155.6,537.4 1155.3,541.4" stroke="#9bff64"/><polyline points="1155.3,541.4 1156.3,541.9" stroke="#9aff65"/><polyline points="1156.3,541.9 1156.1,544.4" stroke="#99ff66"/><polyline points="1156.1,544.4 1156.7,546" stroke="#98ff67"/><polyline points="1156.7,546 1157.5,550" stroke="#97ff68"/><polyline points="1157.5,550 1158.2,550 1158.1,553.6" stroke="#96ff69"/><polyline points="1158.1,553.6 1159.9,555.2" stroke="#95ff6a"/><polyline points="1159.9,555.2 1159.1,558.3" stroke="#94ff6b"/><polyline points="1159.1,558.3 1161.5,559.3" stroke="#92ff6d"/><polyline points="1161.5,559.3 1161.7,562.4" stroke="#91ff6e"/><polyline points="1161.7,562.4 1163.1,564.7" stroke="#90ff6f"/><polyline points="1163.1,564.7 1163.7,568.1" stroke="#8eff71"/><polyline points="1163.7,568.1 1164,568.7" stroke="#8dff72"/><polyline points="1164,568.7 1164.6,571.9" stroke="#8bff74"/><polyline points="1164.6,571.9 1167.6,571" stroke="#8aff75"/><polyline points="1167.6,571 1169.1,574.2" stroke="#88ff77"/><polyline points="1169.1,574.2 1171.1,574.5" stroke="#86ff79"/><polyline points="1171.1,574.5 1173.9,574.5" stroke="#84ff7b"/><polyline points="1173.9,574.5 1174.8,575.1" stroke="#82ff7d"/><polyline points="1174.8,575.1 1177,574.9 1180.3,574.5 1182.4,575.7 1183.9,577.7 1186.3,578.4 1187.3,578.7 1190,580.5 1191.5,582.7" stroke="#80ff80"/></g>
<g fill="none" stroke-width="2.3" stroke-linejoin="round" stroke-linecap="round"><polyline points="1100,542.3 1101.1,542.2 1103.9,545.6 1105.9,544.3 1107.5,546.6 1110.5,547.7 1111.7,549.2 1114,551.4 1114.8,551.4 1118.3,552.3 1119,555.4 1121.5,556.1 1122.8,555.3" stroke="#80ff80"/><polyline points="1122.8,555.3 1124.8,551.4" stroke="#82ff7d"/><polyline points="1124.8,551.4 1125.8,551.4" stroke="#84ff7b"/><polyline points="1125.8,551.4 1127.8,547.9" stroke="#86ff79"/><polyline points="1127.8,547.9 1128.9,549.1" stroke="#88ff77"/><polyline points="1128.9,549.1 1129.9,544.7 1132.6,543.4 1133,540" stroke="#8aff75"/></g>
<g fill="none" stroke-width="2.3" stroke-linejoin="round" stroke-linecap="round"><polyline points="1100,582.7 1102.3,581.2 1105.4,582 1107.6,582 1108.7,581.5 1111.7,579.5 1112.6,579.7 1116,580.5 1116.6,582.7 1119.1,582 1121.1,585.8 1123.6,586.4 1124.7,587 1126.6,587.8 1128.2,589.4" stroke="#75ff8a"/><polyline points="1128.2,589.4 1131.1,589.2" stroke="#74ff8b"/><polyline points="1131.1,589.2 1132.3,590.8" stroke="#72ff8d"/><polyline points="1132.3,590.8 1133.8,592.5" stroke="#71ff8e"/><polyline points="1133.8,592.5 1137.3,595.1" stroke="#6fff90"/><polyline points="1137.3,595.1 1138.2,594.7" stroke="#6eff91"/><polyline points="1138.2,594.7 1140.4,596.2" stroke="#6dff92"/></g>
<g fill="none" stroke-width="2.3" stroke-linejoin="round" stroke-linecap="round"><polyline points="1099.8,597.3 1102.3,598.5 1103.5,600.4 1105.7,599.2 1108,601.7 1109.5,601.1 1112.6,603.9 1114.3,603 1115.2,603.9 1117.3,607 1120.4,608.4 1122.2,607.3 1124,604.1 1126.8,603.3 1127.5,602 1130.1,599.3 1131.9,599 1135.5,601.2 1138.2,600.7 1140.3,603.1 1141.4,601.8 1143.9,602.3 1147,604.3 1149.6,606 1150.2,604.9 1152.4,604.6 1156.1,606.2 1157.4,607.4" stroke="#6bff94"/></g>
<g fill="none" stroke-width="2.3" stroke-linejoin="round" stroke-linecap="round"><polyline points="1099.8,587.1 1102.1,587.3" stroke="#75ff8a"/><polyline points="1102.1,587.3 1103.2,585.7" stroke="#77ff88"/><polyline points="1103.2,585.7 1106.7,582.2" stroke="#78ff87"/><polyline points="1106.7,582.2 1108.5,583.2" stroke="#79ff86"/><polyline points="1108.5,583.2 1109.8,581.1" stroke="#7aff85"/><polyline points="1109.8,581.1 1112.8,578.4" stroke="#7cff83"/><polyline points="1112.8,578.4 1114,577.4" stroke="#7dff82"/><polyline points="1114,577.4 1117.2,575.8" stroke="#7eff81"/><polyline points="1117.2,575.8 1118,577.1 1120.3,579.2 1122.4,580.2 1123.3,581.2 1125.2,582.7 1127.8,582.9 1129.8,586.7 1131.7,585.6 1133.3,588.1 1135.5,590.7 1137.7,591.9 1138,588.5 1139.9,586.4 1142.6,586.2 1144.5,583.3 1146,582.3 1146.4,579.7 1149.2,579.9 1151.2,577.9 1152.8,573.8 1154.3,572.1 1156.2,573.5 1158.7,575.4 1161.1,574.4 1163.3,577.2 1165.1,575.8 1167.5,577.2 1170.7,576.6 1172.8,578.2 1174.7,580.8 1177,579.5 1178.5,580 1180.4,580.7 1182.5,581.9 1185.1,584.4 1187.8,583.7" stroke="#80ff80"/></g>
<g fill="none" stroke-width="2.3" stroke-linejoin="round" stroke-linecap="round"><polyline points="1240,598.9 1242.7,598.1" stroke="#42ffbd"/><polyline points="1242.7,598.1 1243.9,596.9" stroke="#44ffbb"/><polyline points="1243.9,596.9 1245.6,595.2" stroke="#45ffba"/><polyline points="1245.6,595.2 1247.9,595" stroke="#47ffb8"/><polyline points="1247.9,595 1249.8,592.3" stroke="#48ffb7"/><polyline points="1249.8,592.3 1252.3,592.7" stroke="#4affb5"/><polyline points="1252.3,592.7 1253.1,592.2" stroke="#4bffb4"/><polyline points="1253.1,592.2 1256.5,591 1257.9,591.2 1260,591.7 1261.6,594.2 1264.2,593.5" stroke="#4dffb3"/></g>
<g fill="none" stroke-width="2.3" stroke-linejoin="round" stroke-linecap="round"><polyline points="1238.6,590.5 1240.5,589.9 1242.9,588.8 1245.2,588.8 1249,587.5 1251.2,586.7 1253.8,588.2 1256.4,587.9 1258.9,586.8 1260,587.1 1263,584.3 1265.7,585.8 1268.1,583.6 1270.6,582 1271.6,583 1274,583.5 1276.4,583.5 1278.2,585.1 1281.4,586 1283.3,587.1 1284.8,587.7 1288.2,588.4 1288.8,589 1292,589 1294.7,590.4 1296.2,590.5" stroke="#57ffa8"/></g>
<g fill="none" stroke-width="2.3" stroke-linejoin="round" stroke-linecap="round"><polyline points="1269.6,485.8 1270.2,487.2" stroke="#94ff6b"/><polyline points="1270.2,487.2 1269.5,491.5" stroke="#93ff6c"/><polyline points="1269.5,491.5 1270.5,493.2" stroke="#92ff6d"/><polyline points="1270.5,493.2 1269.7,495" stroke="#91ff6e"/><polyline points="1269.7,495 1271.2,497.7" stroke="#90ff6f"/><polyline points="1271.2,497.7 1270.8,499.4" stroke="#8fff70"/><polyline points="1270.8,499.4 1270.7,502.5" stroke="#8eff71"/><polyline points="1270.7,502.5 1271.2,503.6" stroke="#8dff72"/><polyline points="1271.2,503.6 1272.2,504.5 1271,507.5" stroke="#8cff73"/><polyline points="1271,507.5 1271.2,510.9" stroke="#8bff74"/><polyline points="1271.2,510.9 1271.9,513.3" stroke="#8aff75"/><polyline points="1271.9,513.3 1272.3,514.9" stroke="#89ff76"/><polyline points="1272.3,514.9 1272.7,518.2" stroke="#88ff77"/><polyline points="1272.7,518.2 1273.7,518.8" stroke="#87ff78"/><polyline points="1273.7,518.8 1273.8,522.3" stroke="#86ff79"/><polyline points="1273.8,522.3 1272.9,522.9" stroke="#85ff7a"/><polyline points="1272.9,522.9 1274,526" stroke="#84ff7b"/><polyline points="1274,526 1274.8,527.9" stroke="#83ff7c"/><polyline points="1274.8,527.9 1274.4,529.9" stroke="#82ff7d"/><polyline points="1274.4,529.9 1273.9,532.2" stroke="#81ff7e"/><polyline points="1273.9,532.2 1275.4,536.2" stroke="#80ff7f"/><polyline points="1275.4,536.2 1275.6,536.4 1275.1,539.8 1276.2,543.4 1276.3,544.2 1277.3,546.7 1276.2,547.6 1276.9,549.8 1278.2,552 1278.4,556.6 1278.2,559.6" stroke="#80ff80"/><polyline points="1278.2,559.6 1278.6,560" stroke="#7eff81"/><polyline points="1278.6,560 1279.2,563.3" stroke="#7dff82"/><polyline points="1279.2,563.3 1277.6,564.2" stroke="#7bff84"/><polyline points="1277.6,564.2 1279.3,566.9" stroke="#7aff85"/><polyline points="1279.3,566.9 1279,569.3" stroke="#78ff87"/><polyline points="1279,569.3 1279,571.9" stroke="#77ff88"/></g>
<g fill="none" stroke-width="2.3" stroke-linejoin="round" stroke-linecap="round"><polyline points="1269.6,553.1 1271.6,552 1273.9,552.8 1276.9,551.3 1278.3,548.3 1281.3,549.5 1283.6,549.2 1284.8,545.4 1287.6,546.3 1288.2,545.4 1290.7,543.8 1293.4,542.4 1293.9,539.8 1296.6,539.6" stroke="#80ff80"/></g>
<g fill="none" stroke-width="2.3" stroke-linejoin="round" stroke-linecap="round"><polyline points="1218.5,542.3 1220.5,543" stroke="#6bff94"/><polyline points="1220.5,543 1221,546" stroke="#6aff95"/><polyline points="1221,546 1223.2,547.2" stroke="#68ff97"/><polyline points="1223.2,547.2 1224.3,549.4" stroke="#67ff98"/><polyline points="1224.3,549.4 1226.8,550.6" stroke="#65ff9a"/><polyline points="1226.8,550.6 1227.2,552.9" stroke="#64ff9b"/><polyline points="1227.2,552.9 1229.5,555.7" stroke="#62ff9d"/><polyline points="1229.5,555.7 1230.8,558.3" stroke="#61ff9e"/><polyline points="1230.8,558.3 1232,560.9" stroke="#60ff9f"/><polyline points="1232,560.9 1231.8,560.5" stroke="#5effa1"/><polyline points="1231.8,560.5 1234.1,564.9" stroke="#5dffa2"/><polyline points="1234.1,564.9 1234.6,565" stroke="#5cffa3"/><polyline points="1234.6,565 1235.5,568.9" stroke="#5bffa4"/><polyline points="1235.5,568.9 1235.9,569.1" stroke="#59ffa6"/><polyline points="1235.9,569.1 1237.3,571.9" stroke="#58ffa7"/></g>
<g fill="none" stroke-width="2.3" stroke-linejoin="round" stroke-linecap="round"><polyline points="1275.9,560 1275.2,561.8" stroke="#61ff9e"/><polyline points="1275.2,561.8 1276.6,565.9" stroke="#60ff9f"/><polyline points="1276.6,565.9 1276.2,567.1" stroke="#5fffa0"/><polyline points="1276.2,567.1 1275.3,570.2" stroke="#5effa1"/><polyline points="1275.3,570.2 1276.4,570.5" stroke="#5effa2"/><polyline points="1276.4,570.5 1276.6,573.3" stroke="#5dffa2"/><polyline points="1276.6,573.3 1275.2,575" stroke="#5cffa3"/><polyline points="1275.2,575 1276.2,577.7" stroke="#5bffa4"/><polyline points="1276.2,577.7 1275.2,579.2" stroke="#5affa5"/><polyline points="1275.2,579.2 1275.8,582.1" stroke="#59ffa6"/><polyline points="1275.8,582.1 1276.6,586.2 1275.3,585.8" stroke="#58ffa7"/><polyline points="1275.3,585.8 1276,588.8" stroke="#57ffa8"/><polyline points="1276,588.8 1277.2,592.6" stroke="#55ffaa"/><polyline points="1277.2,592.6 1278.5,593.8" stroke="#54ffab"/><polyline points="1278.5,593.8 1279.1,595.4" stroke="#53ffac"/><polyline points="1279.1,595.4 1279.8,597.1" stroke="#52ffad"/><polyline points="1279.8,597.1 1281.5,599.5" stroke="#50ffaf"/><polyline points="1281.5,599.5 1281.8,601.4" stroke="#4fffb0"/><polyline points="1281.8,601.4 1282.7,604" stroke="#4effb1"/></g>
<g fill="none" stroke-width="2.3" stroke-linejoin="round" stroke-linecap="round"><polyline points="1010.5,461.6 1013,462.6 1016.1,461.5 1017.2,460.2 1020.3,460.1 1022.2,460.6 1025.6,460.1 1026.7,461.8 1030.4,462.2 1032.5,459.8 1033.9,461.2" stroke="#1affe5"/><polyline points="1033.9,461.2 1037.2,461.3" stroke="#1bffe4"/><polyline points="1037.2,461.3 1039.3,460.1 1041,461.8" stroke="#1cffe3"/><polyline points="1041,461.8 1043.4,460.1" stroke="#1dffe2"/><polyline points="1043.4,460.1 1045.1,461 1047.6,461.3" stroke="#1effe1"/><polyline points="1047.6,461.3 1049.1,460" stroke="#1fffe0"/><polyline points="1049.1,460 1051.8,460.9 1054.9,460" stroke="#20ffdf"/><polyline points="1054.9,460 1056.1,459.5" stroke="#21ffde"/><polyline points="1056.1,459.5 1058.7,460.9 1061.5,460" stroke="#22ffdd"/><polyline points="1061.5,460 1063.2,459.5" stroke="#23ffdc"/></g>
<g fill="none" stroke-width="2.3" stroke-linejoin="round" stroke-linecap="round"><polyline points="1010.5,472.1 1013.1,471.9 1014,469.7" stroke="#1affe5"/><polyline points="1014,469.7 1016.2,469.9" stroke="#1bffe4"/><polyline points="1016.2,469.9 1019.1,468.9" stroke="#1cffe3"/><polyline points="1019.1,468.9 1021.2,468.1 1022.6,467.4" stroke="#1dffe2"/><polyline points="1022.6,467.4 1025.8,468.3" stroke="#1effe1"/><polyline points="1025.8,468.3 1028.2,466.6" stroke="#1fffe0"/><polyline points="1028.2,466.6 1029.1,465.7" stroke="#20ffdf"/><polyline points="1029.1,465.7 1032,466.3 1033.6,463.8" stroke="#21ffde"/><polyline points="1033.6,463.8 1036.4,463.2" stroke="#22ffdd"/><polyline points="1036.4,463.2 1037.5,462.8" stroke="#23ffdc"/><polyline points="1037.5,462.8 1040.4,463.3" stroke="#24ffdb"/><polyline points="1040.4,463.3 1043.4,463.8" stroke="#25ffda"/><polyline points="1043.4,463.8 1045,461.7 1047.6,463.1" stroke="#26ffd9"/><polyline points="1047.6,463.1 1048.9,462.1" stroke="#27ffd8"/><polyline points="1048.9,462.1 1051.4,463.2" stroke="#28ffd7"/><polyline points="1051.4,463.2 1054.3,462.3" stroke="#29ffd6"/><polyline points="1054.3,462.3 1056.4,460.8" stroke="#2affd5"/><polyline points="1056.4,460.8 1059.5,463.2" stroke="#2bffd4"/><polyline points="1059.5,463.2 1061.5,460.7" stroke="#2cffd3"/><polyline points="1061.5,460.7 1063.2,461.6" stroke="#2dffd2"/></g>
<g fill="none" stroke-width="2.3" stroke-linejoin="round" stroke-linecap="round"><polyline points="1010.5,486.8 1012.2,484.6" stroke="#24ffdb"/><polyline points="1012.2,484.6 1014.7,484.1" stroke="#25ffda"/><polyline points="1014.7,484.1 1016.2,484.3" stroke="#26ffd9"/><polyline points="1016.2,484.3 1018.3,481.4" stroke="#27ffd8"/><polyline points="1018.3,481.4 1020.7,481.3" stroke="#28ffd7"/><polyline points="1020.7,481.3 1022.4,481.2" stroke="#29ffd6"/><polyline points="1022.4,481.2 1024.9,480.5" stroke="#2affd5"/><polyline points="1024.9,480.5 1027.6,479.7" stroke="#2bffd4"/><polyline points="1027.6,479.7 1029.1,477" stroke="#2cffd3"/><polyline points="1029.1,477 1030.9,475.7" stroke="#2dffd2"/><polyline points="1030.9,475.7 1033,474" stroke="#2effd1"/><polyline points="1033,474 1035.2,474.2" stroke="#30ffcf"/><polyline points="1035.2,474.2 1037.1,472.3" stroke="#32ffcd"/><polyline points="1037.1,472.3 1039.4,472.2" stroke="#34ffcb"/><polyline points="1039.4,472.2 1042.1,470" stroke="#36ffc9"/></g>
<g fill="none" stroke-width="2.3" stroke-linejoin="round" stroke-linecap="round"><polyline points="1065,455 1066.7,454.7" stroke="#61ff9e"/><polyline points="1066.7,454.7 1068.1,451.8" stroke="#63ff9c"/><polyline points="1068.1,451.8 1070.2,450.5" stroke="#66ff99"/><polyline points="1070.2,450.5 1071.3,449.6" stroke="#69ff96"/><polyline points="1071.3,449.6 1074.1,451.4 1076.5,450.7 1080.2,450.8 1080.5,453.2" stroke="#6bff94"/><polyline points="1080.5,453.2 1081.1,457.9" stroke="#69ff96"/><polyline points="1081.1,457.9 1083,458.4" stroke="#66ff99"/><polyline points="1083,458.4 1084.5,461.4" stroke="#63ff9c"/><polyline points="1084.5,461.4 1082.6,462.6 1079.2,463.4 1077.6,464.5 1075.7,465.5 1073.4,463.4 1070,463.3 1068.6,461.8 1066,460" stroke="#61ff9e"/></g>
<g fill="none" stroke-width="2.6" stroke-linejoin="round" stroke-linecap="round"><polyline points="1010.5,493.2 1011.5,491.9" stroke="#e5ff1a"/><polyline points="1011.5,491.9 1013.6,490.8" stroke="#e8ff17"/><polyline points="1013.6,490.8 1013.7,489.1" stroke="#ebff14"/><polyline points="1013.7,489.1 1015.2,486.3" stroke="#edff12"/><polyline points="1015.2,486.3 1017.7,482.8" stroke="#f0ff0f"/><polyline points="1017.7,482.8 1018.7,481.4" stroke="#f2ff0d"/><polyline points="1018.7,481.4 1020,479.8" stroke="#f5ff0a"/><polyline points="1020,479.8 1020.7,479.9" stroke="#f7ff08"/><polyline points="1020.7,479.9 1023.1,477.5" stroke="#faff05"/><polyline points="1023.1,477.5 1023.1,474.2" stroke="#fdff02"/><polyline points="1023.1,474.2 1025.5,472.8" stroke="#fffd00"/><polyline points="1025.5,472.8 1026.9,472.6" stroke="#fffa00"/><polyline points="1026.9,472.6 1028.6,468.2" stroke="#fff700"/><polyline points="1028.6,468.2 1028.9,468.1" stroke="#fff300"/><polyline points="1028.9,468.1 1030.6,466" stroke="#fff000"/><polyline points="1030.6,466 1033.1,464.1" stroke="#ffeb00"/><polyline points="1033.1,464.1 1033.3,462.2" stroke="#ffe500"/><polyline points="1033.3,462.2 1036.1,460.4" stroke="#ffe000"/><polyline points="1036.1,460.4 1037.3,463.8 1036.7,466 1037.7,466.6 1039.6,470.2 1040.7,471.3 1040.7,474.4" stroke="#ffdb00"/><polyline points="1040.7,474.4 1042.3,478.1" stroke="#ffdf00"/><polyline points="1042.3,478.1 1042,479.7" stroke="#ffe200"/><polyline points="1042,479.7 1042.2,484" stroke="#ffe500"/><polyline points="1042.2,484 1044.3,486.2" stroke="#ffe700"/><polyline points="1044.3,486.2 1044.5,486.9" stroke="#ffe900"/><polyline points="1044.5,486.9 1045.2,490.1" stroke="#ffeb00"/><polyline points="1045.2,490.1 1045,490.4" stroke="#ffec00"/><polyline points="1045,490.4 1046.7,492.8" stroke="#ffee00"/><polyline points="1046.7,492.8 1047.6,493.5" stroke="#fff000"/><polyline points="1047.6,493.5 1049.9,497.6" stroke="#fff200"/><polyline points="1049.9,497.6 1052.2,496.5" stroke="#fff500"/><polyline points="1052.2,496.5 1055.2,498.3" stroke="#fff700"/><polyline points="1055.2,498.3 1057.7,502.2 1058.8,501.2 1060.3,502.5 1063.6,504.8 1066,507.7 1067,508.6 1067.6,508.6 1069.5,513.3 1070.1,513.5 1071.6,515.4 1071.1,517 1073.1,521 1075.3,522.8 1075.7,523.4 1077,525.2 1079.4,528.7 1082.7,528.7 1083.5,532.4 1086,534.2 1088.4,535 1090,532.2" stroke="#fffa00"/><polyline points="1090,532.2 1091.9,533.1" stroke="#fffc00"/><polyline points="1091.9,533.1 1093.4,529.2" stroke="#fffe00"/><polyline points="1093.4,529.2 1094.3,528.6" stroke="#feff01"/><polyline points="1094.3,528.6 1096.8,526.8" stroke="#fcff03"/></g>
<g fill="none" stroke-width="2.5" stroke-linejoin="round" stroke-linecap="round"><polyline points="1071.6,522.6 1071.1,525.8 1069.9,527.6 1069.9,528.3 1068,530.2 1068,533.2 1066.8,535.9 1066,538.8 1065.5,541.2 1066.2,543.5 1065.1,543.8 1064,545.6 1062.7,548.9 1063.5,551.9 1062.2,553.4 1061.6,556.3 1061.3,559.2 1058.5,559.2" stroke="#fffa00"/><polyline points="1058.5,559.2 1057.8,561.8" stroke="#faff05"/><polyline points="1057.8,561.8 1057.6,563.3" stroke="#f9ff06"/><polyline points="1057.6,563.3 1056.8,565.5" stroke="#f7ff08"/><polyline points="1056.8,565.5 1057.2,567.8" stroke="#f6ff09"/><polyline points="1057.2,567.8 1055.3,570" stroke="#f5ff0a"/><polyline points="1055.3,570 1054.9,573.2" stroke="#f4ff0b"/><polyline points="1054.9,573.2 1054.2,575.6" stroke="#f2ff0d"/><polyline points="1054.2,575.6 1054.2,577.2" stroke="#f1ff0e"/><polyline points="1054.2,577.2 1053.5,579.2" stroke="#f0ff0f"/><polyline points="1053.5,579.2 1053.7,580.6" stroke="#eeff11"/><polyline points="1053.7,580.6 1052.4,584.7" stroke="#edff12"/><polyline points="1052.4,584.7 1051.7,586.3" stroke="#ecff13"/><polyline points="1051.7,586.3 1051.2,588.5" stroke="#ebff14"/><polyline points="1051.2,588.5 1049.5,589.4" stroke="#e9ff16"/><polyline points="1049.5,589.4 1050.1,591.7" stroke="#e8ff17"/><polyline points="1050.1,591.7 1049.6,593" stroke="#e7ff18"/><polyline points="1049.6,593 1048.8,595.5" stroke="#e5ff1a"/><polyline points="1048.8,595.5 1047.7,597.5" stroke="#e4ff1b"/><polyline points="1047.7,597.5 1046.4,601.1" stroke="#e3ff1c"/><polyline points="1046.4,601.1 1046.8,601.7" stroke="#e1ff1e"/><polyline points="1046.8,601.7 1045.1,606.2" stroke="#e0ff1f"/><polyline points="1045.1,606.2 1044.8,607.1" stroke="#deff21"/><polyline points="1044.8,607.1 1043.8,609.5" stroke="#ddff22"/><polyline points="1043.8,609.5 1043.1,612.7" stroke="#dbff24"/><polyline points="1043.1,612.7 1041.9,614.9" stroke="#daff25"/><polyline points="1041.9,614.9 1041.2,616.8" stroke="#d8ff27"/><polyline points="1041.2,616.8 1041.7,618.9" stroke="#d7ff28"/><polyline points="1041.7,618.9 1041.1,618.6" stroke="#d5ff2a"/><polyline points="1041.1,618.6 1038.9,623.5" stroke="#d4ff2b"/><polyline points="1038.9,623.5 1037.9,625.3" stroke="#d3ff2c"/><polyline points="1037.9,625.3 1039.2,626.1 1038.8,629.7 1038,632" stroke="#d1ff2e"/></g>
<g fill="none" stroke-width="3.2" stroke-linejoin="round" stroke-linecap="round"><polyline points="984.6,501.2 984.7,498.5" stroke="#ff9e00"/><polyline points="984.7,498.5 984.4,496.5" stroke="#ff9a00"/><polyline points="984.4,496.5 985.5,494.5" stroke="#ff9600"/><polyline points="985.5,494.5 984.2,492.1" stroke="#ff9200"/><polyline points="984.2,492.1 985.1,489.8" stroke="#ff8e00"/><polyline points="985.1,489.8 985.1,488.4" stroke="#ff8a00"/><polyline points="985.1,488.4 987.8,484.4" stroke="#ff8300"/><polyline points="987.8,484.4 987.7,482.5" stroke="#ff7c00"/><polyline points="987.7,482.5 988.9,480.6" stroke="#ff7500"/><polyline points="988.9,480.6 989.6,478.6" stroke="#ff7100"/><polyline points="989.6,478.6 988.7,478.1" stroke="#ff6e00"/><polyline points="988.7,478.1 988.6,474.7" stroke="#ff6a00"/><polyline points="988.6,474.7 989.3,472.5" stroke="#ff6600"/><polyline points="989.3,472.5 989.8,469.8" stroke="#ff6200"/><polyline points="989.8,469.8 988.5,468.1" stroke="#ff5e00"/><polyline points="988.5,468.1 989.2,465.2" stroke="#ff5b00"/><polyline points="989.2,465.2 990.7,461.9" stroke="#ff5700"/><polyline points="990.7,461.9 989.9,459" stroke="#ff5300"/><polyline points="989.9,459 990.4,457.5" stroke="#ff4f00"/><polyline points="990.4,457.5 990.8,454.8" stroke="#ff4a00"/><polyline points="990.8,454.8 992.6,453.3" stroke="#ff4600"/><polyline points="992.6,453.3 992.7,451.2" stroke="#ff4200"/><polyline points="992.7,451.2 993.9,447.1" stroke="#ff3c00"/><polyline points="993.9,447.1 994.9,445.8" stroke="#ff3500"/><polyline points="994.9,445.8 995.3,442.8" stroke="#ff2e00"/><polyline points="995.3,442.8 996.6,440.4" stroke="#ff2700"/><polyline points="996.6,440.4 998.8,439.4" stroke="#ff2000"/><polyline points="998.8,439.4 998.8,437.2" stroke="#ff1a00"/><polyline points="998.8,437.2 999.3,435.4" stroke="#ff1600"/><polyline points="999.3,435.4 999.2,433.2" stroke="#ff1300"/><polyline points="999.2,433.2 998.8,429.2" stroke="#ff0f00"/><polyline points="998.8,429.2 999.4,429.8" stroke="#ff0c00"/><polyline points="999.4,429.8 998.4,425" stroke="#ff0800"/><polyline points="998.4,425 999,425.4" stroke="#ff0500"/><polyline points="999,425.4 999.1,422.2" stroke="#ff0400"/><polyline points="999.1,422.2 999.5,418.5" stroke="#ff0200"/><polyline points="999.5,418.5 999.8,417.3" stroke="#ff0100"/><polyline points="999.8,417.3 999.7,414.5" stroke="#fe0000"/><polyline points="999.7,414.5 1000.2,411.5" stroke="#fd0000"/><polyline points="1000.2,411.5 999.9,411.2" stroke="#fb0000"/><polyline points="999.9,411.2 1002.4,406" stroke="#fa0000"/><polyline points="1002.4,406 1003,411.2 1004.1,409.5" stroke="#f00000"/><polyline points="1004.1,409.5 1004.3,406.9" stroke="#ee0000"/><polyline points="1004.3,406.9 1004.8,403.7" stroke="#ed0000"/><polyline points="1004.8,403.7 1003.8,403.5" stroke="#eb0000"/><polyline points="1003.8,403.5 1003.7,398.7" stroke="#ea0000"/><polyline points="1003.7,398.7 1004.4,397" stroke="#e80000"/><polyline points="1004.4,397 1005.1,395.2" stroke="#e70000"/><polyline points="1005.1,395.2 1007,396.8 1006.3,397.4" stroke="#e50000"/><polyline points="1006.3,397.4 1007.1,400.7" stroke="#e80000"/><polyline points="1007.1,400.7 1007.2,401.4" stroke="#ea0000"/><polyline points="1007.2,401.4 1007.2,403.9" stroke="#ec0000"/><polyline points="1007.2,403.9 1007.4,406.6" stroke="#ee0000"/><polyline points="1007.4,406.6 1008.7,410.1" stroke="#f00000"/><polyline points="1008.7,410.1 1010,412.1" stroke="#f30000"/><polyline points="1010,412.1 1011.5,412.7" stroke="#f70000"/></g>
<g fill="none" stroke-width="3.2" stroke-linejoin="round" stroke-linecap="round"><polyline points="942.3,531.9 942.8,528.6" stroke="#ffc700"/><polyline points="942.8,528.6 944.2,526.7" stroke="#ffc400"/><polyline points="944.2,526.7 945.5,524" stroke="#ffc200"/><polyline points="945.5,524 946.2,522.8" stroke="#ffbf00"/><polyline points="946.2,522.8 948.4,521.1" stroke="#ffbd00"/><polyline points="948.4,521.1 949.5,519" stroke="#ffbb00"/><polyline points="949.5,519 950.1,517.6" stroke="#ffb900"/><polyline points="950.1,517.6 952.7,513.7" stroke="#ffb700"/><polyline points="952.7,513.7 954.7,512.7" stroke="#ffb500"/><polyline points="954.7,512.7 954.4,509.1" stroke="#ffb300"/><polyline points="954.4,509.1 955.5,508.4" stroke="#ffb100"/><polyline points="955.5,508.4 955.4,504.8" stroke="#ffaf00"/><polyline points="955.4,504.8 956.8,502.8" stroke="#ffad00"/><polyline points="956.8,502.8 956.2,502.6" stroke="#ffac00"/><polyline points="956.2,502.6 957,500.6" stroke="#ffaa00"/><polyline points="957,500.6 958.8,496.5 960.5,495 961.3,494.8 964.1,496.3 965.3,497.7 969.1,499 969,496.5" stroke="#ffa800"/><polyline points="969,496.5 969.2,494.4" stroke="#ffa500"/><polyline points="969.2,494.4 968.1,493.8" stroke="#ffa200"/><polyline points="968.1,493.8 968.6,490.7" stroke="#ff9f00"/><polyline points="968.6,490.7 968.9,488.1" stroke="#ff9c00"/><polyline points="968.9,488.1 969,484.3" stroke="#ff9900"/><polyline points="969,484.3 969,481.8" stroke="#ff9600"/><polyline points="969,481.8 970.6,481.3" stroke="#ff9300"/><polyline points="970.6,481.3 970.6,477.5" stroke="#ff9000"/><polyline points="970.6,477.5 969.3,474.7" stroke="#ff8d00"/><polyline points="969.3,474.7 971.4,473.5" stroke="#ff8a00"/><polyline points="971.4,473.5 973.2,473.7" stroke="#ff8000"/><polyline points="973.2,473.7 974.2,470.8" stroke="#ff7500"/><polyline points="974.2,470.8 975.7,465.7" stroke="#ff6e00"/><polyline points="975.7,465.7 977.6,464.3" stroke="#ff6800"/><polyline points="977.6,464.3 976.3,462.9" stroke="#ff6100"/><polyline points="976.3,462.9 977.3,458.9" stroke="#ff5c00"/><polyline points="977.3,458.9 977.2,458" stroke="#ff5800"/><polyline points="977.2,458 977.6,455.8" stroke="#ff5300"/><polyline points="977.6,455.8 976.7,451.9" stroke="#ff4f00"/><polyline points="976.7,451.9 977.3,449.7" stroke="#ff4a00"/><polyline points="977.3,449.7 977.3,448.7" stroke="#ff4600"/><polyline points="977.3,448.7 978.4,446.6" stroke="#ff4100"/><polyline points="978.4,446.6 978.4,444" stroke="#ff3d00"/><polyline points="978.4,444 979,444.2 980.2,446.8 980.5,450.2" stroke="#ff3800"/><polyline points="980.5,450.2 980.8,453" stroke="#ff3c00"/><polyline points="980.8,453 981.7,455" stroke="#ff3f00"/></g>
<g fill="none" stroke-width="2.7" stroke-linejoin="round" stroke-linecap="round"><polyline points="857.7,580 858.6,577.7" stroke="#faff05"/><polyline points="858.6,577.7 858,576.5" stroke="#fbff04"/><polyline points="858,576.5 859.9,571.5" stroke="#fcff03"/><polyline points="859.9,571.5 860.4,569.9" stroke="#feff01"/><polyline points="860.4,569.9 859.3,566.8" stroke="#ffff00"/><polyline points="859.3,566.8 861,566.3" stroke="#fffe00"/><polyline points="861,566.3 861.6,563.6" stroke="#fffc00"/><polyline points="861.6,563.6 860.9,562.2" stroke="#fffb00"/><polyline points="860.9,562.2 862.7,557.7" stroke="#fffa00"/><polyline points="862.7,557.7 863,557.4" stroke="#fff900"/><polyline points="863,557.4 862.9,555.4" stroke="#fff800"/><polyline points="862.9,555.4 864.3,551" stroke="#fff700"/><polyline points="864.3,551 865.2,549.3" stroke="#fff500"/><polyline points="865.2,549.3 865,547.9" stroke="#fff400"/><polyline points="865,547.9 866.6,544.6" stroke="#fff300"/><polyline points="866.6,544.6 865.9,542.8" stroke="#fff200"/><polyline points="865.9,542.8 867.7,540.6" stroke="#fff100"/><polyline points="867.7,540.6 868.4,538.4" stroke="#fff000"/><polyline points="868.4,538.4 868.8,535.7" stroke="#ffee00"/><polyline points="868.8,535.7 869.5,535.6" stroke="#ffed00"/><polyline points="869.5,535.6 871.3,533.8" stroke="#ffeb00"/><polyline points="871.3,533.8 872,530.4" stroke="#ffea00"/><polyline points="872,530.4 871.9,528.8" stroke="#ffe800"/><polyline points="871.9,528.8 873.1,525.4" stroke="#ffe700"/><polyline points="873.1,525.4 874.7,523.7" stroke="#ffe500"/><polyline points="874.7,523.7 874.5,521.8" stroke="#ffe400"/><polyline points="874.5,521.8 876.3,520.5" stroke="#ffe300"/><polyline points="876.3,520.5 877.5,518.3" stroke="#ffe200"/><polyline points="877.5,518.3 878,516.8" stroke="#ffe100"/><polyline points="878,516.8 879.6,513.3" stroke="#ffe000"/><polyline points="879.6,513.3 881.4,511.8" stroke="#ffdf00"/><polyline points="881.4,511.8 882.4,510.9" stroke="#ffde00"/><polyline points="882.4,510.9 882.3,509" stroke="#ffdc00"/><polyline points="882.3,509 883.7,506.9" stroke="#ffdb00"/><polyline points="883.7,506.9 884.8,503.7" stroke="#ffd900"/><polyline points="884.8,503.7 885.4,502.4" stroke="#ffd700"/><polyline points="885.4,502.4 887,500.1" stroke="#ffd500"/><polyline points="887,500.1 889.2,499.7" stroke="#ffd300"/><polyline points="889.2,499.7 889.3,498 890.1,495.5 892.1,493.3 893.1,493 894.8,489.6 896.6,489.3 900.3,488.9 901.1,490.4 902.9,493.4 903.2,495.4 904,496.4 904.9,498.7 906.2,501.7 907.2,502.5 910.7,502.7 913.6,504.1 915.2,499.7" stroke="#ffd100"/><polyline points="915.2,499.7 915.6,500.1" stroke="#ffd000"/><polyline points="915.6,500.1 916.4,496.3" stroke="#ffcf00"/><polyline points="916.4,496.3 918,494.6" stroke="#ffcd00"/><polyline points="918,494.6 918.8,493.6" stroke="#ffcc00"/><polyline points="918.8,493.6 920.1,491.9" stroke="#ffcb00"/><polyline points="920.1,491.9 922.3,490.1" stroke="#ffc900"/><polyline points="922.3,490.1 923.7,488.3" stroke="#ffc800"/><polyline points="923.7,488.3 923.7,485.1 926.5,483.6 926.9,480.6 928.2,479.4 930.2,479.4 930.1,474.8 933.1,473.3" stroke="#ffc700"/><polyline points="933.1,473.3 934.2,472.8" stroke="#ffc400"/><polyline points="934.2,472.8 935.8,470.9" stroke="#ffc200"/><polyline points="935.8,470.9 938.5,470.3" stroke="#ffbf00"/><polyline points="938.5,470.3 940.2,470.4 943.7,473.9 946.8,474.4 948.4,475.7 950.5,476.8 953.5,477 956.3,477.9 957.4,479.3 959.1,482.1 961.5,483.5 964.2,485.3 965.4,484.4 966.9,487.2 968,490" stroke="#ffbd00"/></g>
<g fill="none" stroke-width="2.7" stroke-linejoin="round" stroke-linecap="round"><polyline points="913.5,503 916.5,505.3 917.6,505 921.4,505.5 923.2,505.5 924.2,507.8 927.2,510.3 928.5,512.3 931.6,512.7 932.5,515 934.1,518 935.5,518.4 936.9,520.2 937.3,524.9 938.5,525.9 941,528.6 941.9,531.6 942.3,533.8" stroke="#ffd100"/></g>
<g fill="none" stroke-width="2.4" stroke-linejoin="round" stroke-linecap="round"><polyline points="838.5,511.3 839.7,510.7" stroke="#4dffb3"/><polyline points="839.7,510.7 842.8,506.2" stroke="#4fffb0"/><polyline points="842.8,506.2 843.6,506.8" stroke="#52ffad"/><polyline points="843.6,506.8 845.7,505.4" stroke="#54ffab"/><polyline points="845.7,505.4 848.3,503.3" stroke="#57ffa8"/><polyline points="848.3,503.3 849.7,500.8" stroke="#5affa5"/><polyline points="849.7,500.8 851.5,501.3" stroke="#5effa2"/><polyline points="851.5,501.3 853.2,499.3" stroke="#61ff9e"/><polyline points="853.2,499.3 855.2,497.4" stroke="#64ff9b"/><polyline points="855.2,497.4 856.4,494.5" stroke="#68ff97"/><polyline points="856.4,494.5 859.1,494.3" stroke="#6bff94"/><polyline points="859.1,494.3 860,492.8" stroke="#6dff92"/><polyline points="860,492.8 862.7,491.2" stroke="#6fff90"/><polyline points="862.7,491.2 864.1,489.4" stroke="#71ff8e"/><polyline points="864.1,489.4 866.8,487.8" stroke="#73ff8c"/><polyline points="866.8,487.8 868.6,484.2" stroke="#75ff8a"/><polyline points="868.6,484.2 869.9,484.4" stroke="#77ff88"/><polyline points="869.9,484.4 871.1,480.5" stroke="#79ff86"/><polyline points="871.1,480.5 871.5,480.4" stroke="#7aff85"/><polyline points="871.5,480.4 874.6,476.7" stroke="#7cff83"/><polyline points="874.6,476.7 876,476.4" stroke="#7eff81"/><polyline points="876,476.4 876.1,475.6 879.4,472.6 880.2,469.3 880.9,467.8 882.6,467.3 885.5,465.4 887.2,462.6" stroke="#80ff80"/><polyline points="887.2,462.6 890,460.8" stroke="#82ff7d"/><polyline points="890,460.8 892.4,459.5" stroke="#85ff7a"/><polyline points="892.4,459.5 894.7,460.8" stroke="#87ff78"/><polyline points="894.7,460.8 896.6,457.2" stroke="#8aff75"/><polyline points="896.6,457.2 897.3,455.9" stroke="#8cff73"/><polyline points="897.3,455.9 899.6,453.6" stroke="#8eff71"/><polyline points="899.6,453.6 900.7,452.8" stroke="#90ff6f"/><polyline points="900.7,452.8 902.4,452.3" stroke="#92ff6d"/><polyline points="902.4,452.3 905,449.1 908,448.5 908.8,447.5 910.9,446.1 913.4,444.8 915.7,442.8 917.2,442 920.4,439.9 922.5,439.8" stroke="#94ff6b"/><polyline points="922.5,439.8 923.6,439.3" stroke="#95ff6a"/><polyline points="923.6,439.3 927.4,438.1" stroke="#96ff69"/><polyline points="927.4,438.1 929.3,439.6" stroke="#98ff67"/><polyline points="929.3,439.6 930.7,438.4" stroke="#99ff66"/><polyline points="930.7,438.4 933.5,437" stroke="#9aff65"/><polyline points="933.5,437 936.5,435" stroke="#9cff63"/><polyline points="936.5,435 939.1,436.9" stroke="#9dff62"/><polyline points="939.1,436.9 940.4,437.6 943.2,439.2 946.1,438.8 948.9,441.8 949.6,443.9 951.6,443.1 953.7,445.5 956.1,447.6 957.6,449.5 959.5,448.6 962.7,447.7 965,445.8 968.4,448.2 970.7,447.2 973.8,448.9 977,449.2" stroke="#9eff61"/></g>
<g fill="none" stroke-width="2.4" stroke-linejoin="round" stroke-linecap="round"><polyline points="847.7,543.6 849,540.6" stroke="#94ff6b"/><polyline points="849,540.6 850,537.8" stroke="#97ff68"/><polyline points="850,537.8 852.2,534.8" stroke="#9bff64"/><polyline points="852.2,534.8 853.4,532.9" stroke="#9eff61"/><polyline points="853.4,532.9 853.9,532" stroke="#a0ff5f"/><polyline points="853.9,532 854.8,530.8" stroke="#a2ff5e"/><polyline points="854.8,530.8 856.1,526.8" stroke="#a3ff5c"/><polyline points="856.1,526.8 857.4,526.2" stroke="#a5ff5a"/><polyline points="857.4,526.2 859.3,523.6" stroke="#a7ff58"/><polyline points="859.3,523.6 861.5,526 864.3,525.1 866.5,526 867.2,524.6" stroke="#a8ff57"/><polyline points="867.2,524.6 867.6,523" stroke="#abff54"/><polyline points="867.6,523 868.5,520.4" stroke="#adff52"/><polyline points="868.5,520.4 869.4,516.8" stroke="#b0ff4f"/><polyline points="869.4,516.8 871,514.7" stroke="#b3ff4c"/><polyline points="871,514.7 872.6,511.7" stroke="#b5ff4a"/><polyline points="872.6,511.7 873.6,511.2" stroke="#b8ff47"/><polyline points="873.6,511.2 875.9,508.1" stroke="#baff45"/><polyline points="875.9,508.1 876,505.5" stroke="#bdff42"/><polyline points="876,505.5 876.4,504" stroke="#beff41"/><polyline points="876.4,504 877.4,501" stroke="#c0ff3f"/><polyline points="877.4,501 877.7,498.5" stroke="#c2ff3d"/><polyline points="877.7,498.5 879.1,496.6" stroke="#c3ff3c"/><polyline points="879.1,496.6 878.6,495" stroke="#c5ff3a"/><polyline points="878.6,495 879.9,492.4" stroke="#c7ff38"/><polyline points="879.9,492.4 882.3,491.5" stroke="#c9ff36"/><polyline points="882.3,491.5 882.9,487.9" stroke="#ccff33"/><polyline points="882.9,487.9 884.7,486" stroke="#cfff30"/><polyline points="884.7,486 886.7,483" stroke="#d1ff2e"/><polyline points="886.7,483 888.8,484.4" stroke="#d4ff2b"/><polyline points="888.8,484.4 889.8,482.7" stroke="#d8ff27"/><polyline points="889.8,482.7 890.5,479.2" stroke="#dbff24"/><polyline points="890.5,479.2 891.9,477.3" stroke="#ddff22"/><polyline points="891.9,477.3 892.1,473.5" stroke="#dfff20"/><polyline points="892.1,473.5 893.7,473.2" stroke="#e1ff1e"/><polyline points="893.7,473.2 894.1,469.1" stroke="#e3ff1c"/><polyline points="894.1,469.1 895.7,467.9" stroke="#e5ff1a"/></g>
<g fill="none" stroke-width="2.4" stroke-linejoin="round" stroke-linecap="round"><polyline points="946.2,439.6 947.9,439.6 950.8,442.4 952,445.3 952.9,445.6 954.4,447.6" stroke="#9eff61"/><polyline points="954.4,447.6 955.8,448.3" stroke="#9cff63"/><polyline points="955.8,448.3 957,450.4" stroke="#9aff65"/><polyline points="957,450.4 959.5,453.9" stroke="#98ff67"/><polyline points="959.5,453.9 959.5,455.2" stroke="#96ff69"/><polyline points="959.5,455.2 960.9,458 962.1,457.6 964,460.3 965,461.6 965,463.6 966.5,465.3 967.3,468.5 969.2,470.4" stroke="#94ff6b"/></g>
<g fill="none" stroke-width="2.6" stroke-linejoin="round" stroke-linecap="round"><polyline points="875,560 874.9,559" stroke="#e5ff1a"/><polyline points="874.9,559 875.3,556.3" stroke="#e6ff19"/><polyline points="875.3,556.3 875.5,554.4" stroke="#e7ff18"/><polyline points="875.5,554.4 875.4,550.1" stroke="#e8ff17"/><polyline points="875.4,550.1 877.1,549.5 877,546.1" stroke="#e9ff16"/><polyline points="877,546.1 876.9,543.5" stroke="#eaff15"/><polyline points="876.9,543.5 876.8,541.2" stroke="#ebff14"/><polyline points="876.8,541.2 876.8,539.3" stroke="#ecff13"/><polyline points="876.8,539.3 877.9,537.5 877.7,534.5" stroke="#edff12"/><polyline points="877.7,534.5 877.8,531.7" stroke="#eeff11"/><polyline points="877.8,531.7 878.1,528.8" stroke="#efff10"/><polyline points="878.1,528.8 878.6,526.8" stroke="#f0ff0f"/><polyline points="878.6,526.8 879.4,526.2" stroke="#f1ff0e"/><polyline points="879.4,526.2 880.1,523.2" stroke="#f2ff0d"/><polyline points="880.1,523.2 879.9,521.8" stroke="#f3ff0c"/><polyline points="879.9,521.8 880.9,517.4" stroke="#f4ff0b"/><polyline points="880.9,517.4 881.1,515.7" stroke="#f5ff0a"/><polyline points="881.1,515.7 881.2,513.9" stroke="#f7ff08"/><polyline points="881.2,513.9 881.4,512.1" stroke="#f8ff07"/><polyline points="881.4,512.1 882.4,509.2" stroke="#f9ff06"/><polyline points="882.4,509.2 882.1,508.8 883.9,505.7 884.2,502.8 884.7,502 886,499.2 886.2,494.6 886.9,492.7" stroke="#faff05"/><polyline points="886.9,492.7 887,491.9" stroke="#fbff04"/><polyline points="887,491.9 887.5,489.2" stroke="#fcff03"/><polyline points="887.5,489.2 887.2,486.8" stroke="#feff01"/><polyline points="887.2,486.8 887.8,485" stroke="#ffff00"/><polyline points="887.8,485 889,483.5" stroke="#fffe00"/><polyline points="889,483.5 889.5,480.7" stroke="#fffc00"/><polyline points="889.5,480.7 890.8,479.5" stroke="#fffb00"/><polyline points="890.8,479.5 891.1,474.9 893.4,474.3 894.3,471.4 895.4,470 898.2,470.5 899.5,472.3 900.7,473.2 903.5,475.9 904,478.5 906.5,480.2 906.9,481.8 907.8,483.2" stroke="#fffa00"/><polyline points="907.8,483.2 909.6,485.2" stroke="#fffc00"/><polyline points="909.6,485.2 910.1,488.2" stroke="#ffff00"/><polyline points="910.1,488.2 911.8,490.6" stroke="#fcff03"/><polyline points="911.8,490.6 910.9,493.4 912.4,494.1 912.5,498.1 914.7,500.6 914.5,501.1 915.1,504.7 916.6,508.5 918,510" stroke="#faff05"/></g>
<g fill="none" stroke-width="2.5" stroke-linejoin="round" stroke-linecap="round"><polyline points="1046,494.8 1048.7,495.4 1050.7,497.2 1052.1,498.6 1054.8,499.5 1057.4,499.4 1059.3,500.7 1061.5,504 1061.8,505 1064.2,503.8 1065.8,507.2 1068.8,507.8 1068.9,511.2 1069,513.1 1070.3,514.4 1070.1,516.1 1072,519.2 1071.8,523.6 1073.2,523.9 1074.8,525 1077.5,527 1079.8,528 1081.5,528 1083.6,531.6 1086.4,531.6 1087.9,533.3 1090.1,533.1 1093.1,531.4 1094,530 1096,528" stroke="#faff05"/></g>
<g fill="none" stroke-width="2.4" stroke-linejoin="round" stroke-linecap="round"><polyline points="880,576 883,578.6 885.2,580.2 886,581.8 888.4,580.5 889.9,580.7" stroke="#bdff42"/><polyline points="889.9,580.7 891.9,578" stroke="#beff41"/><polyline points="891.9,578 892.9,576.9" stroke="#c0ff3f"/><polyline points="892.9,576.9 896.1,576" stroke="#c2ff3d"/><polyline points="896.1,576 896.7,574.8" stroke="#c3ff3c"/><polyline points="896.7,574.8 897.7,572" stroke="#c5ff3a"/><polyline points="897.7,572 901.3,573.7 902.3,573.6 905.2,574.7 907.7,576.9 908.1,579.2 908.6,582.1 907.7,583.1 904.8,583.6 903.8,585.5 902.7,589.6" stroke="#c7ff38"/><polyline points="902.7,589.6 902.2,592.1" stroke="#c5ff3a"/><polyline points="902.2,592.1 900,593.6" stroke="#c3ff3c"/><polyline points="900,593.6 900.4,595.2" stroke="#c1ff3e"/><polyline points="900.4,595.2 899.3,599.3" stroke="#bfff40"/><polyline points="899.3,599.3 897.8,600.7 895.9,602.2 896.6,606.4 894,608.1 893.6,605 892.3,602.6 891.5,602 889.7,599 886.7,600.5 884.8,601.3 882.7,602.7 880,605.5" stroke="#bdff42"/></g>
<g fill="none" stroke-width="2.4" stroke-linejoin="round" stroke-linecap="round"><polyline points="880,627.7 882,625.5 885,624.9 886.7,625 889.1,621.3 891.1,621.2 892.3,618.2 894.5,616.8 895,620.1 896,620.1 896.5,624.6 898,625 898.5,627.7" stroke="#bdff42"/></g>
<g fill="none" stroke-width="2.7" stroke-linejoin="round" stroke-linecap="round"><polyline points="918.8,555.7 918.3,553.2" stroke="#ffb300"/><polyline points="918.3,553.2 918.7,550.5" stroke="#ffb100"/><polyline points="918.7,550.5 920,548.1" stroke="#ffb000"/><polyline points="920,548.1 919.2,547.5" stroke="#ffaf00"/><polyline points="919.2,547.5 920.6,543.3" stroke="#ffad00"/><polyline points="920.6,543.3 919.8,540.5" stroke="#ffac00"/><polyline points="919.8,540.5 920.9,539.2" stroke="#ffab00"/><polyline points="920.9,539.2 920.4,538.4" stroke="#ffaa00"/><polyline points="920.4,538.4 922.1,538.8" stroke="#ffa800"/><polyline points="922.1,538.8 922.4,542.8" stroke="#ffac00"/><polyline points="922.4,542.8 925,545.6" stroke="#ffaf00"/><polyline points="925,545.6 924.7,540.9" stroke="#ffb300"/><polyline points="924.7,540.9 926.3,541" stroke="#ffb000"/><polyline points="926.3,541 926.3,537.2" stroke="#ffad00"/><polyline points="926.3,537.2 927.9,534.7" stroke="#ffab00"/><polyline points="927.9,534.7 928.6,538.5" stroke="#ffa800"/><polyline points="928.6,538.5 930.3,539.8" stroke="#ffab00"/><polyline points="930.3,539.8 932,541.7" stroke="#ffad00"/><polyline points="932,541.7 933.5,542.8" stroke="#ffb000"/></g>
<g fill="none" stroke-width="2.6" stroke-linejoin="round" stroke-linecap="round"><polyline points="913.2,565 912.6,567.4" stroke="#ffdb00"/><polyline points="912.6,567.4 911.1,568.6" stroke="#ffe200"/><polyline points="911.1,568.6 910.7,572.6" stroke="#ffe900"/><polyline points="910.7,572.6 911.3,574.8" stroke="#fff000"/><polyline points="911.3,574.8 909.8,576.1" stroke="#fff700"/><polyline points="909.8,576.1 909.5,579.7" stroke="#fffd00"/></g>
<g fill="none" stroke-width="2.6" stroke-linejoin="round" stroke-linecap="round"><polyline points="880,522.5 881.2,519.5" stroke="#fff000"/><polyline points="881.2,519.5 880.4,517.3" stroke="#ffee00"/><polyline points="880.4,517.3 882.4,516.7" stroke="#ffed00"/><polyline points="882.4,516.7 883.2,514.1" stroke="#ffeb00"/><polyline points="883.2,514.1 882.4,510.1" stroke="#ffea00"/><polyline points="882.4,510.1 882.7,507.4" stroke="#ffe800"/><polyline points="882.7,507.4 883.9,506.2" stroke="#ffe700"/><polyline points="883.9,506.2 884.2,503.3" stroke="#ffe500"/><polyline points="884.2,503.3 885.7,501.6" stroke="#ffe300"/><polyline points="885.7,501.6 887,499.6" stroke="#ffe100"/><polyline points="887,499.6 887.6,496.7" stroke="#ffdf00"/><polyline points="887.6,496.7 888.4,494.6" stroke="#ffdd00"/><polyline points="888.4,494.6 890.2,492.2 890.7,492.6 892.5,490.3 895.2,490.3 896.5,491.5 899.2,489.9 900.6,493.1 902.9,491.9 904.4,493.1 906.8,496.2 909.4,498.7 911.5,499.1 912.1,501.9 914.3,501.7 915.7,499.3" stroke="#ffdb00"/><polyline points="915.7,499.3 918.2,497.4" stroke="#ffd900"/><polyline points="918.2,497.4 919.4,495.3" stroke="#ffd600"/><polyline points="919.4,495.3 919.5,492.6" stroke="#ffd400"/><polyline points="919.5,492.6 921.8,491.2 923.2,489.1 923.6,487.5 925.6,486.2 926,483.7" stroke="#ffd100"/></g>
<g fill="none" stroke-width="2.6" stroke-linejoin="round" stroke-linecap="round"><polyline points="917,500.3 918.5,502.9 921,502.6 922.8,505.4 923.9,505.4 925.8,507.5 927.1,509.7 929.2,512.4 931.1,512.5 934,515.1 934.8,517.9 935.7,519.9 937.7,521.4 937.9,522.9 940.5,525.4 940.2,528.5 942.4,530.6 942,532.5 943.8,530" stroke="#ffdb00"/><polyline points="943.8,530 944.5,529.1" stroke="#ffda00"/><polyline points="944.5,529.1 946.3,525.3" stroke="#ffd800"/><polyline points="946.3,525.3 948.4,525.2" stroke="#ffd600"/><polyline points="948.4,525.2 949.8,521.6" stroke="#ffd400"/><polyline points="949.8,521.6 949.6,519.3" stroke="#ffd300"/><polyline points="949.6,519.3 951.2,517.3" stroke="#ffd100"/><polyline points="951.2,517.3 952.2,517.7" stroke="#ffcf00"/><polyline points="952.2,517.7 953.9,514.3" stroke="#ffce00"/><polyline points="953.9,514.3 954.4,513" stroke="#ffcc00"/><polyline points="954.4,513 955.6,511.1" stroke="#ffca00"/><polyline points="955.6,511.1 957.3,510.2" stroke="#ffc900"/><polyline points="957.3,510.2 957.4,507.7" stroke="#ffc700"/><polyline points="957.4,507.7 958.8,504.5" stroke="#ffc500"/><polyline points="958.8,504.5 960.2,501.7" stroke="#ffc300"/><polyline points="960.2,501.7 959.1,499.5" stroke="#ffc200"/><polyline points="959.1,499.5 960.6,498.7" stroke="#ffc000"/><polyline points="960.6,498.7 961.3,494.2" stroke="#ffbe00"/><polyline points="961.3,494.2 963.9,495.1" stroke="#ffbd00"/><polyline points="963.9,495.1 965.6,497.5" stroke="#ffb900"/><polyline points="965.6,497.5 968.6,498.5" stroke="#ffb600"/></g>
<g fill="none" stroke-width="2.6" stroke-linejoin="round" stroke-linecap="round"><polyline points="1013,504 1013.9,507.5 1015.3,509.3 1018.7,508.7 1020.3,511.4" stroke="#ffd100"/></g>
<g fill="none" stroke-width="2.5" stroke-linejoin="round" stroke-linecap="round"><polyline points="983.4,553.8 984.8,554.7 988.5,554 990.2,555.2 991.6,557.3 995,557.8 996.1,558.8 998,561.6 1000.4,563.5 1002.3,561.3 1002.6,558.2 1004,561.8 1003.2,564.6 1002.9,566.8 1003.7,568.6" stroke="#faff05"/></g>
<g fill="none" stroke-width="2.4" stroke-linejoin="round" stroke-linecap="round"><polyline points="1020.3,572.3 1020.9,574.2 1022.4,575.7 1023.2,577 1024.7,579.1 1026.5,580.6 1027,583.3 1028.1,584.6 1030.4,586 1031.8,589 1033.4,588.5 1033.5,586.3 1034.8,584.5 1035.9,581.7 1037,580.8 1038.8,577.8" stroke="#c7ff38"/></g>
<g fill="none" stroke-width="2.4" stroke-linejoin="round" stroke-linecap="round"><polyline points="935.4,583.4 937.9,585.4 939.8,585.6 940.9,587.7 942.8,590.2 942.8,593.8" stroke="#c7ff38"/><polyline points="942.8,593.8 944.4,594.5" stroke="#c6ff39"/><polyline points="944.4,594.5 944.3,596.3" stroke="#c4ff3b"/><polyline points="944.3,596.3 946,598.9" stroke="#c3ff3c"/><polyline points="946,598.9 946.9,602.5" stroke="#c2ff3d"/><polyline points="946.9,602.5 947.4,604.3" stroke="#c1ff3e"/><polyline points="947.4,604.3 948.1,606.6" stroke="#bfff40"/><polyline points="948.1,606.6 948.8,610.3" stroke="#beff41"/><polyline points="948.8,610.3 948.2,610.7" stroke="#bdff42"/><polyline points="948.2,610.7 949.8,612.4" stroke="#bbff44"/><polyline points="949.8,612.4 949.3,617.1" stroke="#baff45"/><polyline points="949.3,617.1 949.5,618.6" stroke="#b9ff46"/><polyline points="949.5,618.6 950.6,619.8" stroke="#b8ff47"/><polyline points="950.6,619.8 950.6,623.6" stroke="#b6ff49"/><polyline points="950.6,623.6 952.3,624" stroke="#b5ff4a"/><polyline points="952.3,624 952.8,626.7" stroke="#b4ff4b"/><polyline points="952.8,626.7 952.1,628.9" stroke="#b3ff4c"/><polyline points="952.1,628.9 953.3,632" stroke="#b0ff4f"/><polyline points="953.3,632 952.5,635.4" stroke="#aeff51"/><polyline points="952.5,635.4 953.3,636.9" stroke="#acff53"/><polyline points="953.3,636.9 954.6,639.1" stroke="#aaff55"/><polyline points="954.6,639.1 953.4,641.6" stroke="#a8ff57"/><polyline points="953.4,641.6 954.6,643.1" stroke="#a6ff59"/><polyline points="954.6,643.1 955.5,644.5" stroke="#a4ff5b"/><polyline points="955.5,644.5 954.8,648.1" stroke="#a2ff5d"/><polyline points="954.8,648.1 956,650.3" stroke="#a0ff5f"/><polyline points="956,650.3 955.8,651.6" stroke="#9eff61"/><polyline points="955.8,651.6 956.2,655" stroke="#9bff64"/><polyline points="956.2,655 956.1,656.7" stroke="#97ff68"/><polyline points="956.1,656.7 957.5,658.6" stroke="#94ff6b"/><polyline points="957.5,658.6 957.5,661.4" stroke="#91ff6e"/><polyline points="957.5,661.4 957.6,665.3" stroke="#8dff72"/><polyline points="957.6,665.3 957.2,668.2" stroke="#8aff75"/><polyline points="957.2,668.2 957.9,668.9" stroke="#87ff78"/><polyline points="957.9,668.9 957.7,671.6" stroke="#85ff7a"/><polyline points="957.7,671.6 958.9,673.2" stroke="#82ff7d"/><polyline points="958.9,673.2 959,675" stroke="#80ff80"/><polyline points="959,675 958.3,677.5" stroke="#7dff82"/><polyline points="958.3,677.5 959,679.5" stroke="#7aff85"/><polyline points="959,679.5 960.1,682.5" stroke="#78ff87"/><polyline points="960.1,682.5 959.8,684.1" stroke="#75ff8a"/><polyline points="959.8,684.1 960.6,686.2" stroke="#73ff8c"/><polyline points="960.6,686.2 959.1,690.5" stroke="#71ff8e"/><polyline points="959.1,690.5 959.5,693.2" stroke="#6fff90"/><polyline points="959.5,693.2 960.6,693.5" stroke="#6dff92"/><polyline points="960.6,693.5 960.5,695.8" stroke="#6bff94"/><polyline points="960.5,695.8 961.3,698.9" stroke="#69ff96"/><polyline points="961.3,698.9 960.8,700.2" stroke="#67ff98"/><polyline points="960.8,700.2 961.4,703.7" stroke="#65ff9a"/><polyline points="961.4,703.7 961.2,705.2" stroke="#63ff9c"/></g>
<g fill="none" stroke-width="2.4" stroke-linejoin="round" stroke-linecap="round"><polyline points="935.4,638.8 938.4,641.1 939,642.5 941.7,641.9 944.3,643.1 945.2,644.8 948.7,645" stroke="#a8ff57"/><polyline points="948.7,645 950.1,646" stroke="#a6ff59"/><polyline points="950.1,646 952.5,647.3" stroke="#a3ff5c"/><polyline points="952.5,647.3 955.7,649.8" stroke="#a1ff5e"/></g>
<g fill="none" stroke-width="2.4" stroke-linejoin="round" stroke-linecap="round"><polyline points="902.2,653.5 904.7,651.6 906.6,651.3 909.1,651.9 911.4,649.7 914,648.9 916.3,650.1 918.9,648.8 921.3,648.6 923.2,648.7 925.3,648.1 928,646.2" stroke="#9eff61"/></g>
<g fill="none" stroke-width="2.4" stroke-linejoin="round" stroke-linecap="round"><polyline points="983.4,612.9 985.7,613.2 987.6,614.4 988.2,616.6 990.6,618.9 991.1,617" stroke="#bdff42"/><polyline points="991.1,617 992.6,614.8" stroke="#beff41"/><polyline points="992.6,614.8 991.5,611.2" stroke="#bfff40"/><polyline points="991.5,611.2 992.1,610.6" stroke="#c1ff3e"/><polyline points="992.1,610.6 994,605.6" stroke="#c2ff3d"/><polyline points="994,605.6 994.4,605.9" stroke="#c3ff3c"/><polyline points="994.4,605.9 994.3,601.2" stroke="#c4ff3b"/><polyline points="994.3,601.2 994.5,600" stroke="#c6ff39"/></g>
<g fill="none" stroke-width="2.4" stroke-linejoin="round" stroke-linecap="round"><polyline points="898.5,661 898.2,662" stroke="#80ff80"/><polyline points="898.2,662 897,666.2" stroke="#7dff82"/><polyline points="897,666.2 895.7,668.3" stroke="#7bff84"/><polyline points="895.7,668.3 894.7,671" stroke="#79ff86"/><polyline points="894.7,671 894.3,671" stroke="#77ff88"/><polyline points="894.3,671 893.2,674.7" stroke="#75ff8a"/><polyline points="893.2,674.7 893.4,677.7" stroke="#73ff8c"/><polyline points="893.4,677.7 892,678.7" stroke="#71ff8e"/><polyline points="892,678.7 891.6,681.1" stroke="#6fff90"/><polyline points="891.6,681.1 890.2,683" stroke="#6dff92"/><polyline points="890.2,683 889.6,685.5" stroke="#6bff94"/><polyline points="889.6,685.5 890.4,686.8" stroke="#6aff95"/><polyline points="890.4,686.8 888.5,689.5" stroke="#69ff96"/><polyline points="888.5,689.5 888.8,690.8" stroke="#67ff98"/><polyline points="888.8,690.8 887.4,695.9" stroke="#66ff99"/><polyline points="887.4,695.9 887.7,696.3" stroke="#65ff9a"/><polyline points="887.7,696.3 886.6,698.9" stroke="#63ff9c"/><polyline points="886.6,698.9 885.7,701.4" stroke="#62ff9d"/><polyline points="885.7,701.4 885.2,702.7" stroke="#61ff9e"/><polyline points="885.2,702.7 883.5,706.6" stroke="#5fffa0"/><polyline points="883.5,706.6 882.1,707.1" stroke="#5dffa2"/><polyline points="882.1,707.1 881.9,710.9" stroke="#5bffa4"/><polyline points="881.9,710.9 880,712" stroke="#59ffa6"/></g>
<g fill="none" stroke-width="2.4" stroke-linejoin="round" stroke-linecap="round"><polyline points="1097.8,542.8 1100.5,544 1102.8,544.1 1104.2,545.5 1106.8,546.3 1109.3,549.6 1110.6,548.9 1113.9,551.3 1115.6,552.2 1118,553.8" stroke="#94ff6b"/></g>
<g fill="none" stroke-width="2.4" stroke-linejoin="round" stroke-linecap="round"><polyline points="1097.8,585.2 1100.7,585.7 1102.2,584.7 1104.9,581.7 1106.5,582.1 1108,581.9 1110.8,579.2 1113,579.3 1115.5,582.1 1117.6,580.9 1120,583" stroke="#94ff6b"/></g>
<g fill="none" stroke-width="2.4" stroke-linejoin="round" stroke-linecap="round"><polyline points="1097.8,598.2 1099.2,598.3 1101.5,595.2 1103.5,593.5 1106.4,592.7 1107.6,593.2 1110.4,591.1 1113,591.9 1114.5,594 1118,593.6 1120,595" stroke="#8aff75"/></g>
<g fill="none" stroke-width="2.4" stroke-linejoin="round" stroke-linecap="round"><polyline points="1097.8,605.5 1100,607.7 1101.7,608.4 1105.4,611.4 1106.9,610.6 1110.5,611.4 1111.4,610.9 1114.5,613" stroke="#8aff75"/></g>
<g fill="none" stroke-width="2.3" stroke-linejoin="round" stroke-linecap="round"><polyline points="1072,627.7 1074.2,629" stroke="#6bff94"/><polyline points="1074.2,629 1074.9,631.5" stroke="#69ff96"/><polyline points="1074.9,631.5 1076.9,632.4" stroke="#66ff99"/><polyline points="1076.9,632.4 1078.3,634.7" stroke="#63ff9c"/><polyline points="1078.3,634.7 1078.9,636.9 1081.3,637.6 1084,641.3 1085,642.5" stroke="#61ff9e"/></g>
<g fill="none" stroke-width="2.3" stroke-linejoin="round" stroke-linecap="round"><polyline points="1020.3,668.3 1021.9,667.3 1024,664.6 1026.8,664.4 1028.3,664 1032,664.1 1033.4,665.2 1035.2,665.7 1036,668" stroke="#4dffb3"/></g>
<g fill="none" stroke-width="2.3" stroke-linejoin="round" stroke-linecap="round"><polyline points="1046,653.5 1046.3,656.9" stroke="#57ffa8"/><polyline points="1046.3,656.9 1047.5,658.3" stroke="#55ffaa"/><polyline points="1047.5,658.3 1048.2,660.3" stroke="#54ffab"/><polyline points="1048.2,660.3 1050.2,661.7" stroke="#52ffad"/><polyline points="1050.2,661.7 1050.3,664.3" stroke="#51ffae"/><polyline points="1050.3,664.3 1050.8,664.7" stroke="#4fffb0"/><polyline points="1050.8,664.7 1052.7,668.3" stroke="#4effb1"/><polyline points="1052.7,668.3 1053.9,669.7" stroke="#4dffb3"/><polyline points="1053.9,669.7 1054.9,671.9" stroke="#4affb5"/><polyline points="1054.9,671.9 1055.8,676.1" stroke="#48ffb7"/><polyline points="1055.8,676.1 1056.1,676" stroke="#46ffb9"/><polyline points="1056.1,676 1057.2,679.4" stroke="#44ffbb"/></g>
<g fill="none" stroke-width="2.3" stroke-linejoin="round" stroke-linecap="round"><polyline points="630,672 630.8,669.2 633.6,666.9 634.9,665.2 635.6,663.3 638.2,665.6 640.1,666.4 640.4,669.6" stroke="#80ff80"/><polyline points="640.4,669.6 642.1,670.3" stroke="#82ff7d"/><polyline points="642.1,670.3 644.5,674.9" stroke="#85ff7a"/><polyline points="644.5,674.9 645.4,677.1" stroke="#87ff78"/><polyline points="645.4,677.1 644.6,677.4" stroke="#8aff75"/><polyline points="644.6,677.4 644.4,680.3" stroke="#8cff73"/><polyline points="644.4,680.3 643.6,683" stroke="#8eff71"/><polyline points="643.6,683 644.1,685.6" stroke="#90ff6f"/><polyline points="644.1,685.6 643,688" stroke="#92ff6d"/></g>
<g fill="none" stroke-width="2.3" stroke-linejoin="round" stroke-linecap="round"><polyline points="620,690 621.3,688.5" stroke="#94ff6b"/><polyline points="621.3,688.5 624.7,688.5" stroke="#96ff69"/><polyline points="624.7,688.5 625.6,685.8" stroke="#99ff66"/><polyline points="625.6,685.8 628.7,687" stroke="#9cff63"/><polyline points="628.7,687 630.3,687.3" stroke="#9eff61"/><polyline points="630.3,687.3 630.6,690.1" stroke="#a2ff5e"/><polyline points="630.6,690.1 633,693" stroke="#a5ff5a"/></g>
<g fill="none" stroke-width="2.3" stroke-linejoin="round" stroke-linecap="round"><polyline points="630,740 631,741.6 631.3,745.8 630.4,745.7 632.1,748.7 632.3,751.7 635.1,750.5" stroke="#bdff42"/><polyline points="635.1,750.5 636.6,750.3" stroke="#baff45"/><polyline points="636.6,750.3 639.2,751.9" stroke="#b8ff47"/><polyline points="639.2,751.9 641,750" stroke="#b5ff4a"/></g>
<g fill="none" stroke-width="2.3" stroke-linejoin="round" stroke-linecap="round"><polyline points="641,766 642.3,768.1 644.8,770.1 646,769.3 647.7,771.5 649.6,770.6 652.4,771 654.2,769.9 657,768" stroke="#94ff6b"/></g>
<g fill="none" stroke-width="2.4" stroke-linejoin="round" stroke-linecap="round"><polyline points="722,737 724.1,739.6 725.5,740.4 726.9,742.3 728.7,747.2 730.6,747.4 731.9,749.5 735.2,749.8 737.1,751.9 739.9,750.4" stroke="#80ff80"/><polyline points="739.9,750.4 741.3,749.5" stroke="#82ff7d"/><polyline points="741.3,749.5 742.5,747" stroke="#85ff7a"/><polyline points="742.5,747 745.6,745.2" stroke="#87ff78"/><polyline points="745.6,745.2 746.9,746.1 748.8,743.3 751.2,741.8 754.8,742.3 755.4,738 757.4,738.8 758.9,736.8 761.3,734.6 763,733" stroke="#8aff75"/></g>
<g fill="none" stroke-width="2.3" stroke-linejoin="round" stroke-linecap="round"><polyline points="766,742 766.6,744.7" stroke="#75ff8a"/><polyline points="766.6,744.7 767.1,745.6" stroke="#74ff8b"/><polyline points="767.1,745.6 766.9,747.3" stroke="#73ff8c"/><polyline points="766.9,747.3 767,752.4" stroke="#71ff8e"/><polyline points="767,752.4 766.3,751.8" stroke="#70ff8f"/><polyline points="766.3,751.8 767.1,755.9" stroke="#6fff90"/><polyline points="767.1,755.9 767,757.7" stroke="#6eff91"/><polyline points="767,757.7 766.7,760.4" stroke="#6cff93"/><polyline points="766.7,760.4 766.6,763.1 766.9,765.3 768,767 767.7,768.1 768.2,772.3 768,774" stroke="#6bff94"/></g>
<g fill="none" stroke-width="2.3" stroke-linejoin="round" stroke-linecap="round"><polyline points="806,653 807.4,656.3 808.8,657.7 809.2,659.8 810.2,662.5 811.8,665.6 811.9,668.1 811.8,669.4 813.4,671.4 813.2,674.8 812.9,678.5 814,680" stroke="#b3ff4c"/></g>
<g fill="none" stroke-width="2.3" stroke-linejoin="round" stroke-linecap="round"><polyline points="807,690 807.9,687.2 808.5,687.4 809.9,684.6 810.3,682.2 812.9,680.4 814.1,678.2 815.5,676.6 817.8,675.7 820.8,675.1 822.2,675.4 823.3,673.6 824.7,671.4 826.1,671 828,668" stroke="#a8ff57"/></g>
<g fill="none" stroke-width="2.3" stroke-linejoin="round" stroke-linecap="round"><polyline points="807,718 809.3,715.8 810.4,714.4 812.3,714.2 815.5,711.2 818.1,714 820.2,715.6 821.4,715.3 823.5,714.8 826,713" stroke="#80ff80"/></g>
<g fill="none" stroke-width="1.7" stroke-linejoin="round" stroke-linecap="round"><polyline points="829,695 829,695.7" stroke="#80ff80"/><polyline points="829,695.7 830.3,699.5" stroke="#7eff81"/><polyline points="830.3,699.5 830.6,702.6" stroke="#7dff82"/><polyline points="830.6,702.6 832.2,703" stroke="#7cff83"/><polyline points="832.2,703 833.4,707" stroke="#7aff85"/><polyline points="833.4,707 834.4,708.4" stroke="#79ff86"/><polyline points="834.4,708.4 834.2,710" stroke="#78ff87"/><polyline points="834.2,710 834.8,711.8" stroke="#77ff88"/><polyline points="834.8,711.8 836.6,713.4" stroke="#75ff8a"/><polyline points="836.6,713.4 836.4,715.3" stroke="#74ff8b"/><polyline points="836.4,715.3 838.5,718.8" stroke="#73ff8c"/><polyline points="838.5,718.8 838.1,720.9" stroke="#71ff8e"/><polyline points="838.1,720.9 839.3,723.6" stroke="#70ff8f"/><polyline points="839.3,723.6 839.9,724.1" stroke="#6fff90"/><polyline points="839.9,724.1 840.8,726.7" stroke="#6eff91"/><polyline points="840.8,726.7 842.1,730.9" stroke="#6cff93"/><polyline points="842.1,730.9 843,733.4" stroke="#6bff94"/><polyline points="843,733.4 844,735" stroke="#6aff95"/><polyline points="844,735 844.8,737.5" stroke="#68ff97"/><polyline points="844.8,737.5 845.9,739.8" stroke="#67ff98"/><polyline points="845.9,739.8 845.9,740.7" stroke="#65ff9a"/><polyline points="845.9,740.7 846.7,741.6" stroke="#64ff9b"/><polyline points="846.7,741.6 848.6,745.8" stroke="#62ff9d"/><polyline points="848.6,745.8 849.7,746.4" stroke="#61ff9e"/><polyline points="849.7,746.4 849.4,749.1" stroke="#5fffa0"/><polyline points="849.4,749.1 851.8,750.4" stroke="#5dffa2"/><polyline points="851.8,750.4 851.5,752.6" stroke="#5bffa4"/><polyline points="851.5,752.6 853,756" stroke="#59ffa6"/></g>
<g fill="none" stroke-width="2.3" stroke-linejoin="round" stroke-linecap="round"><polyline points="829,695 830.2,696.1" stroke="#80ff80"/><polyline points="830.2,696.1 830.5,699.8" stroke="#7eff81"/><polyline points="830.5,699.8 830.3,703.3" stroke="#7dff82"/><polyline points="830.3,703.3 831,703.4" stroke="#7bff84"/><polyline points="831,703.4 831,707" stroke="#7aff85"/><polyline points="831,707 831.9,708.1" stroke="#78ff87"/><polyline points="831.9,708.1 831.3,712.7" stroke="#77ff88"/><polyline points="831.3,712.7 832.7,713.3" stroke="#75ff8a"/><polyline points="832.7,713.3 832.1,717.3" stroke="#74ff8b"/><polyline points="832.1,717.3 832.7,720.1" stroke="#72ff8d"/><polyline points="832.7,720.1 832.8,720.3" stroke="#70ff8f"/><polyline points="832.8,720.3 834,725.1" stroke="#6fff91"/><polyline points="834,725.1 834,726" stroke="#6dff92"/></g>
<g fill="none" stroke-width="2.3" stroke-linejoin="round" stroke-linecap="round"><polyline points="862,674 862.9,675.4" stroke="#80ff80"/><polyline points="862.9,675.4 864.2,678.2" stroke="#7eff81"/><polyline points="864.2,678.2 864.9,679.1" stroke="#7dff82"/><polyline points="864.9,679.1 865.8,683.4" stroke="#7bff84"/><polyline points="865.8,683.4 867.5,685.5" stroke="#7aff85"/><polyline points="867.5,685.5 869.6,685.9" stroke="#78ff87"/><polyline points="869.6,685.9 870.3,690" stroke="#77ff88"/><polyline points="870.3,690 871.5,690.8 873.4,693.8 876,694" stroke="#75ff8a"/></g>
<g fill="none" stroke-width="2.3" stroke-linejoin="round" stroke-linecap="round"><polyline points="861,705 862.7,704.8 866,702.5 867,700.8 870.6,700.2 871.9,699.9 874.6,698.3 877,698" stroke="#6bff94"/></g>
<g fill="none" stroke-width="2.3" stroke-linejoin="round" stroke-linecap="round"><polyline points="895,663 894.2,665.5" stroke="#80ff80"/><polyline points="894.2,665.5 894.2,666.2" stroke="#7eff81"/><polyline points="894.2,666.2 893.2,668.9" stroke="#7dff82"/><polyline points="893.2,668.9 892.4,670.1" stroke="#7cff83"/><polyline points="892.4,670.1 891.2,672.5" stroke="#7bff84"/><polyline points="891.2,672.5 891.1,676.8" stroke="#7aff85"/><polyline points="891.1,676.8 890.3,678.3" stroke="#79ff86"/><polyline points="890.3,678.3 889.7,678.8" stroke="#78ff87"/><polyline points="889.7,678.8 888.8,680.6" stroke="#76ff89"/><polyline points="888.8,680.6 887.9,685.6" stroke="#75ff8a"/><polyline points="887.9,685.6 888,686" stroke="#73ff8c"/><polyline points="888,686 888.5,688.3" stroke="#71ff8e"/><polyline points="888.5,688.3 886.8,692.3" stroke="#6fff91"/><polyline points="886.8,692.3 886.2,694.5" stroke="#6cff93"/><polyline points="886.2,694.5 887.1,696" stroke="#6aff95"/><polyline points="887.1,696 885.3,698.7" stroke="#68ff97"/><polyline points="885.3,698.7 885.4,699.2" stroke="#65ff9a"/><polyline points="885.4,699.2 885.8,702.6" stroke="#63ff9c"/><polyline points="885.8,702.6 886.7,703.9" stroke="#61ff9e"/><polyline points="886.7,703.9 887.1,707.6" stroke="#5fffa0"/><polyline points="887.1,707.6 888.1,709.8" stroke="#5dffa2"/><polyline points="888.1,709.8 889,713" stroke="#5bffa4"/><polyline points="889,713 890,714.5" stroke="#59ffa6"/><polyline points="890,714.5 890.8,718.6" stroke="#57ffa8"/><polyline points="890.8,718.6 892.2,719.4" stroke="#55ffaa"/><polyline points="892.2,719.4 893.4,721.6" stroke="#54ffab"/><polyline points="893.4,721.6 893.1,724.7" stroke="#52ffad"/><polyline points="893.1,724.7 895.2,725.7" stroke="#51ffae"/><polyline points="895.2,725.7 895.5,728.2" stroke="#4fffb0"/><polyline points="895.5,728.2 896,730" stroke="#4effb1"/></g>
<g fill="none" stroke-width="2.3" stroke-linejoin="round" stroke-linecap="round"><polyline points="721,788 722.4,790.3" stroke="#4dffb3"/><polyline points="722.4,790.3 724,791.9" stroke="#4bffb4"/><polyline points="724,791.9 724.3,793.4" stroke="#49ffb6"/><polyline points="724.3,793.4 725.6,796.6" stroke="#47ffb8"/><polyline points="725.6,796.6 727.7,796.8" stroke="#46ffb9"/><polyline points="727.7,796.8 728.4,800.5" stroke="#44ffbb"/><polyline points="728.4,800.5 728.5,800.9" stroke="#42ffbd"/><polyline points="728.5,800.9 729.5,803.2" stroke="#41ffbe"/><polyline points="729.5,803.2 731,805.2" stroke="#3fffc0"/><polyline points="731,805.2 731.7,809.9" stroke="#3effc1"/><polyline points="731.7,809.9 733.3,810.4" stroke="#3cffc3"/><polyline points="733.3,810.4 734.5,813.5" stroke="#3bffc4"/><polyline points="734.5,813.5 735,815" stroke="#3affc5"/></g>
<g fill="none" stroke-width="2.3" stroke-linejoin="round" stroke-linecap="round"><polyline points="738,793 740,793.1 742.3,794.2 744,797.2 746.1,798.2 747.1,797.6 749.6,800.2" stroke="#42ffbd"/><polyline points="749.6,800.2 751.2,802.4" stroke="#40ffbf"/><polyline points="751.2,802.4 753.1,803.2" stroke="#3dffc2"/><polyline points="753.1,803.2 755,806" stroke="#3bffc4"/></g>
<g fill="none" stroke-width="2.3" stroke-linejoin="round" stroke-linecap="round"><polyline points="767,797 769.2,799.1 770.5,800.2 773,803" stroke="#2effd1"/></g>
<g fill="none" stroke-width="2.3" stroke-linejoin="round" stroke-linecap="round"><polyline points="760,784 762.1,786.3 763.8,788.1 765,790" stroke="#38ffc7"/></g>
<g fill="none" stroke-width="2.4" stroke-linejoin="round" stroke-linecap="round"><polyline points="542.1,665.9 543.3,662.5" stroke="#4dffb3"/><polyline points="543.3,662.5 543.6,660.9" stroke="#4effb1"/><polyline points="543.6,660.9 546,658.1" stroke="#4fffb0"/><polyline points="546,658.1 546.4,657.9" stroke="#50ffaf"/><polyline points="546.4,657.9 547.8,654.7" stroke="#52ffad"/><polyline points="547.8,654.7 548.2,653.4" stroke="#53ffac"/><polyline points="548.2,653.4 549.8,651" stroke="#54ffab"/><polyline points="549.8,651 550.4,648.9" stroke="#55ffaa"/><polyline points="550.4,648.9 551.8,646.1 552,645.3 553.7,642.7 553.6,639.9 554.7,637.4 556.4,637.8 557.2,635.6 557.7,632.8" stroke="#57ffa8"/><polyline points="557.7,632.8 558.1,631.7" stroke="#58ffa7"/><polyline points="558.1,631.7 559.7,628.9" stroke="#5affa5"/><polyline points="559.7,628.9 561.2,627" stroke="#5cffa3"/><polyline points="561.2,627 562.1,625.3" stroke="#5effa2"/><polyline points="562.1,625.3 563,622.6" stroke="#5fffa0"/><polyline points="563,622.6 563.4,621.8" stroke="#61ff9e"/><polyline points="563.4,621.8 564.4,619.7" stroke="#63ff9c"/><polyline points="564.4,619.7 565.9,618" stroke="#64ff9b"/><polyline points="565.9,618 567.1,615.9" stroke="#66ff99"/><polyline points="567.1,615.9 568.2,612.7" stroke="#68ff97"/><polyline points="568.2,612.7 569.4,609.3" stroke="#69ff96"/><polyline points="569.4,609.3 571.8,608.9" stroke="#6bff94"/><polyline points="571.8,608.9 572.7,608.7" stroke="#6fff91"/><polyline points="572.7,608.7 573.9,604.6" stroke="#72ff8d"/><polyline points="573.9,604.6 575.7,604.3 576.6,601.2 578,599.7 579.6,598.3 580.8,595.9" stroke="#75ff8a"/><polyline points="580.8,595.9 582.7,593.9" stroke="#79ff86"/><polyline points="582.7,593.9 585,591.2" stroke="#7cff83"/><polyline points="585,591.2 587.9,591.6" stroke="#80ff80"/><polyline points="587.9,591.6 591,591.6" stroke="#83ff7c"/><polyline points="591,591.6 594.6,591.4" stroke="#86ff79"/><polyline points="594.6,591.4 596.2,592.5" stroke="#8aff75"/><polyline points="596.2,592.5 597,594.8" stroke="#8cff73"/><polyline points="597,594.8 598.8,595.8" stroke="#8fff70"/><polyline points="598.8,595.8 599.5,596.8" stroke="#91ff6e"/><polyline points="599.5,596.8 602.7,597.7 605.2,599.3 607.2,598.3" stroke="#94ff6b"/><polyline points="607.2,598.3 609.3,599.7" stroke="#99ff66"/><polyline points="609.3,599.7 613.2,595.2 616.3,595.3" stroke="#9eff61"/><polyline points="616.3,595.3 619.8,595.6" stroke="#a3ff5c"/><polyline points="619.8,595.6 621.5,597.2 623.2,601.3 625,600.2" stroke="#a8ff57"/><polyline points="625,600.2 627.4,601.9" stroke="#adff52"/><polyline points="627.4,601.9 629,604.3 633,604.5 636.6,609.5 635.9,604.3" stroke="#b3ff4c"/><polyline points="635.9,604.3 637.3,601" stroke="#b8ff47"/><polyline points="637.3,601 639.7,603.6 641.8,604.7 644.6,603.8 646.5,606 648.8,607.2 651.5,606.6" stroke="#bdff42"/><polyline points="651.5,606.6 652.4,603.1" stroke="#c7ff38"/><polyline points="652.4,603.1 654.2,600.5" stroke="#caff35"/><polyline points="654.2,600.5 655.7,597.6" stroke="#ceff31"/><polyline points="655.7,597.6 656,595.6" stroke="#d1ff2e"/><polyline points="656,595.6 656.4,592.7" stroke="#d6ff29"/><polyline points="656.4,592.7 657.4,591.7" stroke="#dbff24"/><polyline points="657.4,591.7 657.6,588" stroke="#e0ff1f"/></g>
<g fill="none" stroke-width="2.4" stroke-linejoin="round" stroke-linecap="round"><polyline points="569.8,610.5 571.5,611.2" stroke="#75ff8a"/><polyline points="571.5,611.2 574.4,613.8" stroke="#7aff85"/><polyline points="574.4,613.8 576.7,615.9 578.3,617.9 580.3,619.4 581.6,615.3 584.4,613.5 585.9,613.6" stroke="#80ff80"/><polyline points="585.9,613.6 589.3,610" stroke="#85ff7a"/><polyline points="589.3,610 591.4,608.7 593.1,606.4 594.3,607.1 595.9,602.9" stroke="#8aff75"/><polyline points="595.9,602.9 598.9,600.7" stroke="#8fff70"/><polyline points="598.9,600.7 602.2,599.5 604.7,599.7" stroke="#94ff6b"/></g>
<g fill="none" stroke-width="2.4" stroke-linejoin="round" stroke-linecap="round"><polyline points="620.3,597.3 620,600.9 618.8,603 619.1,605.2 618.8,608" stroke="#9eff61"/><polyline points="618.8,608 617.1,610.4" stroke="#99ff66"/><polyline points="617.1,610.4 615,611.5 614.3,615.3 613.1,617.8 612.9,618.9 610.1,622.7 607.6,622.8 606.3,627.5" stroke="#94ff6b"/><polyline points="606.3,627.5 606.1,629.4" stroke="#8fff70"/><polyline points="606.1,629.4 604.1,629.7 601.1,632.4 598.4,633.6" stroke="#8aff75"/><polyline points="598.4,633.6 595.4,633.6" stroke="#85ff7a"/><polyline points="595.4,633.6 593.5,634.5 590.5,637.6 588.6,639.4 586.9,639.8 584.2,640.9" stroke="#80ff80"/><polyline points="584.2,640.9 581.7,640.8" stroke="#7aff85"/><polyline points="581.7,640.8 578,642.3 575.8,641.5 571.5,643 570.1,645.8" stroke="#75ff8a"/><polyline points="570.1,645.8 569.3,649.4" stroke="#70ff8f"/><polyline points="569.3,649.4 567,650.4 564.2,653.4 562,655.9 560.7,655.2 557.9,658.6" stroke="#6bff94"/><polyline points="557.9,658.6 554.8,660.7" stroke="#66ff99"/><polyline points="554.8,660.7 552.6,662 551.1,663.9 548,665.9" stroke="#61ff9e"/><polyline points="548,665.9 545.7,665.9" stroke="#5cffa3"/></g>
<g fill="none" stroke-width="2.4" stroke-linejoin="round" stroke-linecap="round"><polyline points="543.3,665.9 545,667.6 548.2,668.1 550.3,669.8" stroke="#4dffb3"/><polyline points="550.3,669.8 554.4,669.3" stroke="#50ffaf"/><polyline points="554.4,669.3 556.1,669.1" stroke="#53ffac"/><polyline points="556.1,669.1 559.3,670.3 561.6,670.8 562.9,671.7 566.3,671.4" stroke="#57ffa8"/><polyline points="566.3,671.4 570.1,672.7" stroke="#5affa5"/><polyline points="570.1,672.7 571.6,672" stroke="#5effa2"/><polyline points="571.6,672 574.9,672.4 577.5,673.4 580.2,675.3 582.4,677 584.2,676.4 586.8,680.1 587.3,680.5 590,682.1 591.5,684.1 592.9,687.6 594.1,686.9" stroke="#61ff9e"/><polyline points="594.1,686.9 596.9,687.4" stroke="#64ff9b"/><polyline points="596.9,687.4 600.4,689.1" stroke="#68ff97"/><polyline points="600.4,689.1 603,685.3 604.9,685.1 606.9,682.9 609.7,682 611.3,680.6 614.3,679.1" stroke="#6bff94"/></g>
<g fill="none" stroke-width="2.4" stroke-linejoin="round" stroke-linecap="round"><polyline points="614.3,679.1 616.5,676.8" stroke="#6bff94"/><polyline points="616.5,676.8 618.4,674" stroke="#6fff91"/><polyline points="618.4,674 620,673.2" stroke="#72ff8d"/><polyline points="620,673.2 622.9,673.1" stroke="#75ff8a"/><polyline points="622.9,673.1 624.3,670.1" stroke="#78ff87"/><polyline points="624.3,670.1 627,669.9" stroke="#7aff85"/><polyline points="627,669.9 630.5,669.5" stroke="#7dff82"/><polyline points="630.5,669.5 631.5,669 634.2,666.7 635.4,664.7 637.6,662.8" stroke="#80ff80"/><polyline points="637.6,662.8 640.8,662.4 642.6,663.3 644.4,668.3" stroke="#8aff75"/></g>
<g fill="none" stroke-linecap="round"><path d="M797.5 838.5l2 2M1269.5 656.5l1.5 1M1159.5 699.5l2.5 1.5M931.5 794.5l1.5 2.5M981.5 771l1 0M947.5 777.5l1 1.5M1118.5 722l2.5 2.5M689.5 870l1.5 2M879.5 800.5l3 0.5M1002 772.5l2 1M1005 757.5l1.5 -1M1100.5 729.5l2.5 -0.5M634 881l1 1M688 866l1.5 1M681 867l1.5 1M773 843l1 0M824 832.5l2.5 0M1294.5 659l1 1M1285 654l2.5 2M944 785l3.5 -2M1244 670.5l1 1M957 778.5l1 -0.5M1107 728.5l2.5 1.5M1234.5 674.5l1 1.5M674 865l1 1.5M653.5 871.5l2.5 3M941 785l1.5 3M1235 682.5l1.5 1.5M1078.5 741.5l3.5 1.5M1173.5 708l1.5 3M633.5 882.5l3 0.5M1216 683l3 1.5M869.5 818.5l2 3M1148 711l1 1M786.5 834.5l1 1.5M656.5 875l3 -1M840.5 814l0.5 1M783.5 832.5l1 1M950.5 781l3 -0.5M1015 762l0.5 1.5M651.5 884l2 1M672.5 868l2.5 3M927 790l2 3M970 784l1 1M807 838.5l1.5 2M1015.5 767.5l1.5 2M1116 721.5l2.5 2M1001.5 758l2.5 1.5M899.5 806.5l2 3M1204.5 683l1.5 3.5M1282 661l2 3M1141.5 717.5l1.5 2M932 792.5l1.5 2M809.5 821l3 3M658 874.5l2 0M1012 768l1.5 0.5M762.5 837l2.5 2M1044 746.5l0.5 1M1016 754l1.5 3M1030 760l1.5 -1M667 866l1 0M775.5 837.5l1.5 2M735.5 847.5l1 0.5M851 811l1 2.5M794.5 830l1.5 3M871.5 803.5l2 -0.5M888.5 807l2.5 2M886.5 812.5l2 1M836 811.5l1 0.5M1262.5 675.5l3.5 0.5M1274 666l2 2.5M863 813.5l2.5 0.5M1091 720.5l1.5 2M1166 711l2.5 1M942 787l3 0.5M1270 663.5l2.5 -1M901 806.5l2.5 0.5M1126.5 722.5l3 1.5M716 848.5l2.5 -0.5M1142 718l1.5 -0.5M890.5 807.5l2.5 1.5M835 816.5l3 0.5M1045.5 756l0.5 1M979 779l0.5 1M774 839.5l2.5 2.5M1226.5 689.5l2 0.5M791.5 835.5l1.5 -0.5M1196.5 685.5l2 1M674 864l0.5 1M853 815l2 2.5M765 845l4 -1M837 811.5l2 2M1082.5 742l0.5 1M1008.5 754.5l2 1.5M1145.5 708l2 2M963.5 779.5l0.5 1M1214.5 678.5l3.5 3M1088 725.5l4 0" stroke="#0ffff0" stroke-width="1.6"/><path d="M835.5 827.5l1.5 1M827 824.5l2 3M1005 774.5l0.5 1.5M1100 728l1.5 2.5M945.5 793.5l2 1M1105.5 736l1 1M1064.5 748l1 1M796.5 841.5l2.5 -1M863 817.5l3.5 1.5M771.5 837.5l1.5 2.5M673.5 877.5l1 1.5M996 774.5l2 2.5M786.5 849l4 0M767.5 842l1 1M874.5 804l2 2M780.5 841.5l1.5 1.5M1118.5 725.5l2.5 1M813 833l3 1.5M649 878.5l0.5 1M734 847.5l2.5 0.5M1239 690.5l1.5 2.5M861 816l1 1M1019.5 763.5l2.5 2M1028.5 749.5l1.5 2M767.5 850.5l2 0M805 847l1 1.5M742.5 857.5l1.5 2M958.5 786.5l1.5 2M754.5 847.5l1 1.5M1058.5 739.5l1 1.5M1286.5 662.5l1.5 1.5M756.5 852.5l3.5 2.5M739 856.5l1 1M994 774.5l4 1M1051.5 761.5l1.5 -0.5M1098 735l4 -1M811.5 832.5l1.5 2M1225.5 680.5l1.5 2M780 844l2 1M788 835.5l1.5 0.5M1063 753.5l1.5 2M786 844.5l2.5 -1M647.5 881.5l1.5 2.5M1125 718l1.5 2M655 874l3.5 0.5M723 863l3 -0.5M1261.5 664.5l1.5 -0.5M714 865.5l3.5 1M1175 704.5l1.5 1.5M702 860.5l3 1.5M631.5 892l2 2M957.5 780l2 1.5M1193 695l1.5 3M892.5 817l1 0.5M954 784.5l2 3.5M763 854.5l1.5 3M1055.5 741l2.5 1.5M993 764l2 0M652.5 882.5l2.5 3M692 866l2 1.5M882 818l2.5 -0.5M714.5 856.5l2.5 0M1205 695l1 2M1228 679l2.5 2M1216.5 696l1.5 -0.5M963 784.5l2.5 1.5M1243 677.5l1.5 3M698.5 875.5l3 2M775.5 839l3 2M981.5 773l1 1.5M1277 676l1.5 0M1006 767l2.5 3.5M657.5 881.5l0.5 1M996 770l3 0.5M1061 753l1 2.5M1022 755l2.5 -1M665 874.5l1 1M1132.5 718.5l3.5 -1M1285.5 674l1 2M830.5 829.5l2.5 1.5M896.5 810l1 2M1241.5 686.5l2 2M631 885l2.5 2M869.5 817l1 1.5M656.5 879l2.5 2.5M772 835.5l2.5 2.5M970 782.5l0.5 1M1116 729.5l1 2M686.5 864l3 0M1215 690l2 3M783 838l2 0.5M1048 752l2.5 0M1198.5 696.5l0.5 1.5M1249.5 672.5l2.5 2.5M1073 747l1.5 -0.5M705 854.5l3 0.5M678.5 874l3 0M1075 741l1.5 2M958 772.5l3.5 0.5M1256 671l1.5 2M1100 744l1.5 3M792.5 840.5l1 1.5M1080 744.5l3 2M1254.5 685l1 1.5M761 857.5l2.5 1.5M1167 705l1 1M647.5 880.5l2.5 2.5M1105 732.5l1.5 3M898 799l3 -2M649.5 884l2 1" stroke="#05fffa" stroke-width="1.2"/><path d="M1215 687l1 2M1135.5 720.5l1.5 2M725.5 854l3 -1.5M1146 710.5l1.5 0M748.5 846l1 1.5M1227 675.5l1.5 3.5M684 876l1.5 2M1029.5 753.5l4 0.5M1129 720.5l1 1M750 844.5l1.5 2M891.5 806.5l1 1M1252 684l2 -0.5M1201.5 689l1.5 1.5M1267 665.5l2 -1M782.5 830l1.5 2M1290 660l1 2M1230 678l1.5 -0.5M1169 701.5l3 0M1126.5 712.5l3 0.5M669 877l2 2M950 784l2 3M659 883.5l2.5 3M982.5 766l2.5 2.5M1050.5 744l1 2M1219 690l3 1.5M949.5 785l2 2.5M1178 694l2.5 -1M833.5 818l2.5 2M1170.5 699.5l3 2.5M1043 753.5l1.5 2M910.5 808l2 3M1155 711l1.5 2.5M785 833.5l2 3M801.5 837.5l2 2.5M1273.5 675l1.5 3.5M777.5 839.5l2.5 -1M1191.5 686l2 1.5M748.5 847l2.5 -1.5M1275.5 672l1.5 1M1271 670l2.5 -1.5M1228.5 679l3 2.5M1087.5 740.5l1 1.5M992.5 762l1.5 1M1160 711.5l2 -0.5M1277.5 665.5l1 2.5M763.5 834.5l1 1M752.5 847l1.5 2.5M629.5 880.5l1.5 0.5M688 859l2 2.5M1266.5 662l1.5 3.5M909.5 802l1 0.5M898 799l2.5 0.5M1089 738l3.5 -0.5M677.5 870.5l1.5 2.5M991.5 778l2.5 3M952.5 788.5l1.5 2M1275 670.5l1.5 0.5M1181.5 704.5l4 -0.5M1215 678.5l3 1.5M802 841l3 -0.5M683.5 870.5l1 0.5M724 862l1 1.5M727.5 859l1.5 2.5M1072.5 730l2 3.5M1180.5 702l3 2M680 872l2.5 -1M632.5 875.5l2 3M664.5 870.5l1.5 0M630 884l4 0.5M1004.5 765.5l3 0M784 835.5l2.5 3M939.5 785.5l3 0.5M980.5 771l1.5 1.5M1152 707l1 1.5M1042.5 756l1.5 1.5M877.5 801.5l2 2.5M1211 693l1.5 2M968 781l2 2.5M1024.5 760.5l2 3M1275 671l2.5 3M1143.5 711l1.5 -0.5M1098 730l0.5 1M679 876l1 0.5M796.5 838l2 3M762 850.5l3.5 1.5M1056.5 739l1.5 1.5M767 835.5l2 3M932.5 788l1.5 1.5M1285.5 651l2 -1M1159.5 703.5l1 1.5M990 774l2.5 1M1058.5 744l1 1.5M722.5 843l3.5 -1.5M706.5 865l4 0.5M1112 723l1.5 2M1035.5 750.5l2.5 2.5M1200.5 684.5l1.5 2.5M728 855.5l1.5 0M1225.5 676.5l2 2M856 822l2.5 -1.5M1274 669l1.5 3M928 781.5l1 1M752.5 851l3 2.5M758 853.5l3 0.5M881 813.5l2.5 -0.5M807 829.5l2 1.5M965.5 783.5l2 2.5" stroke="#0ffff0" stroke-width="1.2"/><path d="M1132 716l2.5 1.5M816 810.5l1 2.5M781.5 830.5l4 1M1240 676.5l2 3M771.5 827.5l3.5 0.5M859.5 809l1 1.5M1280.5 652l2 1.5M1164.5 697l2 2.5M697 851l3.5 2M978 760.5l3 0.5M1201.5 694.5l2.5 -1M1119 713.5l2.5 2.5M1156 695.5l1 1.5M1268.5 666l2 1M963 775.5l2 2.5M1250 671.5l1.5 2.5M1053 748.5l3 2.5M865 798.5l2.5 -1M1048 738l3 0M1013.5 757l1.5 2.5M854.5 814.5l2.5 2.5M770.5 837l1.5 0.5M701.5 862.5l1 1M1132 717l1 1.5M1242 677.5l4 0M1102.5 731l1.5 2M1033 753l2 3M815.5 822.5l1.5 -0.5M1128.5 719.5l2 2M689 865l2.5 2M1058.5 745l1.5 2M878.5 803.5l2 3M932.5 791l2 3.5M1196.5 685l3 0.5M1162 709.5l1.5 3.5M971.5 763l3.5 -1M741 840.5l1.5 0.5M959.5 773l2 2.5M823 826l2 0.5M736.5 838.5l2 0M1276 660l3 -0.5M1159.5 710.5l1.5 1.5M1164 708.5l2.5 0.5M806.5 829l2 1.5M1218.5 683l1.5 3M777.5 833.5l3 2M682 870.5l2.5 2M678 867l1.5 -0.5M741.5 843.5l1.5 2.5M654 860.5l1.5 -0.5M1281.5 656l2 3M1259.5 669.5l3.5 1.5M656.5 873.5l4 1M777 828.5l1.5 1M735.5 848.5l2.5 0M810.5 834.5l2 2M638 873l0.5 1M1030 740.5l1.5 2M1263.5 668l1.5 2.5M1124.5 722l3.5 -1.5M892.5 798.5l1 1M1174 694l2.5 2M680.5 860l2.5 -1.5M654 864.5l3.5 -0.5M1238 665.5l2 3M972 770.5l0.5 1.5M1194.5 679l3 -1M680 860.5l2.5 -1M919.5 777.5l1.5 3M631.5 884.5l2 2.5M872.5 796l1 1M674 865.5l1.5 2.5M638 879.5l1.5 3.5M754.5 839.5l2 1.5M998 766.5l2.5 2M1077 734l0.5 1.5M1100.5 730l1.5 0M763 844.5l2 1.5M1169 691.5l3.5 -0.5M1017.5 757.5l2.5 3M1200 689l1.5 1M1032.5 749.5l1.5 1M1083 733l2 1M1194 693l3.5 -0.5M1142 699.5l2 -0.5M718.5 853l1 1M1046.5 749.5l3 -1.5M745 841.5l2 1.5M725 855l1.5 2M926.5 793.5l1.5 3M1232.5 666.5l5.5 6M797.5 827.5l4 5M1088 719.5l3.5 6M1214.5 681.5l5.5 7M1082.5 718l4.5 3M1251.5 663.5l8 -1M1255.5 662l3.5 4.5M965.5 762l4 6.5M1201.5 678.5l5 6M1193 689l7 7" stroke="#1affe5" stroke-width="1.6"/><path d="M1050.5 775.5l1.5 2.5M1215 718.5l3 -1M906 823l3 2.5M701 883l2.5 1.5M1054 772l1.5 2M1058.5 769.5l4 -0.5M1071 760l2 1.5M661 895l2 3M1040.5 781.5l1.5 2.5M984 793l1.5 1.5M916 814.5l2.5 -0.5M1148.5 734.5l2.5 -1M1028.5 777.5l1.5 2.5M858 844.5l2 2.5M1292 688.5l1 0.5M1204.5 713l1.5 2M1283.5 692l1.5 2M954.5 814l3 2.5M692.5 884l2 2.5M717.5 880.5l0.5 1M644 900.5l2 3M1271 689l1 2M1164 740.5l1.5 1.5M774 872.5l1.5 2.5M942 811.5l1 2M931 816l2 2.5M898 824l2.5 0M685 895l2 2.5M1144 736l2.5 1M994.5 792l1 1.5M1121.5 739l3 8.5M811 847l5.5 8M1022 776l5.5 9" stroke="#00d1ff" stroke-width="1.6"/><path d="M852 824.5l2.5 -1M710 876.5l3.5 0M652 876l1.5 2M1191 705.5l3.5 1.5M1273 678l1.5 0.5M973 776.5l3.5 2M633 887.5l2 -0.5M686 885.5l3 -0.5M782.5 838.5l1 1.5M830 828l2 -0.5M875.5 815.5l2 2.5M755.5 847.5l2 2.5M1228.5 693.5l2 3M628.5 894.5l2 0.5M857 830l2 1M1042 756l1 1.5M700 867.5l1.5 2.5M1212 704.5l2 0M1116 729.5l1 2M1143.5 730l1.5 2.5M631 888.5l1.5 3M965 788l1 1.5M1143.5 715.5l1.5 2.5M910.5 817l1.5 1.5M955 791l2 2.5M677.5 879.5l1.5 2.5M1118.5 722.5l1 2M978.5 772.5l2 0.5M660 874l1.5 -0.5M766.5 860.5l1.5 -0.5M1174.5 709.5l2.5 2.5M849 820.5l3.5 -2M945.5 782.5l2.5 0.5M713 870l3 -1M886 822.5l1.5 3.5M635 892l2.5 2.5M820.5 833.5l4 -0.5M1226 696.5l3.5 1M728 862.5l1 1M732.5 855.5l2 2M724 858.5l3 0M686 874.5l2.5 1.5M654 881.5l2.5 1.5M648 881.5l1 1.5M650.5 876.5l1.5 1M795 835l2 2.5M794.5 852.5l3.5 0.5M927.5 799.5l2 0.5M795.5 851l2 0.5M977 775l2.5 1M943 795l1.5 3.5M690 877.5l1.5 3.5M1201 704l2.5 0M908.5 803l2 2.5M947.5 785l3 -1M1257.5 677.5l3 2.5M1292 665.5l3.5 -2M730.5 860l1.5 -0.5M1239 685l2.5 1M744 853.5l1.5 3M1195 702.5l3 1M1009.5 771l1.5 -0.5M1028.5 752.5l3 1.5M860.5 825.5l2 3.5M716 874l3 1M654.5 878l1.5 1.5M942 795.5l1 2M811 835l1 0.5M1185 697l2 1M628.5 900.5l1.5 0M742.5 852.5l1.5 1.5M895.5 813l0.5 1.5M1222.5 689.5l1 1M751 864l0.5 1.5M632.5 886.5l2 0.5M1065 741l0.5 1M1258.5 687.5l2.5 2.5M769 855l1.5 0.5M963 797l1 1.5M1170.5 715l1.5 0M720.5 860l4 0.5M828 829.5l2 2.5M1135.5 725l3 0M782 853.5l4 0.5M1208 696l2 3M1248 681.5l3 2M1235.5 697l1 2M889.5 806.5l2 3.5M1116.5 729l2 3M722.5 865l0.5 1.5M1208 704l1.5 1.5M775 844.5l3 2M846 829.5l1.5 2M653.5 881l4 1M646 881.5l3 0M1256.5 685.5l1.5 0.5M1052 763.5l1 1.5M1037.5 763l2.5 2.5M1164.5 704l1 1.5M810 850l2 1.5M973.5 783.5l0.5 1M823 838l2.5 2" stroke="#00faff" stroke-width="1.6"/><path d="M709.5 868l1 0.5M845.5 826l3.5 0.5M1062 744l3.5 -1M811.5 834l1.5 -0.5M753.5 858l2 2.5M934.5 790.5l1.5 -1M1283 664.5l2.5 3M1191.5 705l3 0.5M773 847l1.5 0.5M711.5 858.5l1 1M925.5 793.5l3 -1M966.5 780l0.5 1.5M746 844.5l1.5 1.5M998.5 769l2.5 1M952.5 786.5l2 2M806.5 825l1.5 1M705.5 855l1.5 1M1234 676l1.5 2M1127 719.5l2 1.5M648.5 886.5l1 2M787 841.5l2 2M1140.5 719.5l2.5 1.5M687.5 864l2.5 -1M813 827.5l1.5 1M1165.5 707l4 0.5M753.5 850l2.5 0.5M818 834.5l2.5 1M836 815.5l2 2.5M855 816.5l2.5 -1M629.5 886l2 2.5M943.5 800l1 1M634 883.5l1.5 0.5M938.5 785l2.5 1.5M1258 680l1.5 1.5M1039.5 746.5l2 3.5M658 886l2 -0.5M883.5 807.5l2 2M862.5 818l3.5 -1M924 796.5l2 3M705.5 865l1 2M800 842l1.5 0.5M902.5 804l0.5 1.5M1101.5 735.5l0.5 1M1163 703.5l2 3.5M721.5 857l2.5 3M633 890l2 -0.5M891 809l2 3M1282 671l2 1M681.5 874l2 0M829.5 831l1 2M672 876l2.5 -0.5M942.5 783.5l3.5 2.5M1027 762l2 2.5M763 844l3 2M897 803l2 3.5M761.5 855.5l1 2.5M848.5 816l2 0.5M755.5 860.5l3 0M647 888l2 1M903 809.5l2.5 2.5M1170 713.5l2.5 1M1051.5 757.5l1.5 2M811 840l1 1M757 857l1 2M921 790.5l2 0.5M685.5 861.5l2 2M1142.5 722l3 -1.5M1278.5 670.5l1 1M703.5 858l2.5 -0.5M709 856l3 0.5M920.5 801.5l2 2M1057 747.5l1.5 0.5M913 801.5l1 1.5M739 850l3 2M765 842.5l1 2.5M1241 675.5l2 3M1058.5 757.5l1 1M947.5 787.5l1.5 2M1030.5 761l3 -1.5M686.5 874l2.5 3M1112.5 724.5l1.5 2M1258.5 674.5l2.5 2M801.5 835l2.5 3M711.5 869l1.5 1.5M1235 678l2 -0.5M1078 729.5l1.5 1.5M850 826l2.5 1.5M1066 754l1 2M1032.5 748l1.5 0.5M739.5 866.5l1 1M803 844.5l2.5 2M936.5 786.5l3 -1M1167.5 711l2 2M785.5 838.5l2 2.5M1078 745.5l1.5 2.5M1124.5 721l3 1M1106 730l1.5 -0.5M738.5 864l1.5 2.5M809 834l1 1M1160.5 720l1 1.5M927.5 794.5l1.5 -0.5M1282.5 668.5l2.5 -1M1090 735l1.5 0.5M761 839.5l3 -1.5M1209 700.5l3 0M709 860l2 1.5M778 834l2 0M988.5 779l2.5 2M909.5 805.5l1.5 1.5M1077.5 746.5l1.5 1.5M943 787l2.5 -1.5M666.5 868.5l1.5 1.5M1013.5 757.5l2 2.5M981.5 771l3 1.5M1155.5 712.5l2 -1M1166 719.5l1.5 2.5M942 784l3 1.5M1262 684.5l2 2.5M646.5 882.5l3.5 -0.5M1093 727l2 1M1059 743.5l3 2M700 867.5l1.5 2M1055.5 754.5l2 3M1154.5 721l1.5 2.5M901 813l1.5 0.5M738.5 855l3 1M898 814.5l2.5 3M928.5 787.5l1.5 2M923.5 803l3.5 2M635 882l1.5 1M1097 735.5l1 2M1028.5 759l1.5 2" stroke="#05fffa" stroke-width="1.6"/><path d="M933 816l1 2M651 898l1 1.5M797.5 845l2 0M998 788l1.5 3M757.5 860l2 3M1204.5 700l2.5 3M707.5 874l2.5 0.5M815.5 838.5l2 1M1077 758.5l0.5 1M1096.5 743.5l3.5 -0.5M1269.5 693l3 3M1045.5 768.5l3 -1.5M1177 718.5l1 1.5M789.5 845l3.5 -1.5M1145 728.5l1.5 0.5M656.5 887l2 0M1148 729l1.5 0M1046.5 757.5l3 -1M1080.5 760l1 0M886.5 816.5l0.5 1.5M977 790l1.5 -0.5M1275 673l2 2.5M1044 766.5l3.5 -0.5M1239 701.5l3 1.5M1030 775l2 2M1134 734.5l3.5 -1M999 776l1.5 0.5M1232.5 700l2 3.5M1044 763l2 0M1195.5 711.5l2 3M1009.5 784l3.5 -0.5M1101.5 740.5l1.5 0.5M779.5 855l1 2M932.5 808l2.5 0M1047 756.5l3 1M907.5 816l1.5 -1M818 842.5l2 3M734 860l1.5 1M871.5 824l1 2M1131 732l1.5 3M839.5 834l1.5 1.5M702.5 871l1.5 -0.5M969.5 796.5l1.5 1M848.5 839l1 1M1153.5 720l3.5 -0.5M1294.5 675l0.5 1.5M1107.5 740l2.5 0M910 809l1.5 3M782 853l1.5 2M740 862l3 -1.5M920 803.5l1.5 -1M890.5 823l2.5 1.5M1210.5 700.5l4 0M726 870.5l1.5 -0.5M1144 732.5l2 -1M714.5 878l3.5 1M722 870.5l1.5 2.5M922 822l1 1.5M894.5 823l2.5 2" stroke="#00e6ff" stroke-width="1.2"/><path d="M951 804.5l3.5 -2M1196 718l2 3.5M805.5 840.5l1.5 2M944.5 806l1.5 1.5M1145 726l3 2.5M784.5 848.5l2 -1M816 848.5l3.5 1.5M1244 685.5l2.5 2M930 816l2.5 2.5M755.5 855.5l1.5 1M1110 745l1.5 2M1215 703.5l2 1.5M1253 682l1 1M638 891.5l0.5 1M1289 670.5l2 2.5M855 831l2.5 -0.5M744.5 865l3 -0.5M888 818.5l2.5 2M1253.5 696.5l3 1.5M1216.5 706.5l1.5 3M1100.5 758l2.5 -1M1097.5 744l0.5 1.5M1024 774l1.5 1.5M1168.5 719l3 1M914 807.5l1.5 1M647 899l1.5 2.5M775 851l1.5 2.5M950.5 800.5l2 3M1064 752.5l1.5 2M962 796.5l1.5 2.5M633.5 908l1.5 1.5M939.5 799l3 1M1286.5 677.5l1 1.5M1116.5 738.5l1 1.5M1003.5 788.5l2.5 1.5M855.5 827.5l2 1.5M1039.5 760l2.5 -1M1052 766l2 1M1012 770.5l1.5 0M881.5 823.5l2 3.5M1064.5 762l2 2.5M867.5 824.5l2.5 2M1197.5 710l2 -1M798 842.5l2 -0.5M725.5 876l2 -1M1146.5 726.5l2 3M700 870.5l2.5 2M1104.5 751.5l2 2M1005.5 776.5l1 0M978 787l1 1.5" stroke="#00e6ff" stroke-width="1.6"/><path d="M1180 721l2.5 1M897 818.5l1 1M883 818.5l2 2.5M1175 731.5l2 -1M757.5 858l3.5 1M1137.5 731l2.5 1.5M1170.5 729l2.5 0M785.5 852l3 0M757 861l1 2M638 896l3 2M949.5 797l1.5 1.5M780.5 857l2.5 3M777 859l2 1M1044 762.5l2 1M1244 695.5l1 1M902 817.5l3.5 0.5M978.5 799.5l1.5 2M754.5 862l1.5 1M1277.5 689.5l2 2M1118.5 757.5l4 -0.5M1234 697.5l2.5 2M1159 724.5l3 2.5M762.5 863l3 2M752 867.5l1 1M1151 727.5l1.5 2.5M991.5 784.5l1 1.5M967 800.5l2.5 1.5M942.5 808l1 1.5M896 826l1.5 2M950.5 804.5l1 1M901.5 819l2.5 2.5M645.5 900.5l1 2M651.5 895l2 1M1167 721.5l1.5 2.5M751 863.5l1.5 0.5M882.5 823l3 2.5M1165 730.5l1 1M1011 777.5l1.5 2M1118.5 739.5l1.5 -0.5M1148 740.5l1 2M1249.5 698l1.5 2M1102 749.5l1.5 1.5" stroke="#00dbff" stroke-width="1.6"/><path d="M1037.5 757l1 1M1209 687.5l1.5 2.5M981.5 763.5l2 -1M783 838.5l2 2.5M1279.5 655.5l3 0.5M1081.5 729l3.5 1.5M1225 686.5l1.5 2.5M689.5 865l3 0M720.5 858l0.5 1.5M1080 732l2.5 2M726 855.5l0.5 1M668.5 875.5l1.5 2M902 802l3 -1M773.5 844l3 0M1275 668.5l1 1.5M803.5 817l3 2M970 774.5l1 -0.5M705.5 851l2 1.5M728.5 851.5l2 0M794.5 833.5l2 0M762 834l1 1.5M1224.5 678l3 3M1194 686l3.5 3.5M716.5 841.5l5 5M1087.5 718l7 5M811 811l7.5 6.5M1211 674l4 4.5M1019 744.5l4.5 4.5" stroke="#1affe5" stroke-width="2"/><path d="M865.5 840l2.5 -1M914.5 820l1.5 0.5M928 815.5l2 1.5M1207 711.5l1 2M1026 787l2 2.5M1259.5 696.5l2 -0.5M1133.5 747.5l1.5 1.5M1097.5 754.5l1.5 1.5M1047 784.5l1 1.5M1281.5 701.5l2 2M1235 704l3.5 0M1278 700l3.5 0.5M1086 753.5l3.5 0M777.5 857.5l3.5 -2M1242 702.5l2 2.5M914.5 825.5l1.5 1M1162.5 729l3 -1.5M1073.5 756.5l1 0.5M916 814.5l1 1M736.5 872.5l2 -1" stroke="#00d1ff" stroke-width="1.2"/><path d="M814.5 858l2 1M1241.5 703.5l1 1M870.5 836.5l2 2.5M843.5 845l1.5 2.5M793.5 865l1.5 1.5M1267.5 698.5l1 2M1035.5 778.5l2.5 -1.5M755 873l1.5 1M1172.5 740l0.5 1.5M717.5 887l1.5 0M742 877l1.5 1.5" stroke="#00c7ff" stroke-width="1.2"/><path d="M1163 745l3.5 0.5M1173 748l3.5 -1M1234 715.5l1.5 1.5M1081.5 770l1 2M978 796.5l6.5 10M725 879.5l5 12.5M1213 714.5l6 10.5M906.5 820.5l3 7.5M1003.5 790.5l4.5 7.5" stroke="#00b3ff" stroke-width="1.6"/><path d="M1043.5 736l4 0M1046 721.5l3 0M924 777.5l3 2M1284.5 647l2.5 3.5M1076.5 714.5l2.5 3M767 829.5l1 1M1113 714.5l2 1.5M1024.5 725l1.5 1M1160 689.5l2.5 1M1237 665l2 -1M1096.5 709l1 2M1094.5 703.5l2.5 1.5M1027.5 736l1 1.5M1240 655.5l3 -0.5M1270.5 645.5l1 1.5M1094.5 719l1 1.5M925.5 765l2 2M982.5 734.5l4.5 6M945 759.5l2.5 2.5M668 857l7.5 5M1196 673.5l4.5 1M1066.5 706l7.5 5M1180 677.5l4.5 4M1262.5 655.5l5.5 4.5M1098.5 699.5l5 8M934 749l6 5.5M1207 669.5l6.5 -0.5M753.5 816.5l2 2.5" stroke="#38ffc7" stroke-width="1.6"/><path d="M1021.5 765.5l1 0.5M636 890.5l2 -0.5M691 871l2 -1M780 847l3 2M892.5 810l2.5 1.5M1219 684.5l3.5 -0.5M994 763.5l2 0M692 859l0.5 1M759 854.5l2 3M918.5 797.5l1.5 1.5M1102.5 731l3 0.5M852 830l1.5 3M1187 704l1 1.5M666 881.5l2.5 -1M679 866l3 2.5M852.5 828l0.5 1.5M810.5 833l2.5 -1M797.5 829l2 3M1069.5 754l2.5 -0.5M992 768l1 1.5M843.5 824.5l3.5 -1M1155 703l2 -1M1153 719.5l2.5 1.5M842 829.5l2 2M810.5 840l2 2.5M1046.5 761l2 2M705.5 861l1.5 2.5M1179.5 709l0.5 1.5M736.5 851.5l0.5 1M1228 682.5l1.5 2M1238 680l0.5 1M1197.5 694.5l1.5 2M671 864.5l2 1.5M1136 720.5l1.5 1" stroke="#05fffa" stroke-width="2"/><path d="M1009.5 767.5l1 2M1262.5 677.5l2 3M1085.5 745l1.5 1M703 871l1.5 2M679.5 867l3 -0.5M1218.5 700.5l3 2M1161.5 717l2 3M689.5 865l3 1M800.5 841l3.5 0.5M1166 721l2 1.5M1084 735l2.5 2.5M684.5 867.5l1 0M1071.5 745l1 1M735 857l2 3.5M794 849.5l1 1M823.5 842l3 -2M1182.5 709l3 2M1004.5 770.5l1.5 1.5M1079.5 743.5l2 3M1286 673.5l2.5 -0.5M928 802.5l1 1.5M841 838l1 2M1286.5 668l1.5 0.5M1265 679l2 3M1283.5 674.5l1 1M767.5 855l2 1M1199 692.5l1.5 1M978 778l1.5 2.5M803.5 844l3 3M732 867.5l1 2M680 868.5l1.5 0M985.5 770.5l2 3M666.5 880.5l2 2.5M686 884.5l2.5 3M891.5 813.5l2 2M1096.5 744.5l3 2M868.5 820l2 3M720.5 858.5l2.5 1.5M986 784l1.5 0.5M1146.5 716.5l3.5 2M950.5 788.5l2 3M1080.5 735.5l2 0M686.5 883l2.5 1.5M792.5 836l2 3M1144.5 731.5l1.5 1.5M1051 760.5l2 1M991 786.5l2.5 -0.5M844.5 824l1 1.5M671.5 879.5l1.5 1M939 789.5l2.5 0M1150 728.5l2 0M736 862l1.5 2M1094 735l2.5 -1.5M647.5 894.5l1.5 1.5M1050.5 751l2.5 1.5M843.5 830l2.5 0M779.5 846l1 1.5M1088.5 739.5l1.5 2M629 887l3 -1.5M930.5 804.5l1.5 1.5M1016.5 761l3.5 0.5M1134 723.5l2 1M1184 712l1 1.5M1013 764l2 3M803.5 841l2 3.5M918.5 796.5l1.5 1M996.5 772.5l3.5 0M1095.5 744l1 1.5M883.5 805l2 0.5M975 774l2.5 2.5M754.5 848.5l1.5 1M1008 768l2 1.5M684.5 884l1 2M976 779.5l0.5 1.5M754 859l0.5 2M1192.5 700.5l2 2.5M662.5 883.5l1 2M829.5 826l2 3M787.5 838.5l3.5 -0.5M1243 687.5l1.5 -0.5M1285.5 666.5l1.5 0.5M950 781.5l2 2.5M1285 669.5l2.5 1.5M944.5 794l2 3M1171 719l1.5 2.5M1113 731l1.5 0.5M830 828l0.5 1M633 886l3 0.5M845.5 824.5l2 2.5M1276 671.5l2 0M868.5 814l1.5 2.5M888.5 813.5l1.5 1.5M744 861l1.5 2M637.5 894l1 1.5M887.5 820l3 1.5M685 870l2.5 -1M1061.5 748l2 -1M888 807l2 1M981.5 774.5l2 1.5M978 789l1.5 1M1193 704.5l1 1M1234 684.5l1 1.5M813 830.5l1.5 2.5M1130.5 727l3 -1M1165 713.5l1 1.5M960.5 782.5l1.5 2.5M1086 750l2.5 -1.5M636 889l1.5 1M704 877.5l1 2.5M803 847.5l2 -1M920 792l1 1M700 860l3 2M1016.5 766l2 0" stroke="#00faff" stroke-width="1.2"/><path d="M1132 732.5l1 0.5M1249 696l2 0M1246.5 691.5l4 -1M1075.5 756l3 -1.5M641.5 889.5l2.5 0.5M785.5 846.5l1.5 2M1000 791.5l1 0M896.5 819l2.5 1.5M878 820l2 3.5M1088.5 746.5l1.5 2.5M732 867.5l2 3.5M1108.5 737l1.5 0M1284 679.5l1 1.5M634 893.5l1.5 2.5M802.5 850l1 1.5M856 830l3 0" stroke="#00e6ff" stroke-width="2"/><path d="M1114 730l1 1M1246 698l1 1.5M884.5 813.5l2.5 3M1183 714.5l3 -1.5M733.5 871.5l3 -0.5M812.5 837.5l1.5 1M833 830.5l1 1M1136.5 741l1 2M668 886.5l1 1.5M704 872.5l2.5 0M663.5 878l2.5 2.5M713.5 870l2 3M946 791.5l1 -0.5M1016.5 781l2.5 -1M950.5 800l1.5 1M1226 696.5l1.5 2.5M1207.5 696l2 -0.5M963 796l3 -2M717 863l2 -1M946.5 806l1 0.5M930 810.5l2.5 -1M1226.5 700.5l2.5 1.5M770 852.5l1.5 1.5M994 775.5l1 1.5M976.5 786l1.5 0M998 772.5l1 1.5M873.5 812l1 1.5M1212 694l1.5 2M1202 700l1 1M1103 736.5l2 1M928.5 799l2 -1M1086.5 744.5l1.5 0M811 836.5l3.5 0.5M1165 727l2.5 0M917 807l2.5 2.5M1124 727.5l2.5 1.5M944.5 802l1 0M856.5 839.5l1 2M908 804l1 1.5M643 882l3.5 0.5M1244 686l1 2M971.5 785l3 0.5M918 806l3.5 -0.5M1034.5 765l1.5 2.5M710 873l1 2.5M781.5 857.5l3.5 2M996.5 776l1.5 1M1193.5 704l1 1.5M1087.5 754l2 1.5M940.5 809.5l1.5 2M798.5 850.5l1.5 -0.5M808.5 840l2 -0.5M974.5 784.5l3 -1M853 836.5l1.5 0M846.5 825l3 0M637.5 892l1.5 0.5M656.5 885.5l1 -0.5M935.5 790.5l2 3.5M1288 680l2.5 2M946 805.5l1 0.5M669.5 887l1.5 1.5M1137.5 733l2 2.5M712 864l2 0M876 813l1 1M1176 719l1 1.5M1190 707l2.5 1.5M1224 689.5l1.5 2.5M876.5 821.5l1 2M1012 777.5l1 2M1285.5 666.5l1.5 1.5M656 882l1 1M977.5 781l2.5 1M669.5 879l3.5 -1.5M870.5 832.5l1.5 -0.5" stroke="#00f0ff" stroke-width="1.6"/><path d="M651 866l0.5 1M1225 664.5l3.5 2.5M830 813l1.5 2M962 767l2.5 3M1177.5 688l1 2M783 826l1 2M947 768.5l2.5 1.5M1174.5 696l4 -1M897.5 783.5l1.5 2.5M731.5 841l0.5 1M745 842.5l2 0M694.5 856l0.5 1.5M1224 660.5l3 2.5M977.5 751l3 0.5M1236.5 668.5l3 1.5M902 787l1.5 3M1003.5 745.5l2.5 2.5M702.5 841.5l1 2M1105 708.5l2.5 2.5M995 757l1.5 2M989 764.5l1.5 0.5M770 831l1 2M1219.5 672.5l3.5 1.5M640.5 872l1 2M682 858l4 0M985.5 758.5l1.5 -0.5M976 762l1.5 3.5M1005 753l1 1.5M1142.5 692l1.5 2.5M1043 727l4 -1M644 871.5l1 1.5M673.5 865.5l2 0.5M980 761l1 1.5M716 850.5l2.5 2.5M987.5 763.5l2 1M765.5 827.5l3 0.5M1162 698l1.5 2.5M1005 752.5l2 -0.5M912 777.5l1.5 0M1273.5 652l2 1.5M820 812.5l2 -0.5M750.5 836.5l1 2M725.5 842.5l4.5 4M937 776l7 1.5M1113.5 706.5l5.5 7M1093 699l7 1.5M1164.5 694.5l3 3M1220.5 675l7 4.5M798 804l4 4M749 835l4.5 3.5M1187 685l6 5.5M1097 707.5l5.5 8M1251 643l7.5 6.5M842 801l6.5 6M1266 644.5l8 1M1277.5 656.5l6.5 4.5M1157 684.5l6 8.5M1016.5 736.5l8 0" stroke="#2effd1" stroke-width="1.6"/><path d="M1284.5 660.5l1.5 2M1033.5 742l2 0M1081 727l1.5 2M1173 684.5l1.5 1M1150 693l0.5 1M673 874.5l2 2M1186 693.5l2 0M1267.5 659l1.5 0.5M849 818l2.5 2.5M1039 747.5l1 1.5M1262.5 653.5l1.5 3M1279 652.5l2 2.5M999.5 766.5l1.5 0M921 791.5l1 1.5M802.5 835l4 0M1106.5 730l3 2M999 758.5l2 2.5M847 821l1 1.5M794 829.5l1 1.5M1132.5 718l2 2.5M917.5 793.5l1.5 1M1132 713.5l1.5 1M643 881.5l1.5 2.5M820.5 827.5l3.5 0M1256 677.5l2 2.5M1235 666l2.5 -1.5M1012 749.5l1.5 3M779.5 841.5l1 3M1092 728.5l4 0M1078.5 725.5l1 2M1012 757l3 1M1266 666.5l3 2.5M707.5 849l2 -0.5M1049.5 736.5l2.5 2.5M1071.5 740.5l1.5 1M1052.5 750l2.5 -1M955.5 765l2.5 -0.5M1252 674.5l2 3M1041 751.5l2 2.5M1237.5 672.5l1 1.5M709.5 860.5l1.5 -0.5M938.5 782.5l2 3M806 835.5l3 -0.5M1017.5 758l1 2M793 837l1 1.5M1099.5 729l2 3.5M716.5 859l2 3M1198 687l0.5 1.5M860.5 814.5l3 1M923 789.5l3 -1.5M937 788.5l1 2.5M778.5 834.5l3 -1M1152 714.5l2 -1M1278 666.5l0.5 1.5M756.5 833l2 0M893.5 805.5l2.5 0M670 874.5l2 3M959 779.5l0.5 1M870.5 812l1.5 3M941 789.5l1.5 2.5M658 863l1.5 -0.5M752 845.5l3 2M1057 742.5l3 1.5M972 781l1 1M733 835.5l2 3M896 794l2.5 -1.5M1265.5 653l2 0M1014.5 764l3 -1.5M976 775.5l2 1.5M1122 722l3 -1M1047.5 733l1 1.5M1110 728l3.5 -0.5M1180 701l1 1.5M693 855.5l1.5 0" stroke="#1affe5" stroke-width="1.2"/><path d="M1231.5 660l1.5 2M675.5 854l3.5 0M1001 760.5l1.5 3.5M864 804l1.5 1.5M655 874l1 2M640 879l2 2M998.5 752.5l1 1M1235.5 666l2 1.5M974.5 766.5l2 -0.5M889 786.5l3 0M1029.5 747l2 0M1278 664l2 1M959 771.5l2.5 0.5M724.5 853l0.5 1M964 763l3.5 0M1156 694.5l3 2M661 855l1 1.5M756.5 835l1.5 3M962 776.5l3 3M1101.5 713l2 -0.5M870.5 797l1.5 1M1085 710.5l3 4M1178.5 688.5l5.5 5.5M1145 696.5l4 5.5M1042.5 742l5.5 7M1048 732l5.5 4M1244 663.5l4 4M758.5 833l2 2.5M945.5 765l7 6.5M1268 652l3 3M1295 637.5l0.5 1" stroke="#24ffdb" stroke-width="2"/><path d="M1065.5 726.5l2 1.5M1115.5 722l3.5 0.5M1058 726l3.5 1.5M834.5 817l1 1M1086.5 719.5l1.5 -0.5M1134 715l1.5 1.5M825 820.5l1.5 1.5M886 801l2 -0.5M1020 746l2 3M807 820l3.5 1.5M1187 677.5l2.5 -1M860.5 802l1.5 1M1187.5 695l1 1.5M707.5 847l1.5 1.5M740.5 843.5l3 1M1283 653.5l3.5 -0.5M1038 737l2.5 2.5M1010.5 748.5l1 2M1209 681.5l1.5 2.5M996 754l1 2M1270.5 663l3 2M991.5 756l2 0M938 788l1.5 1.5M923.5 790l1 1.5M1188.5 692.5l1.5 0.5M726 852l3.5 0.5M725 853.5l2.5 1.5M1135.5 709l1.5 -1M1131.5 700.5l3.5 1M1250 657l1 2M1280.5 646l1 2M976.5 760.5l1 1.5M1130 712l3.5 0M898 796l0.5 1.5M1099 719.5l1 2M1105.5 720.5l1.5 2.5M919.5 794l3 2M1290.5 648l1.5 1M858 794.5l1.5 0M998 759.5l1 1.5M1200.5 692l3 -0.5M1291.5 659.5l2.5 3M998.5 765.5l2 -1M979 766.5l1.5 2M873 798.5l2.5 2.5M794.5 832l1 1.5M1169 690.5l2.5 2M890 799.5l3.5 0M727.5 844l2 1.5M640.5 877.5l2.5 0M869 796l2 -0.5M1291.5 657l2 3.5M1194 688l2 -0.5M1187.5 677l2 2.5M869 810.5l1 2M982.5 771l1 0M809.5 824l1.5 2M1177.5 696l3 2M641.5 874.5l2.5 1.5M821.5 806.5l2.5 3.5M1155.5 694l8 0.5M1241.5 663l3 2.5M1054.5 728l4 4.5M747.5 827.5l5 3M954 767.5l4.5 -1.5M1267 654.5l3 3.5M782 819l8.5 1" stroke="#24ffdb" stroke-width="1.6"/><path d="M1047 763.5l0.5 2M973.5 789.5l1.5 1.5M1121.5 742.5l2 1M1291 682l1 1.5M894 820l2 1.5M751.5 860.5l3 -1M655.5 889l4 1M662.5 893.5l2 1.5M878 831l2 3.5M1201.5 728l1.5 1.5M1210 712.5l1 0M1104.5 739.5l1 1M1056 764l1.5 -1M1286 678.5l1 1.5M650.5 902l2 3M715 873.5l1.5 2M936 806.5l1 1M963.5 799l1.5 3.5M696.5 879.5l1.5 3M1199 718l2 3M1155 728l1.5 2.5M928.5 817.5l3 -1.5M950.5 800.5l3 0.5M735.5 874.5l2.5 3M831.5 838l2 2.5M732 884l2 0M846 835l2 1.5M1058.5 773l2 1M1200 710.5l1.5 2.5M1263 686l2.5 2" stroke="#00dbff" stroke-width="1.2"/><path d="M868.5 820l2 3M913 803.5l1 2M1154 715.5l1.5 0.5M1277 672l1.5 0.5M1084.5 744l1 1M1113.5 732.5l1 1M937 794l1.5 1.5M919.5 803l3 2M770.5 844.5l2.5 3M975.5 797l3 1M1168 721.5l3.5 2M991.5 778l3.5 -1.5M661 885l1 1M977.5 793l1.5 1M1094.5 754.5l2 1M686 871l1 1.5M1089 746.5l2 3.5M966.5 781.5l2.5 2M1009 766.5l2.5 0M1190.5 710l2 1M1281 675.5l1 1M1009.5 784l3.5 1M707.5 873l1.5 3M691 880.5l1.5 -0.5M769.5 864l1 2M1161.5 726.5l2 3.5M690 882l3.5 0.5M929 814.5l4 0M949.5 805l3 1M727.5 860.5l2 0.5M707 869.5l1.5 1.5M1263 680l3 -1M919.5 802.5l1.5 1M1259.5 685l1.5 1M1285 666.5l1.5 1.5M709 867.5l2 0M836.5 830.5l1.5 1.5M918.5 800l2 3M1290.5 666l1 1.5M692 875l3 1M645.5 887l1.5 2.5M1133 722.5l2 -0.5M834.5 828l2 2.5M903 806.5l3 0M1178 714.5l2 3M1044.5 762l2 -0.5M974 788l2 -0.5M639 892l0.5 2M1221.5 691l1 1.5M1268.5 674l2.5 1M886.5 814.5l2.5 3M1163.5 710.5l2.5 -0.5M1221 699l2 2M996.5 784l3.5 1.5M1069.5 758l1.5 2M700 869l2 -1M666 887.5l1 2.5M1151.5 716l2.5 3M751.5 852l1 1.5M664.5 883.5l2 2M795 849.5l1.5 2.5M790.5 843.5l1.5 1.5M1093 742.5l2 2.5M661.5 888l1 1M899.5 808.5l3.5 1M845.5 826l1.5 2.5M839.5 826.5l1 1.5M798.5 843.5l2.5 1M635.5 889.5l3.5 0M754 849l1 1.5M874 818.5l3 0.5M1257.5 681.5l3 0M1095.5 736.5l1 0.5M932.5 804.5l2.5 -1M1183.5 711l1.5 1M865 827l1.5 3M1204 697l3 2M941 807.5l2.5 3M834.5 832.5l2 1M1155 717l2.5 1M1222 692.5l3 -1M959 794.5l3 2M988 789.5l0.5 1.5M982.5 780l1.5 1.5M681.5 883l2.5 2M1214 695l1.5 0.5M1231 702.5l1.5 2" stroke="#00f0ff" stroke-width="1.2"/><path d="M980.5 792.5l1.5 2.5M1135 717l1 2M1232 693.5l1 1.5M862 820.5l3 2M1032.5 767l1 1M849 822l3.5 1M874.5 814.5l1 3M824 839l2.5 3M776 850l4 -1M734 859l1.5 2M1081.5 748l2.5 3M962.5 791l3 1M794 838.5l2 2M700 874l1.5 -0.5M943.5 799l2 3.5M1078 745l4 -0.5M1190 702l2 3.5M1169 717l2 -1M1199 702l2.5 -1.5M1128 719l1.5 3M1096 731.5l1 2M1256.5 677l1.5 1.5M915.5 815l0.5 1M685.5 878.5l1 1M1102.5 734l3 2M671 884.5l1.5 0M903 809l1 0.5M910.5 813.5l2.5 0" stroke="#00faff" stroke-width="2"/><path d="M1016.5 754l3.5 -0.5M1050.5 744.5l1 1.5M1219.5 682l3.5 -0.5M1118 720l3.5 1M1102.5 716.5l2 1M881.5 804l1.5 3M1091 729l2 -0.5M904 789.5l1.5 0M902 791.5l1 -0.5M735.5 847l1 1M1285 655.5l3 1M1217.5 683l0.5 1M867.5 805l2 2.5M901.5 798l1 0M815 815.5l2.5 2.5M786 826.5l3 1.5M1285.5 661l1.5 3.5M1122.5 709l1.5 1.5M833 820.5l1 1M746 840.5l3.5 1.5M900 795.5l2 0M853 814.5l2.5 3M765.5 843.5l2.5 0M811 810.5l1 2M977.5 772l2.5 2.5M818.5 817.5l4 0.5M773 839.5l3.5 0.5M770.5 838l2.5 0.5M1267 670l1 1.5M1148 706.5l3 -1.5M706 855l1 1M1020 747.5l1.5 2.5M1233 678l1 1.5M961.5 775l1.5 0.5M728.5 853l2.5 2M1289.5 654.5l2 1.5M966.5 755l2 1.5M1029 752l2 2M879 804l3.5 0M736.5 838l2 -0.5M1096 719l1.5 2.5M1208.5 681.5l2.5 -1M727.5 849.5l1.5 1.5M1279.5 655.5l3 -1M844.5 808l1.5 1.5M991 752l4 -1.5M979.5 755l1 1M1199 690l2 1.5M1259 664.5l1.5 0M731.5 841l2.5 2M760 840l1.5 2M1031 741l1 1.5M1051 739l1.5 1M1093.5 714l2 0.5M1105.5 720.5l2.5 1.5M720.5 844l0.5 1M806.5 821.5l3 0M879.5 800.5l2.5 2.5M683.5 856l1 1.5M1110 714l3 -1M773 838l1.5 3M932.5 783.5l2.5 2.5M1130 693l4 5M918.5 778.5l2.5 4M1101.5 707.5l2.5 4M882 790.5l5 6M1219 673.5l4.5 5.5M888.5 789.5l2 3" stroke="#24ffdb" stroke-width="1.2"/><path d="M1230 716l2.5 2M793 867l1 1.5M1128 750l1.5 2.5M988 800.5l3.5 1M795 867l1 1M845 850.5l3.5 1M1029.5 777l3.5 8M864 830.5l6 8M868.5 827.5l3 5M1273 683.5l4 9M756 864l4.5 7.5" stroke="#00bdff" stroke-width="1.6"/><path d="M670.5 856l3 0M1120 699l1 1M726.5 834l2 0.5M1245 663l2 2M1226.5 671.5l3.5 -1.5M991.5 755l3 1M1002.5 753l1.5 2M1152.5 686.5l3.5 -1M1046 730l1.5 2.5M1199.5 673.5l1 1M647 865l2.5 2M1232.5 666l1.5 2M938.5 769l2 2.5M919 781l2 3.5M684 845.5l1.5 2M1021.5 746.5l1 1M958.5 762l3.5 1.5M937 766l2 2.5M1069.5 728.5l2 1M1084.5 715l2 0.5M974.5 760.5l2 3.5M680.5 855.5l1.5 0.5M900.5 789l1.5 3M937 771.5l2 1M1109 715l1.5 2.5M1068 725.5l2.5 1M743 838.5l1.5 0.5M662.5 837l2.5 4M1079 698l3 2M1018.5 722.5l5 6.5M1035.5 716l3 4.5M1147.5 693.5l4 6.5M971.5 753l5.5 -0.5M1215.5 652l2 3" stroke="#38ffc7" stroke-width="1.2"/><path d="M823.5 798l1.5 2.5M984.5 755l2.5 1.5M773 819l1.5 2M1182 680.5l3.5 0M1147 691.5l1.5 2.5M1216.5 667l1.5 2.5M827 808l1.5 3M982.5 741l3 1.5M1179.5 674.5l1.5 2.5M994 748l2.5 2.5M1164.5 686.5l2 3M1123 703l3.5 2.5M933.5 761.5l4 5M693 832.5l7 -1M1119.5 677.5l4 4M1023.5 727l9 0.5M885.5 777.5l3 2M1230 635l5.5 6.5M1139 671.5l3 3.5M1195 662l7 5M1185 666.5l2.5 3M1134.5 684l2.5 2M1259 637.5l3.5 1" stroke="#42ffbd" stroke-width="1.6"/><path d="M1065.5 737l1.5 3.5M1065 747l3 -0.5M769 839.5l1 2M1254.5 670.5l1 1.5M836 811.5l2 3M1102 730.5l1.5 -1M764.5 846.5l2 0M1083 727.5l1.5 1M728 855.5l0.5 1M728 854l2 2.5M771 845l3 -1.5M886.5 805l1 1M647.5 867.5l2.5 3M1121.5 718.5l2.5 2.5M1242 687.5l1 2.5M1241 686l2 3M995 773.5l2.5 1.5M727.5 856.5l1.5 -0.5M684.5 873l2.5 -0.5M1167.5 711l3 2M996 760l1.5 2" stroke="#0ffff0" stroke-width="2"/><path d="M1102.5 734l3 1.5M691 872.5l1.5 -1M1062 757l1.5 1.5M1230.5 689l2 -1M1281.5 672.5l1 1.5M1142.5 719.5l2.5 0.5M759.5 855.5l3.5 -1.5M903 824l3 -1M1238 701.5l0.5 1.5M1147.5 716l2 -0.5M871.5 817.5l1.5 -1M941.5 807.5l1.5 1M1196 718.5l1.5 2.5M1073 750l1 1.5M1220.5 706.5l1 1M646.5 884.5l2 0M1085.5 755.5l2.5 0M1293 675l2 -1M727 863l1 2M813 835l2.5 3" stroke="#00f0ff" stroke-width="2"/><path d="M777 831l4 -0.5M631.5 872.5l1.5 2.5M748.5 840.5l2 -1M786 830.5l1 1M1115.5 707.5l3 2M743.5 832.5l1.5 2M1226.5 656.5l1 2M1175 694.5l1 2M1098 707l2 1.5M1241 668l2.5 -0.5M866 807l2 0M861 796l2.5 0M884 797.5l0.5 1M1016.5 748.5l1 1.5M1258 664l2 1.5M690.5 854l1.5 1M808.5 823l1.5 2.5M1255 664.5l2 2.5M1039 739l4 -1.5M1182.5 694l2.5 1.5M754.5 840.5l2.5 2M647 872.5l2.5 2M881 802.5l2 1.5M1190 682.5l1 1.5M942.5 772.5l2 2M1078 727.5l2.5 2.5M874.5 799l3 2.5M974 763.5l3.5 -1.5M806.5 825.5l1.5 1.5M1115 702l2 3M1099.5 704.5l1 0M923 786l1 2M1151.5 702l3 -1M1226 676.5l2.5 1.5M1223.5 676.5l3 -0.5M1275.5 641.5l7 6" stroke="#2effd1" stroke-width="1.2"/><path d="M1151.5 683.5l2 3M1261.5 654l3.5 1M1155.5 681.5l3 2M1231 664.5l2 0M1127.5 703l3 0.5M983.5 751.5l2 3.5M1038.5 730.5l2.5 2M1286.5 646l1.5 1M1086.5 717.5l1.5 2.5M1221.5 663l1 1.5M1132.5 703l1.5 0M905.5 762l3 3.5M1134.5 688l5 3.5M1171.5 662.5l4.5 4.5M1214.5 647.5l3 3" stroke="#42ffbd" stroke-width="1.2"/><path d="M889.5 824l1 1M661 891.5l3 2.5M887 829l1.5 2.5M945.5 801.5l1.5 2M1200.5 707.5l2 3.5M1203 707.5l4 -1.5M820.5 842.5l3 5.5" stroke="#00dbff" stroke-width="2"/><path d="M1199.5 722l2 3.5M1161 747.5l1.5 0M970 811.5l2.5 2M1281.5 706.5l2.5 3M1035.5 779l2 1M1222.5 716.5l1 2M1118 756l1.5 2.5M816.5 854.5l2 2M1231 715.5l3 0.5M1058 769l1 1M1090.5 758.5l2.5 2.5M872 836.5l2 -1M678 898l2 2M678.5 893l2 3M1071.5 761.5l3.5 1.5M1099.5 760l1 1M1239 706l2 3.5M1113.5 743l2 6.5M1239.5 695.5l4 11" stroke="#00c7ff" stroke-width="1.6"/><path d="M1244 665l2 0M648 866.5l2 1.5M1111 716l3.5 0M1148 693.5l2 0M1223.5 676l1.5 0.5M732.5 844.5l1 2M1104 718.5l1.5 2.5M972 769.5l2.5 2M948 764l2.5 3M1176.5 681.5l1.5 2M876.5 792.5l3.5 0.5M1194 681l1 -0.5M974 760.5l6 6.5M1265.5 647l2.5 2.5M905.5 782l3.5 4.5M987.5 750l3 5.5M1084 717.5l4 3M966.5 747l3.5 3.5M1194 680.5l6 8.5M1287 643.5l3.5 3.5M784.5 830l4 3M806.5 793.5l2 1.5M1012 749.5l2.5 4M1163 695.5l2.5 3.5M1240 651.5l3 4" stroke="#2effd1" stroke-width="2"/><path d="M1112.5 709l2 3M758.5 836l2.5 2M785.5 813.5l3 2.5M949.5 756l1.5 -1M1113 711l2 2M992 756l3.5 0M1264 649.5l1.5 3M1106.5 699.5l5 8M1124 690.5l6 7M1116.5 685l5.5 8M935 750.5l4 0.5M1086.5 697.5l5 4.5M1173.5 663.5l5.5 7M839 782.5l4.5 6M1066.5 723.5l5 5M1170.5 672l2.5 3M712 826l2.5 4M1005.5 749l3.5 5.5M1112 704.5l5 5M874.5 781.5l4.5 7M1052.5 716l4 5.5M1087.5 710l3.5 4" stroke="#38ffc7" stroke-width="2"/><path d="M920 772l3 2M1027 734l1.5 3M1253 650l1.5 2M1119 681l5.5 5.5M677.5 818l5.5 5.5M979.5 732l3 5M945.5 742.5l6.5 5.5M1199.5 635.5l3 5M977 732l5 6.5M1275 624l3 4M809 797.5l6 6M1120 685.5l6 5.5M939 746l5.5 6" stroke="#4dffb3" stroke-width="2"/><path d="M804.5 874l1 2M687 894.5l1 1M1158 738l3.5 0" stroke="#00bdff" stroke-width="1.2"/><path d="M1245.5 728l1.5 2" stroke="#0094ff" stroke-width="1.2"/><path d="M938 765.5l3 0.5M995 730.5l1.5 1.5M1118 688.5l3.5 2M994.5 742.5l1.5 1M1190 665.5l2 2M989 742l1.5 1.5M1000 724.5l5 7.5M1135 679.5l4 4M1028.5 700l6.5 7M907 767l9.5 2" stroke="#4dffb3" stroke-width="1.2"/><path d="M1066.5 713.5l2.5 0.5M962 756.5l1 0.5M1142.5 686.5l2.5 -1.5M881.5 748l4.5 5M1109.5 672.5l5 7.5M1125.5 682l3.5 4.5M787.5 797l3.5 5M989.5 722.5l2 2.5M1248.5 639l5 6M1103 670l3.5 5.5M1117.5 689l6 5.5M865 757.5l3.5 5.5M781.5 799l3 2.5M1089.5 698.5l5 6.5M1048.5 693.5l2.5 2.5M902.5 740l7 7" stroke="#4dffb3" stroke-width="1.6"/><path d="M1263 702l1.5 2M1079.5 760l2.5 0M1104.5 750.5l1.5 -1M817.5 852.5l3 0.5M674.5 889l10.5 12M1067 760l9.5 11.5M1278 684.5l7 12M1013.5 779.5l3 4.5" stroke="#00c7ff" stroke-width="2"/><path d="M1207.5 646.5l2.5 2.5M1215 656l1.5 0.5M1131.5 689l2 2.5M1113 695.5l1.5 2M925.5 742l9 0M1259 615l2.5 3.5M892 741l2.5 4M1255.5 626.5l2.5 3.5M1036 693l3.5 3M1245 626l4.5 3.5M901 736.5l4.5 5.5M1293 617.5l2.5 3M1122.5 672.5l3.5 4M1185.5 637l2.5 1.5M1216 623.5l4 6.5M846.5 767l4 5.5M1210 629.5l4 3.5M956.5 716l4 4.5" stroke="#57ffa8" stroke-width="1.6"/><path d="M1289.5 706.5l1 1.5M869.5 857.5l1.5 1M1266 693.5l5.5 12.5M1108.5 753l5 11.5M629.5 913l5.5 13M996.5 795.5l5.5 13.5M800 860.5l3.5 9.5" stroke="#009eff" stroke-width="1.6"/><path d="M1214 723l1.5 1M1258.5 709l2.5 -0.5" stroke="#00b3ff" stroke-width="1.2"/><path d="M1214.5 727.5l1.5 0M767 864l5.5 7M1165.5 727l3 5.5M1249.5 696.5l7.5 11M760 871.5l5 10.5M1117 747l5 12" stroke="#00a8ff" stroke-width="2"/><path d="M762.5 812.5l1.5 2.5M1045.5 708.5l3 2M994 707l5.5 5.5M965 713.5l3.5 2.5M1257.5 623l6.5 0M860.5 765.5l3.5 3M1183 650l4.5 6.5M1231.5 635l5 6.5M1203.5 637.5l3 4M1200 642l2.5 3M1163 648l4 6M1245 615l7.5 1M1215.5 644l3.5 5.5M1077 675.5l4 4M1277.5 601.5l5.5 7M1146.5 644.5l4 6.5M1153.5 669.5l3.5 4M1267.5 614.5l3 4.5M709 817l4.5 6.5M888.5 753.5l3.5 2.5M1079.5 667l4.5 6M1280.5 594l2.5 3" stroke="#57ffa8" stroke-width="2"/><path d="M1206 718.5l2.5 -1.5M1052.5 768l2 3M801.5 851.5l3.5 0M863.5 833l1 -0.5M1130 746.5l1 1.5M1250 706.5l2.5 0.5M1132 735l3.5 7" stroke="#00d1ff" stroke-width="2"/><path d="M899 773l3.5 0.5M710 839.5l1 1M1268 639.5l7 7M1153.5 672.5l2.5 3M732 824l4 5M1139.5 685.5l6.5 4M997 734l5 6M1229 634.5l3 2.5M1223.5 645.5l3 2.5M1137.5 681l5 7M1292.5 629.5l3 0.5M869 779.5l4.5 3M799.5 792.5l5.5 7M1229.5 639.5l5 7.5M1022.5 723.5l3 3.5M905 749l5.5 6M883 768.5l4.5 5.5M1234 636l3.5 5.5M1138.5 668.5l2 2.5" stroke="#42ffbd" stroke-width="2"/><path d="M936 755.5l1 1M844.5 773l7 5M1266.5 608.5l4.5 5" stroke="#57ffa8" stroke-width="1.2"/><path d="M1259.5 703l3 -1.5M776.5 862l4 8M687.5 889.5l6.5 10M882 823.5l3.5 4.5M878 825l3.5 7.5M1177.5 724.5l5 13.5M1001 784l6.5 13M683.5 888.5l8 9.5M1099 752l3.5 6.5" stroke="#00bdff" stroke-width="2"/><path d="M798 873l2 3M1072.5 764l9.5 11.5M1173.5 721.5l5 13M1092.5 759l6 8M1269.5 693.5l7.5 12.5M1077 757.5l7 14.5M628.5 912l6 11M670 890.5l3 8M1008.5 784.5l5 6.5M631 910l6 8.5M935 816l3.5 9.5M1064.5 759l4 8.5M796 852.5l6 10.5" stroke="#00a8ff" stroke-width="1.6"/><path d="M980.5 810.5l1 1.5M955.5 803.5l5 9M1060.5 767.5l4.5 13.5M979.5 795.5l5 8.5M1247 700l4.5 12.5" stroke="#00b3ff" stroke-width="2"/><path d="M1176.5 649.5l2.5 -1" stroke="#8aff75" stroke-width="1.2"/><path d="M1267.5 611.5l1.5 1.5" stroke="#94ff6b" stroke-width="1.2"/><path d="M1093.5 675.5l2.5 4.5M1270 597.5l3 3.5M1292 579l3.5 3M924 728l5 5.5M1113 644.5l3 2.5M1291.5 576.5l2.5 2M1212.5 609.5l3 4.5M1150.5 634l5.5 7.5M1237 555l9.5 2.5M886.5 740l5 6.5M1227.5 580l2.5 3.5M1259.5 589.5l7 4.5M1128 649l3 3M1051 639.5l2.5 2M1027.5 690l4.5 3M1249.5 586l3.5 5M1083 631.5l6.5 6.5M1197.5 613l6.5 6.5M1167.5 650.5l5.5 8M928 727.5l3 2.5M1254.5 604.5l7.5 5.5M1246 606l4.5 3M1253 623.5l3 4.5M1242.5 592l4 2.5M1102 617.5l3.5 3.5M1263 559l5.5 -2M978 684.5l7 6.5M1207.5 610.5l7 5M1066.5 630.5l2.5 3.5M970.5 710.5l3.5 3M862.5 716l5.5 4M1279.5 492l3 4M1029 689l6 6.5M1133 547l3.5 3.5M1228.5 548l6.5 4.5M1274.5 588l5.5 5.5M1106.5 656.5l3 3M1207 609.5l5 6.5M1213 619.5l4.5 6M1263 603.5l3 5M1276 587l9 -2.5M1231.5 601.5l4.5 3.5M1121 658l5.5 6M1257.5 565.5l6.5 6M1196 603.5l2.5 2.5M1291 586l3 4M1198.5 619.5l4.5 3M1240 598l7.5 5.5M1149 646l8 -3M1267.5 610.5l3.5 5.5M972.5 678l6.5 5M1202 637l5.5 7.5M789.5 777l4 0M844.5 748.5l3 4M1093 651l7 5.5M1057 660.5l6.5 7M986.5 687.5l3 1.5M973 712.5l7.5 5M1210.5 610.5l3.5 5" stroke="#61ff9e" stroke-width="1.6"/><path d="M1221.5 564.5l5.5 3.5M1235 627l6 6M1279.5 599l6.5 5.5M1135.5 644.5l5.5 4M1265 578l7 -0.5M1011 691l2.5 3M1208 589.5l3 3.5M1225 585.5l5.5 3.5M1244 528.5l3 2.5M1113.5 618.5l6 8M1256 569.5l5.5 7.5M1101.5 654.5l4 4M1276 577l4 6M1241 597l4 3.5M930 721.5l6 5M855.5 755l6.5 -1M1210 623.5l5 5M1255 624.5l6 0.5M1194.5 602.5l5 1M1258.5 609.5l2.5 4M1240.5 589.5l6 6M1201.5 613.5l3.5 6M1226 605l2.5 4.5M1018 649l6 4M1042 678.5l3.5 5M1179 636.5l2 3M1091.5 639.5l6 5.5M1162 561.5l5 6.5M1146 639.5l3 3.5M1278.5 594.5l3.5 4.5M984.5 714.5l3.5 3.5M990 699.5l2.5 3M1003.5 673.5l4 6M949.5 723.5l5 3.5M1144.5 604.5l3 3.5M880.5 728.5l4.5 7M1154 637l2.5 2.5M871 737.5l7 7M960 657.5l7 0.5M862 704.5l4.5 5.5M1252.5 548.5l4.5 4.5M1270 540.5l5 7.5M1163.5 643l4 5M894 724l3.5 5.5M1220.5 547l6.5 7M850 742l4 3.5M1248 554l8.5 -1M1036 691l4.5 4M1268 569l2.5 2M1267 583.5l8 6" stroke="#61ff9e" stroke-width="2"/><path d="M726.5 775l4 3M1285 594l5 3.5M1239.5 608.5l2.5 4M1240.5 598l6.5 6.5M893.5 691l9.5 1.5M997 691l7 5.5M1241.5 611l6.5 6.5" stroke="#61ff9e" stroke-width="1.2"/><path d="M933.5 831l4 10M1243.5 719l3.5 9M1118.5 765.5l5 13M892.5 848l2.5 7.5M968.5 827l5.5 10.5M805 880.5l5.5 10M1252 716.5l7 13M1005.5 810l9.5 12.5" stroke="#0057ff" stroke-width="1.6"/><path d="M1176.5 722l9.5 12.5M649 900l2 5M800.5 859l5 13M1207 715.5l3.5 6M682.5 889l4.5 12.5M1222.5 708.5l6.5 14.5M1091 764.5l3 6.5" stroke="#009eff" stroke-width="2"/><path d="M767 873.5l5 11.5M940.5 816l4.5 6M767.5 876.5l4.5 9.5M799.5 862.5l5.5 13.5M1017.5 791l3 5.5M976 805l4 9.5" stroke="#0094ff" stroke-width="1.6"/><path d="M647.5 936.5l7.5 12M802.5 892l3 9.5M932 847.5l6.5 9" stroke="#002eff" stroke-width="1.6"/><path d="M796.5 910l6 11M871.5 878l8.5 10.5M1147 787l6 7.5M889 869.5l3 5M1262 760l8.5 11M1222 749.5l5.5 7" stroke="#000fff" stroke-width="2"/><path d="M1064 796.5l4 6M1202 742.5l8 11M1149 765.5l4 7" stroke="#002eff" stroke-width="2"/><path d="M755 903l6.5 11M1247.5 737.5l7 13M970 830l3.5 7.5" stroke="#0024ff" stroke-width="1.6"/><path d="M1101.5 775.5l4.5 5M1256.5 720l6 8M799 877.5l2.5 6M1175.5 752.5l4 9M818 871l3 4" stroke="#004dff" stroke-width="2"/><path d="M848.5 866l6.5 13M749.5 893.5l3.5 6.5M991.5 813.5l5.5 14.5M1004 807.5l4 5.5M842.5 865l5.5 9M1200 742l3 7.5" stroke="#0057ff" stroke-width="2"/><path d="M745.5 913l3 5" stroke="#001aff" stroke-width="1.6"/><path d="M660.5 890.5l3 6" stroke="#00c7ff" stroke-width="2.4"/><path d="M637 944.5l4 12M1048 839l6 12" stroke="#000fff" stroke-width="2.4"/><path d="M1081 762l5.5 8.5M812.5 852l3 5M762.5 876l5.5 6.5M1026 780l3.5 6.5M887.5 836l8.5 9M1102.5 756l5.5 12.5M640 904.5l6 7.5M829 854l2.5 7.5M1132 746l2 5.5" stroke="#0094ff" stroke-width="2"/><path d="M864.5 869l6 6.5" stroke="#0024ff" stroke-width="2.4"/><path d="M655.5 918.5l2.5 5M884.5 845.5l4 6M741.5 895.5l4 10.5M1248.5 719l6 13.5M883.5 845.5l6 7.5M1060 782.5l7 10.5" stroke="#0061ff" stroke-width="2"/><path d="M1027.5 799l6 7M1229.5 715.5l3.5 6M700 898l8 10.5M1061.5 781.5l3 5.5M1070 781l2.5 6M1059.5 785l1.5 5" stroke="#0075ff" stroke-width="1.6"/><path d="M1212.5 708.5l2.5 6.5M1126 744.5l7.5 13M1141.5 742l8 11.5M1140 740l2 5.5" stroke="#00a8ff" stroke-width="2.4"/><path d="M1266 699l7.5 14M1263.5 709l5.5 10M881 836.5l5 11M1124 758l6 10.5M776.5 874.5l7.5 11.5M1253.5 708.5l3.5 4.5" stroke="#0080ff" stroke-width="2"/><path d="M910 848l6.5 12" stroke="#004dff" stroke-width="2.4"/><path d="M1042.5 773l8 13M1189.5 723l7.5 10.5M664 898.5l5.5 8M1118 751l2.5 6.5" stroke="#009eff" stroke-width="2.4"/><path d="M712.5 926l2 4.5M751.5 929l3 9M1143.5 781.5l6.5 11.5M993.5 838.5l4.5 8.5M943.5 856l3 7.5M927.5 893.5l5.5 7M1088.5 810l4 10M869 885.5l3 6.5M874.5 898l8 13" stroke="#000fff" stroke-width="1.6"/><path d="M956.5 802l4 10" stroke="#00bdff" stroke-width="2.4"/><path d="M1243 723.5l5 11.5M1240 734.5l9.5 13M877 855.5l8 13.5" stroke="#0042ff" stroke-width="2"/><path d="M1161 758l4.5 5.5M1201 738l8.5 10M859 859l5 11.5M845 864.5l3.5 4M1182.5 746l4 5M636.5 926l8.5 9.5" stroke="#004dff" stroke-width="1.6"/><path d="M901.5 819l3.5 8.5M1042 766.5l4 12" stroke="#00b3ff" stroke-width="2.4"/><path d="M964 810l4 10M743.5 893.5l7 9" stroke="#0075ff" stroke-width="2.4"/><path d="M1180 736l6.5 10.5M1163.5 744l8 11M730 881l2 5M1159 745l3.5 5M650 905l2.5 7M879 840l9 10.5M805 859.5l1.5 4.5M1258 702.5l2.5 6M1241.5 710.5l3.5 10" stroke="#008aff" stroke-width="2"/><path d="M1108 768l6 7.5M665.5 915l3 5M975.5 817.5l7 9" stroke="#006bff" stroke-width="2"/><path d="M1092.5 784l3.5 9.5M1042.5 804.5l2 5.5M777 896.5l3 7.5" stroke="#0038ff" stroke-width="2"/><path d="M1267 708.5l4 10M932 829.5l3.5 6.5M666.5 908l7.5 11.5" stroke="#0075ff" stroke-width="2"/><path d="M988 830l5.5 9M720.5 914.5l5 14.5" stroke="#001aff" stroke-width="2"/><path d="M807.5 862.5l4.5 11M809 870.5l9 11.5" stroke="#0080ff" stroke-width="1.6"/><path d="M1101.5 768.5l3.5 8.5M891 845l4.5 7.5M1081.5 774.5l5.5 13.5M1018 795.5l4.5 10M667.5 908l3.5 8.5M957.5 820l3 5.5M1289.5 701.5l6 11M1261 707l2.5 5" stroke="#006bff" stroke-width="1.6"/><path d="M957.5 823.5l3.5 7M1176.5 739.5l2 6" stroke="#0061ff" stroke-width="1.6"/><path d="M1014 785.5l2.5 6M1109.5 754.5l8 12.5" stroke="#0094ff" stroke-width="2.4"/><path d="M985 819.5l9 12.5M818.5 878.5l5.5 13.5M1143 764.5l5.5 11.5" stroke="#0042ff" stroke-width="2.4"/><path d="M1126.5 754l4 10" stroke="#008aff" stroke-width="1.6"/><path d="M1288 709.5l3.5 11M712.5 915l6.5 9.5" stroke="#0038ff" stroke-width="1.6"/><path d="M1064.5 790.5l5 8M791.5 881l4.5 5.5" stroke="#0042ff" stroke-width="1.6"/><path d="M957.5 807.5l7 13.5" stroke="#008aff" stroke-width="2.4"/><path d="M987 824l5 9" stroke="#0038ff" stroke-width="2.4"/></g>
<g fill="none" stroke-width="2.3" stroke-linejoin="round" stroke-linecap="round"><polyline points="112.3,586 114,587.4" stroke="#00c7ff"/><polyline points="114,587.4 117.2,587.5" stroke="#00c5ff"/><polyline points="117.2,587.5 119.4,587.6" stroke="#00c4ff"/><polyline points="119.4,587.6 120.6,590.2" stroke="#00c3ff"/><polyline points="120.6,590.2 121.9,590.2" stroke="#00c1ff"/><polyline points="121.9,590.2 125.2,591.2" stroke="#00c0ff"/><polyline points="125.2,591.2 127.1,592" stroke="#00beff"/><polyline points="127.1,592 129.4,594.6" stroke="#00bdff"/><polyline points="129.4,594.6 130.9,597.6" stroke="#00bbff"/><polyline points="130.9,597.6 133.3,599.1" stroke="#00baff"/><polyline points="133.3,599.1 135.3,599.4" stroke="#00b8ff"/><polyline points="135.3,599.4 136,601.8" stroke="#00b7ff"/><polyline points="136,601.8 138.8,601.9" stroke="#00b5ff"/><polyline points="138.8,601.9 141.1,603.6" stroke="#00b4ff"/><polyline points="141.1,603.6 143.1,604.7" stroke="#00b3ff"/><polyline points="143.1,604.7 145.3,608.3" stroke="#00b1ff"/><polyline points="145.3,608.3 146.7,607.7" stroke="#00b0ff"/><polyline points="146.7,607.7 149.3,608.8" stroke="#00afff"/><polyline points="149.3,608.8 149.6,612.6" stroke="#00adff"/><polyline points="149.6,612.6 151.5,613.8" stroke="#00acff"/><polyline points="151.5,613.8 153.5,614.3" stroke="#00abff"/><polyline points="153.5,614.3 155.4,616.5" stroke="#00aaff"/><polyline points="155.4,616.5 158.3,617.6" stroke="#00a8ff"/><polyline points="158.3,617.6 160.1,619.7" stroke="#00a7ff"/><polyline points="160.1,619.7 161.9,619.9" stroke="#00a6ff"/><polyline points="161.9,619.9 163.5,622.7" stroke="#00a5ff"/><polyline points="163.5,622.7 165.4,625.3" stroke="#00a4ff"/><polyline points="165.4,625.3 166.1,625.6" stroke="#00a3ff"/><polyline points="166.1,625.6 168,629" stroke="#00a2ff"/><polyline points="168,629 169,629.5" stroke="#00a0ff"/><polyline points="169,629.5 171.6,630.5" stroke="#009fff"/><polyline points="171.6,630.5 172.7,633.1" stroke="#009eff"/><polyline points="172.7,633.1 174.5,633.9" stroke="#009cff"/><polyline points="174.5,633.9 176.6,636.8" stroke="#009aff"/><polyline points="176.6,636.8 176.9,639.9" stroke="#0098ff"/><polyline points="176.9,639.9 179.4,640.8" stroke="#0096ff"/><polyline points="179.4,640.8 180.6,641 183,643.5 185.3,646 186.3,645 188.4,648.5 190.8,648.8 191.9,650 194.1,651 195.6,652.5" stroke="#0094ff"/><polyline points="195.6,652.5 198.8,654.5" stroke="#0093ff"/><polyline points="198.8,654.5 201.1,654.9" stroke="#0091ff"/><polyline points="201.1,654.9 201.8,656.4" stroke="#0090ff"/><polyline points="201.8,656.4 204.9,659.5" stroke="#008fff"/><polyline points="204.9,659.5 205.4,660.2" stroke="#008eff"/><polyline points="205.4,660.2 208.1,662.3" stroke="#008cff"/><polyline points="208.1,662.3 210.8,662.9" stroke="#008bff"/><polyline points="210.8,662.9 211.8,663.6 212.6,665.2 216,667.2 217.1,668.9 217.9,672 221.1,673 222.3,673 224.4,675.7 225.8,679 228.4,677.7 230.2,678.7 233.9,680.2 234.1,683.6" stroke="#008aff"/><polyline points="234.1,683.6 236.8,683.9" stroke="#0088ff"/><polyline points="236.8,683.9 238.3,684" stroke="#0087ff"/><polyline points="238.3,684 240,687" stroke="#0086ff"/><polyline points="240,687 242.2,688.1" stroke="#0085ff"/><polyline points="242.2,688.1 245.2,691.3" stroke="#0083ff"/><polyline points="245.2,691.3 247.3,691.7" stroke="#0082ff"/><polyline points="247.3,691.7 248.9,691.9" stroke="#0081ff"/><polyline points="248.9,691.9 249.5,693.7 253.1,696.1 253.8,696.6 256.8,699.5 258.8,700.9 260.5,700.4 262.4,704 264.6,702.4 265.7,705.4 266.7,706.1 270.2,710.3 270.9,711.6 273.5,713.9 274.6,714.1 278.2,713.8 279.7,714.4 282.5,715.7 283.4,717.2" stroke="#0080ff"/><polyline points="283.4,717.2 285.8,720" stroke="#007dff"/><polyline points="285.8,720 288.3,721.4" stroke="#007bff"/><polyline points="288.3,721.4 288.8,721.5" stroke="#0079ff"/><polyline points="288.8,721.5 290.8,723" stroke="#0077ff"/><polyline points="290.8,723 293.5,724.4 295.5,724.9 297.4,728.4 300.2,728.5 302.9,730.9 304.8,730.5 306.2,731.3 308.4,733.9 309.1,734.2 311.3,737.4 313,736.1 316.1,738.3 318,740.7 318.7,739.5 321.4,740.8 324,744.2 324.4,743.4 327.8,745 329.1,745.8 331.6,748.7 332.3,749.8" stroke="#0075ff"/><polyline points="332.3,749.8 333.2,753.1" stroke="#0073ff"/><polyline points="333.2,753.1 333.5,756.1" stroke="#0071ff"/><polyline points="333.5,756.1 333.8,757.7" stroke="#006fff"/><polyline points="333.8,757.7 334.5,760.7" stroke="#006dff"/><polyline points="334.5,760.7 337.7,761.8 339.6,763 341.5,762.9 341.7,763.9 343.9,767 345.6,767.2 348.7,768.5 351,768.8 352.4,771.1 355.1,772.1 356.3,773.2 358.6,775.7 361.2,776.3 363.1,776.3" stroke="#006bff"/><polyline points="363.1,776.3 365.7,777.7" stroke="#006aff"/><polyline points="365.7,777.7 366.8,780.8" stroke="#0069ff"/><polyline points="366.8,780.8 369.4,782.9" stroke="#0067ff"/><polyline points="369.4,782.9 371.7,782.6" stroke="#0066ff"/><polyline points="371.7,782.6 372.9,785.7" stroke="#0065ff"/><polyline points="372.9,785.7 375.8,787.4" stroke="#0063ff"/><polyline points="375.8,787.4 376.7,788.2" stroke="#0062ff"/><polyline points="376.7,788.2 379.2,788.7 381,792.1 382.2,793.1 384.7,794.4 385.1,797.3 386.9,799.5 389.4,796.3 391.8,796.5 395,794.5 396.3,793.3 397.9,793.4 400.1,792.7 402.5,790 405.1,790 405.6,792.2" stroke="#0061ff"/><polyline points="405.6,792.2 408,792.2" stroke="#005fff"/><polyline points="408,792.2 408.9,795.8" stroke="#005eff"/><polyline points="408.9,795.8 410,797.2" stroke="#005dff"/><polyline points="410,797.2 411.7,799.4" stroke="#005bff"/><polyline points="411.7,799.4 413.4,799.4" stroke="#005aff"/><polyline points="413.4,799.4 415,800.4" stroke="#0058ff"/><polyline points="415,800.4 418,802.7 419.7,803.3 421.7,803.7 423.6,804.9 425.4,806.2 428.3,808.4 429.4,807.8 431.8,808.6 434.3,805 437.1,806 440.3,804.9 442.8,805.5" stroke="#0057ff"/><polyline points="442.8,805.5 444.2,808.1" stroke="#0056ff"/><polyline points="444.2,808.1 445.6,807.1" stroke="#0054ff"/><polyline points="445.6,807.1 447.8,809.5" stroke="#0053ff"/><polyline points="447.8,809.5 449.5,809.5" stroke="#0052ff"/><polyline points="449.5,809.5 451.9,811.7" stroke="#0051ff"/><polyline points="451.9,811.7 454.3,811.7" stroke="#0050ff"/><polyline points="454.3,811.7 455.4,812.7" stroke="#004fff"/><polyline points="455.4,812.7 457.8,814.2" stroke="#004eff"/><polyline points="457.8,814.2 460.2,815.9" stroke="#004dff"/><polyline points="460.2,815.9 462.3,816.6" stroke="#004bff"/><polyline points="462.3,816.6 463,819.2" stroke="#004aff"/><polyline points="463,819.2 465.5,819.8" stroke="#0049ff"/><polyline points="465.5,819.8 467.1,819.7" stroke="#0048ff"/><polyline points="467.1,819.7 469,820.9" stroke="#0047ff"/><polyline points="469,820.9 470.4,824.3" stroke="#0046ff"/><polyline points="470.4,824.3 473.4,823.9" stroke="#0045ff"/><polyline points="473.4,823.9 475.6,824.7" stroke="#0044ff"/><polyline points="475.6,824.7 477.1,827.4" stroke="#0043ff"/><polyline points="477.1,827.4 478.9,829.2" stroke="#0042ff"/><polyline points="478.9,829.2 480.7,830" stroke="#0041ff"/><polyline points="480.7,830 482.3,831.1" stroke="#0040ff"/><polyline points="482.3,831.1 484.3,830.9" stroke="#003fff"/><polyline points="484.3,830.9 487.6,832.2" stroke="#003eff"/><polyline points="487.6,832.2 488.3,832.9" stroke="#003dff"/><polyline points="488.3,832.9 491.3,834" stroke="#003cff"/><polyline points="491.3,834 492.9,838" stroke="#003aff"/><polyline points="492.9,838 495.9,837.5" stroke="#0039ff"/><polyline points="495.9,837.5 496.3,837.8" stroke="#0038ff"/><polyline points="496.3,837.8 498.4,841" stroke="#0036ff"/><polyline points="498.4,841 499.9,842" stroke="#0034ff"/><polyline points="499.9,842 503,843.2" stroke="#0032ff"/><polyline points="503,843.2 503.6,844.6" stroke="#0030ff"/><polyline points="503.6,844.6 507.1,845.8" stroke="#002eff"/><polyline points="507.1,845.8 507.7,846.7" stroke="#002cff"/><polyline points="507.7,846.7 509.8,847.9" stroke="#002aff"/><polyline points="509.8,847.9 512,850.9" stroke="#0028ff"/><polyline points="512,850.9 513,849.6" stroke="#0026ff"/><polyline points="513,849.6 514,851.8" stroke="#0024ff"/><polyline points="514,851.8 515.4,854.4" stroke="#0021ff"/><polyline points="515.4,854.4 515.6,858.2" stroke="#001fff"/><polyline points="515.6,858.2 515.5,859.8" stroke="#001cff"/><polyline points="515.5,859.8 517.9,861.3" stroke="#001aff"/><polyline points="517.9,861.3 519.7,863.4" stroke="#0018ff"/><polyline points="519.7,863.4 520.7,865.4" stroke="#0017ff"/><polyline points="520.7,865.4 523.4,865.2" stroke="#0015ff"/><polyline points="523.4,865.2 524.3,867.5" stroke="#0014ff"/><polyline points="524.3,867.5 527.2,869" stroke="#0012ff"/><polyline points="527.2,869 528.3,870.7" stroke="#0011ff"/><polyline points="528.3,870.7 531.3,873.5" stroke="#000fff"/><polyline points="531.3,873.5 532.2,874.8" stroke="#000eff"/><polyline points="532.2,874.8 534.9,875.5" stroke="#000dff"/><polyline points="534.9,875.5 537.1,877" stroke="#000cff"/><polyline points="537.1,877 539.6,877.2" stroke="#000bff"/><polyline points="539.6,877.2 540.1,877.4" stroke="#000aff"/><polyline points="540.1,877.4 542.3,879.1" stroke="#0008ff"/><polyline points="542.3,879.1 544.2,880.8" stroke="#0007ff"/><polyline points="544.2,880.8 547.1,882.2" stroke="#0006ff"/></g>
<g fill="none" stroke-width="1.1" stroke-linejoin="round" stroke-linecap="round"><polyline points="547.1,882.2 549.3,884.9" stroke="#0061ff"/><polyline points="549.3,884.9 550.7,884.6" stroke="#0062ff"/><polyline points="550.7,884.6 553,886.3" stroke="#0063ff"/><polyline points="553,886.3 555,888.3" stroke="#0064ff"/><polyline points="555,888.3 556.6,891" stroke="#0065ff"/><polyline points="556.6,891 558.6,890" stroke="#0066ff"/><polyline points="558.6,890 559.6,891.2" stroke="#0067ff"/><polyline points="559.6,891.2 562.4,895" stroke="#0068ff"/><polyline points="562.4,895 564.3,896.6" stroke="#0069ff"/><polyline points="564.3,896.6 565.8,896.7" stroke="#006aff"/><polyline points="565.8,896.7 568.2,898.5 569.4,897.8 570.7,900.3 573.7,900.8 575.2,902 577.9,903.5 580.2,902.8 582.3,906.4 584,905.1 585.7,905.5 586.9,907.5 590.6,908.9 591.2,911 594.8,909.5 595.7,910.2 597.6,912.7 600,911.3 603.6,910.9 606,912.8 608.9,909.5 610.5,909.8 612.2,910.9 614.8,910.1 618.2,908.1 619.8,909.9 621.9,908.7 625,908.6 626.5,909.8" stroke="#006bff"/></g>
<g fill="none" stroke-width="2.1" stroke-linejoin="round" stroke-linecap="round"><polyline points="320,735 322,734.2 324.2,735.8 328,736.3 329.1,737.1 333,738.6 335.8,738.2 336.4,740" stroke="#0094ff"/><polyline points="336.4,740 338.7,740.7" stroke="#0092ff"/><polyline points="338.7,740.7 341,742.4" stroke="#0091ff"/><polyline points="341,742.4 343.1,742.6" stroke="#0090ff"/><polyline points="343.1,742.6 344.9,745.3" stroke="#008eff"/><polyline points="344.9,745.3 346.4,747.2" stroke="#008dff"/><polyline points="346.4,747.2 347.3,749.4" stroke="#008bff"/><polyline points="347.3,749.4 349.7,750.3 352.2,748.8 354.5,751.8 356.9,750.4 360.3,752.7 361.6,754.7 364,753.7 365.1,754.9 366.6,757.9 369.3,759.7 370.6,759.5 371.8,762.3 374.4,764.1" stroke="#008aff"/><polyline points="374.4,764.1 377.2,764" stroke="#0088ff"/><polyline points="377.2,764 377.8,767.4" stroke="#0086ff"/><polyline points="377.8,767.4 381.3,767.1" stroke="#0085ff"/><polyline points="381.3,767.1 383.3,769.9" stroke="#0083ff"/><polyline points="383.3,769.9 385.1,770.2" stroke="#0081ff"/><polyline points="385.1,770.2 386.6,769.9 389.4,772.4 390.6,773.4 393.4,775.8 395.7,776.7 398.7,776.3 399.6,778.1 401.4,780.5 405,780.3 406.1,779.9 409.4,782.5 411.3,783.8 413.5,783.3 415.3,785" stroke="#0080ff"/><polyline points="415.3,785 417.7,783.4" stroke="#007eff"/><polyline points="417.7,783.4 419.3,787" stroke="#007dff"/><polyline points="419.3,787 422,784.9" stroke="#007bff"/><polyline points="422,784.9 423,788.8" stroke="#007aff"/><polyline points="423,788.8 425.9,787.9" stroke="#0078ff"/><polyline points="425.9,787.9 428,789.5" stroke="#0077ff"/><polyline points="428,789.5 429.6,790.4 433.3,790.6 434.4,791 437,791 439.6,790.4 443,792.5 445,792" stroke="#0075ff"/></g>
<g fill="none" stroke-width="1.7" stroke-linejoin="round" stroke-linecap="round"><polyline points="330,733 332.1,732.6 334.6,732.4 337.8,733.4 340.9,735.1 342.8,733.3 345.1,736.5 346.1,738 348.2,738.2 349.7,738.8 351.5,741.3 353.3,742.7 355.5,745.5 357.9,743.1" stroke="#0094ff"/><polyline points="357.9,743.1 360.3,746.3" stroke="#0092ff"/><polyline points="360.3,746.3 362.9,746.4" stroke="#0091ff"/><polyline points="362.9,746.4 364.5,745.2" stroke="#0090ff"/><polyline points="364.5,745.2 366.7,747.4" stroke="#008eff"/><polyline points="366.7,747.4 369.2,748.8" stroke="#008dff"/><polyline points="369.2,748.8 372.6,747" stroke="#008bff"/><polyline points="372.6,747 373.4,749.1 375.8,752 378.2,751.3 378.4,754.2 381.2,755.5 382.5,756.8 385,758.5 385.7,759.1 388.8,758.7 389.9,759.4" stroke="#008aff"/><polyline points="389.9,759.4 391.9,762.4" stroke="#0088ff"/><polyline points="391.9,762.4 394.6,763.2" stroke="#0087ff"/><polyline points="394.6,763.2 395.7,762.2" stroke="#0086ff"/><polyline points="395.7,762.2 398.5,763.7" stroke="#0085ff"/><polyline points="398.5,763.7 400.1,762.4" stroke="#0083ff"/><polyline points="400.1,762.4 403.8,764.9" stroke="#0082ff"/><polyline points="403.8,764.9 404.9,765.5" stroke="#0081ff"/><polyline points="404.9,765.5 406.7,767.2 407.9,769.3 410.7,770.4 410.6,771.2 412.7,772.5 413.9,774.3 416.3,776.6 418,778" stroke="#0080ff"/></g>
<g fill="none" stroke-width="2.7" stroke-linejoin="round" stroke-linecap="round"><polyline points="627,966.8 627.6,970.3" stroke="#0038ff"/><polyline points="627.6,970.3 628.6,972.9" stroke="#0036ff"/><polyline points="628.6,972.9 628.4,972.8" stroke="#0033ff"/><polyline points="628.4,972.8 629.2,976.2" stroke="#0031ff"/><polyline points="629.2,976.2 628.6,977" stroke="#002fff"/><polyline points="628.6,977 630.2,981" stroke="#002cff"/><polyline points="630.2,981 629.8,983.5" stroke="#002aff"/><polyline points="629.8,983.5 630.6,983.9" stroke="#0028ff"/><polyline points="630.6,983.9 630.7,988.5" stroke="#0025ff"/><polyline points="630.7,988.5 632,989.9" stroke="#0023ff"/><polyline points="632,989.9 631.2,990.7" stroke="#0021ff"/><polyline points="631.2,990.7 632.7,993.5" stroke="#001eff"/><polyline points="632.7,993.5 632.2,996.1" stroke="#001cff"/><polyline points="632.2,996.1 632.3,1000.3" stroke="#001aff"/><polyline points="632.3,1000.3 633.9,1002" stroke="#0018ff"/><polyline points="633.9,1002 632.8,1003.5" stroke="#0016ff"/><polyline points="632.8,1003.5 634.5,1004.8" stroke="#0015ff"/><polyline points="634.5,1004.8 634,1008.3" stroke="#0013ff"/><polyline points="634,1008.3 634.1,1009.5" stroke="#0011ff"/><polyline points="634.1,1009.5 635.7,1013.9" stroke="#0010ff"/><polyline points="635.7,1013.9 634.9,1016.1" stroke="#000eff"/><polyline points="634.9,1016.1 634.9,1016.2" stroke="#000dff"/><polyline points="634.9,1016.2 635.2,1019.4" stroke="#000bff"/><polyline points="635.2,1019.4 636.3,1022.9" stroke="#0009ff"/><polyline points="636.3,1022.9 636.2,1025" stroke="#0008ff"/><polyline points="636.2,1025 636.6,1026.3" stroke="#0006ff"/><polyline points="636.6,1026.3 637.5,1027.2" stroke="#0005ff"/><polyline points="637.5,1027.2 637.9,1029.9" stroke="#0003ff"/><polyline points="637.9,1029.9 639,1031.9" stroke="#0001ff"/><polyline points="639,1031.9 638.2,1035.7" stroke="#0000ff"/><polyline points="638.2,1035.7 639.7,1038.6" stroke="#0000fd"/><polyline points="639.7,1038.6 639.3,1039.9" stroke="#0000fc"/></g>
<g fill="none" stroke-width="2.7" stroke-linejoin="round" stroke-linecap="round"><polyline points="640.6,961.4 641.4,962.6" stroke="#0038ff"/><polyline points="641.4,962.6 643.4,965.2" stroke="#0036ff"/><polyline points="643.4,965.2 643.2,966.1" stroke="#0033ff"/><polyline points="643.2,966.1 645.3,970.6" stroke="#0030ff"/><polyline points="645.3,970.6 646.4,971.2" stroke="#002eff"/><polyline points="646.4,971.2 646.1,972.2" stroke="#002bff"/><polyline points="646.1,972.2 647.6,975.5" stroke="#0029ff"/><polyline points="647.6,975.5 648.8,976.7" stroke="#0026ff"/><polyline points="648.8,976.7 648.9,978.5" stroke="#0024ff"/><polyline points="648.9,978.5 651.1,981.4" stroke="#0022ff"/><polyline points="651.1,981.4 652.3,984.2" stroke="#0020ff"/><polyline points="652.3,984.2 652.5,986.5" stroke="#001fff"/><polyline points="652.5,986.5 653.6,987.5" stroke="#001dff"/><polyline points="653.6,987.5 655.3,989" stroke="#001bff"/><polyline points="655.3,989 656.5,991.2" stroke="#001aff"/><polyline points="656.5,991.2 658.1,993.4" stroke="#0017ff"/><polyline points="658.1,993.4 660,995.6" stroke="#0015ff"/><polyline points="660,995.6 660.7,998.7" stroke="#0013ff"/><polyline points="660.7,998.7 661.5,998.4" stroke="#0011ff"/><polyline points="661.5,998.4 664.4,1002.5" stroke="#000fff"/><polyline points="664.4,1002.5 665.3,1003.9" stroke="#000dff"/><polyline points="665.3,1003.9 666.3,1006.7" stroke="#000bff"/><polyline points="666.3,1006.7 669,1007.9" stroke="#0009ff"/><polyline points="669,1007.9 670.1,1009.7" stroke="#0007ff"/><polyline points="670.1,1009.7 670.9,1011.3" stroke="#0005ff"/><polyline points="670.9,1011.3 673.6,1014" stroke="#0003ff"/><polyline points="673.6,1014 675.3,1013.9" stroke="#0001ff"/><polyline points="675.3,1013.9 677.2,1015.9" stroke="#0000fe"/><polyline points="677.2,1015.9 678.5,1018.2" stroke="#0000fc"/></g>
<g fill="none" stroke-width="2.9" stroke-linejoin="round" stroke-linecap="round"><polyline points="681.2,947.8 681.7,950.5" stroke="#0038ff"/><polyline points="681.7,950.5 683.4,950.8" stroke="#0036ff"/><polyline points="683.4,950.8 684.2,952.9" stroke="#0034ff"/><polyline points="684.2,952.9 684.5,956.6" stroke="#0032ff"/><polyline points="684.5,956.6 685.9,959.9" stroke="#0030ff"/><polyline points="685.9,959.9 685.9,961.5" stroke="#002eff"/><polyline points="685.9,961.5 687.3,962.8" stroke="#002cff"/><polyline points="687.3,962.8 688,965.6" stroke="#002aff"/><polyline points="688,965.6 687.6,967.7" stroke="#0028ff"/><polyline points="687.6,967.7 688.5,968.2" stroke="#0026ff"/><polyline points="688.5,968.2 690.2,973.2" stroke="#0024ff"/><polyline points="690.2,973.2 691.6,973" stroke="#0022ff"/><polyline points="691.6,973 690.9,975.6" stroke="#0021ff"/><polyline points="690.9,975.6 692.2,978.3" stroke="#001fff"/><polyline points="692.2,978.3 692.8,979.8" stroke="#001eff"/><polyline points="692.8,979.8 694.5,982.7" stroke="#001cff"/><polyline points="694.5,982.7 695.5,986.3" stroke="#001bff"/><polyline points="695.5,986.3 695.4,987.7" stroke="#001aff"/><polyline points="695.4,987.7 697.8,987.8" stroke="#0017ff"/><polyline points="697.8,987.8 698.7,991.7" stroke="#0014ff"/><polyline points="698.7,991.7 699.6,992.9" stroke="#0011ff"/><polyline points="699.6,992.9 700.7,994.3" stroke="#000eff"/><polyline points="700.7,994.3 701.9,998.7" stroke="#000bff"/><polyline points="701.9,998.7 702.6,1000" stroke="#0008ff"/><polyline points="702.6,1000 704.1,1001.1" stroke="#0005ff"/><polyline points="704.1,1001.1 705.6,1004" stroke="#0003ff"/><polyline points="705.6,1004 708.2,1003.5" stroke="#0000ff"/><polyline points="708.2,1003.5 709.2,1007.2" stroke="#0000fc"/><polyline points="709.2,1007.2 710.8,1008.7" stroke="#0000fa"/><polyline points="710.8,1008.7 712.2,1008" stroke="#0000f7"/><polyline points="712.2,1008 715.2,1010.4" stroke="#0000f5"/><polyline points="715.2,1010.4 717.2,1011.5" stroke="#0000f2"/><polyline points="717.2,1011.5 717.3,1015.5" stroke="#0000f0"/><polyline points="717.3,1015.5 717.5,1015.8" stroke="#0000ed"/><polyline points="717.5,1015.8 719.3,1018.6" stroke="#0000eb"/><polyline points="719.3,1018.6 720.3,1021.8" stroke="#0000e9"/><polyline points="720.3,1021.8 720.2,1022.8" stroke="#0000e7"/><polyline points="720.2,1022.8 721.9,1024.9" stroke="#0000e4"/><polyline points="721.9,1024.9 723.4,1028.9" stroke="#0000e2"/><polyline points="723.4,1028.9 724.4,1030.2" stroke="#0000e0"/><polyline points="724.4,1030.2 724.4,1032.3" stroke="#0000de"/><polyline points="724.4,1032.3 725.4,1035.5" stroke="#0000db"/><polyline points="725.4,1035.5 725.4,1037.8" stroke="#0000d8"/><polyline points="725.4,1037.8 727.5,1038.6" stroke="#0000d5"/><polyline points="727.5,1038.6 727.1,1040.3" stroke="#0000d3"/><polyline points="727.1,1040.3 727.8,1043.9" stroke="#0000d0"/><polyline points="727.8,1043.9 729.6,1045.2" stroke="#0000cd"/><polyline points="729.6,1045.2 729.8,1047.8" stroke="#0000ca"/><polyline points="729.8,1047.8 731.6,1049.4" stroke="#0000c7"/><polyline points="731.6,1049.4 733.2,1050.4" stroke="#0000c5"/><polyline points="733.2,1050.4 735.7,1053.4" stroke="#0000c4"/><polyline points="735.7,1053.4 738.3,1052.6" stroke="#0000c3"/><polyline points="738.3,1052.6 740.1,1054.8" stroke="#0000c1"/><polyline points="740.1,1054.8 742.2,1055.1" stroke="#0000c0"/><polyline points="742.2,1055.1 743.5,1057.5" stroke="#0000be"/></g>
<g fill="none" stroke-width="2.7" stroke-linejoin="round" stroke-linecap="round"><polyline points="697.5,950.5 698.1,952.2" stroke="#002eff"/><polyline points="698.1,952.2 698.4,955.1" stroke="#002cff"/><polyline points="698.4,955.1 699.9,956" stroke="#002bff"/><polyline points="699.9,956 700.4,958.3" stroke="#0029ff"/><polyline points="700.4,958.3 701.9,961.5" stroke="#0027ff"/><polyline points="701.9,961.5 702.6,963.1" stroke="#0025ff"/><polyline points="702.6,963.1 703.6,963.6" stroke="#0024ff"/><polyline points="703.6,963.6 704.1,966.8" stroke="#0022ff"/><polyline points="704.1,966.8 705.6,970.1" stroke="#0020ff"/><polyline points="705.6,970.1 707.1,969.5" stroke="#001fff"/><polyline points="707.1,969.5 706.9,973.3" stroke="#001dff"/><polyline points="706.9,973.3 707.7,974.4" stroke="#001bff"/><polyline points="707.7,974.4 709.6,977.7" stroke="#001aff"/><polyline points="709.6,977.7 709.5,979.1" stroke="#0018ff"/><polyline points="709.5,979.1 710.6,980.6" stroke="#0017ff"/><polyline points="710.6,980.6 712.5,983.3" stroke="#0016ff"/><polyline points="712.5,983.3 712.7,986.6" stroke="#0014ff"/><polyline points="712.7,986.6 713.7,987.6" stroke="#0013ff"/><polyline points="713.7,987.6 715.6,988.9" stroke="#0012ff"/><polyline points="715.6,988.9 716.4,991.2" stroke="#0011ff"/></g>
<g fill="none" stroke-width="2.5" stroke-linejoin="round" stroke-linecap="round"><polyline points="716.4,928.9 717.5,931" stroke="#004dff"/><polyline points="717.5,931 719.4,932.2" stroke="#004aff"/><polyline points="719.4,932.2 719.8,936.3" stroke="#0047ff"/><polyline points="719.8,936.3 722.5,935.8" stroke="#0045ff"/><polyline points="722.5,935.8 723.2,938" stroke="#0042ff"/><polyline points="723.2,938 723.8,940.4" stroke="#0040ff"/><polyline points="723.8,940.4 725.2,943.8" stroke="#003dff"/><polyline points="725.2,943.8 727.2,944" stroke="#003bff"/><polyline points="727.2,944 729.6,946.8" stroke="#0038ff"/><polyline points="729.6,946.8 730.5,948.5" stroke="#0037ff"/><polyline points="730.5,948.5 731.7,950.6" stroke="#0036ff"/><polyline points="731.7,950.6 733.7,951.5" stroke="#0035ff"/><polyline points="733.7,951.5 735.1,953.5" stroke="#0034ff"/><polyline points="735.1,953.5 736,956.5" stroke="#0032ff"/><polyline points="736,956.5 737.6,958.5" stroke="#0031ff"/><polyline points="737.6,958.5 738.9,960.4" stroke="#0030ff"/><polyline points="738.9,960.4 740.8,961.4" stroke="#002fff"/></g>
<g fill="none" stroke-width="2.7" stroke-linejoin="round" stroke-linecap="round"><polyline points="770.5,901.8 771.4,903.7" stroke="#004dff"/><polyline points="771.4,903.7 771.3,906.2" stroke="#004aff"/><polyline points="771.3,906.2 772.3,907.7" stroke="#0048ff"/><polyline points="772.3,907.7 772.4,910" stroke="#0046ff"/><polyline points="772.4,910 772.9,913.3" stroke="#0044ff"/><polyline points="772.9,913.3 773.9,914.4" stroke="#0042ff"/><polyline points="773.9,914.4 774.9,917.3" stroke="#003fff"/><polyline points="774.9,917.3 775.9,920" stroke="#003dff"/><polyline points="775.9,920 776.6,921.6" stroke="#003bff"/><polyline points="776.6,921.6 776.6,924.4" stroke="#0039ff"/><polyline points="776.6,924.4 776.9,925.4" stroke="#0037ff"/><polyline points="776.9,925.4 777.4,925.9" stroke="#0034ff"/><polyline points="777.4,925.9 777.2,929.2" stroke="#0032ff"/><polyline points="777.2,929.2 778.8,931.8" stroke="#0030ff"/><polyline points="778.8,931.8 779.1,934.5" stroke="#002eff"/><polyline points="779.1,934.5 780.8,935.7" stroke="#002bff"/><polyline points="780.8,935.7 781.4,939.7" stroke="#0027ff"/></g>
<g fill="none" stroke-width="2.9" stroke-linejoin="round" stroke-linecap="round"><polyline points="781.4,901.8 783,904.8" stroke="#0038ff"/><polyline points="783,904.8 783.7,906.4" stroke="#0036ff"/><polyline points="783.7,906.4 784.4,909" stroke="#0034ff"/><polyline points="784.4,909 785.2,909.8" stroke="#0031ff"/><polyline points="785.2,909.8 785.7,910.5" stroke="#002fff"/><polyline points="785.7,910.5 786.4,914.3" stroke="#002dff"/><polyline points="786.4,914.3 788,917.1" stroke="#002aff"/><polyline points="788,917.1 788.4,918.1" stroke="#0028ff"/><polyline points="788.4,918.1 789.3,920.9" stroke="#0026ff"/><polyline points="789.3,920.9 791.1,921.2" stroke="#0024ff"/><polyline points="791.1,921.2 791.8,925.5" stroke="#0021ff"/><polyline points="791.8,925.5 794.1,926.9" stroke="#001eff"/><polyline points="794.1,926.9 795,927.6" stroke="#001bff"/><polyline points="795,927.6 794.8,930.5" stroke="#0018ff"/><polyline points="794.8,930.5 796.9,931.1" stroke="#0015ff"/><polyline points="796.9,931.1 797.5,933.5" stroke="#0012ff"/><polyline points="797.5,933.5 798.8,935.4" stroke="#000fff"/><polyline points="798.8,935.4 799,939.6" stroke="#000dff"/><polyline points="799,939.6 799.2,939.9" stroke="#000bff"/><polyline points="799.2,939.9 801.2,941.8" stroke="#0009ff"/><polyline points="801.2,941.8 801.5,944.1" stroke="#0007ff"/><polyline points="801.5,944.1 801.7,946.6" stroke="#0005ff"/><polyline points="801.7,946.6 803.2,950.2" stroke="#0003ff"/><polyline points="803.2,950.2 803.4,951.7" stroke="#0001ff"/><polyline points="803.4,951.7 804.9,952.7" stroke="#0000fe"/><polyline points="804.9,952.7 805.3,955.1" stroke="#0000fc"/><polyline points="805.3,955.1 806.4,957.8" stroke="#0000fa"/><polyline points="806.4,957.8 805.7,959.5" stroke="#0000f9"/><polyline points="805.7,959.5 806.2,963.4" stroke="#0000f7"/><polyline points="806.2,963.4 806,964.3" stroke="#0000f6"/><polyline points="806,964.3 806.5,968.8" stroke="#0000f5"/><polyline points="806.5,968.8 807.5,969.3" stroke="#0000f4"/><polyline points="807.5,969.3 807.8,972.7" stroke="#0000f2"/><polyline points="807.8,972.7 808.1,974.1" stroke="#0000f1"/><polyline points="808.1,974.1 807.6,978.7" stroke="#0000f0"/><polyline points="807.6,978.7 807.9,979.4" stroke="#0000ef"/><polyline points="807.9,979.4 809.6,981.3" stroke="#0000ed"/><polyline points="809.6,981.3 809.5,985.9" stroke="#0000ec"/><polyline points="809.5,985.9 810.6,986.6" stroke="#0000eb"/><polyline points="810.6,986.6 809.3,988.1" stroke="#0000ea"/><polyline points="809.3,988.1 811.2,992.9" stroke="#0000e9"/><polyline points="811.2,992.9 811.5,994.4" stroke="#0000e8"/><polyline points="811.5,994.4 811.2,996.6" stroke="#0000e7"/></g>
<g fill="none" stroke-width="2.9" stroke-linejoin="round" stroke-linecap="round"><polyline points="813.9,918.1 813.9,920.1" stroke="#0024ff"/><polyline points="813.9,920.1 814.3,924" stroke="#0022ff"/><polyline points="814.3,924 815.9,926.2" stroke="#0020ff"/><polyline points="815.9,926.2 815.4,926.9" stroke="#001eff"/><polyline points="815.4,926.9 816.9,928.7" stroke="#001cff"/><polyline points="816.9,928.7 817.2,931.3" stroke="#001aff"/><polyline points="817.2,931.3 817.8,932.4" stroke="#0019ff"/><polyline points="817.8,932.4 817.7,934.9" stroke="#0017ff"/><polyline points="817.7,934.9 818.4,938.6" stroke="#0015ff"/><polyline points="818.4,938.6 818,939.3" stroke="#0013ff"/><polyline points="818,939.3 818.6,943" stroke="#0011ff"/><polyline points="818.6,943 819.1,943.6" stroke="#000fff"/><polyline points="819.1,943.6 819.8,946.1" stroke="#000dff"/><polyline points="819.8,946.1 821.2,949.7" stroke="#000aff"/><polyline points="821.2,949.7 821.4,952.6" stroke="#0008ff"/><polyline points="821.4,952.6 822.6,952.3" stroke="#0005ff"/><polyline points="822.6,952.3 823.1,955" stroke="#0003ff"/><polyline points="823.1,955 824.2,958.4" stroke="#0000ff"/><polyline points="824.2,958.4 825,961.1" stroke="#0000fc"/><polyline points="825,961.1 826.2,961.5" stroke="#0000fa"/><polyline points="826.2,961.5 826.6,964.8" stroke="#0000f7"/><polyline points="826.6,964.8 826.4,966.3" stroke="#0000f5"/><polyline points="826.4,966.3 827.8,969" stroke="#0000f2"/><polyline points="827.8,969 827.3,973.1" stroke="#0000f0"/><polyline points="827.3,973.1 829.3,975.3" stroke="#0000ed"/><polyline points="829.3,975.3 829.1,976" stroke="#0000ea"/><polyline points="829.1,976 830.3,978.3" stroke="#0000e7"/><polyline points="830.3,978.3 831.1,982.1" stroke="#0000e4"/><polyline points="831.1,982.1 832.1,983" stroke="#0000e1"/><polyline points="832.1,983 832.6,986.1" stroke="#0000de"/><polyline points="832.6,986.1 835.8,985" stroke="#0000db"/><polyline points="835.8,985 836.5,987.4" stroke="#0000d9"/><polyline points="836.5,987.4 839.3,988.8" stroke="#0000d7"/><polyline points="839.3,988.8 841.5,988" stroke="#0000d5"/><polyline points="841.5,988 843.9,988.7" stroke="#0000d3"/><polyline points="843.9,988.7 845.2,986.8 845.5,982.9 846.7,980.3 846.5,981.8" stroke="#0000d1"/><polyline points="846.5,981.8 847.2,984.9" stroke="#0000cf"/><polyline points="847.2,984.9 847,986" stroke="#0000ce"/><polyline points="847,986 847.5,989.4" stroke="#0000cc"/><polyline points="847.5,989.4 849,991.9" stroke="#0000ca"/><polyline points="849,991.9 849,993.9" stroke="#0000c9"/></g>
<g fill="none" stroke-width="2.5" stroke-linejoin="round" stroke-linecap="round"><polyline points="794.9,866.6 795.2,868.6" stroke="#0061ff"/><polyline points="795.2,868.6 796.6,872.2" stroke="#005fff"/><polyline points="796.6,872.2 797.1,873.3" stroke="#005dff"/><polyline points="797.1,873.3 798,876.6" stroke="#005bff"/><polyline points="798,876.6 798.1,878.7" stroke="#0059ff"/><polyline points="798.1,878.7 799.7,879.5" stroke="#0057ff"/><polyline points="799.7,879.5 800.9,881.6" stroke="#0055ff"/><polyline points="800.9,881.6 800.6,882.8" stroke="#0053ff"/><polyline points="800.6,882.8 801.6,885.7" stroke="#0051ff"/><polyline points="801.6,885.7 803,888.3" stroke="#004fff"/></g>
<g fill="none" stroke-width="2.5" stroke-linejoin="round" stroke-linecap="round"><polyline points="827.4,869.3 829.4,871.3" stroke="#0061ff"/><polyline points="829.4,871.3 829.3,874.3" stroke="#005fff"/><polyline points="829.3,874.3 831.8,874.3" stroke="#005eff"/><polyline points="831.8,874.3 833.1,878.1" stroke="#005cff"/><polyline points="833.1,878.1 834.1,881" stroke="#005aff"/><polyline points="834.1,881 835,880.5" stroke="#0058ff"/><polyline points="835,880.5 836.6,883.7" stroke="#0057ff"/><polyline points="836.6,883.7 836.9,886.2" stroke="#0055ff"/><polyline points="836.9,886.2 837.8,886.8" stroke="#0054ff"/><polyline points="837.8,886.8 839.2,889.1" stroke="#0052ff"/><polyline points="839.2,889.1 840.6,893.2" stroke="#0051ff"/><polyline points="840.6,893.2 841.9,895.7" stroke="#004fff"/><polyline points="841.9,895.7 843.6,896.4" stroke="#004eff"/></g>
<g fill="none" stroke-width="2.9" stroke-linejoin="round" stroke-linecap="round"><polyline points="884.2,866.6 885.5,868.8" stroke="#0038ff"/><polyline points="885.5,868.8 886.5,869.9" stroke="#0036ff"/><polyline points="886.5,869.9 886.6,873.5" stroke="#0034ff"/><polyline points="886.6,873.5 888.3,876.2" stroke="#0032ff"/><polyline points="888.3,876.2 888.2,878.1" stroke="#0030ff"/><polyline points="888.2,878.1 889.9,880.7" stroke="#002eff"/><polyline points="889.9,880.7 890.5,882.6" stroke="#002cff"/><polyline points="890.5,882.6 890,883.8" stroke="#002aff"/><polyline points="890,883.8 891.6,885.7" stroke="#0028ff"/><polyline points="891.6,885.7 892.8,888.3" stroke="#0026ff"/><polyline points="892.8,888.3 892,891.2" stroke="#0024ff"/><polyline points="892,891.2 894.2,893" stroke="#0022ff"/><polyline points="894.2,893 893.2,895" stroke="#0020ff"/><polyline points="893.2,895 895.2,896" stroke="#001eff"/><polyline points="895.2,896 894.8,898.7" stroke="#001cff"/><polyline points="894.8,898.7 894.7,902.6" stroke="#001aff"/><polyline points="894.7,902.6 896.7,902.9" stroke="#0018ff"/><polyline points="896.7,902.9 895.8,906.7" stroke="#0016ff"/><polyline points="895.8,906.7 896.8,909.5" stroke="#0014ff"/><polyline points="896.8,909.5 898.3,910.8" stroke="#0012ff"/><polyline points="898.3,910.8 898.3,913.4" stroke="#0011ff"/><polyline points="898.3,913.4 898.8,916" stroke="#000fff"/><polyline points="898.8,916 898.2,916.4" stroke="#000dff"/><polyline points="898.2,916.4 898.9,919.4" stroke="#000bff"/><polyline points="898.9,919.4 899.9,920.5" stroke="#0009ff"/><polyline points="899.9,920.5 900.1,923.9" stroke="#0007ff"/><polyline points="900.1,923.9 901.7,924.4" stroke="#0005ff"/><polyline points="901.7,924.4 902.9,926.6" stroke="#0003ff"/><polyline points="902.9,926.6 905,928.2" stroke="#0000ff"/><polyline points="905,928.2 905,932.3" stroke="#0000fc"/><polyline points="905,932.3 906.9,934.4" stroke="#0000fa"/><polyline points="906.9,934.4 907.9,936.5" stroke="#0000f7"/><polyline points="907.9,936.5 909.9,937.7" stroke="#0000f5"/><polyline points="909.9,937.7 911.3,939.7" stroke="#0000f2"/></g>
<g fill="none" stroke-width="2.9" stroke-linejoin="round" stroke-linecap="round"><polyline points="914,901.8 914.5,903.8" stroke="#001aff"/><polyline points="914.5,903.8 914.7,906" stroke="#0017ff"/><polyline points="914.7,906 915.4,910.1" stroke="#0014ff"/><polyline points="915.4,910.1 916.1,911.6" stroke="#0012ff"/><polyline points="916.1,911.6 918.1,912.7" stroke="#000fff"/><polyline points="918.1,912.7 918.3,915" stroke="#000dff"/><polyline points="918.3,915 919.2,916.2" stroke="#000aff"/><polyline points="919.2,916.2 918.9,920.5" stroke="#0008ff"/><polyline points="918.9,920.5 919.3,921.4" stroke="#0005ff"/><polyline points="919.3,921.4 921.6,924.7" stroke="#0003ff"/><polyline points="921.6,924.7 921.9,927" stroke="#0000ff"/><polyline points="921.9,927 922.5,927.5" stroke="#0000fc"/><polyline points="922.5,927.5 922.8,930.5" stroke="#0000fa"/><polyline points="922.8,930.5 922.6,934.4" stroke="#0000f8"/><polyline points="922.6,934.4 923.4,935.2" stroke="#0000f6"/><polyline points="923.4,935.2 923.9,936.6" stroke="#0000f4"/><polyline points="923.9,936.6 923.6,940.8" stroke="#0000f3"/><polyline points="923.6,940.8 925.4,942.5" stroke="#0000f1"/><polyline points="925.4,942.5 925.3,943.5" stroke="#0000ef"/><polyline points="925.3,943.5 926,945.8" stroke="#0000ed"/><polyline points="926,945.8 926.8,948.3" stroke="#0000ec"/><polyline points="926.8,948.3 927,951.5" stroke="#0000ea"/><polyline points="927,951.5 927.4,952.1" stroke="#0000e8"/><polyline points="927.4,952.1 928.2,956.3" stroke="#0000e6"/><polyline points="928.2,956.3 927.6,958.2" stroke="#0000e4"/><polyline points="927.6,958.2 928.8,960.1" stroke="#0000e3"/><polyline points="928.8,960.1 930.2,963.8" stroke="#0000e1"/><polyline points="930.2,963.8 928.9,963.7" stroke="#0000df"/><polyline points="928.9,963.7 930.3,966.8" stroke="#0000dd"/></g>
<g fill="none" stroke-width="2.5" stroke-linejoin="round" stroke-linecap="round"><polyline points="862.6,828.7 863.3,830.7" stroke="#0075ff"/><polyline points="863.3,830.7 864.7,831.4" stroke="#0073ff"/><polyline points="864.7,831.4 865.3,833.3" stroke="#0070ff"/><polyline points="865.3,833.3 867.1,835.7" stroke="#006eff"/><polyline points="867.1,835.7 868,839" stroke="#006bff"/><polyline points="868,839 869.5,842.1" stroke="#0069ff"/><polyline points="869.5,842.1 868.9,841.6" stroke="#0066ff"/><polyline points="868.9,841.6 870.7,846.4" stroke="#0063ff"/><polyline points="870.7,846.4 871.4,847.1" stroke="#0061ff"/><polyline points="871.4,847.1 873.4,847.6" stroke="#005eff"/><polyline points="873.4,847.6 875.2,852.5" stroke="#005cff"/><polyline points="875.2,852.5 877,851.8" stroke="#0059ff"/><polyline points="877,851.8 877.6,855.4" stroke="#0057ff"/><polyline points="877.6,855.4 878.3,858.1" stroke="#0054ff"/><polyline points="878.3,858.1 881,860.1" stroke="#0052ff"/><polyline points="881,860.1 881.5,861.2" stroke="#004fff"/></g>
<g fill="none" stroke-width="2.5" stroke-linejoin="round" stroke-linecap="round"><polyline points="935.7,842.3 937.2,845" stroke="#004dff"/><polyline points="937.2,845 938.4,847.7" stroke="#004aff"/><polyline points="938.4,847.7 940.2,848.3" stroke="#0048ff"/><polyline points="940.2,848.3 941.2,851" stroke="#0046ff"/><polyline points="941.2,851 941.1,854.1" stroke="#0043ff"/><polyline points="941.1,854.1 943.1,856.3" stroke="#0041ff"/><polyline points="943.1,856.3 944.5,857.4" stroke="#003fff"/><polyline points="944.5,857.4 944.7,859" stroke="#003dff"/><polyline points="944.7,859 946.5,859.7" stroke="#003aff"/><polyline points="946.5,859.7 947.1,864" stroke="#0038ff"/><polyline points="947.1,864 948.8,864.5" stroke="#0036ff"/><polyline points="948.8,864.5 950,867.6" stroke="#0033ff"/><polyline points="950,867.6 952,870" stroke="#0030ff"/></g>
<g fill="none" stroke-width="2.9" stroke-linejoin="round" stroke-linecap="round"><polyline points="977.9,841 977.9,844.4" stroke="#0024ff"/><polyline points="977.9,844.4 979.5,844.8" stroke="#0022ff"/><polyline points="979.5,844.8 979.7,848.3" stroke="#0020ff"/><polyline points="979.7,848.3 979.2,848.6" stroke="#001eff"/><polyline points="979.2,848.6 979.8,853.7" stroke="#001cff"/><polyline points="979.8,853.7 980.9,855.5" stroke="#001aff"/><polyline points="980.9,855.5 980.6,857.8" stroke="#0019ff"/><polyline points="980.6,857.8 981.5,857.7" stroke="#0017ff"/><polyline points="981.5,857.7 982.1,861.7" stroke="#0015ff"/><polyline points="982.1,861.7 983.2,864.4" stroke="#0013ff"/><polyline points="983.2,864.4 983.8,865.4" stroke="#0011ff"/><polyline points="983.8,865.4 984.2,868.4" stroke="#000fff"/><polyline points="984.2,868.4 983.4,870.7" stroke="#000dff"/><polyline points="983.4,870.7 983.9,873.2" stroke="#000cff"/><polyline points="983.9,873.2 985.4,875.5" stroke="#000aff"/><polyline points="985.4,875.5 985.2,878.2" stroke="#0008ff"/><polyline points="985.2,878.2 985.1,880" stroke="#0006ff"/><polyline points="985.1,880 985.8,881.4" stroke="#0004ff"/><polyline points="985.8,881.4 986.9,885.1" stroke="#0002ff"/><polyline points="986.9,885.1 987.1,885.8" stroke="#0000ff"/><polyline points="987.1,885.8 987.8,890.2" stroke="#0000fe"/><polyline points="987.8,890.2 987.4,891.9" stroke="#0000fc"/><polyline points="987.4,891.9 989,895.5" stroke="#0000fa"/><polyline points="989,895.5 988.9,896" stroke="#0000f8"/><polyline points="988.9,896 989.8,897.6" stroke="#0000f6"/><polyline points="989.8,897.6 989.3,901.8" stroke="#0000f4"/><polyline points="989.3,901.8 989.5,903.8" stroke="#0000f2"/><polyline points="989.5,903.8 990.9,905" stroke="#0000f1"/><polyline points="990.9,905 990.8,909" stroke="#0000ef"/><polyline points="990.8,909 991.7,909.2" stroke="#0000ed"/><polyline points="991.7,909.2 992.4,912.1" stroke="#0000eb"/><polyline points="992.4,912.1 991.8,915.2" stroke="#0000e9"/><polyline points="991.8,915.2 993.1,917.6" stroke="#0000e7"/><polyline points="993.1,917.6 993.5,919.3" stroke="#0000e6"/><polyline points="993.5,919.3 994.5,920.2" stroke="#0000e4"/><polyline points="994.5,920.2 994.8,925.1" stroke="#0000e2"/><polyline points="994.8,925.1 994.1,926.4" stroke="#0000e0"/><polyline points="994.1,926.4 996.2,929.6" stroke="#0000de"/><polyline points="996.2,929.6 995.9,930.1" stroke="#0000dc"/><polyline points="995.9,930.1 995.9,933" stroke="#0000da"/><polyline points="995.9,933 996.4,935.6" stroke="#0000d9"/><polyline points="996.4,935.6 996.6,939.3" stroke="#0000d7"/><polyline points="996.6,939.3 997.7,941.9" stroke="#0000d5"/><polyline points="997.7,941.9 998.2,942.7" stroke="#0000d3"/></g>
<g fill="none" stroke-width="2.7" stroke-linejoin="round" stroke-linecap="round"><polyline points="913.5,902 914,905.3" stroke="#000fff"/><polyline points="914,905.3 915.1,906.5" stroke="#000dff"/><polyline points="915.1,906.5 915.7,908.9" stroke="#000bff"/><polyline points="915.7,908.9 915.9,910.9" stroke="#000aff"/><polyline points="915.9,910.9 916.4,913.9" stroke="#0008ff"/><polyline points="916.4,913.9 917.3,915.1" stroke="#0006ff"/><polyline points="917.3,915.1 917.8,918.2" stroke="#0004ff"/><polyline points="917.8,918.2 919.3,920" stroke="#0002ff"/><polyline points="919.3,920 919,920.6" stroke="#0000ff"/><polyline points="919,920.6 919.2,923.5" stroke="#0000fd"/><polyline points="919.2,923.5 920.2,924.3" stroke="#0000fb"/><polyline points="920.2,924.3 921.4,927.5" stroke="#0000f9"/><polyline points="921.4,927.5 921.5,929.9" stroke="#0000f7"/><polyline points="921.5,929.9 922.1,932.5" stroke="#0000f5"/><polyline points="922.1,932.5 922.2,932.6" stroke="#0000f4"/><polyline points="922.2,932.6 923.8,936.4" stroke="#0000f2"/><polyline points="923.8,936.4 924.7,937.4" stroke="#0000f0"/><polyline points="924.7,937.4 924.9,940.3" stroke="#0000ee"/><polyline points="924.9,940.3 925.5,941.8" stroke="#0000ed"/><polyline points="925.5,941.8 924.9,944.9" stroke="#0000eb"/><polyline points="924.9,944.9 926.8,946.1" stroke="#0000ea"/><polyline points="926.8,946.1 926.7,948.1" stroke="#0000e8"/><polyline points="926.7,948.1 926.8,950.4" stroke="#0000e7"/><polyline points="926.8,950.4 927.8,951.9" stroke="#0000e6"/><polyline points="927.8,951.9 927.9,955.5" stroke="#0000e4"/><polyline points="927.9,955.5 927.7,959.2" stroke="#0000e3"/><polyline points="927.7,959.2 929.1,959" stroke="#0000e1"/><polyline points="929.1,959 928.8,963.2" stroke="#0000e0"/><polyline points="928.8,963.2 930.9,964.5" stroke="#0000de"/><polyline points="930.9,964.5 930.5,966.4" stroke="#0000dd"/></g>
<g fill="none" stroke-width="2.5" stroke-linejoin="round" stroke-linecap="round"><polyline points="900,919 900.2,920.3" stroke="#000fff"/><polyline points="900.2,920.3 902.6,923.8" stroke="#000dff"/><polyline points="902.6,923.8 903.3,926" stroke="#000bff"/><polyline points="903.3,926 904.5,928.3" stroke="#0009ff"/><polyline points="904.5,928.3 904.5,928.8" stroke="#0007ff"/><polyline points="904.5,928.8 906.3,932.1" stroke="#0005ff"/><polyline points="906.3,932.1 906.9,934.5" stroke="#0003ff"/><polyline points="906.9,934.5 907.9,935.9" stroke="#0001ff"/><polyline points="907.9,935.9 908.8,938.2" stroke="#0000fe"/><polyline points="908.8,938.2 910.2,939.3" stroke="#0000fc"/></g>
<g fill="none" stroke-width="2.5" stroke-linejoin="round" stroke-linecap="round"><polyline points="933.9,844.5 935,846.7" stroke="#004dff"/><polyline points="935,846.7 936.7,848" stroke="#004bff"/><polyline points="936.7,848 936.9,851.5" stroke="#0049ff"/><polyline points="936.9,851.5 938.3,851.2" stroke="#0047ff"/><polyline points="938.3,851.2 939.5,853.8" stroke="#0045ff"/><polyline points="939.5,853.8 940.4,855.9" stroke="#0043ff"/><polyline points="940.4,855.9 943.3,858.7" stroke="#0041ff"/><polyline points="943.3,858.7 943,859.5" stroke="#0040ff"/><polyline points="943,859.5 944.5,860.4" stroke="#003eff"/><polyline points="944.5,860.4 946.1,863.8" stroke="#003cff"/><polyline points="946.1,863.8 946.8,864" stroke="#003aff"/><polyline points="946.8,864 948.3,867.4" stroke="#0038ff"/><polyline points="948.3,867.4 951.2,868.2" stroke="#0036ff"/><polyline points="951.2,868.2 952.4,870" stroke="#0035ff"/><polyline points="952.4,870 953.8,871.6" stroke="#0033ff"/><polyline points="953.8,871.6 955.9,872.3" stroke="#0031ff"/><polyline points="955.9,872.3 957.5,873.4" stroke="#0030ff"/><polyline points="957.5,873.4 960.1,873.9" stroke="#002eff"/><polyline points="960.1,873.9 961.2,876" stroke="#002cff"/><polyline points="961.2,876 962,876.1" stroke="#002aff"/><polyline points="962,876.1 964.1,878.8" stroke="#0029ff"/><polyline points="964.1,878.8 965.5,880.2" stroke="#0027ff"/><polyline points="965.5,880.2 967.7,881.7" stroke="#0025ff"/></g>
<g fill="none" stroke-width="2.7" stroke-linejoin="round" stroke-linecap="round"><polyline points="1062.5,780.1 1064.6,783.3" stroke="#0038ff"/><polyline points="1064.6,783.3 1065,784.2" stroke="#0037ff"/><polyline points="1065,784.2 1067.3,786.8" stroke="#0035ff"/><polyline points="1067.3,786.8 1066.9,787" stroke="#0033ff"/><polyline points="1066.9,787 1069.5,788.8" stroke="#0032ff"/><polyline points="1069.5,788.8 1070.4,792.2" stroke="#0030ff"/><polyline points="1070.4,792.2 1072.2,792.9" stroke="#002fff"/><polyline points="1072.2,792.9 1073.1,795.5" stroke="#002dff"/><polyline points="1073.1,795.5 1073.6,795.2" stroke="#002cff"/><polyline points="1073.6,795.2 1076.3,797.2" stroke="#002aff"/><polyline points="1076.3,797.2 1077.3,798.7" stroke="#0028ff"/><polyline points="1077.3,798.7 1078.1,802.8" stroke="#0027ff"/><polyline points="1078.1,802.8 1078.9,804.3" stroke="#0025ff"/><polyline points="1078.9,804.3 1080.8,804.7" stroke="#0024ff"/><polyline points="1080.8,804.7 1082.9,807.7" stroke="#0022ff"/><polyline points="1082.9,807.7 1083.9,810.7" stroke="#0021ff"/><polyline points="1083.9,810.7 1084.9,811.7" stroke="#001fff"/><polyline points="1084.9,811.7 1086.5,812.7" stroke="#001dff"/><polyline points="1086.5,812.7 1087.1,814.2" stroke="#001cff"/><polyline points="1087.1,814.2 1089,817.7" stroke="#001aff"/><polyline points="1089,817.7 1090.3,817.6" stroke="#0019ff"/><polyline points="1090.3,817.6 1090.7,821" stroke="#0017ff"/><polyline points="1090.7,821 1093,822.5" stroke="#0016ff"/><polyline points="1093,822.5 1093.6,825.1" stroke="#0014ff"/><polyline points="1093.6,825.1 1095.1,825.5" stroke="#0012ff"/><polyline points="1095.1,825.5 1096.4,827.5" stroke="#0011ff"/></g>
<g fill="none" stroke-width="2.9" stroke-linejoin="round" stroke-linecap="round"><polyline points="1059.5,774.7 1061.6,775.3" stroke="#004dff"/><polyline points="1061.6,775.3 1062.2,779.9" stroke="#004aff"/><polyline points="1062.2,779.9 1063,779.7" stroke="#0047ff"/><polyline points="1063,779.7 1064.8,783.9" stroke="#0044ff"/><polyline points="1064.8,783.9 1064.8,784" stroke="#0041ff"/><polyline points="1064.8,784 1067.4,786.7" stroke="#003eff"/><polyline points="1067.4,786.7 1067.7,788.2" stroke="#003bff"/><polyline points="1067.7,788.2 1069.8,790.8" stroke="#0038ff"/><polyline points="1069.8,790.8 1070.8,792.5" stroke="#0036ff"/><polyline points="1070.8,792.5 1070.8,795.1" stroke="#0034ff"/><polyline points="1070.8,795.1 1072.3,797.6" stroke="#0031ff"/><polyline points="1072.3,797.6 1073.1,797.4" stroke="#002fff"/><polyline points="1073.1,797.4 1074.9,799.3" stroke="#002dff"/><polyline points="1074.9,799.3 1075.6,803.6" stroke="#002aff"/><polyline points="1075.6,803.6 1077.7,803.5" stroke="#0028ff"/><polyline points="1077.7,803.5 1078,807.3" stroke="#0026ff"/><polyline points="1078,807.3 1079.4,808" stroke="#0024ff"/><polyline points="1079.4,808 1080.6,812.1" stroke="#0021ff"/><polyline points="1080.6,812.1 1083.4,811.6" stroke="#001fff"/><polyline points="1083.4,811.6 1083.2,816" stroke="#001cff"/><polyline points="1083.2,816 1084.8,818.3" stroke="#001aff"/><polyline points="1084.8,818.3 1087,819.2" stroke="#0017ff"/><polyline points="1087,819.2 1088.5,821.4" stroke="#0015ff"/><polyline points="1088.5,821.4 1089.4,822.5" stroke="#0013ff"/><polyline points="1089.4,822.5 1091,824.7" stroke="#0011ff"/><polyline points="1091,824.7 1092.5,827.1" stroke="#000fff"/><polyline points="1092.5,827.1 1096.1,827.7" stroke="#000dff"/><polyline points="1096.1,827.7 1096.7,827.5" stroke="#000bff"/><polyline points="1096.7,827.5 1099.3,829.6" stroke="#0009ff"/><polyline points="1099.3,829.6 1102.2,828.7" stroke="#0007ff"/><polyline points="1102.2,828.7 1101.7,830.6" stroke="#0005ff"/><polyline points="1101.7,830.6 1102.4,834.6" stroke="#0003ff"/><polyline points="1102.4,834.6 1104.8,834.4" stroke="#0001ff"/><polyline points="1104.8,834.4 1105.7,836.4" stroke="#0000fe"/><polyline points="1105.7,836.4 1105.7,838.5" stroke="#0000fc"/><polyline points="1105.7,838.5 1106.7,841.2" stroke="#0000fa"/><polyline points="1106.7,841.2 1106.6,845.5" stroke="#0000f8"/><polyline points="1106.6,845.5 1108.2,847.9" stroke="#0000f7"/><polyline points="1108.2,847.9 1108.4,848.5" stroke="#0000f5"/><polyline points="1108.4,848.5 1109.2,852.2" stroke="#0000f3"/><polyline points="1109.2,852.2 1109.4,855.3" stroke="#0000f1"/><polyline points="1109.4,855.3 1110.6,856" stroke="#0000f0"/><polyline points="1110.6,856 1111.4,859.4" stroke="#0000ee"/><polyline points="1111.4,859.4 1111.5,861.4" stroke="#0000ec"/><polyline points="1111.5,861.4 1111.3,863.5" stroke="#0000eb"/><polyline points="1111.3,863.5 1112.6,866.3" stroke="#0000e9"/><polyline points="1112.6,866.3 1113.2,868.4" stroke="#0000e7"/></g>
<g fill="none" stroke-width="3.2" stroke-linejoin="round" stroke-linecap="round"><polyline points="1114.2,844.2 1115.9,846" stroke="#0000fa"/><polyline points="1115.9,846 1116.7,847.8" stroke="#0000f7"/><polyline points="1116.7,847.8 1118.2,852" stroke="#0000f5"/><polyline points="1118.2,852 1118.1,852.3" stroke="#0000f2"/><polyline points="1118.1,852.3 1118.6,853.3" stroke="#0000f0"/><polyline points="1118.6,853.3 1121,857.4" stroke="#0000ed"/><polyline points="1121,857.4 1122.3,857.6" stroke="#0000eb"/><polyline points="1122.3,857.6 1123.4,860.2" stroke="#0000e8"/><polyline points="1123.4,860.2 1125,861.6" stroke="#0000e6"/><polyline points="1125,861.6 1125.1,865.6" stroke="#0000e1"/><polyline points="1125.1,865.6 1127.2,867.1" stroke="#0000dd"/><polyline points="1127.2,867.1 1128.6,867.7" stroke="#0000d9"/><polyline points="1128.6,867.7 1130.2,869.2" stroke="#0000d5"/><polyline points="1130.2,869.2 1132.2,872" stroke="#0000d1"/><polyline points="1132.2,872 1133,873.6" stroke="#0000cf"/><polyline points="1133,873.6 1133.6,875.8" stroke="#0000cd"/><polyline points="1133.6,875.8 1134,877.4" stroke="#0000cb"/><polyline points="1134,877.4 1135.4,878.9" stroke="#0000c9"/><polyline points="1135.4,878.9 1136,883.5" stroke="#0000c7"/><polyline points="1136,883.5 1137.5,885.1" stroke="#0000c5"/><polyline points="1137.5,885.1 1138.3,884.9" stroke="#0000c2"/><polyline points="1138.3,884.9 1139.1,889.7" stroke="#0000c0"/><polyline points="1139.1,889.7 1140.2,891.8" stroke="#0000be"/><polyline points="1140.2,891.8 1141.2,891.2" stroke="#0000bc"/><polyline points="1141.2,891.2 1142.1,895.3" stroke="#0000b9"/><polyline points="1142.1,895.3 1142.3,896.8" stroke="#0000b7"/><polyline points="1142.3,896.8 1143.8,897.8" stroke="#0000b5"/><polyline points="1143.8,897.8 1146.1,900.9 1147.8,900.3 1150.4,904.2 1150.3,906" stroke="#0000b3"/><polyline points="1150.3,906 1150.8,907.6" stroke="#0000af"/><polyline points="1150.8,907.6 1152.8,910.2" stroke="#0000ac"/><polyline points="1152.8,910.2 1154.1,913.1 1156.1,913.8 1157.7,917.8 1159.5,918.9 1160.5,920" stroke="#0000a8"/></g>
<g fill="none" stroke-width="2.9" stroke-linejoin="round" stroke-linecap="round"><polyline points="1202.6,726.3 1203.1,727.5" stroke="#0038ff"/><polyline points="1203.1,727.5 1203.2,730.8" stroke="#0037ff"/><polyline points="1203.2,730.8 1203.5,733.5" stroke="#0035ff"/><polyline points="1203.5,733.5 1205.5,733.9" stroke="#0033ff"/><polyline points="1205.5,733.9 1204.4,738.6" stroke="#0032ff"/><polyline points="1204.4,738.6 1205.9,740.9" stroke="#0030ff"/><polyline points="1205.9,740.9 1206.3,741.4" stroke="#002fff"/><polyline points="1206.3,741.4 1206.7,744.9" stroke="#002dff"/><polyline points="1206.7,744.9 1207.2,747.1" stroke="#002cff"/><polyline points="1207.2,747.1 1207.3,748.6" stroke="#002aff"/><polyline points="1207.3,748.6 1208.1,751.6" stroke="#0028ff"/><polyline points="1208.1,751.6 1207.8,752.9" stroke="#0027ff"/><polyline points="1207.8,752.9 1208.3,755" stroke="#0025ff"/><polyline points="1208.3,755 1209.5,758" stroke="#0024ff"/><polyline points="1209.5,758 1210.2,759" stroke="#0022ff"/><polyline points="1210.2,759 1212.3,763" stroke="#0020ff"/><polyline points="1212.3,763 1213.4,763" stroke="#001fff"/><polyline points="1213.4,763 1213.8,766.9" stroke="#001dff"/><polyline points="1213.8,766.9 1216.2,768.6" stroke="#001bff"/><polyline points="1216.2,768.6 1215.2,770.3" stroke="#001aff"/><polyline points="1215.2,770.3 1215.8,773.7" stroke="#0018ff"/><polyline points="1215.8,773.7 1216.9,775.9" stroke="#0017ff"/><polyline points="1216.9,775.9 1217.9,778.2" stroke="#0015ff"/><polyline points="1217.9,778.2 1218.3,781.5" stroke="#0014ff"/><polyline points="1218.3,781.5 1218.3,783.5" stroke="#0012ff"/><polyline points="1218.3,783.5 1219,786.4" stroke="#0011ff"/><polyline points="1219,786.4 1219.6,787" stroke="#000fff"/><polyline points="1219.6,787 1221.6,788" stroke="#000eff"/><polyline points="1221.6,788 1222,791.6" stroke="#000cff"/><polyline points="1222,791.6 1222.5,792.6" stroke="#000aff"/><polyline points="1222.5,792.6 1222.5,796.9" stroke="#0008ff"/><polyline points="1222.5,796.9 1223.5,797.3" stroke="#0007ff"/><polyline points="1223.5,797.3 1225.1,798.6" stroke="#0005ff"/><polyline points="1225.1,798.6 1225.9,803.6" stroke="#0003ff"/><polyline points="1225.9,803.6 1225.9,804.5" stroke="#0002ff"/><polyline points="1225.9,804.5 1226.3,807.8" stroke="#0000ff"/><polyline points="1226.3,807.8 1226.7,807.6" stroke="#0000fd"/><polyline points="1226.7,807.6 1228.2,810.9" stroke="#0000fc"/><polyline points="1228.2,810.9 1228.2,812.7" stroke="#0000fa"/><polyline points="1228.2,812.7 1230.2,814.6" stroke="#0000f7"/><polyline points="1230.2,814.6 1231.3,815.8" stroke="#0000f3"/><polyline points="1231.3,815.8 1232.6,818" stroke="#0000f0"/><polyline points="1232.6,818 1233.7,821.5" stroke="#0000ec"/><polyline points="1233.7,821.5 1233.3,823.9" stroke="#0000e9"/><polyline points="1233.3,823.9 1236.8,825.2" stroke="#0000e6"/><polyline points="1236.8,825.2 1238.8,825" stroke="#0000e2"/><polyline points="1238.8,825 1240.7,827" stroke="#0000df"/><polyline points="1240.7,827 1242.9,828.2" stroke="#0000db"/><polyline points="1242.9,828.2 1244.6,830.4" stroke="#0000d9"/><polyline points="1244.6,830.4 1245.1,831.5" stroke="#0000d7"/><polyline points="1245.1,831.5 1246.5,834.1" stroke="#0000d5"/><polyline points="1246.5,834.1 1249.4,835.1" stroke="#0000d3"/><polyline points="1249.4,835.1 1249.2,836.4" stroke="#0000d1"/><polyline points="1249.2,836.4 1251.6,839.5" stroke="#0000cf"/><polyline points="1251.6,839.5 1252.7,842.4" stroke="#0000cc"/><polyline points="1252.7,842.4 1252.8,844.8" stroke="#0000c9"/><polyline points="1252.8,844.8 1255,846.1" stroke="#0000c7"/><polyline points="1255,846.1 1256.8,846.8" stroke="#0000c5"/><polyline points="1256.8,846.8 1258.4,848.8" stroke="#0000c3"/><polyline points="1258.4,848.8 1260.1,851.3" stroke="#0000c1"/><polyline points="1260.1,851.3 1261.6,852.6" stroke="#0000bf"/></g>
<g fill="none" stroke-width="2.7" stroke-linejoin="round" stroke-linecap="round"><polyline points="1181.6,760 1182.6,762.4" stroke="#0024ff"/><polyline points="1182.6,762.4 1182.5,765" stroke="#0022ff"/><polyline points="1182.5,765 1183.3,766.9" stroke="#0021ff"/><polyline points="1183.3,766.9 1183.6,768" stroke="#001fff"/><polyline points="1183.6,768 1184.6,772" stroke="#001dff"/><polyline points="1184.6,772 1183.8,772.2" stroke="#001cff"/><polyline points="1183.8,772.2 1184.4,775.9" stroke="#001aff"/><polyline points="1184.4,775.9 1184.8,777.8" stroke="#0019ff"/><polyline points="1184.8,777.8 1186.1,781.4" stroke="#0017ff"/><polyline points="1186.1,781.4 1186.3,781.8" stroke="#0016ff"/><polyline points="1186.3,781.8 1187.6,786.2" stroke="#0014ff"/><polyline points="1187.6,786.2 1188.1,786.2" stroke="#0012ff"/><polyline points="1188.1,786.2 1188.8,790.9" stroke="#0011ff"/><polyline points="1188.8,790.9 1188.5,790.7" stroke="#000fff"/><polyline points="1188.5,790.7 1188.3,793.1" stroke="#000dff"/><polyline points="1188.3,793.1 1189.9,797" stroke="#000cff"/><polyline points="1189.9,797 1189.3,800.1" stroke="#000aff"/><polyline points="1189.3,800.1 1190.4,800.2" stroke="#0008ff"/><polyline points="1190.4,800.2 1190.1,802.2" stroke="#0006ff"/><polyline points="1190.1,802.2 1190.8,807" stroke="#0004ff"/><polyline points="1190.8,807 1191.7,808.1" stroke="#0002ff"/><polyline points="1191.7,808.1 1191.6,811.2" stroke="#0000ff"/><polyline points="1191.6,811.2 1192.5,812" stroke="#0000fe"/><polyline points="1192.5,812 1193.2,814.1" stroke="#0000fc"/><polyline points="1193.2,814.1 1193.3,816.5" stroke="#0000fa"/><polyline points="1193.3,816.5 1194.7,818.4" stroke="#0000f8"/><polyline points="1194.7,818.4 1194.2,820.4" stroke="#0000f7"/><polyline points="1194.2,820.4 1195.4,825.3" stroke="#0000f5"/><polyline points="1195.4,825.3 1195.8,827.2" stroke="#0000f4"/><polyline points="1195.8,827.2 1195.1,829.5" stroke="#0000f2"/><polyline points="1195.1,829.5 1195.8,830.8" stroke="#0000f0"/><polyline points="1195.8,830.8 1195.4,834.4" stroke="#0000ef"/><polyline points="1195.4,834.4 1196.3,836.6" stroke="#0000ed"/><polyline points="1196.3,836.6 1197.4,837.4" stroke="#0000ec"/><polyline points="1197.4,837.4 1196.9,840.2" stroke="#0000ea"/><polyline points="1196.9,840.2 1197.1,840.9" stroke="#0000e9"/><polyline points="1197.1,840.9 1198.4,844.2" stroke="#0000e7"/></g>
<g fill="none" stroke-width="2.7" stroke-linejoin="round" stroke-linecap="round"><polyline points="1219.5,726.3 1221.2,728.4" stroke="#004dff"/><polyline points="1221.2,728.4 1221.5,729.5" stroke="#004bff"/><polyline points="1221.5,729.5 1223.2,732.8" stroke="#0049ff"/><polyline points="1223.2,732.8 1224.4,734.8" stroke="#0047ff"/><polyline points="1224.4,734.8 1226.7,737" stroke="#0046ff"/><polyline points="1226.7,737 1228.7,740.5" stroke="#0044ff"/><polyline points="1228.7,740.5 1229.9,740.2" stroke="#0042ff"/><polyline points="1229.9,740.2 1231.2,740.6" stroke="#0041ff"/><polyline points="1231.2,740.6 1233.6,742.2" stroke="#003fff"/><polyline points="1233.6,742.2 1235.7,745.6" stroke="#003dff"/><polyline points="1235.7,745.6 1236.6,746" stroke="#003cff"/><polyline points="1236.6,746 1238.3,746.1" stroke="#003aff"/><polyline points="1238.3,746.1 1241,748.1" stroke="#0038ff"/><polyline points="1241,748.1 1242,750.8" stroke="#0036ff"/><polyline points="1242,750.8 1245.2,751.3" stroke="#0034ff"/><polyline points="1245.2,751.3 1246.7,751.1" stroke="#0032ff"/><polyline points="1246.7,751.1 1248.3,754.9" stroke="#0030ff"/><polyline points="1248.3,754.9 1249.1,755.3" stroke="#002eff"/><polyline points="1249.1,755.3 1251.6,759.3" stroke="#002bff"/><polyline points="1251.6,759.3 1251.3,759" stroke="#0029ff"/><polyline points="1251.3,759 1253.2,762.1" stroke="#0026ff"/></g>
<g fill="none" stroke-width="2.7" stroke-linejoin="round" stroke-linecap="round"><polyline points="1280.5,728.4 1282.1,729.9" stroke="#004dff"/><polyline points="1282.1,729.9 1282.6,732.6" stroke="#004aff"/><polyline points="1282.6,732.6 1283.9,736.7" stroke="#0048ff"/><polyline points="1283.9,736.7 1284.1,736.8" stroke="#0046ff"/><polyline points="1284.1,736.8 1285.4,741.3" stroke="#0044ff"/><polyline points="1285.4,741.3 1286.6,743" stroke="#0042ff"/><polyline points="1286.6,743 1288.7,744.4" stroke="#0040ff"/><polyline points="1288.7,744.4 1288.9,747" stroke="#003eff"/><polyline points="1288.9,747 1289.4,748" stroke="#003cff"/><polyline points="1289.4,748 1291,751.6" stroke="#003aff"/></g>
<g fill="none" stroke-width="2.5" stroke-linejoin="round" stroke-linecap="round"><polyline points="1162.6,760 1163.8,761.1" stroke="#004dff"/><polyline points="1163.8,761.1 1164.3,764.2" stroke="#004bff"/><polyline points="1164.3,764.2 1165.2,766" stroke="#004aff"/><polyline points="1165.2,766 1165.4,769.7" stroke="#0049ff"/><polyline points="1165.4,769.7 1166.5,771.3" stroke="#0047ff"/><polyline points="1166.5,771.3 1168.1,771.2" stroke="#0046ff"/><polyline points="1168.1,771.2 1168.4,774.3" stroke="#0045ff"/><polyline points="1168.4,774.3 1169.1,776.5" stroke="#0044ff"/><polyline points="1169.1,776.5 1170.1,779.3" stroke="#0042ff"/><polyline points="1170.1,779.3 1170.6,781.8" stroke="#0041ff"/><polyline points="1170.6,781.8 1173.3,782.9" stroke="#0040ff"/><polyline points="1173.3,782.9 1174.3,783.9" stroke="#003fff"/><polyline points="1174.3,783.9 1174.2,787" stroke="#003eff"/><polyline points="1174.2,787 1175.2,787" stroke="#003dff"/><polyline points="1175.2,787 1177.8,790.4" stroke="#003cff"/><polyline points="1177.8,790.4 1179.2,790.6" stroke="#003aff"/><polyline points="1179.2,790.6 1179.5,793.7" stroke="#0039ff"/></g>
<g fill="none" stroke-width="2.5" stroke-linejoin="round" stroke-linecap="round"><polyline points="1181.6,734.7 1182.2,736.2" stroke="#0061ff"/><polyline points="1182.2,736.2 1184.7,738.8" stroke="#005eff"/><polyline points="1184.7,738.8 1186.8,743.4" stroke="#005aff"/><polyline points="1186.8,743.4 1187.3,742.5" stroke="#0057ff"/><polyline points="1187.3,742.5 1190.1,744.8" stroke="#0055ff"/><polyline points="1190.1,744.8 1190.3,747.2" stroke="#0053ff"/><polyline points="1190.3,747.2 1193,747.1" stroke="#0051ff"/><polyline points="1193,747.1 1194.2,749.5" stroke="#004fff"/></g>
<g fill="none" stroke-width="2.5" stroke-linejoin="round" stroke-linecap="round"><polyline points="1040.5,800 1041.2,801.1" stroke="#002eff"/><polyline points="1041.2,801.1 1042.5,805.6" stroke="#002bff"/><polyline points="1042.5,805.6 1042.4,806.9" stroke="#0029ff"/><polyline points="1042.4,806.9 1043.1,809.7" stroke="#0026ff"/><polyline points="1043.1,809.7 1043,810.9" stroke="#0024ff"/><polyline points="1043,810.9 1043.8,814.6" stroke="#0021ff"/><polyline points="1043.8,814.6 1044,815" stroke="#001fff"/><polyline points="1044,815 1045.2,818.9" stroke="#001cff"/><polyline points="1045.2,818.9 1045.9,820.1" stroke="#001aff"/><polyline points="1045.9,820.1 1046.6,823.4" stroke="#0018ff"/><polyline points="1046.6,823.4 1046.3,824.2" stroke="#0017ff"/><polyline points="1046.3,824.2 1046.5,826.3" stroke="#0016ff"/><polyline points="1046.5,826.3 1047.5,829.2" stroke="#0014ff"/><polyline points="1047.5,829.2 1048.1,832.2" stroke="#0013ff"/><polyline points="1048.1,832.2 1048.7,832.3" stroke="#0012ff"/><polyline points="1048.7,832.3 1049,835.8" stroke="#0011ff"/></g>
<g fill="none" stroke-width="2.5" stroke-linejoin="round" stroke-linecap="round"><polyline points="1030,812.6 1031.7,814" stroke="#002eff"/><polyline points="1031.7,814 1033.2,818.2" stroke="#002cff"/><polyline points="1033.2,818.2 1033.8,818.9" stroke="#002aff"/><polyline points="1033.8,818.9 1034.2,820.9" stroke="#0028ff"/><polyline points="1034.2,820.9 1036.3,823.2" stroke="#0026ff"/></g>
<g fill="none" stroke-width="2.5" stroke-linejoin="round" stroke-linecap="round"><polyline points="1126.8,736.8 1127.6,737.5" stroke="#0075ff"/><polyline points="1127.6,737.5 1128.9,741.1" stroke="#0073ff"/><polyline points="1128.9,741.1 1129.1,741.9" stroke="#0071ff"/><polyline points="1129.1,741.9 1131.1,746.1" stroke="#006fff"/><polyline points="1131.1,746.1 1131.9,748.1" stroke="#006cff"/><polyline points="1131.9,748.1 1132.8,750.2" stroke="#006aff"/><polyline points="1132.8,750.2 1133.4,751.7" stroke="#0068ff"/><polyline points="1133.4,751.7 1133.7,754.9" stroke="#0065ff"/><polyline points="1133.7,754.9 1135.8,755.9" stroke="#0063ff"/><polyline points="1135.8,755.9 1135.4,756.7" stroke="#0061ff"/><polyline points="1135.4,756.7 1138.1,758.5" stroke="#005fff"/><polyline points="1138.1,758.5 1138,761.6" stroke="#005dff"/><polyline points="1138,761.6 1138.5,764.6" stroke="#005bff"/><polyline points="1138.5,764.6 1139.5,766.3" stroke="#0059ff"/><polyline points="1139.5,766.3 1141.4,767.4" stroke="#0058ff"/><polyline points="1141.4,767.4 1142.3,769.9" stroke="#0056ff"/><polyline points="1142.3,769.9 1143.6,772.5" stroke="#0054ff"/><polyline points="1143.6,772.5 1143.6,776.2" stroke="#0052ff"/><polyline points="1143.6,776.2 1144.3,778" stroke="#0050ff"/><polyline points="1144.3,778 1145.8,778.9" stroke="#004eff"/></g>
<g fill="none" stroke-width="2.3" stroke-linejoin="round" stroke-linecap="round"><polyline points="1099.5,787.4 1101.1,790.1" stroke="#004dff"/><polyline points="1101.1,790.1 1102.7,791" stroke="#004bff"/><polyline points="1102.7,791 1102.3,794" stroke="#004aff"/><polyline points="1102.3,794 1105,797.1" stroke="#0048ff"/><polyline points="1105,797.1 1104.9,799.1" stroke="#0047ff"/><polyline points="1104.9,799.1 1106.8,801.4" stroke="#0045ff"/><polyline points="1106.8,801.4 1107.9,802.1" stroke="#0044ff"/></g>
<g fill="none" stroke-width="2.3" stroke-linejoin="round" stroke-linecap="round"><polyline points="1086.8,747.4 1088.5,748.3" stroke="#0075ff"/><polyline points="1088.5,748.3 1089.1,751.6" stroke="#0074ff"/><polyline points="1089.1,751.6 1089.4,754.9" stroke="#0072ff"/><polyline points="1089.4,754.9 1089.8,755.6" stroke="#0071ff"/><polyline points="1089.8,755.6 1091.9,757.2" stroke="#006fff"/><polyline points="1091.9,757.2 1092.5,761.2" stroke="#006eff"/><polyline points="1092.5,761.2 1093.2,762.1" stroke="#006dff"/></g>
<g fill="none" stroke-width="2.3" stroke-linejoin="round" stroke-linecap="round"><polyline points="1059.5,760 1060.5,762.9" stroke="#0075ff"/><polyline points="1060.5,762.9 1062.2,762.9" stroke="#0073ff"/><polyline points="1062.2,762.9 1064.1,766.9" stroke="#0071ff"/><polyline points="1064.1,766.9 1064,768.9" stroke="#006fff"/><polyline points="1064,768.9 1065.7,768.8" stroke="#006dff"/><polyline points="1065.7,768.8 1066.5,771.8" stroke="#006bff"/><polyline points="1066.5,771.8 1068,774.1" stroke="#0069ff"/><polyline points="1068,774.1 1069.9,776.3" stroke="#0067ff"/><polyline points="1069.9,776.3 1070.4,775.6" stroke="#0065ff"/><polyline points="1070.4,775.6 1072.1,778.9" stroke="#0063ff"/></g>
<g fill="none" stroke-width="2.5" stroke-linejoin="round" stroke-linecap="round"><polyline points="1103.2,830.9 1104.4,834.6" stroke="#001aff"/><polyline points="1104.4,834.6 1104.2,836.2" stroke="#0017ff"/><polyline points="1104.2,836.2 1105.8,839.3" stroke="#0014ff"/><polyline points="1105.8,839.3 1104.7,839.4" stroke="#0012ff"/><polyline points="1104.7,839.4 1107.1,843.5" stroke="#000fff"/><polyline points="1107.1,843.5 1106.9,845.8" stroke="#000dff"/><polyline points="1106.9,845.8 1108,848.5" stroke="#000aff"/><polyline points="1108,848.5 1108,850.1" stroke="#0008ff"/><polyline points="1108,850.1 1108.2,852.2" stroke="#0005ff"/><polyline points="1108.2,852.2 1109.8,853.7" stroke="#0004ff"/><polyline points="1109.8,853.7 1109.7,856.8" stroke="#0003ff"/><polyline points="1109.7,856.8 1110.8,860.2" stroke="#0001ff"/><polyline points="1110.8,860.2 1111.4,860.9" stroke="#0000ff"/><polyline points="1111.4,860.9 1111.5,863.6" stroke="#0000fe"/><polyline points="1111.5,863.6 1112.2,866" stroke="#0000fc"/><polyline points="1112.2,866 1113.3,868.2" stroke="#0000fb"/></g>
<path d="M113 926L113 242 M113 926L627.2 1240.2 M627.2 1240.2L1296 999.7 M113 926L96.9 917.4 M113 857.6L96.9 849 M113 789.2L96.9 780.6 M113 720.8L96.9 712.2 M113 652.4L96.9 643.8 M113 584L96.9 575.4 M113 515.6L96.9 507 M113 447.2L96.9 438.6 M113 378.8L96.9 370.2 M113 310.4L96.9 301.8 M113 242L96.9 233.4 M113 926L95.7 932.2 M241.6 1004.5L224.2 1010.8 M370.1 1083.1L352.8 1089.3 M498.7 1161.7L481.4 1167.9 M627.2 1240.2L609.9 1246.4 M627.2 1240.2L641.7 1249.5 M761 1192.1L775.5 1201.4 M894.7 1144L909.2 1153.3 M1028.5 1095.9L1043 1105.2 M1162.2 1047.8L1176.7 1057.1 M1296 999.7L1310.5 1009" fill="none" stroke="#111" stroke-width="1.15"/>
<g font-family="Liberation Sans, sans-serif" font-size="26" fill="#000"><text x="87.5" y="238.9" text-anchor="end">100</text><text x="88.3" y="306.6" text-anchor="end">80</text><text x="88.3" y="375.8" text-anchor="end">60</text><text x="88.3" y="444.6" text-anchor="end">40</text><text x="88.3" y="512.3" text-anchor="end">20</text><text x="88.3" y="580.8" text-anchor="end">0</text><text x="87.5" y="650" text-anchor="end">-20</text><text x="87.5" y="718" text-anchor="end">-40</text><text x="87.5" y="787" text-anchor="end">-60</text><text x="87.5" y="855.5" text-anchor="end">-80</text><text x="87.5" y="923.3" text-anchor="end">-100</text><text x="86.2" y="960.8" text-anchor="end">0</text><text x="214.3" y="1038.4" text-anchor="end">5</text><text x="343.6" y="1117" text-anchor="end">10</text><text x="471.9" y="1196" text-anchor="end">15</text><text x="599.7" y="1274.3" text-anchor="end">20</text><text x="647.2" y="1277.8" text-anchor="start">1000</text><text x="782.6" y="1229.3" text-anchor="start">800</text><text x="916.6" y="1182.4" text-anchor="start">600</text><text x="1051" y="1134.2" text-anchor="start">400</text><text x="1183" y="1085.7" text-anchor="start">200</text><text x="1316.2" y="1036.8" text-anchor="start">0</text><text x="208" y="1276.7" text-anchor="start">Time (Sec)</text><text x="949.6" y="1294.6" text-anchor="start">Random Samplings</text><text transform="translate(19.2 622.4) rotate(-90)">States</text></g>
</svg>
</body></html>
